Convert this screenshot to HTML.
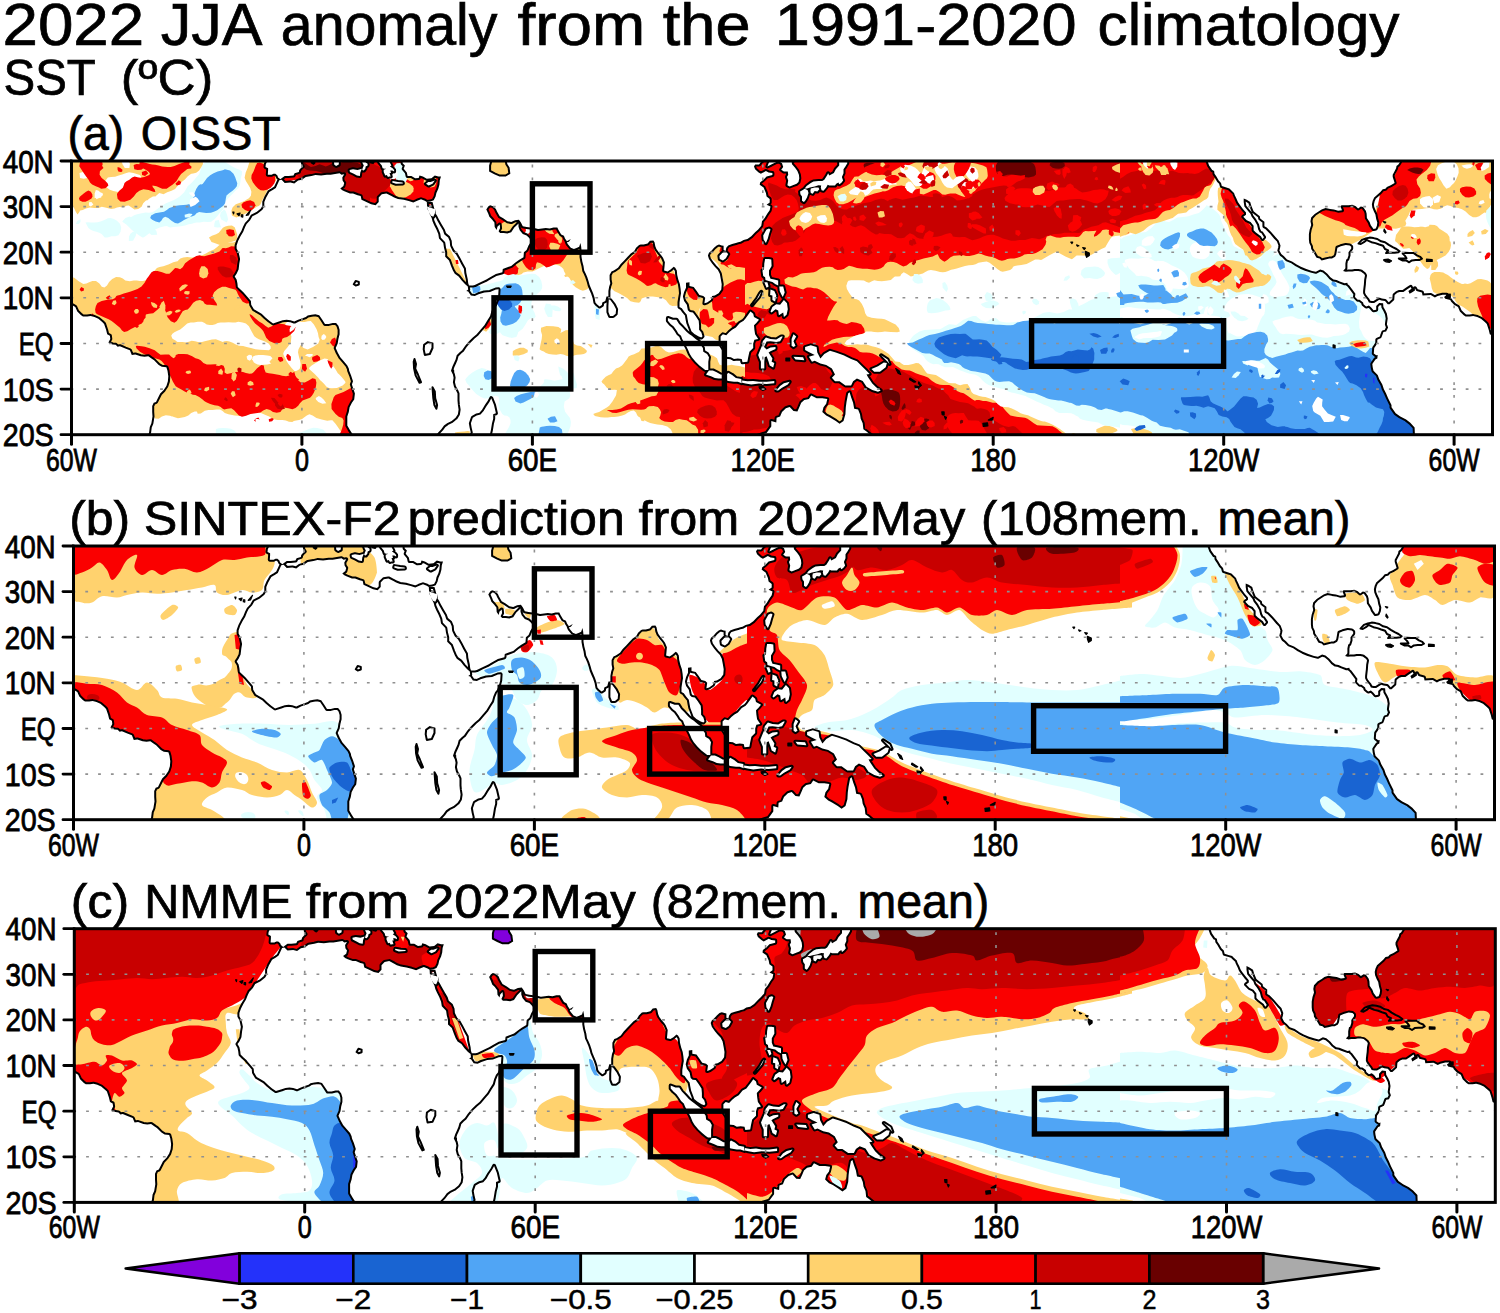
<!DOCTYPE html><html><head><meta charset="utf-8"><title>SST anomaly</title>
<style>html,body{margin:0;padding:0;background:#fff}svg{display:block}text{font-family:"Liberation Sans",sans-serif;fill:#000}</style></head><body>
<svg width="1500" height="1313" viewBox="0 0 1500 1313">
<rect width="1500" height="1313" fill="#fff"/>
<defs>
<clipPath id="cp"><rect x="0" y="0" width="1421.0" height="273.7"/></clipPath>
<path id="land" d="M-66.4,143.2L-64.5,143.2L-59.9,139.1L-59.5,134.1L-56.8,131.8L-54.5,130.9L-50.7,130.9L-46.9,128.2L-43.4,125.9L-42.6,127.7L-45.7,130.0L-44.6,132.7L-42.2,131.4L-39.2,129.6L-39.2,127.3L-37.6,130.0L-32.3,131.4L-31.5,134.6L-23.4,134.1L-19.2,136.4L-16.5,135.0L-11.5,133.7L-7.3,133.7L-10.0,135.9L-8.8,137.8L-3.8,139.1L-3.1,140.5L0.0,143.7L3.8,146.0L5.8,150.5L9.6,154.2L11.5,155.6L15.7,155.6L19.2,155.1L23.0,156.0L26.9,157.8L30.7,161.0L32.6,162.9L34.6,168.8L35.7,173.3L38.4,174.7L38.8,177.9L36.9,181.6L38.4,182.5L41.1,183.4L44.2,183.8L46.1,185.7L48.4,185.2L53.8,187.5L58.4,189.3L60.3,193.9L63.8,193.4L69.1,195.2L73.0,195.7L76.8,195.2L80.7,198.0L82.6,199.3L87.2,203.9L90.3,205.7L94.9,206.2L96.0,209.8L96.8,215.3L96.4,220.3L94.9,224.9L92.2,229.0L88.7,232.6L86.8,236.3L84.5,240.9L82.2,241.8L80.7,245.0L80.7,250.9L81.0,255.5L79.9,262.3L78.3,265.9L77.6,271.4L76.0,276.0L73.4,285.1L-39.2,285.1L-39.2,273.7L-39.6,266.4L-43.8,261.8L-48.0,258.6L-53.8,255.5L-58.4,252.3L-62.6,246.3L-62.6,244.0L-66.1,237.2L-68.0,232.6L-70.3,228.1L-71.8,223.5L-74.9,218.0L-76.4,213.9L-80.7,209.8L-81.4,206.2L-81.8,203.0L-78.7,198.4L-76.8,197.5L-76.4,193.9L-78.0,194.3L-80.3,192.5L-79.9,187.0L-78.3,184.7L-76.8,182.0L-76.8,178.8L-73.0,177.0L-72.2,175.2L-70.7,171.1L-68.0,170.6L-66.1,166.5L-67.2,163.3L-66.4,157.4L-67.2,152.8L-68.7,149.6L-70.7,146.0L-71.1,142.3L-74.9,141.9L-78.0,145.1L-78.0,148.7L-80.7,149.2L-83.0,146.4L-85.3,144.6L-87.9,145.5L-90.6,143.2L-91.0,141.4L-94.5,138.7L-96.4,138.7L-99.1,135.9L-98.7,132.7L-101.8,128.6L-104.8,124.5L-106.4,123.2L-106.8,121.8L-109.5,122.3L-114.4,120.4L-117.5,119.1L-120.6,118.6L-123.7,116.3L-126.7,112.7L-130.6,109.5L-134.0,108.6L-138.3,110.8L-142.1,109.9L-147.9,108.1L-153.2,105.8L-157.5,103.5L-162.1,100.4L-167.1,98.5L-170.1,95.3L-172.8,93.1L-174.7,89.4L-174.0,86.7L-173.6,84.4L-175.5,79.4L-178.2,76.6L-183.2,70.7L-187.4,66.6L-189.7,65.2L-189.7,60.7L-194.0,57.5L-194.3,55.2L-197.8,52.5L-200.5,50.2L-202.8,44.7L-203.9,41.1L-207.4,38.8L-210.5,37.4L-210.5,41.1L-209.7,45.6L-205.9,50.2L-203.6,52.9L-202.4,55.7L-199.7,59.3L-197.0,63.9L-195.9,68.4L-194.3,71.6L-192.8,72.1L-190.1,76.2L-191.6,78.0L-193.2,75.3L-198.6,71.2L-200.5,69.3L-200.5,64.8L-203.6,61.1L-207.4,59.3L-210.8,55.7L-208.2,53.8L-208.2,51.5L-211.2,47.9L-214.3,43.8L-216.2,41.1L-217.8,37.4L-219.3,34.2L-220.1,31.9L-223.9,28.3L-224.7,27.4L-227.7,26.5L-232.4,25.1L-233.1,21.9L-235.4,19.6L-237.7,15.5L-239.7,12.8L-240.0,10.0L-242.0,9.1L-245.0,4.6L-246.6,0.0L-247.0,-11.4L-38.4,-11.4L-41.1,-7.8L-44.2,-6.4L-48.0,-5.5L-53.4,-3.2L-53.8,-1.8L-54.2,0.9L-55.7,3.6L-57.6,5.0L-58.0,7.3L-59.9,10.9L-61.4,13.7L-61.4,16.0L-60.3,19.2L-59.5,21.9L-63.4,24.2L-67.2,26.0L-68.7,27.8L-71.4,28.3L-73.7,31.0L-76.8,33.8L-79.9,36.5L-81.4,39.7L-82.2,43.3L-81.8,46.5L-80.3,50.2L-78.7,53.4L-78.0,57.9L-76.8,61.6L-77.2,64.8L-78.3,67.5L-80.7,68.0L-83.3,64.3L-84.5,61.1L-87.2,57.0L-87.6,52.5L-88.3,49.7L-91.0,46.1L-93.3,45.6L-96.0,47.4L-98.3,45.2L-101.8,43.8L-105.6,44.2L-109.5,44.2L-112.5,44.2L-113.7,45.2L-112.1,49.3L-116.0,49.7L-120.2,48.4L-124.1,47.9L-128.7,47.0L-132.5,48.4L-135.2,50.2L-139.4,52.9L-142.9,56.6L-143.6,60.2L-142.9,63.9L-144.4,68.4L-145.2,73.0L-145.2,78.5L-144.8,82.1L-143.3,85.3L-142.9,88.0L-140.2,92.1L-138.6,94.9L-137.5,96.7L-134.4,97.6L-132.5,99.4L-128.7,98.5L-124.8,97.6L-122.1,97.6L-119.1,95.8L-117.9,93.5L-117.1,89.0L-116.8,86.7L-113.3,85.3L-108.3,83.9L-104.5,84.4L-102.9,85.8L-102.9,87.6L-105.6,91.2L-105.6,94.4L-106.8,98.1L-107.9,98.5L-108.7,102.6L-108.7,107.2L-111.0,109.9L-108.3,110.8L-105.6,110.4L-101.8,110.4L-99.1,109.9L-96.0,109.9L-93.3,110.4L-89.9,113.1L-89.1,114.5L-89.9,118.6L-90.3,123.2L-90.6,126.4L-91.0,130.0L-91.0,132.3L-89.9,134.6L-88.3,136.8L-86.4,139.1L-85.3,141.4L-82.6,141.9L-79.9,141.9L-76.8,140.0L-74.9,138.7L-72.6,139.6L-69.1,140.0L-66.8,142.8Z M1316.2,143.2L1318.1,143.2L1322.7,139.1L1323.1,134.1L1325.8,131.8L1328.1,130.9L1331.9,130.9L1335.8,128.2L1339.2,125.9L1340.0,127.7L1336.9,130.0L1338.1,132.7L1340.4,131.4L1343.4,129.6L1343.4,127.3L1345.0,130.0L1350.4,131.4L1351.1,134.6L1359.2,134.1L1363.4,136.4L1366.1,135.0L1371.1,133.7L1375.3,133.7L1372.6,135.9L1373.8,137.8L1378.8,139.1L1379.5,140.5L1382.6,143.7L1386.5,146.0L1388.4,150.5L1392.2,154.2L1394.1,155.6L1398.4,155.6L1401.8,155.1L1405.7,156.0L1409.5,157.8L1413.3,161.0L1415.3,162.9L1417.2,168.8L1418.3,173.3L1421.0,174.7L1421.4,177.9L1419.5,181.6L1421.0,182.5L1423.7,183.4L1426.8,183.8L1428.7,185.7L1431.0,185.2L1436.4,187.5L1441.0,189.3L1442.9,193.9L1446.4,193.4L1451.7,195.2L1455.6,195.7L1459.4,195.2L1463.3,198.0L1465.2,199.3L1469.8,203.9L1472.9,205.7L1477.5,206.2L1478.6,209.8L1479.4,215.3L1479.0,220.3L1477.5,224.9L1474.8,229.0L1471.3,232.6L1469.4,236.3L1467.1,240.9L1464.8,241.8L1463.3,245.0L1463.3,250.9L1463.7,255.5L1462.5,262.3L1461.0,265.9L1460.2,271.4L1458.7,276.0L1456.0,285.1L1343.4,285.1L1343.4,273.7L1343.1,266.4L1338.8,261.8L1334.6,258.6L1328.8,255.5L1324.2,252.3L1320.0,246.3L1320.0,244.0L1316.6,237.2L1314.6,232.6L1312.3,228.1L1310.8,223.5L1307.7,218.0L1306.2,213.9L1302.0,209.8L1301.2,206.2L1300.8,203.0L1303.9,198.4L1305.8,197.5L1306.2,193.9L1304.7,194.3L1302.3,192.5L1302.7,187.0L1304.3,184.7L1305.8,182.0L1305.8,178.8L1309.6,177.0L1310.4,175.2L1311.9,171.1L1314.6,170.6L1316.6,166.5L1315.4,163.3L1316.2,157.4L1315.4,152.8L1313.9,149.6L1311.9,146.0L1311.6,142.3L1307.7,141.9L1304.7,145.1L1304.7,148.7L1302.0,149.2L1299.7,146.4L1297.4,144.6L1294.7,145.5L1292.0,143.2L1291.6,141.4L1288.1,138.7L1286.2,138.7L1283.5,135.9L1283.9,132.7L1280.8,128.6L1277.8,124.5L1276.2,123.2L1275.8,121.8L1273.2,122.3L1268.2,120.4L1265.1,119.1L1262.0,118.6L1258.9,116.3L1255.9,112.7L1252.0,109.5L1248.6,108.6L1244.4,110.8L1240.5,109.9L1234.8,108.1L1229.4,105.8L1225.2,103.5L1220.5,100.4L1215.5,98.5L1212.5,95.3L1209.8,93.1L1207.9,89.4L1208.6,86.7L1209.0,84.4L1207.1,79.4L1204.4,76.6L1199.4,70.7L1195.2,66.6L1192.9,65.2L1192.9,60.7L1188.7,57.5L1188.3,55.2L1184.8,52.5L1182.1,50.2L1179.8,44.7L1178.7,41.1L1175.2,38.8L1172.2,37.4L1172.2,41.1L1172.9,45.6L1176.8,50.2L1179.1,52.9L1180.2,55.7L1182.9,59.3L1185.6,63.9L1186.7,68.4L1188.3,71.6L1189.8,72.1L1192.5,76.2L1191.0,78.0L1189.4,75.3L1184.1,71.2L1182.1,69.3L1182.1,64.8L1179.1,61.1L1175.2,59.3L1171.8,55.7L1174.5,53.8L1174.5,51.5L1171.4,47.9L1168.3,43.8L1166.4,41.1L1164.9,37.4L1163.3,34.2L1162.5,31.9L1158.7,28.3L1157.9,27.4L1154.9,26.5L1150.3,25.1L1149.5,21.9L1147.2,19.6L1144.9,15.5L1143.0,12.8L1142.6,10.0L1140.7,9.1L1137.6,4.6L1136.0,0.0L1135.7,-11.4L1344.2,-11.4L1341.5,-7.8L1338.4,-6.4L1334.6,-5.5L1329.2,-3.2L1328.8,-1.8L1328.5,0.9L1326.9,3.6L1325.0,5.0L1324.6,7.3L1322.7,10.9L1321.2,13.7L1321.2,16.0L1322.3,19.2L1323.1,21.9L1319.2,24.2L1315.4,26.0L1313.9,27.8L1311.2,28.3L1308.9,31.0L1305.8,33.8L1302.7,36.5L1301.2,39.7L1300.4,43.3L1300.8,46.5L1302.3,50.2L1303.9,53.4L1304.7,57.9L1305.8,61.6L1305.4,64.8L1304.3,67.5L1302.0,68.0L1299.3,64.3L1298.1,61.1L1295.4,57.0L1295.1,52.5L1294.3,49.7L1291.6,46.1L1289.3,45.6L1286.6,47.4L1284.3,45.2L1280.8,43.8L1277.0,44.2L1273.2,44.2L1270.1,44.2L1268.9,45.2L1270.5,49.3L1266.6,49.7L1262.4,48.4L1258.6,47.9L1254.0,47.0L1250.1,48.4L1247.4,50.2L1243.2,52.9L1239.7,56.6L1239.0,60.2L1239.7,63.9L1238.2,68.4L1237.4,73.0L1237.4,78.5L1237.8,82.1L1239.4,85.3L1239.7,88.0L1242.4,92.1L1244.0,94.9L1245.1,96.7L1248.2,97.6L1250.1,99.4L1254.0,98.5L1257.8,97.6L1260.5,97.6L1263.6,95.8L1264.7,93.5L1265.5,89.0L1265.9,86.7L1269.3,85.3L1274.3,83.9L1278.2,84.4L1279.7,85.8L1279.7,87.6L1277.0,91.2L1277.0,94.4L1275.8,98.1L1274.7,98.5L1273.9,102.6L1273.9,107.2L1271.6,109.9L1274.3,110.8L1277.0,110.4L1280.8,110.4L1283.5,109.9L1286.6,109.9L1289.3,110.4L1292.7,113.1L1293.5,114.5L1292.7,118.6L1292.4,123.2L1292.0,126.4L1291.6,130.0L1291.6,132.3L1292.7,134.6L1294.3,136.8L1296.2,139.1L1297.4,141.4L1300.0,141.9L1302.7,141.9L1305.8,140.0L1307.7,138.7L1310.0,139.6L1313.5,140.0L1315.8,142.8Z M207.8,19.2L210.1,18.7L213.2,21.9L218.9,21.4L222.8,22.4L226.6,19.6L230.4,18.7L234.3,16.0L240.0,15.1L243.9,14.1L249.6,14.6L255.4,13.7L259.2,13.7L265.0,12.8L268.1,12.3L270.0,13.7L272.7,13.2L270.8,16.4L271.1,19.6L272.7,21.9L271.9,25.1L268.8,27.4L270.8,29.2L273.5,30.6L278.4,32.4L281.5,32.4L286.1,34.2L289.2,35.1L290.0,38.8L293.8,40.6L299.6,43.3L304.2,44.2L307.2,41.1L307.2,36.5L310.3,33.3L314.9,32.4L319.5,34.7L322.6,36.5L326.5,37.9L332.2,38.8L337.2,40.1L341.8,41.5L345.7,39.7L349.5,38.3L353.3,39.7L355.3,41.1L361.0,41.1L362.9,47.9L355.6,45.6L356.0,47.9L357.9,52.5L360.2,57.0L361.0,60.2L362.6,63.9L364.9,68.4L366.8,73.0L367.5,77.5L371.8,82.1L372.5,86.7L373.7,91.2L373.7,95.8L377.5,99.4L379.5,104.9L381.4,109.5L383.3,112.7L387.1,115.4L390.2,119.5L393.7,123.2L396.3,125.4L396.7,128.6L394.8,130.0L396.7,130.5L399.4,134.6L403.3,135.0L407.1,133.2L412.9,131.4L418.6,130.9L424.4,128.6L427.1,128.2L426.7,134.6L425.5,139.1L423.6,143.7L421.7,146.0L419.8,150.5L418.6,155.1L415.6,159.7L412.9,164.2L409.0,168.8L405.2,173.3L401.3,176.5L397.5,180.2L393.7,184.7L390.6,189.3L387.9,191.6L385.2,194.3L384.1,198.4L382.5,202.1L381.0,205.3L379.5,209.8L381.4,213.5L382.1,216.7L381.4,221.2L382.5,225.8L384.8,229.9L386.0,232.6L386.0,239.5L386.4,244.0L387.1,248.6L386.4,253.2L384.1,256.8L380.2,260.0L375.6,262.3L372.5,264.6L369.8,268.2L366.0,272.3L364.1,276.0L364.9,285.1L280.4,285.1L282.3,278.3L281.5,273.7L278.4,269.1L275.8,264.6L275.8,260.0L275.8,255.5L277.3,250.9L278.1,246.3L280.4,241.8L282.7,238.6L283.4,232.6L281.9,228.1L280.4,223.5L281.5,220.3L279.6,214.4L277.7,209.8L277.3,207.6L275.8,204.4L272.7,200.7L268.8,196.2L266.2,191.6L264.2,187.0L266.2,182.5L266.9,177.9L268.1,173.3L268.1,168.8L266.9,164.7L264.6,161.9L261.2,161.9L257.3,162.9L253.5,162.9L250.8,158.7L247.7,154.2L243.9,153.3L240.0,153.7L236.2,154.6L234.3,156.0L230.4,157.4L226.6,158.7L222.8,160.6L218.9,159.2L215.1,158.7L211.2,159.2L207.4,160.6L201.6,162.4L197.8,159.7L194.0,156.5L190.1,152.8L186.3,150.5L182.4,148.3L179.7,143.7L179.4,140.0L176.7,136.8L173.6,133.2L172.1,131.4L169.0,128.6L166.3,125.9L165.9,122.3L165.1,118.6L163.2,115.4L165.1,112.7L167.1,108.6L167.8,102.6L168.6,98.1L167.8,94.4L167.1,91.2L165.1,87.6L165.1,84.4L166.7,79.8L169.0,75.3L171.7,70.7L173.6,66.1L175.1,63.0L178.6,59.3L180.9,55.2L186.3,52.5L190.9,48.8L192.8,45.6L192.8,41.1L194.7,36.5L197.8,31.0L201.6,28.7L204.3,26.9L206.2,22.8Z M355.6,45.6L357.2,51.1L359.5,54.7L361.8,55.7L363.3,52.5L364.5,47.9L364.1,52.5L365.6,54.7L367.2,57.9L370.6,63.9L373.3,68.4L374.5,72.1L378.3,75.3L380.2,79.8L380.6,84.4L382.9,89.0L386.0,92.1L388.7,96.7L391.7,102.6L394.4,107.2L394.8,111.8L396.3,118.6L396.7,122.3L397.5,124.5L401.3,124.5L403.3,124.1L409.0,121.3L414.8,118.6L418.6,116.3L424.4,113.1L430.9,111.3L431.3,108.1L435.9,106.3L439.7,104.9L443.6,101.7L447.4,99.0L452.0,96.3L452.4,91.2L455.1,89.0L457.0,84.4L460.1,79.8L457.0,76.2L455.1,74.4L451.3,73.0L448.2,69.3L447.0,65.7L447.0,62.5L445.5,63.9L442.8,66.6L439.7,71.2L435.9,72.5L432.1,72.1L428.6,72.1L427.1,70.2L428.6,67.1L428.2,63.4L425.9,65.7L425.2,68.9L423.2,66.1L422.9,61.6L420.5,58.4L417.9,55.7L416.7,52.5L414.8,48.4L416.7,45.6L418.6,44.2L421.7,45.2L424.4,47.9L425.5,50.6L428.2,55.2L432.1,57.5L435.9,60.2L439.7,61.1L443.6,59.3L447.4,58.8L449.4,61.6L451.3,65.2L455.1,66.1L459.0,66.6L462.8,67.1L466.6,68.0L470.5,67.5L474.3,67.1L478.2,67.5L482.0,66.6L485.8,66.6L487.0,68.9L489.7,73.4L492.4,74.8L493.5,77.5L495.4,80.3L499.3,78.0L497.4,80.7L495.4,81.2L496.2,83.0L499.3,86.7L502.4,88.0L505.0,87.1L507.7,85.8L508.9,82.1L509.6,85.3L510.0,89.0L510.0,93.5L510.0,95.8L510.8,100.4L512.0,104.9L512.7,109.5L514.3,112.7L515.8,116.3L517.3,120.9L518.1,124.1L520.0,128.6L521.6,132.3L523.1,136.8L523.9,141.4L525.4,143.2L528.1,145.5L530.4,144.1L530.8,141.4L533.8,140.0L535.0,135.5L536.9,135.5L536.9,130.0L537.7,125.4L538.8,122.3L538.1,118.6L538.1,114.0L540.0,110.4L542.3,109.5L546.5,106.7L549.2,103.1L552.7,99.4L556.1,95.8L559.2,92.6L562.6,90.3L564.6,86.7L567.6,83.9L569.2,83.5L572.2,83.5L576.1,82.6L578.4,79.8L581.9,79.4L583.0,81.2L583.8,85.3L584.9,88.0L587.2,91.2L589.9,94.4L591.5,96.7L593.4,101.3L593.0,105.8L592.6,109.5L596.1,110.4L599.1,108.6L602.2,105.8L603.7,106.7L605.3,109.5L605.7,114.0L606.8,118.6L608.4,123.2L609.1,127.7L609.5,132.3L608.7,136.8L608.0,141.4L608.0,146.0L610.3,147.3L612.6,150.5L615.3,153.7L616.0,157.8L616.8,161.9L619.1,167.9L619.9,170.2L622.9,172.9L627.2,175.6L629.9,176.5L631.0,175.2L629.9,171.5L627.6,168.8L627.6,164.2L627.2,159.7L624.1,155.1L621.4,151.4L618.3,151.0L616.4,149.2L615.3,143.7L612.6,140.0L611.4,135.5L612.6,130.9L614.5,126.8L614.5,121.8L618.0,121.3L618.0,125.0L622.2,125.9L625.2,130.0L627.9,134.1L631.8,135.0L633.7,136.8L632.9,142.3L635.6,141.4L639.5,138.7L640.6,135.0L643.3,134.6L647.1,132.3L649.8,128.6L650.2,123.2L649.4,118.6L648.3,112.7L646.4,109.0L643.3,105.8L640.6,102.6L637.5,98.1L636.4,94.4L637.5,91.7L640.2,89.4L642.5,86.7L645.2,84.4L647.5,83.5L650.2,84.4L652.1,84.8L652.1,89.0L654.1,89.9L654.8,86.7L656.7,84.4L660.6,83.0L664.4,82.1L666.7,81.2L669.0,80.7L672.1,78.9L675.9,78.0L679.8,75.3L683.6,71.2L686.7,68.4L689.8,64.8L690.5,60.2L693.2,57.0L695.9,52.5L698.2,49.3L699.0,45.6L695.1,43.8L698.2,41.5L698.2,37.9L695.1,35.6L694.4,31.9L692.1,26.5L688.2,23.7L688.6,21.4L692.5,18.2L695.1,15.5L700.9,14.1L700.9,11.9L697.1,11.4L694.4,10.0L689.4,12.8L687.1,11.4L683.6,8.2L682.5,5.5L683.6,3.6L687.5,3.6L689.8,0.5L693.2,-1.8L695.9,-4.1L699.8,-2.7L697.1,2.3L695.9,5.5L699.8,3.6L704.8,0.9L707.8,0.5L710.5,2.3L711.7,5.9L709.7,8.7L712.4,10.5L716.3,10.5L716.7,13.7L715.5,16.0L716.7,19.6L715.9,24.2L718.2,25.5L721.3,24.2L725.1,22.8L727.0,21.0L727.8,17.3L727.4,13.7L725.9,10.0L723.6,6.8L720.5,3.2L720.1,0.5L724.0,-1.4L727.8,-3.6L728.9,-11.4L332.2,-11.4L331.1,0.0L331.1,2.3L333.4,4.6L332.2,7.8L335.3,11.4L336.1,15.1L339.9,15.1L343.7,17.3L347.2,16.9L348.0,14.6L351.4,15.5L355.3,17.8L359.9,17.3L363.3,14.6L366.8,15.5L369.5,15.5L368.3,19.2L367.9,23.7L366.8,27.8L364.9,31.9L364.1,35.6L362.2,39.2L359.1,40.6L355.3,41.1Z M317.6,-2.3L318.4,1.8L319.9,4.6L318.4,5.5L321.1,7.3L322.6,9.1L322.6,10.5L320.7,9.6L318.8,9.6L319.5,11.9L318.0,11.9L319.2,15.5L317.6,15.5L316.5,16.0L315.3,14.1L313.8,14.6L312.2,10.9L312.2,8.7L314.9,7.8L313.0,7.8L311.1,7.3L310.3,4.6L308.0,1.8L306.5,-0.9L304.9,-2.7L304.9,-11.4L317.6,-11.4Z M290.3,-0.5L291.1,2.3L292.3,4.6L291.1,7.3L290.7,9.1L292.3,9.6L293.8,7.8L294.2,5.5L296.1,4.6L296.1,2.7L294.2,1.4L294.2,-0.5L295.7,-2.3L299.2,-0.9L299.6,0.5L301.1,0.9L301.5,-0.9L299.6,-3.2L295.7,-5.0L291.9,-11.4L284.2,-11.4L287.3,-2.7L288.0,-0.9Z M278.1,9.1L281.5,8.2L286.1,9.1L290.3,7.8L288.8,11.4L288.4,15.1L285.4,14.6L282.3,12.8L278.4,10.9Z M261.9,-11.4L262.7,3.6L264.6,5.0L267.3,3.6L267.7,-11.4Z M354.5,22.8L357.2,24.6L361.0,22.8L363.3,19.6L359.1,21.0L356.8,21.0Z M320.7,21.4L324.5,22.8L331.4,22.4L331.1,21.4L326.5,21.0L321.1,20.1Z M194.0,-11.4L196.3,-0.9L194.3,3.2L194.0,5.9L196.6,7.3L196.6,9.6L196.3,13.7L200.1,13.7L202.0,12.8L203.9,12.8L205.9,14.6L206.6,16.4L208.9,18.2L210.1,17.3L213.2,15.1L217.0,15.1L222.0,14.6L223.1,12.3L227.4,10.9L227.7,9.1L229.7,6.8L231.2,5.5L229.7,3.2L229.3,0.9L231.2,-1.4L233.5,-3.6L234.3,-11.4Z M647.9,94.9L651.0,91.7L654.8,91.2L656.7,93.1L654.4,97.2L651.4,99.4L648.3,98.1Z M695.1,68.4L697.5,67.5L699.0,68.4L697.5,73.0L696.3,77.5L694.4,82.1L692.1,78.5L691.7,74.4L694.0,70.2Z M537.3,138.2L538.8,139.1L542.3,143.7L544.6,148.3L544.2,152.8L541.5,155.1L538.5,155.1L536.9,151.0L536.9,145.1Z M767.7,0.0L767.7,4.6L764.3,8.2L762.4,11.9L757.8,14.6L756.6,12.3L755.8,14.1L752.8,18.7L750.8,20.1L747.0,20.1L742.0,20.5L739.3,21.9L735.1,25.1L733.2,27.4L735.5,27.4L738.5,26.5L743.2,25.5L747.0,24.2L749.7,24.6L749.3,26.5L750.1,29.2L752.0,29.7L754.7,26.5L756.2,23.7L757.8,24.6L761.2,24.6L763.5,24.6L764.7,22.8L767.0,21.4L767.7,23.3L769.7,21.9L771.6,19.6L770.4,16.0L772.0,12.3L772.0,8.2L773.9,5.5L775.8,2.3L775.0,-11.4L767.4,-11.4Z M733.2,27.8L736.2,29.2L737.0,31.9L735.5,36.5L733.6,39.7L732.4,41.1L730.5,39.7L730.5,35.6L728.9,33.3L728.6,30.6L730.9,29.2Z M739.3,27.4L743.2,26.5L747.0,26.5L747.8,28.3L745.8,30.6L743.2,30.1L741.2,32.8L739.3,31.9L738.9,29.7Z M693.6,98.1L697.1,98.1L699.8,98.5L700.1,104.9L697.5,109.5L697.5,114.0L699.0,117.7L702.8,118.6L706.7,119.5L706.7,124.5L704.0,123.2L700.9,120.9L697.1,120.0L694.0,119.1L693.6,116.3L691.7,115.0L690.9,109.5L692.5,108.6L692.8,102.6Z M699.0,150.5L700.9,146.0L704.8,143.2L708.6,143.7L712.4,139.1L715.5,142.3L716.3,148.3L715.1,153.7L712.4,156.0L711.7,151.4L707.4,154.2L706.7,149.6L704.0,148.3L700.1,151.4Z M707.8,125.4L711.7,125.4L713.2,131.4L711.3,135.9L709.7,133.2L708.2,130.0Z M699.0,128.6L702.8,130.0L704.8,134.6L703.6,140.5L700.9,139.1L700.9,134.6L698.6,134.1Z M692.8,121.3L695.9,121.3L697.1,125.4L695.1,126.8Z M680.6,144.1L683.6,140.5L687.5,135.9L689.8,130.9L688.6,132.3L685.5,137.8L681.7,142.8Z M649.1,175.6L651.4,173.3L654.8,174.3L657.9,171.1L660.6,168.8L664.4,166.5L668.3,161.9L672.1,159.7L674.0,157.4L676.7,153.7L679.0,150.5L681.7,152.8L682.5,156.0L687.5,158.7L684.8,161.9L682.5,164.2L682.9,168.8L683.6,173.3L686.7,177.9L682.9,178.8L681.7,182.5L681.7,187.0L677.9,190.7L676.7,196.2L675.9,200.7L671.0,201.2L670.2,198.0L666.3,197.5L662.5,198.0L659.4,196.2L654.1,195.7L652.9,189.3L649.8,184.7L649.1,180.2Z M596.4,156.9L601.1,158.7L604.9,158.7L607.6,162.9L610.7,166.0L614.5,170.2L617.6,172.9L620.3,174.7L624.1,177.9L627.2,180.2L629.1,183.8L631.4,187.0L631.8,190.7L635.6,193.0L637.5,196.2L636.8,200.7L636.8,205.3L636.8,208.9L633.7,208.9L631.8,207.6L627.9,204.4L624.1,200.7L620.3,196.2L618.3,193.0L616.4,188.4L614.5,184.7L612.6,181.6L610.7,177.9L609.5,174.7L606.8,172.4L604.9,169.2L602.2,165.6L599.1,162.9L596.4,159.7Z M634.5,213.5L637.5,209.4L641.4,209.4L645.2,211.2L649.1,213.5L654.8,213.9L656.7,211.7L660.6,213.9L664.4,217.1L669.8,218.0L670.2,222.2L666.3,220.8L662.5,220.8L656.7,219.9L651.0,217.6L647.1,217.6L643.3,217.1L639.5,215.3L635.6,213.9Z M670.6,219.4L675.9,220.3L681.7,219.9L687.5,220.8L695.1,220.8L702.8,219.9L702.8,222.2L695.1,223.1L687.5,222.6L679.8,223.5L674.0,222.6L670.6,221.7Z M704.8,229.5L708.6,224.9L712.4,222.2L718.2,220.8L716.3,223.5L710.5,226.7L706.7,229.5Z M689.4,207.6L689.4,200.7L687.5,196.2L686.7,193.9L688.6,189.3L690.5,184.7L691.3,180.2L694.4,176.5L699.0,177.9L704.8,178.4L709.7,175.6L711.3,175.6L708.6,180.2L704.8,181.1L699.0,180.2L695.1,180.6L692.5,186.1L695.1,188.4L699.0,186.6L704.0,186.1L704.0,187.9L699.0,190.2L697.1,191.6L700.9,197.5L700.1,200.7L702.8,202.1L701.7,206.6L698.2,204.4L697.1,200.7L695.1,195.2L693.2,196.2L692.8,200.7L692.8,207.6Z M720.1,184.7L720.1,177.9L722.0,173.3L724.7,175.6L722.0,180.2L724.0,184.7L722.0,186.1Z M722.0,195.7L731.6,196.2L732.8,199.3L724.0,198.4Z M733.6,186.1L739.3,184.3L745.1,186.1L745.8,191.6L748.9,197.5L752.8,193.0L758.5,189.8L764.3,191.6L772.0,194.3L779.6,198.0L785.4,200.3L790.4,205.3L795.0,209.8L798.1,213.0L795.0,213.5L796.9,216.7L800.8,222.6L804.6,226.3L809.2,229.5L806.5,230.8L800.8,229.0L795.0,225.8L791.2,219.9L785.4,217.6L781.6,220.3L779.6,224.4L773.9,224.4L768.1,220.3L763.5,220.3L760.4,216.7L763.5,213.5L760.4,207.6L754.7,203.9L748.9,202.5L743.2,199.8L740.5,200.7L737.4,195.7L743.2,193.9L738.2,191.6L733.6,188.9Z M800.0,208.0L806.5,205.3L812.3,201.6L815.4,202.1L814.2,206.2L808.4,210.7L802.7,210.7Z M809.6,194.3L816.1,198.4L818.0,203.0L816.1,200.7Z M683.6,285.1L685.5,275.1L689.4,273.7L695.1,271.9L699.8,265.5L699.8,260.0L704.8,261.4L705.1,256.8L708.6,255.5L710.5,250.9L714.4,247.2L718.2,245.9L722.0,250.0L725.9,250.4L727.8,246.3L729.7,241.8L732.8,239.0L737.4,238.1L739.7,234.5L745.1,237.2L750.8,237.2L755.8,238.1L754.7,242.7L752.0,246.3L750.8,250.9L754.7,254.5L758.5,256.4L764.3,260.0L768.1,262.8L772.0,260.0L773.9,253.2L774.3,246.3L775.0,240.9L776.6,232.6L778.1,231.3L779.6,236.3L781.6,241.8L782.7,247.7L786.6,248.6L788.5,253.2L789.2,257.7L791.2,262.3L791.9,268.2L795.0,270.5L798.8,273.7L801.9,276.0L804.6,285.1Z M419.8,237.2L422.5,244.0L424.4,252.3L421.7,253.2L421.7,257.7L420.5,262.3L419.4,269.1L417.9,276.0L415.9,285.1L397.5,285.1L399.4,276.0L401.3,271.4L400.2,266.9L399.4,262.3L401.3,256.8L405.2,254.5L409.0,253.6L412.1,250.0L414.8,245.4L417.9,240.9Z"/>
<path id="lakes" d="M282.3,123.2L284.2,120.0L287.3,120.9L287.3,123.6L284.2,124.5Z M352.6,183.8L356.4,181.1L361.0,182.5L361.0,187.0L358.3,193.0L353.3,193.9L352.2,188.4Z M343.0,198.0L344.5,203.0L343.7,207.6L346.4,213.5L349.5,221.2L348.0,221.7L344.1,214.4L342.6,207.6L342.2,200.7Z M361.0,226.3L363.3,230.4L363.7,237.2L365.6,244.0L364.9,247.7L362.9,244.0L361.8,237.2L361.4,231.7Z M-55.3,97.6L-51.8,99.4L-48.0,99.4L-44.9,101.3L-42.2,99.4L-38.4,99.0L-34.6,99.0L-32.3,97.6L-33.8,95.8L-37.3,94.4L-40.3,92.1L-44.9,92.1L-49.2,91.7L-51.5,92.6L-49.2,94.9L-47.6,97.2L-51.8,97.6Z M1327.3,97.6L1330.8,99.4L1334.6,99.4L1337.7,101.3L1340.4,99.4L1344.2,99.0L1348.1,99.0L1350.4,97.6L1348.8,95.8L1345.4,94.4L1342.3,92.1L1337.7,92.1L1333.5,91.7L1331.2,92.6L1333.5,94.9L1335.0,97.2L1330.8,97.6Z M-95.6,82.6L-92.2,78.9L-88.3,77.5L-84.5,76.6L-80.7,77.1L-76.8,78.0L-73.0,80.3L-69.1,81.2L-65.3,83.9L-61.4,86.2L-57.6,88.0L-54.5,90.3L-55.7,91.2L-59.5,91.7L-65.3,91.7L-68.0,92.1L-66.1,89.4L-69.1,88.0L-71.1,84.8L-74.9,83.5L-78.7,82.1L-82.6,81.2L-84.5,80.3L-87.6,78.9L-90.3,81.2L-93.3,83.0Z M1287.0,82.6L1290.4,78.9L1294.3,77.5L1298.1,76.6L1302.0,77.1L1305.8,78.0L1309.6,80.3L1313.5,81.2L1317.3,83.9L1321.2,86.2L1325.0,88.0L1328.1,90.3L1326.9,91.2L1323.1,91.7L1317.3,91.7L1314.6,92.1L1316.6,89.4L1313.5,88.0L1311.6,84.8L1307.7,83.5L1303.9,82.1L1300.0,81.2L1298.1,80.3L1295.1,78.9L1292.4,81.2L1289.3,83.0Z"/>
<path id="small" d="M1312.3,98.5L1316.6,98.1L1320.0,99.9L1318.1,101.3L1314.3,100.8L1312.3,99.4Z M1355.0,98.1L1360.7,98.5L1360.7,100.4L1355.0,100.4Z M1375.3,133.7L1378.8,133.2L1378.8,136.4L1375.3,136.4Z M239.7,1.8L242.3,0.5L243.5,1.8L242.0,3.2Z M687.5,225.8L691.3,225.3L694.4,228.1L691.3,229.5L688.2,227.6Z M714.4,197.1L718.2,197.1L718.2,199.8L714.4,199.8Z M435.1,125.0L439.7,125.0L439.0,126.4L435.9,126.4Z M165.5,52.9L168.6,52.0L167.5,54.7Z M169.8,53.8L171.3,53.8L171.3,56.1L169.8,55.7Z M174.7,54.3L177.4,51.1L179.0,49.3L177.1,53.8Z M161.3,51.1L162.5,51.1L162.1,52.9Z M1013.9,90.3L1017.8,92.1L1017.8,94.4L1015.1,96.3L1013.9,93.1Z M1011.2,86.7L1013.9,87.1L1012.8,88.5Z M1005.1,83.9L1007.4,84.8L1005.9,85.3Z M999.3,81.2L1001.2,81.2L1000.5,82.6Z M911.4,262.3L916.0,261.8L916.4,265.0L911.8,265.5Z M916.8,259.1L921.7,256.4L921.0,259.1Z M870.3,250.9L872.6,250.9L872.6,254.1L870.7,253.6Z M873.0,255.5L874.9,256.4L874.1,258.2Z M843.4,224.9L848.0,225.8L846.9,227.6L843.8,226.7Z M847.2,220.8L849.9,224.4L848.8,225.3L846.9,222.2Z M824.2,207.6L827.6,209.8L829.2,213.5L826.5,212.1Z M838.4,217.1L844.2,220.8L842.6,221.2L838.0,218.5Z M1261.6,183.8L1263.6,184.3L1263.6,187.0L1261.6,186.6Z M860.3,274.2L866.1,278.3L869.9,282.8L868.0,282.8L862.2,278.3Z M381.0,208.9L382.1,209.4L382.1,211.7L381.4,211.2Z M1311.9,60.7L1314.3,61.1L1313.5,62.0Z M1312.7,68.0L1314.6,71.2L1313.9,72.1L1312.3,70.2Z"/>
<g id="grid" fill="none" stroke="#909090" stroke-width="1.6" stroke-dasharray="2.8,10"><path d="M0,45.6H1421.0 M0,91.2H1421.0 M0,136.8H1421.0 M0,182.5H1421.0 M0,228.1H1421.0" stroke-dashoffset="1.0"/><path d="M230.4,0V273.7 M460.9,0V273.7 M691.3,0V273.7 M921.7,0V273.7 M1152.2,0V273.7 M1382.6,0V273.7" stroke-dashoffset="9.2"/></g>
</defs>
<text x="2.5" y="45.0" font-size="59.0" textLength="141.7" lengthAdjust="spacingAndGlyphs" stroke="#000" stroke-width="0.7">2022</text>
<text x="160.8" y="45.0" font-size="59.0" textLength="101.7" lengthAdjust="spacingAndGlyphs" stroke="#000" stroke-width="0.7">JJA</text>
<text x="280.8" y="45.0" font-size="59.0" textLength="216.7" lengthAdjust="spacingAndGlyphs" stroke="#000" stroke-width="0.7">anomaly</text>
<text x="517.5" y="45.0" font-size="59.0" textLength="127.7" lengthAdjust="spacingAndGlyphs" stroke="#000" stroke-width="0.7">from</text>
<text x="662.8" y="45.0" font-size="59.0" textLength="87.7" lengthAdjust="spacingAndGlyphs" stroke="#000" stroke-width="0.7">the</text>
<text x="774.8" y="45.0" font-size="59.0" textLength="301.7" lengthAdjust="spacingAndGlyphs" stroke="#000" stroke-width="0.7">1991-2020</text>
<text x="1097.5" y="45.0" font-size="59.0" textLength="302.0" lengthAdjust="spacingAndGlyphs" stroke="#000" stroke-width="0.7">climatology</text>
<text x="3.5" y="95.0" font-size="50.0" textLength="92.3" lengthAdjust="spacingAndGlyphs" stroke="#000" stroke-width="0.7">SST</text>
<text x="120.8" y="95.0" font-size="50.0" textLength="92.4" lengthAdjust="spacingAndGlyphs" stroke="#000" stroke-width="0.7">(ºC)</text>
<text x="67.5" y="150.0" font-size="48.0" textLength="56.7" lengthAdjust="spacingAndGlyphs" stroke="#000" stroke-width="0.7">(a)</text>
<text x="140.8" y="150.0" font-size="48.0" textLength="140.0" lengthAdjust="spacingAndGlyphs" stroke="#000" stroke-width="0.7">OISST</text>
<text x="69.2" y="535.0" font-size="48.0" textLength="61.0" lengthAdjust="spacingAndGlyphs" stroke="#000" stroke-width="0.7">(b)</text>
<text x="143.8" y="535.0" font-size="48.0" textLength="257.0" lengthAdjust="spacingAndGlyphs" stroke="#000" stroke-width="0.7">SINTEX-F2</text>
<text x="407.5" y="535.0" font-size="48.0" textLength="217.3" lengthAdjust="spacingAndGlyphs" stroke="#000" stroke-width="0.7">prediction</text>
<text x="638.5" y="535.0" font-size="48.0" textLength="100.7" lengthAdjust="spacingAndGlyphs" stroke="#000" stroke-width="0.7">from</text>
<text x="757.2" y="535.0" font-size="48.0" textLength="208.0" lengthAdjust="spacingAndGlyphs" stroke="#000" stroke-width="0.7">2022May</text>
<text x="981.1" y="535.0" font-size="48.0" textLength="220.4" lengthAdjust="spacingAndGlyphs" stroke="#000" stroke-width="0.7">(108mem.</text>
<text x="1217.5" y="535.0" font-size="48.0" textLength="133.0" lengthAdjust="spacingAndGlyphs" stroke="#000" stroke-width="0.7">mean)</text>
<text x="70.8" y="918.0" font-size="48.0" textLength="58.4" lengthAdjust="spacingAndGlyphs" stroke="#000" stroke-width="0.7">(c)</text>
<text x="144.2" y="918.0" font-size="48.0" textLength="148.3" lengthAdjust="spacingAndGlyphs" stroke="#000" stroke-width="0.7">NMME</text>
<text x="305.8" y="918.0" font-size="48.0" textLength="103.4" lengthAdjust="spacingAndGlyphs" stroke="#000" stroke-width="0.7">from</text>
<text x="425.8" y="918.0" font-size="48.0" textLength="210.0" lengthAdjust="spacingAndGlyphs" stroke="#000" stroke-width="0.7">2022May</text>
<text x="650.8" y="918.0" font-size="48.0" textLength="190.0" lengthAdjust="spacingAndGlyphs" stroke="#000" stroke-width="0.7">(82mem.</text>
<text x="857.5" y="918.0" font-size="48.0" textLength="131.7" lengthAdjust="spacingAndGlyphs" stroke="#000" stroke-width="0.7">mean)</text>
<g transform="translate(71.5,161.0)">
<g clip-path="url(#cp)">
<g transform="translate(-71.5,-161.0)">
<path d="M206.1,162.1L209.0,161.3L211.9,161.2L215.5,160.2L219.1,159.0L222.4,160.2L225.9,162.5L229.8,164.9L234.1,167.4L236.2,168.4L237.4,169.0L239.6,169.8L242.0,171.3L241.9,174.5L240.7,178.3L240.4,182.0L239.8,185.3L238.0,188.4L235.7,190.5L233.3,192.9L230.9,195.6L228.3,198.3L225.7,201.2L224.6,203.0L224.4,205.8L223.6,208.8L219.7,213.1L217.3,216.2L214.5,219.2L212.4,220.8L211.2,221.7L207.9,221.9L203.7,221.8L199.8,222.6L196.5,222.6L194.1,222.9L191.9,223.7L188.8,224.3L185.1,225.5L180.9,226.2L176.4,226.7L173.4,227.1L170.4,227.5L168.7,227.0L167.0,226.1L164.4,226.3L159.7,227.4L153.5,230.2L149.0,233.5L146.1,235.8L143.9,237.2L142.6,237.5L142.0,237.2L139.6,235.7L136.1,233.2L131.9,229.9L127.6,225.7L124.9,223.0L123.0,222.0L123.6,220.2L127.2,218.7L131.7,216.7L134.2,215.3L137.1,214.3L141.7,213.2L145.8,212.6L148.9,212.7L152.2,212.2L154.7,210.9L157.2,209.0L161.5,206.1L165.5,203.6L170.3,201.5L173.9,199.9L176.6,198.6L179.4,196.8L181.9,194.6L184.2,192.2L186.1,189.0L187.8,186.0L189.8,184.5L191.9,182.5L194.6,179.4L196.6,177.1L197.8,175.7L199.2,173.9L200.5,170.3L201.7,166.2L203.5,163.7Z" fill="#E1FFFF"/>
<path d="M85.5,222.5L87.7,222.2L90.9,222.4L94.3,222.4L97.6,222.2L101.3,221.2L105.5,219.5L107.8,218.3L110.6,218.1L113.9,218.9L116.9,220.8L120.0,223.8L121.2,227.5L120.6,231.8L118.5,235.3L115.2,236.2L111.5,236.2L107.4,237.4L104.7,237.6L103.2,235.8L101.6,234.0L99.3,232.8L96.4,231.8L93.5,231.0L91.1,230.0L88.4,228.1Z" fill="#E1FFFF"/>
<path d="M215.9,429.1L218.8,428.2L223.1,428.0L227.5,428.2L230.9,428.7L234.4,430.6L236.9,433.7L237.5,436.2L217.5,436.2L215.8,433.2Z" fill="#E1FFFF"/>
<path d="M298.9,432.6L301.7,431.9L305.4,430.6L309.5,428.8L313.4,427.8L317.2,428.0L320.4,428.7L323.1,429.4L326.6,433.2L325.0,436.2L300.0,436.2Z" fill="#E1FFFF"/>
<path d="M224.9,169.2L230.0,170.4L233.5,173.7L235.2,177.3L236.4,180.7L237.3,183.3L236.8,186.2L235.0,188.4L232.6,190.8L229.4,193.1L226.5,195.4L225.8,198.7L225.1,203.3L223.3,205.7L219.9,208.3L217.2,210.2L214.4,211.5L211.0,212.7L206.2,213.1L202.5,212.5L199.1,212.1L196.5,213.3L194.8,215.2L193.1,216.0L190.9,216.7L187.5,218.2L184.0,219.9L180.9,221.9L178.0,223.4L175.0,223.0L171.2,220.5L168.3,217.9L165.2,216.8L163.0,218.1L161.5,220.5L159.4,222.4L155.7,221.6L152.2,219.7L150.2,217.9L151.1,215.6L155.2,213.3L159.5,212.4L164.0,211.7L166.8,209.9L169.3,208.0L172.4,207.0L176.2,205.8L179.8,205.2L183.4,204.9L186.5,204.8L189.7,204.0L191.8,201.3L193.5,197.1L194.8,192.6L196.2,188.9L198.3,185.8L200.2,184.2L201.2,184.4L202.6,184.0L204.5,181.4L207.0,177.9L210.2,175.2L213.6,173.3L217.6,171.6L221.7,170.6L223.5,170.0Z" fill="#50A5F5"/>
<path d="M70.0,160.0L202.5,160.0L203.0,164.1L201.1,167.5L199.1,170.6L196.2,172.8L193.2,173.4L191.4,173.7L190.1,174.4L187.5,176.6L184.9,179.5L181.6,182.1L177.5,185.9L175.1,188.9L171.5,190.7L167.2,192.2L163.5,194.3L161.2,196.8L159.7,198.6L157.0,199.9L153.0,200.0L149.5,199.7L146.0,200.4L143.2,203.3L141.6,206.8L138.2,209.1L134.4,209.6L132.0,207.7L128.7,205.5L126.3,205.8L124.3,206.9L122.0,207.3L119.8,207.1L117.0,207.4L114.5,208.4L111.1,209.0L106.3,207.7L101.8,206.8L98.6,207.9L94.3,208.0L89.9,207.4L86.0,208.4L82.7,209.9L80.2,210.5L78.9,212.7L77.5,214.5L75.9,211.9L73.3,206.4L71.1,205.7L68.7,203.9L66.3,200.5L65.7,196.9L66.9,193.4L68.0,190.3L68.6,188.4L68.8,185.3L68.7,180.0L68.7,174.8L67.3,170.9L66.4,167.8L68.4,164.9L70.9,162.4L72.5,160.8Z" fill="#FFD26E"/>
<path d="M107.9,177.6L111.1,177.1L115.1,176.8L118.7,175.6L122.2,174.6L125.6,173.2L129.0,172.2L133.4,173.1L137.5,174.3L139.8,175.0L140.9,176.3L140.7,179.3L139.1,182.9L137.0,186.3L134.1,189.2L132.2,191.1L129.9,192.8L126.9,193.5L123.7,193.6L120.8,193.0L118.1,192.0L113.3,191.1L109.8,189.7L106.7,187.4L104.6,184.7L105.2,181.1Z" fill="#FFFFFF"/>
<path d="M79.5,173.0L83.8,171.7L88.0,172.0L88.9,174.9L87.5,178.0L83.8,178.8L80.0,178.0Z" fill="#FFFFFF"/>
<path d="M250.0,160.0L267.5,160.0L268.5,160.2L269.1,163.6L270.7,167.3L273.3,170.6L275.4,173.6L276.5,175.9L276.8,177.9L275.8,181.0L273.6,183.3L272.0,185.2L270.7,187.2L268.4,189.2L266.6,191.8L265.3,195.1L263.1,198.5L261.6,201.8L260.4,204.6L258.9,206.1L257.2,206.6L254.8,207.9L251.6,210.3L246.7,213.1L241.1,215.8L236.3,217.4L231.9,215.6L231.4,210.6L232.7,207.3L235.8,204.2L240.8,202.6L244.5,201.1L246.7,199.5L248.9,198.2L250.9,195.7L251.4,191.8L250.2,188.0L248.1,184.5L245.9,181.1L244.6,177.7L245.7,172.6L247.7,167.8L248.8,164.0Z" fill="#FFD26E"/>
<path d="M209.0,237.6L211.9,235.8L216.1,234.3L218.8,232.7L220.4,230.7L222.9,227.8L225.3,226.6L228.2,225.8L231.9,225.5L234.7,227.3L235.9,230.5L237.1,234.3L237.3,238.0L235.8,240.4L232.9,241.4L229.1,242.4L225.0,244.3L221.5,245.5L218.5,244.6L214.5,243.1L211.5,242.0Z" fill="#FFD26E"/>
<path d="M70.5,279.7L72.0,277.3L74.3,277.8L78.7,281.2L83.3,283.9L86.4,283.5L89.1,282.2L92.4,281.1L96.0,281.0L99.4,283.5L101.8,286.7L104.4,287.4L107.0,285.5L109.1,282.1L112.2,279.0L116.1,277.1L119.9,277.2L122.8,278.6L125.3,280.6L129.8,281.2L133.7,280.6L136.8,280.5L139.9,281.1L142.9,281.0L145.8,280.2L149.3,278.0L151.4,274.6L154.5,270.7L156.9,268.1L159.6,266.9L163.3,266.3L168.4,264.5L173.3,262.2L176.3,261.5L177.6,261.2L178.7,260.0L180.4,258.6L183.3,257.6L187.3,257.1L191.5,257.4L195.5,257.5L199.4,256.1L202.8,254.9L205.9,253.4L209.2,251.6L211.7,250.5L214.0,249.5L216.9,247.2L219.1,245.3L222.0,244.1L226.7,242.7L230.2,242.4L233.2,242.4L236.2,241.2L239.2,241.3L242.4,244.6L246.6,250.1L247.7,252.8L248.3,256.1L249.4,258.6L250.6,260.8L251.9,263.9L253.5,266.0L254.8,266.8L255.6,267.7L257.6,270.1L260.2,273.6L262.0,277.4L263.7,281.0L265.4,283.9L267.3,286.2L269.3,289.2L271.3,292.2L273.0,295.1L274.2,298.4L275.4,300.6L278.6,304.5L281.6,307.3L284.6,309.4L286.8,309.7L288.8,308.7L291.4,308.8L294.5,309.5L300.2,311.3L305.7,312.9L308.6,313.5L310.3,313.1L312.5,311.5L314.3,309.3L317.1,308.8L320.2,309.7L323.3,309.0L326.9,307.6L329.8,308.0L332.9,310.0L336.2,311.3L340.0,312.6L342.7,314.4L345.0,316.4L347.4,318.2L349.6,319.5L351.6,321.5L353.1,322.8L353.8,324.2L353.6,325.9L354.6,328.5L356.6,332.8L357.1,335.7L357.3,338.5L357.7,341.3L358.6,344.6L358.8,349.0L358.7,353.9L358.6,358.0L357.9,360.9L358.1,364.8L359.3,369.0L359.7,372.8L359.8,375.5L360.7,379.2L361.7,384.2L362.2,388.0L361.5,390.6L361.7,393.5L362.8,396.1L362.8,399.6L362.0,405.2L362.5,409.7L364.6,413.4L365.2,417.0L364.5,420.1L364.0,423.6L363.2,426.9L363.2,430.2L364.2,433.7L363.7,436.4L361.6,438.3L360.7,439.4L360.0,436.2L347.5,436.2L347.2,439.0L345.3,437.3L342.6,434.0L339.2,429.0L335.7,424.1L332.4,420.3L330.8,420.2L327.2,420.8L321.7,419.6L316.4,418.1L312.6,415.4L309.4,414.2L306.8,415.6L304.7,417.0L302.1,418.9L299.1,420.1L296.1,420.6L293.9,421.1L292.3,421.9L289.0,421.8L285.8,420.5L282.4,419.9L277.9,420.1L274.6,419.6L272.9,418.8L271.1,417.7L269.2,416.4L265.5,415.0L260.4,412.7L256.2,412.2L252.2,413.2L248.7,414.1L246.1,414.8L243.7,415.3L240.7,415.7L237.3,415.7L234.6,415.6L232.1,414.9L228.4,414.3L224.8,413.1L222.6,411.1L220.1,409.6L216.4,409.5L212.4,409.9L208.5,409.9L204.8,410.8L200.8,413.4L197.7,413.8L197.1,412.0L196.8,411.4L194.7,411.6L191.2,413.1L188.3,415.5L184.8,417.0L180.9,417.8L177.9,418.2L174.7,417.2L171.9,416.3L171.8,416.4L170.1,415.8L165.8,415.2L161.9,416.4L158.7,418.8L155.3,418.6L149.2,412.3L145.9,407.8L142.7,405.4L140.9,404.3L141.0,404.3L140.6,404.3L139.7,403.0L138.9,400.5L138.8,397.3L139.1,393.5L137.2,389.3L134.4,385.8L132.4,382.6L130.0,379.0L126.6,374.7L124.6,372.6L123.2,370.4L121.0,368.8L117.1,367.9L114.0,365.9L113.0,361.7L111.4,356.9L108.8,353.1L106.4,350.4L104.8,348.1L102.8,346.4L100.0,344.9L97.5,342.7L96.0,339.2L94.4,335.8L91.7,334.6L89.0,333.3L87.6,330.3L86.5,327.4L84.5,325.1L82.2,322.6L80.3,320.1L78.5,317.8L76.9,315.6L75.5,313.2L73.6,311.5L71.5,309.7L70.4,309.2L69.6,308.7L65.4,301.3L62.6,294.7L62.5,288.5L63.6,283.8L64.0,282.1L65.1,280.9L68.1,280.5Z" fill="#FFD26E"/>
<path d="M171.2,335.7L172.4,333.8L174.4,332.2L176.9,330.9L180.2,329.4L183.6,326.7L187.2,323.6L190.6,322.5L193.9,322.4L197.8,321.7L202.0,321.7L204.6,323.1L206.7,324.4L209.8,325.1L212.5,325.1L215.4,324.3L217.7,323.1L220.6,322.5L224.6,322.6L228.6,322.2L232.6,322.4L235.4,322.5L238.4,321.8L242.6,322.4L245.9,323.4L248.9,326.3L251.9,332.1L254.3,336.2L256.6,337.9L258.9,339.3L261.6,340.2L264.9,341.4L268.6,343.6L270.6,346.2L270.8,348.5L269.0,350.3L264.9,350.1L260.1,349.8L255.5,349.3L250.9,348.1L246.6,347.0L243.1,345.9L239.0,345.7L235.9,344.6L232.7,342.7L229.4,341.6L226.9,341.0L224.5,341.2L222.7,342.0L220.4,341.0L215.9,339.2L211.9,339.5L207.9,340.5L204.7,341.3L202.0,342.1L199.0,342.3L195.1,341.2L191.7,340.8L188.8,341.8L186.1,342.4L182.6,342.1L177.8,341.9L176.8,341.8L176.4,340.9L172.5,338.8Z" fill="#FFFFFF"/>
<path d="M285.4,323.8L287.1,321.9L289.9,320.5L294.7,320.7L299.4,321.5L302.0,321.9L304.7,322.1L307.9,321.2L310.8,321.1L313.9,324.6L316.6,329.2L318.0,333.2L318.6,337.0L319.7,339.8L318.3,343.4L313.0,347.1L307.6,349.6L303.5,348.1L300.8,345.3L300.3,345.3L300.0,346.6L298.5,349.2L298.0,352.3L298.9,356.5L300.1,360.8L300.7,364.1L300.5,366.0L299.7,368.8L298.2,370.1L296.1,371.0L294.4,371.0L291.4,367.7L288.3,363.8L286.5,361.0L285.4,358.7L284.1,356.2L283.3,354.3L283.3,353.3L284.3,351.1L287.3,347.4L290.8,342.7L291.4,336.6L290.2,332.1L288.4,329.7L285.9,328.4L284.7,326.4Z" fill="#FFFFFF"/>
<path d="M309.4,367.6L311.7,365.4L315.2,363.2L319.8,360.6L324.5,358.5L327.5,359.1L330.1,361.9L332.9,365.5L335.9,370.0L337.8,373.3L339.0,374.3L341.4,376.7L344.1,380.1L345.5,382.1L345.3,383.0L342.6,385.6L336.9,387.9L331.8,388.3L328.9,388.1L326.5,386.7L324.0,383.7L321.7,381.6L320.2,380.3L318.1,377.5L314.4,373.7L310.8,370.4L309.1,369.1Z" fill="#FFFFFF"/>
<path d="M253.0,356.4L255.2,355.5L258.7,355.0L263.0,355.1L267.3,355.4L270.3,356.0L273.7,359.3L272.4,363.2L270.4,363.8L267.3,364.4L263.9,364.8L260.6,365.0L257.6,364.6L253.9,362.6L252.1,359.2Z" fill="#FFFFFF"/>
<path d="M80.0,162.2L82.0,161.3L85.1,160.0L89.3,159.1L93.6,158.7L97.2,158.7L100.1,159.6L102.1,161.3L102.7,164.3L101.3,167.7L99.9,171.1L99.6,174.8L101.7,178.1L104.9,180.6L107.6,183.3L108.4,185.5L105.4,188.3L101.2,188.8L99.0,187.4L95.8,186.2L92.1,184.6L90.0,182.4L88.6,179.8L86.1,176.6L83.5,172.7L79.3,166.3Z" fill="#FA0000"/>
<path d="M122.8,187.7L123.7,185.4L124.5,183.1L126.5,181.2L129.4,179.7L132.1,177.6L134.6,176.4L137.5,177.3L140.4,177.7L144.3,176.9L149.2,175.1L150.0,173.7L148.9,172.0L145.7,169.7L141.5,167.5L139.4,164.4L139.7,161.7L142.8,162.0L149.9,164.0L152.2,164.5L155.1,164.7L158.6,165.6L162.1,166.4L164.8,166.8L167.7,167.1L170.7,167.1L174.5,165.9L179.1,164.1L183.3,162.5L187.1,161.3L189.5,161.3L189.6,162.9L189.2,164.6L191.6,166.8L191.1,168.6L189.0,168.8L187.3,168.9L184.9,170.9L181.1,174.0L178.8,177.2L176.6,180.9L172.8,184.4L169.8,186.4L166.6,188.7L162.2,188.8L156.5,186.3L152.4,185.4L152.7,186.9L154.7,189.4L155.4,191.9L153.2,191.8L148.7,189.9L143.4,189.2L139.4,190.7L136.4,193.0L133.8,196.5L130.4,199.8L124.6,201.8L120.4,201.6L117.6,198.8L116.9,194.1L119.0,190.9Z" fill="#FA0000"/>
<path d="M78.9,198.2L80.4,196.2L83.1,193.9L86.0,191.7L88.4,190.6L90.9,191.8L92.2,194.2L92.5,196.7L91.4,198.6L88.7,200.3L85.6,201.7L82.4,201.7L79.7,200.4Z" fill="#FA0000"/>
<path d="M257.2,163.0L259.5,162.5L262.6,163.6L265.7,165.8L267.9,168.1L271.4,170.3L274.4,172.7L275.1,175.0L275.1,177.5L275.3,180.6L274.4,183.3L272.8,185.6L270.7,187.7L267.1,189.8L263.6,190.4L260.7,190.2L258.3,188.7L255.6,185.9L252.8,182.3L251.3,178.5L251.6,174.9L253.4,171.7L254.6,168.7L255.7,165.7Z" fill="#FA0000"/>
<path d="M241.4,204.7L243.2,202.6L246.7,200.9L250.3,200.3L254.1,202.0L255.5,205.3L254.1,208.1L251.4,210.5L248.3,211.3L245.0,210.0L242.2,207.4Z" fill="#FA0000"/>
<path d="M226.2,230.0L229.7,229.2L233.8,230.0L235.0,235.0L232.2,236.5L228.8,236.2L226.5,233.2Z" fill="#FA0000"/>
<path d="M95.9,305.9L97.5,303.1L101.7,301.0L107.4,299.8L112.7,299.2L115.1,298.0L116.3,296.1L117.5,295.4L119.8,294.9L123.8,293.5L127.4,292.5L130.7,291.5L134.2,290.2L137.5,288.9L141.5,286.5L144.6,282.7L146.9,278.4L148.5,276.5L149.5,275.0L151.5,272.2L153.8,270.9L157.5,271.0L162.1,272.3L166.1,273.7L169.4,273.8L171.8,271.6L175.1,268.1L177.5,268.3L180.1,269.3L182.7,267.2L185.1,263.2L189.0,260.2L193.7,257.4L196.3,256.0L199.7,255.2L201.8,255.9L204.2,256.2L207.0,255.6L209.8,254.8L214.3,253.5L219.5,251.6L221.4,249.6L222.1,248.2L223.8,247.9L225.7,248.3L228.5,247.5L231.2,246.2L235.7,246.6L240.9,249.5L242.4,251.5L242.6,252.8L241.6,254.8L240.1,257.5L240.5,261.3L242.0,267.0L243.2,273.0L244.3,278.4L245.3,281.9L246.3,284.6L249.1,286.8L252.2,288.4L254.2,290.8L257.2,293.0L258.8,294.4L258.8,295.7L259.0,301.3L255.4,302.9L251.1,303.2L246.4,303.6L242.7,301.8L239.7,297.4L237.8,294.1L236.9,291.8L235.5,289.7L232.9,289.1L229.1,288.1L225.7,286.7L222.2,286.8L217.7,289.1L214.1,292.3L212.6,295.7L213.9,299.5L216.5,303.3L217.2,305.4L214.0,305.2L210.0,304.7L206.9,304.7L204.7,303.8L203.1,301.2L200.0,299.9L196.2,300.7L193.2,302.7L190.3,306.8L187.7,309.6L185.2,310.0L182.7,311.2L180.7,314.4L178.6,318.2L176.8,321.0L174.4,322.7L170.9,321.2L167.7,317.5L166.5,314.7L165.7,311.4L163.9,307.6L160.9,306.5L157.4,309.8L153.2,313.2L149.0,313.8L145.7,314.6L143.7,317.6L143.5,321.3L141.8,323.6L138.5,325.1L135.0,327.0L131.0,329.1L127.3,331.3L124.1,331.9L122.0,330.4L120.0,327.8L117.2,325.4L114.2,323.0L111.6,320.9L108.6,319.3L103.4,317.0L98.9,315.0L96.8,314.0L95.6,312.7L95.1,309.5Z" fill="#FA0000"/>
<path d="M201.4,266.2L204.7,266.2L207.7,268.9L208.4,273.2L207.0,277.2L203.3,278.4L199.7,276.8L199.1,273.4L199.9,269.2Z" fill="#FFD26E"/>
<path d="M249.6,313.9L251.9,315.2L255.5,318.4L259.1,321.4L262.5,323.5L265.6,326.0L268.3,327.8L272.3,325.9L275.7,323.3L280.2,323.7L284.2,324.2L284.8,324.4L286.5,325.2L291.5,325.9L295.6,327.2L294.3,331.0L290.0,335.1L287.1,337.0L284.1,337.7L282.3,338.7L281.9,340.6L281.5,341.9L279.4,343.0L274.5,343.3L269.3,341.0L266.2,337.8L264.6,334.0L263.2,330.9L261.5,329.1L259.7,327.3L257.6,325.4L255.1,323.6L252.4,319.9L250.0,315.9Z" fill="#FA0000"/>
<path d="M135.8,346.0L137.1,345.8L139.2,346.0L141.7,346.2L144.8,346.7L149.6,348.2L154.7,350.3L157.8,352.8L160.5,354.8L165.0,354.5L169.1,354.4L171.1,356.4L173.5,358.2L175.3,357.1L175.8,354.9L178.4,354.0L181.6,354.1L183.9,354.0L187.5,354.3L192.2,356.3L195.5,358.2L198.3,359.1L200.7,360.3L203.4,362.9L206.8,364.6L210.8,364.6L215.1,364.2L219.8,364.6L223.6,365.8L224.8,368.8L224.6,372.5L227.0,374.1L230.6,373.2L234.6,372.2L239.3,371.6L243.0,372.0L245.9,373.0L249.5,373.8L251.9,373.5L253.0,372.8L254.5,371.3L257.1,368.2L261.3,365.1L263.8,365.4L264.3,369.0L265.7,372.5L268.8,373.2L272.7,373.7L276.8,374.4L279.7,374.9L282.1,375.7L286.1,376.3L290.3,375.3L292.7,373.0L294.3,371.8L294.6,372.9L295.3,375.5L297.2,379.3L300.3,382.2L304.8,382.5L308.7,380.5L312.4,378.3L315.5,379.0L316.4,382.4L316.0,386.0L315.2,389.3L313.8,392.7L311.9,395.8L310.0,397.8L306.6,399.1L302.6,400.5L300.1,402.9L298.2,405.7L295.5,407.9L292.4,409.3L288.4,408.3L283.8,407.4L281.8,410.0L280.4,412.1L276.8,412.8L273.0,411.9L270.1,409.9L266.6,409.0L263.2,410.6L260.4,412.6L255.8,413.2L250.5,413.9L246.1,415.7L242.0,416.8L238.9,415.5L236.6,413.0L234.1,410.2L231.3,408.3L227.5,408.8L224.2,409.4L222.4,408.4L220.7,406.9L218.1,405.7L214.4,405.2L210.2,403.9L206.3,402.3L204.2,401.1L202.6,399.6L199.2,396.9L195.4,394.9L192.8,394.7L190.3,394.0L187.6,392.9L184.7,391.6L180.9,389.3L177.2,387.3L175.7,386.3L174.6,384.4L172.8,381.6L171.5,378.5L169.7,374.6L168.0,370.9L166.2,367.2L163.7,363.5L161.6,361.0L159.3,359.5L155.9,358.5L153.5,358.0L151.1,357.1L148.3,355.8L144.7,354.4L139.9,351.7L136.4,348.3Z" fill="#FA0000"/>
<path d="M332.9,399.7L333.7,397.2L335.5,395.1L339.5,393.4L343.5,392.1L345.9,390.8L349.0,389.1L353.4,386.8L357.4,385.7L359.6,387.8L360.0,391.6L358.0,395.2L355.0,398.4L354.4,402.2L355.6,407.0L355.9,411.6L354.9,416.0L353.8,418.5L352.9,419.6L352.1,421.8L352.0,425.0L352.5,429.0L352.9,431.9L353.4,433.9L352.5,436.2L337.5,436.2L339.5,434.5L340.9,431.8L342.1,428.6L343.2,424.7L343.6,420.6L342.3,417.9L338.8,416.7L335.6,414.0L333.8,411.7L331.6,408.9L331.4,404.1Z" fill="#FA0000"/>
<path d="M330.0,342.5L331.9,338.9L335.0,337.5L336.1,340.3L336.6,344.7L336.2,347.5L332.8,346.1Z" fill="#FA0000"/>
<path d="M327.5,360.0L332.5,362.5L332.5,366.5L331.2,368.8L329.8,366.5L328.1,362.7Z" fill="#FA0000"/>
<path d="M217.7,267.1L220.0,266.5L223.5,266.6L227.5,267.4L230.7,268.6L233.3,272.3L232.5,275.9L229.8,277.2L225.9,277.5L222.6,276.1L219.9,273.0L217.8,269.4Z" fill="#C80000"/>
<path d="M230.0,255.0L233.0,255.1L236.2,257.5L237.1,261.6L236.2,265.0L231.2,262.5L229.8,258.4Z" fill="#C80000"/>
<path d="M275.0,402.5L278.4,402.3L282.5,403.8L285.0,408.8L281.6,409.6L277.5,408.8L275.1,405.5Z" fill="#C80000"/>
<path d="M275.0,160.0L380.0,160.0L380.0,210.0L345.0,190.0L325.0,175.0L280.0,182.5Z" fill="#C80000"/>
<path d="M301.6,160.8L303.0,161.5L305.3,163.2L307.9,165.2L310.9,167.0L315.5,166.1L319.5,164.3L322.5,165.2L325.8,166.6L328.9,165.3L332.3,163.2L336.1,162.7L338.8,163.0L341.3,162.6L343.6,161.6L348.1,161.4L353.8,162.5L357.6,163.0L360.6,164.4L362.5,165.8L362.9,166.1L363.7,169.2L361.0,171.2L358.6,170.6L354.5,171.4L350.6,172.3L345.9,172.7L342.1,173.3L339.7,174.2L336.5,174.2L332.3,173.9L328.8,173.8L327.0,173.9L324.8,173.7L320.8,172.3L316.2,171.1L312.9,170.8L309.7,170.6L306.3,169.7L304.5,168.5L301.3,164.2Z" fill="#690000"/>
<path d="M277.5,173.8L295.0,172.0L300.0,178.8L282.5,182.0Z" fill="#FA0000"/>
<path d="M370.0,160.0L407.5,160.0L409.1,161.3L407.5,165.2L406.4,169.3L405.9,173.6L407.9,176.3L410.5,175.8L413.7,175.1L417.6,173.7L421.3,171.9L424.4,172.6L427.7,173.4L431.9,173.0L435.6,173.4L437.7,174.0L439.5,174.8L440.9,175.7L442.5,177.0L445.2,179.5L447.1,182.6L447.5,185.8L447.3,189.7L445.6,193.6L443.6,197.1L442.5,200.3L440.7,202.8L437.9,203.5L434.7,203.5L432.1,204.3L428.4,205.2L421.8,205.7L418.6,205.9L414.9,207.5L411.2,209.0L408.6,209.1L405.8,209.2L401.8,209.4L397.6,209.4L394.6,208.6L391.9,207.5L388.3,207.3L384.3,207.5L379.5,208.4L374.9,209.6L372.8,209.5L371.5,208.9L370.8,209.3L371.4,209.2L370.0,208.8Z" fill="#FA0000"/>
<path d="M390.1,182.9L392.1,181.9L395.3,181.5L399.2,181.1L403.0,181.3L406.3,181.9L409.4,183.6L411.7,185.2L413.0,186.4L413.7,188.5L413.3,191.4L410.6,194.4L406.4,197.0L403.2,197.9L400.3,198.2L397.2,197.4L395.0,194.4L392.1,190.2L389.9,186.2Z" fill="#FFD26E"/>
<path d="M408.4,165.1L410.5,165.8L412.9,167.7L415.2,170.0L416.5,172.4L416.3,175.6L414.8,178.7L412.6,180.8L410.2,181.3L407.4,179.6L405.4,176.6L404.9,172.4L406.1,167.7Z" fill="#FFD26E"/>
<path d="M423.9,179.6L427.3,177.6L432.0,176.4L435.4,177.1L436.5,180.1L435.9,183.9L434.4,186.7L430.7,187.5L426.4,186.1L423.6,183.0Z" fill="#FFD26E"/>
<path d="M396.7,163.2L401.6,162.9L406.6,165.0L408.6,167.3L409.2,170.2L409.2,173.7L408.0,177.6L406.0,181.5L403.5,184.1L399.7,183.5L396.4,180.1L394.9,177.2L394.3,173.7L394.0,170.2L394.5,165.8Z" fill="#E1FFFF"/>
<path d="M387.3,170.0L390.6,167.6L394.5,167.8L396.3,169.5L397.5,172.6L397.6,175.7L394.5,179.0L389.9,179.6L387.8,177.4L386.9,173.5Z" fill="#FFFFFF"/>
<path d="M370.0,160.0L370.1,161.3L371.9,163.0L375.3,164.9L379.3,166.8L382.7,169.4L386.0,172.0L388.2,174.5L388.9,176.7L390.0,179.4L390.8,182.7L389.8,185.6L387.3,188.3L384.3,191.2L381.0,194.7L378.3,197.4L375.1,198.8L371.9,198.5L370.0,197.5Z" fill="#C80000"/>
<path d="M442.5,248.8L450.0,248.8L468.0,285.0L460.0,288.8Z" fill="#FFD26E"/>
<path d="M455.5,260.0L458.0,260.0L458.5,264.0L456.0,264.0Z" fill="#FA0000"/>
<path d="M482.5,199.8L486.1,199.4L491.0,200.4L496.3,202.3L499.5,203.6L499.5,206.6L498.4,210.5L499.5,213.9L501.3,216.9L503.1,219.6L505.8,222.2L509.1,223.3L512.2,223.6L515.9,223.8L520.4,223.9L524.2,225.7L525.6,228.2L526.0,230.4L525.0,232.8L521.2,234.5L515.0,234.1L511.3,234.4L508.6,235.8L505.2,236.1L499.5,235.8L495.2,234.8L493.0,232.3L492.1,229.0L492.2,225.6L492.0,221.9L489.9,218.3L487.4,215.5L485.6,211.9L483.7,207.7L481.5,202.5Z" fill="#FA0000"/>
<path d="M501.2,224.1L503.2,222.5L505.9,220.9L509.3,220.4L512.8,220.6L515.7,221.3L519.0,223.5L520.5,226.5L519.8,229.6L518.2,231.5L515.9,232.9L512.5,234.4L509.3,235.3L505.8,234.8L502.6,233.3L500.1,231.9L498.6,229.4L499.0,226.4Z" fill="#FFD26E"/>
<path d="M521.6,252.0L523.3,249.2L525.5,246.3L527.4,243.8L528.8,241.1L531.3,238.1L534.7,235.3L536.6,233.7L539.0,232.4L542.0,229.2L545.0,225.2L548.4,224.3L552.0,224.7L555.4,225.6L558.8,227.1L562.0,228.0L564.8,229.2L567.2,231.2L569.3,233.7L571.6,237.4L574.8,240.9L577.2,243.3L579.0,245.6L581.1,247.4L583.1,249.7L584.6,252.8L585.7,256.1L586.2,260.5L586.5,265.3L587.3,269.6L588.5,272.5L589.1,274.0L588.9,274.7L589.5,276.6L590.0,280.9L589.9,286.8L587.1,289.3L584.6,290.3L582.8,290.7L579.9,289.7L575.6,287.2L572.8,284.8L571.4,281.5L569.4,278.0L566.1,275.1L564.0,271.3L563.4,269.1L561.6,267.2L559.1,265.5L555.8,264.7L551.0,264.1L546.7,264.7L542.9,266.6L538.6,268.5L535.3,270.3L532.4,271.4L527.6,271.6L523.4,272.5L521.4,274.3L518.6,275.0L514.7,274.7L511.4,273.4L507.5,271.9L502.7,272.1L498.7,271.5L498.1,269.7L500.1,269.5L502.5,268.6L506.4,265.2L510.7,261.9L514.3,259.0L517.2,256.3L518.5,255.0L518.2,255.0L519.1,254.5Z" fill="#FFD26E"/>
<path d="M525.1,248.0L525.7,245.9L525.5,243.5L524.6,241.1L524.6,238.3L526.5,235.3L529.6,232.4L534.3,228.9L538.9,225.9L541.9,224.7L545.0,223.6L548.0,223.1L551.1,223.5L555.1,223.6L559.6,225.5L562.9,229.2L565.3,232.4L567.0,235.2L568.6,237.8L570.7,240.9L572.7,243.9L574.0,244.7L574.2,245.2L573.7,247.9L571.9,250.6L569.1,252.5L566.5,255.5L563.4,260.3L560.4,263.4L555.1,264.2L549.3,266.7L546.3,267.5L543.6,265.2L540.0,262.9L537.0,262.2L536.0,264.6L535.6,268.3L533.1,270.2L528.9,269.7L526.0,267.2L523.8,264.1L522.4,261.4L522.2,257.8L522.5,253.5Z" fill="#FA0000"/>
<path d="M550.3,242.8L553.3,242.8L557.3,243.7L560.3,245.2L558.0,250.5L554.2,251.0L550.6,249.7L549.1,246.0Z" fill="#FFD26E"/>
<path d="M534.6,240.0L537.5,237.9L541.6,237.2L545.0,237.6L547.2,240.0L547.8,244.2L547.0,247.8L545.1,249.7L541.8,250.6L538.3,249.8L536.0,246.8L534.5,243.0Z" fill="#C80000"/>
<path d="M501.2,270.5L503.1,268.8L506.1,267.0L509.5,265.6L512.8,264.5L515.3,264.6L518.3,268.3L517.8,273.2L515.3,275.2L511.7,275.7L508.1,275.2L502.9,273.3Z" fill="#FA0000"/>
<path d="M469.6,287.6L472.4,285.9L476.1,284.5L478.7,285.1L481.2,285.6L485.3,284.8L489.7,283.7L493.5,282.7L496.9,281.7L500.6,281.0L503.0,280.0L504.1,278.0L505.9,276.4L509.4,274.9L513.1,273.9L516.4,274.8L519.8,275.5L523.5,274.9L527.5,274.2L531.8,273.7L535.3,274.1L539.2,276.9L541.3,280.9L542.2,285.5L542.1,288.3L540.5,291.0L537.7,293.4L534.4,296.5L532.0,300.4L531.2,303.8L532.0,308.0L534.6,312.7L535.7,316.6L534.1,318.4L532.6,318.0L530.4,318.4L528.0,320.2L525.8,324.1L522.7,328.7L518.7,331.8L515.2,333.5L512.5,336.4L510.2,337.8L506.3,336.6L502.6,335.2L500.7,333.2L499.7,331.5L498.2,330.4L497.1,328.1L496.4,324.1L496.0,319.2L495.8,315.4L495.4,311.8L495.1,307.4L494.3,303.9L492.6,301.7L490.7,299.4L488.6,297.6L485.7,297.6L482.5,296.1L479.4,294.5L475.2,295.4L471.6,295.6L468.1,291.8Z" fill="#E1FFFF"/>
<path d="M502.6,287.5L504.8,285.1L507.0,283.9L511.1,283.5L515.6,283.3L518.7,284.4L521.2,287.0L522.2,290.2L522.6,293.9L522.8,296.8L522.2,299.3L520.1,302.7L517.4,305.2L514.7,306.0L515.3,307.3L518.9,311.2L520.7,315.5L519.2,318.5L516.4,321.7L513.0,323.7L509.8,324.7L505.9,325.7L502.7,325.0L500.5,321.4L500.2,317.6L501.3,313.8L502.0,309.5L500.9,307.4L499.2,305.9L499.3,303.6L498.7,300.0L497.5,296.5L497.4,293.6L499.6,290.3Z" fill="#50A5F5"/>
<path d="M496.4,299.1L499.7,298.1L504.2,298.2L508.0,299.2L510.7,301.2L512.2,303.8L512.1,306.2L509.0,309.4L504.4,310.9L501.0,309.6L498.7,306.5L496.3,302.5Z" fill="#1964D2"/>
<path d="M496.0,300.5L498.5,300.5L498.5,303.5L496.0,303.5Z" fill="#2432FA"/>
<path d="M472.0,287.5L476.0,286.0L480.0,286.2L480.4,289.2L478.8,292.5L473.2,293.0Z" fill="#50A5F5"/>
<path d="M518.8,305.0L522.0,306.2L522.1,310.2L521.2,313.8L518.8,312.5L518.3,308.6Z" fill="#FA0000"/>
<path d="M481.2,325.7L482.7,322.3L485.6,319.1L488.8,318.1L492.2,319.8L492.7,322.8L490.7,325.5L488.5,329.3L486.1,331.7L482.6,330.0Z" fill="#FFD26E"/>
<path d="M483.8,325.0L486.4,321.5L489.5,319.5L491.2,324.5L488.6,327.7L485.5,329.5Z" fill="#FA0000"/>
<path d="M541.0,327.8L546.4,326.1L553.3,326.3L558.4,327.0L561.2,329.0L560.9,331.7L560.2,333.0L562.4,332.0L565.7,330.2L569.0,330.1L570.8,332.5L571.9,336.9L573.0,341.0L574.1,344.0L577.0,345.4L580.7,346.0L584.2,348.3L586.7,350.5L586.8,351.9L585.4,353.3L583.8,353.9L580.9,354.5L577.0,354.7L573.9,355.5L572.2,356.8L569.5,356.6L566.4,355.7L563.4,354.5L560.4,354.1L556.3,354.8L552.6,354.5L548.9,353.9L546.0,353.1L543.8,351.6L541.1,350.4L539.6,349.2L540.1,346.5L540.9,342.5L541.7,339.0L542.1,335.1L540.9,330.9Z" fill="#FFD26E"/>
<path d="M512.9,351.1L515.9,349.2L519.9,347.7L523.9,347.7L527.8,349.9L527.7,352.3L523.6,354.2L518.9,355.4L515.1,355.8L512.6,355.5Z" fill="#FFD26E"/>
<path d="M587.5,343.8L592.5,345.0L591.2,348.0Z" fill="#FFD26E"/>
<path d="M466.3,377.9L468.8,375.2L472.4,372.5L477.1,369.7L481.7,367.9L485.0,368.8L488.0,370.3L491.0,370.6L493.3,372.1L493.7,375.4L492.9,379.0L492.2,381.8L492.0,384.8L493.6,388.0L495.6,389.7L497.8,391.1L500.6,391.8L503.9,390.4L507.0,389.2L509.9,390.1L513.0,390.7L517.6,390.2L521.5,389.9L524.2,389.9L526.9,389.7L531.1,389.4L536.4,388.5L540.5,386.0L543.2,383.5L544.2,381.6L544.0,380.4L543.9,379.7L545.5,379.2L549.9,379.7L554.6,380.7L558.1,379.9L561.1,379.5L563.4,378.9L566.9,375.5L569.8,372.2L572.3,371.4L574.0,373.7L575.0,378.5L577.0,384.6L576.7,388.0L573.4,388.6L570.9,389.1L569.6,390.0L569.8,392.1L570.4,395.7L569.1,398.4L566.9,399.9L564.6,401.5L563.8,406.5L565.1,411.8L567.6,415.1L570.0,418.0L570.9,421.9L570.5,426.2L568.8,431.0L566.7,435.2L564.9,436.5L565.0,436.2L505.0,436.2L503.7,436.3L505.9,432.3L509.0,426.9L510.6,423.0L510.5,420.1L509.3,417.2L507.0,415.7L504.3,415.4L502.2,413.9L499.7,409.6L498.2,404.7L499.1,400.4L498.6,396.8L495.8,395.7L492.4,396.5L488.4,398.2L484.5,398.4L480.9,396.9L476.2,394.0L471.6,388.9L468.0,384.6L466.6,383.1L465.7,380.8L465.2,379.5Z" fill="#E1FFFF"/>
<path d="M484.2,372.2L487.7,370.5L491.4,371.2L492.7,374.9L491.8,378.6L488.5,380.0L485.3,379.3L483.7,375.9Z" fill="#50A5F5"/>
<path d="M514.2,373.1L517.0,370.2L520.2,369.8L523.0,370.7L525.6,372.4L528.3,375.4L530.1,379.1L529.6,382.1L527.6,384.9L524.0,387.8L519.4,390.0L515.3,390.5L511.6,389.0L510.0,385.3L510.7,381.5L512.4,377.0Z" fill="#50A5F5"/>
<path d="M514.1,398.0L516.6,396.1L520.9,394.3L525.9,393.1L530.6,392.0L534.1,391.5L536.1,392.0L533.4,397.1L530.3,399.0L526.9,400.8L523.5,402.5L520.4,403.5L515.5,401.5Z" fill="#50A5F5"/>
<path d="M547.5,418.8L550.9,416.8L555.0,416.2L557.5,421.2L554.1,422.5L550.0,422.5Z" fill="#50A5F5"/>
<path d="M539.8,427.5L541.7,426.8L543.7,426.6L546.5,426.0L550.0,425.8L554.8,425.9L559.0,427.0L561.9,429.5L562.6,434.5L561.2,436.2L537.5,436.2L538.8,432.8Z" fill="#50A5F5"/>
<path d="M594.9,303.2L597.9,302.5L600.6,305.9L600.5,309.3L600.0,313.3L599.7,317.1L599.7,319.9L595.8,318.8L595.1,315.8L594.7,311.0L594.5,306.2Z" fill="#E1FFFF"/>
<path d="M596.0,308.8L599.0,309.5L598.5,315.0L596.0,314.2Z" fill="#50A5F5"/>
<path d="M607.9,272.1L608.3,270.0L609.8,268.3L613.6,266.2L617.1,263.6L618.9,262.1L620.8,260.5L624.4,256.7L627.7,253.0L629.9,249.3L630.8,246.4L632.2,246.0L634.3,245.7L637.5,242.5L640.7,239.2L642.1,238.5L643.5,238.2L646.9,236.5L650.8,236.9L654.1,240.4L657.0,244.3L657.9,245.7L659.5,247.6L663.3,251.3L666.2,254.9L666.7,258.6L667.3,262.0L668.6,263.3L669.8,264.4L672.4,268.8L673.2,270.0L674.3,272.1L675.1,275.1L677.0,276.9L678.4,278.8L679.3,281.5L680.5,284.8L680.9,288.8L681.0,292.9L681.8,296.6L682.3,299.7L682.7,302.1L681.5,304.8L677.4,305.8L672.4,305.9L669.8,305.0L668.0,303.0L666.0,300.3L662.9,298.3L659.7,297.6L656.5,297.1L652.8,296.5L649.0,296.5L645.1,297.2L641.7,298.6L640.7,301.2L639.1,302.8L634.5,302.3L630.5,301.3L629.1,300.0L627.1,298.0L622.9,295.4L618.4,293.1L614.5,291.2L611.2,288.3L608.4,285.0L606.2,281.4L606.4,277.0Z" fill="#FFD26E"/>
<path d="M627.2,265.6L627.4,263.0L628.1,260.7L630.1,258.6L632.4,256.3L634.9,253.9L637.4,250.6L639.6,245.0L642.0,240.5L643.7,238.8L644.8,239.0L648.5,239.7L651.3,241.1L652.5,244.6L653.7,248.6L655.5,252.1L657.1,255.7L657.9,259.0L659.1,262.1L663.5,266.8L667.4,270.6L667.9,272.0L668.6,272.7L672.0,273.5L674.3,274.0L676.4,277.6L677.5,281.9L676.2,284.5L673.5,285.6L669.6,286.5L665.4,287.3L661.3,286.1L657.7,284.4L655.8,283.2L654.0,283.5L651.0,285.3L647.9,286.1L646.3,285.5L644.4,283.8L640.5,281.1L636.2,278.6L632.1,276.6L629.4,275.3L628.1,274.6L627.3,273.6L626.6,270.5Z" fill="#FA0000"/>
<path d="M639.5,254.8L642.8,253.3L647.2,252.5L650.6,252.7L651.9,256.5L650.0,261.2L645.2,263.4L640.7,263.0L638.7,259.0Z" fill="#C80000"/>
<path d="M647.5,244.5L650.6,243.7L654.5,244.5L654.0,250.0L650.2,247.7Z" fill="#C80000"/>
<path d="M685.1,283.7L687.4,283.5L690.1,285.8L694.1,288.5L696.7,290.2L698.9,293.1L701.6,295.9L704.8,297.0L707.0,298.5L706.7,301.5L704.7,304.1L702.1,306.1L699.7,308.4L698.6,312.0L698.2,316.6L698.5,322.1L699.0,327.1L697.5,330.3L696.0,331.9L696.5,331.5L696.6,329.7L695.3,326.8L693.1,322.8L690.4,318.5L687.8,314.4L686.1,311.9L685.1,310.2L684.2,308.3L683.6,306.6L684.3,304.1L685.0,300.5L683.7,296.6L682.8,292.4L683.6,287.3Z" fill="#FFD26E"/>
<path d="M686.6,286.6L689.2,286.3L693.2,287.8L696.3,290.6L697.6,294.3L697.8,297.8L697.0,299.9L693.4,299.7L689.6,297.1L687.8,293.9L686.5,289.6Z" fill="#FA0000"/>
<path d="M702.0,298.7L702.9,295.7L704.5,294.7L707.9,295.1L711.8,294.5L713.6,291.6L714.9,288.3L718.2,285.3L721.1,281.6L722.1,279.5L722.9,278.5L722.4,277.6L721.7,275.3L721.2,272.2L720.0,268.6L717.3,263.6L713.9,260.3L710.9,258.3L708.4,255.7L706.6,252.8L705.7,249.2L706.6,246.2L709.3,243.8L714.4,240.6L718.7,238.7L720.7,238.3L722.1,238.2L723.4,237.3L726.5,236.1L730.4,237.5L735.0,239.5L740.6,238.7L745.7,237.2L750.0,237.3L754.2,237.6L757.6,237.4L755.0,235.0L755.0,350.0L755.9,350.1L751.4,348.4L746.8,346.6L743.2,345.6L739.7,344.8L737.5,344.7L735.6,344.7L730.3,343.7L726.4,343.5L723.5,344.4L721.1,342.8L719.4,340.4L717.6,340.3L715.3,339.4L712.4,337.1L707.8,336.0L702.6,335.1L699.9,331.2L698.1,325.6L697.3,323.2L697.4,320.8L698.4,318.4L698.5,315.7L699.3,311.3L700.9,306.5L701.5,302.2Z" fill="#FFD26E"/>
<path d="M724.4,243.0L725.9,242.5L728.2,242.0L732.0,241.6L736.0,241.2L740.2,241.1L743.9,241.4L746.9,239.9L749.7,238.4L750.8,238.5L751.2,238.9L755.0,237.5L755.0,265.0L753.0,268.2L751.1,268.7L747.8,268.3L744.0,267.7L739.2,267.0L734.7,266.9L732.6,267.9L730.8,268.7L727.2,267.1L723.8,264.8L721.3,264.3L720.5,263.6L721.4,260.4L722.2,257.5L720.6,254.5L719.4,251.1L720.8,246.8Z" fill="#FA0000"/>
<path d="M712.5,297.2L713.7,295.4L715.8,294.4L719.2,292.3L721.0,289.9L722.8,287.8L725.5,285.6L730.5,282.5L734.5,280.7L737.5,279.6L740.9,279.2L745.9,280.7L750.6,282.1L752.6,280.6L753.6,279.0L755.0,280.0L755.0,315.0L753.5,315.2L749.5,314.1L745.3,312.9L740.7,312.1L735.9,311.7L732.7,313.0L732.7,315.1L733.3,317.4L732.0,320.0L728.2,320.5L723.8,317.3L719.1,313.3L715.3,311.0L712.9,309.5L712.4,307.0L712.2,303.6L711.7,300.3Z" fill="#FA0000"/>
<path d="M700.0,312.1L703.4,308.9L707.3,309.4L708.2,311.5L708.9,314.9L709.7,318.9L709.9,322.2L706.3,324.9L701.9,323.9L700.7,321.8L700.0,318.7L699.7,315.1Z" fill="#FA0000"/>
<path d="M731.8,324.4L735.1,323.0L740.0,322.1L744.9,322.0L750.1,322.0L753.6,322.0L755.1,321.4L755.0,322.5L755.0,350.0L753.0,346.5L750.8,345.6L747.6,344.4L743.6,343.5L740.2,342.0L738.2,340.7L736.0,337.9L734.1,333.3L732.8,329.3L731.5,326.6Z" fill="#FA0000"/>
<path d="M593.2,413.9L595.7,413.0L599.1,411.9L602.9,409.7L606.8,407.6L609.2,405.7L612.6,401.3L616.1,395.2L616.9,390.0L614.5,389.7L610.6,390.0L606.8,387.7L604.3,384.6L602.4,382.9L601.5,381.6L603.0,379.4L605.7,376.7L608.4,375.3L611.3,374.0L613.5,371.1L616.0,368.5L618.9,367.5L622.0,365.6L623.1,364.2L625.0,361.7L627.1,359.0L628.6,356.4L631.0,355.3L634.1,354.3L636.6,352.9L638.9,351.9L640.6,349.8L641.5,348.5L647.5,348.2L652.0,347.2L655.6,346.1L658.7,345.9L661.1,347.0L663.4,349.2L665.8,351.3L668.9,352.4L673.3,351.9L677.3,350.7L681.0,349.8L684.4,349.6L687.8,350.6L691.6,351.6L696.4,351.8L700.8,352.1L703.2,351.5L704.8,351.0L706.6,352.4L710.1,354.4L713.6,355.9L717.0,358.2L718.2,361.8L719.7,364.8L724.4,365.9L728.5,365.2L731.7,364.7L735.1,365.4L739.2,366.1L743.1,366.9L746.9,367.9L750.1,368.6L753.3,370.7L755.7,373.5L755.0,372.5L755.0,436.2L670.0,436.2L672.9,436.2L672.5,433.0L670.9,429.5L667.3,426.4L662.2,425.1L657.3,424.4L653.6,423.8L650.2,423.0L647.2,421.7L643.6,419.7L640.9,418.0L638.2,416.4L637.2,415.2L636.0,412.5L633.8,410.4L630.9,411.0L627.9,412.6L625.0,414.4L622.2,415.6L618.3,416.5L614.1,417.0L611.4,417.1L607.8,417.4L604.3,417.5L600.7,417.2L594.9,416.1Z" fill="#FFD26E"/>
<path d="M632.9,374.4L632.7,372.5L633.7,371.0L636.8,368.6L640.2,365.7L642.3,363.2L643.9,360.8L647.1,357.5L651.9,354.8L653.2,355.2L654.0,356.7L655.5,358.3L657.5,359.4L661.5,358.8L666.7,356.7L672.8,354.5L678.5,353.3L682.0,353.8L684.6,355.2L686.7,357.2L688.9,358.8L692.0,359.2L694.9,359.8L697.6,361.5L700.1,363.2L702.8,365.3L703.6,366.7L704.4,367.5L706.5,368.4L709.2,369.2L710.6,370.1L710.8,372.2L711.6,374.1L716.0,374.5L722.9,374.9L728.7,375.7L734.6,376.5L738.3,377.3L741.4,378.1L744.6,377.3L747.7,376.4L751.9,377.6L755.2,378.7L755.6,378.9L755.0,377.5L755.0,436.2L697.5,436.2L698.2,434.9L698.1,429.8L695.5,425.8L692.3,424.4L689.6,422.2L686.7,420.3L682.8,419.7L679.2,419.0L675.6,420.0L673.0,421.9L669.1,422.1L664.6,421.5L661.2,420.0L659.2,417.9L660.3,415.4L661.1,412.2L659.9,409.4L657.8,406.9L653.6,405.9L649.0,406.2L647.3,407.3L646.0,408.7L644.1,409.6L641.1,409.7L636.8,409.6L632.5,409.3L628.3,409.7L624.5,410.8L620.4,411.9L616.4,412.9L612.3,412.8L606.7,409.9L608.9,409.9L612.3,410.0L616.7,409.4L621.0,408.4L624.4,406.4L627.6,404.4L630.9,403.3L633.9,402.6L638.0,401.2L643.1,399.5L647.8,397.7L651.7,396.3L654.4,395.9L656.4,395.5L657.2,393.8L658.2,391.9L658.7,389.2L656.4,386.5L652.8,383.7L650.1,382.6L648.2,383.5L646.2,384.7L642.6,384.2L638.7,383.1L636.5,380.8L634.9,378.3L633.3,376.5Z" fill="#FA0000"/>
<path d="M650.0,377.1L653.8,377.2L657.7,379.4L658.8,383.4L657.9,386.9L654.6,386.7L650.8,384.2L649.2,380.3Z" fill="#FFD26E"/>
<path d="M696.8,367.8L699.6,366.7L702.7,367.2L707.2,369.3L710.1,371.0L711.5,372.0L711.6,372.6L712.4,373.8L713.7,375.7L716.3,377.3L720.7,380.1L724.3,383.4L727.8,386.3L732.5,389.3L735.6,391.3L737.9,392.2L740.4,393.1L743.9,393.7L747.8,393.6L750.7,393.2L751.8,392.7L755.0,395.0L755.0,420.0L754.3,418.1L751.9,418.0L748.6,418.4L744.3,418.2L739.6,417.0L736.2,416.4L732.4,413.8L730.3,410.6L728.8,407.4L726.1,402.8L723.5,400.3L720.4,400.3L716.9,400.4L712.4,399.4L708.1,398.5L704.6,397.6L702.3,395.9L700.5,393.2L698.3,390.5L696.2,388.2L694.5,385.9L692.9,382.4L692.6,377.9L693.8,371.7Z" fill="#C80000"/>
<path d="M697.9,409.5L701.0,407.6L705.2,405.8L709.0,404.9L712.2,405.4L715.3,407.8L716.7,411.3L716.8,414.6L715.0,416.8L711.2,418.2L707.1,418.5L703.9,418.1L701.4,416.8L699.5,415.3L697.1,412.5Z" fill="#C80000"/>
<path d="M455.0,432.5L457.5,432.1L460.8,431.8L464.4,431.4L467.6,431.0L469.7,431.2L470.0,436.2L455.0,436.2Z" fill="#FFD26E"/>
<path d="M745.0,160.0L1130.0,160.0L1130.0,436.2L745.0,436.2Z" fill="#FA0000"/>
<path d="M770.8,229.7L771.6,227.4L772.7,225.6L775.7,222.5L778.7,220.6L780.4,219.4L782.5,218.1L787.6,216.0L792.4,214.2L796.1,212.5L798.2,211.6L798.8,208.3L797.9,203.4L796.7,200.3L794.3,197.3L791.4,195.0L787.8,194.6L784.7,195.5L781.3,197.4L777.7,200.0L773.7,200.0L771.9,197.5L770.4,193.7L768.8,188.7L768.0,184.3L768.6,182.4L770.3,183.3L773.3,184.3L776.8,185.6L780.7,187.8L785.7,189.2L791.0,188.9L795.2,189.3L795.4,190.4L794.9,191.7L797.4,193.6L801.0,195.1L803.6,196.3L806.5,198.1L809.1,199.6L811.6,200.5L815.8,200.7L820.2,200.1L823.3,198.5L826.4,197.6L830.3,199.1L833.5,201.6L835.3,204.0L836.9,206.1L839.7,208.0L841.9,209.1L844.1,209.5L846.8,209.4L849.0,208.3L851.8,207.2L855.8,205.8L859.6,204.4L862.2,203.4L864.8,202.9L867.8,202.4L870.6,202.0L873.0,201.0L875.4,199.9L879.2,199.0L883.1,198.3L886.9,199.1L890.1,199.7L892.7,198.8L895.7,197.9L899.7,199.1L902.4,199.8L905.2,199.2L908.1,198.5L910.9,197.9L914.1,197.5L917.4,196.4L920.8,195.4L925.6,196.2L930.6,197.0L933.8,196.9L936.7,196.8L939.5,197.1L941.7,197.2L944.4,196.4L947.2,195.6L949.2,196.1L952.2,197.0L954.8,198.8L956.9,200.5L960.1,200.3L963.8,199.6L967.2,198.4L969.5,196.5L973.8,193.8L976.6,191.9L978.1,191.2L979.8,190.6L982.4,189.4L986.6,188.5L993.5,187.2L999.7,186.0L1003.8,185.4L1006.5,185.7L1007.2,186.5L1007.9,187.0L1010.2,186.8L1012.8,185.0L1018.3,180.8L1023.0,176.8L1023.8,175.7L1022.4,175.5L1022.2,175.2L1020.9,175.1L1017.7,174.4L1013.7,173.9L1010.3,175.3L1007.0,176.6L1003.4,176.5L1000.8,175.0L998.6,169.3L998.2,162.7L998.9,159.2L995.0,160.0L1130.0,160.0L1130.0,225.0L1131.0,224.2L1129.4,224.1L1125.7,225.4L1121.3,226.8L1119.0,226.9L1116.6,225.9L1111.2,224.2L1105.8,222.3L1102.5,222.7L1099.2,225.1L1095.0,225.9L1091.3,226.8L1087.1,228.6L1083.8,229.6L1082.1,231.1L1080.4,232.7L1078.1,232.9L1074.5,232.8L1069.5,232.8L1064.5,232.8L1061.3,233.4L1059.2,233.8L1056.8,233.9L1054.7,233.9L1053.2,234.2L1051.3,234.9L1047.8,235.5L1046.3,236.0L1043.9,237.8L1039.2,239.2L1035.6,238.6L1031.9,237.9L1028.5,239.1L1025.2,240.0L1022.5,240.0L1019.6,240.1L1015.2,240.7L1011.1,240.7L1006.7,239.6L1002.8,238.4L999.8,237.1L997.3,236.0L995.6,235.4L993.9,234.8L990.7,234.8L987.0,235.2L983.4,236.6L979.8,238.3L975.7,239.6L972.2,240.2L968.8,238.7L965.0,236.9L962.1,236.9L959.5,237.2L956.0,237.0L952.9,236.4L951.9,234.3L950.2,233.1L945.9,234.1L941.3,235.7L937.0,236.7L932.9,236.9L930.4,237.7L927.9,238.7L924.9,238.9L922.2,238.7L919.5,238.4L916.8,237.4L913.6,234.7L909.9,233.2L907.0,235.3L904.3,237.7L900.9,238.2L897.4,238.1L894.4,236.3L891.2,234.3L888.2,234.0L884.4,234.0L881.5,233.4L879.3,233.1L877.9,234.2L875.8,234.4L871.6,232.3L867.9,229.5L864.6,226.8L861.0,225.3L858.2,225.9L855.3,227.2L852.5,226.4L850.1,225.1L846.6,225.1L842.1,224.6L839.1,222.8L836.4,221.2L833.1,220.3L830.1,220.1L826.6,220.9L822.7,221.4L819.2,221.3L816.5,221.4L814.0,222.6L811.5,224.4L809.5,224.4L807.7,225.1L806.1,228.8L804.1,232.5L801.5,235.5L798.9,238.0L795.8,240.4L792.7,241.7L790.0,242.0L787.1,242.5L781.5,242.5L776.6,242.3L775.8,241.8L775.4,240.0L771.8,235.3Z" fill="#C80000"/>
<path d="M1004.5,197.9L1006.0,196.0L1008.5,193.7L1012.7,191.0L1017.2,188.8L1020.8,188.2L1024.2,188.2L1027.3,188.2L1030.2,188.5L1033.0,189.8L1036.6,191.1L1040.5,191.3L1044.3,190.9L1049.4,190.7L1053.3,189.8L1055.1,188.8L1057.1,188.0L1060.1,187.4L1064.2,187.4L1067.2,186.7L1069.5,186.7L1072.8,187.3L1075.9,188.6L1078.9,190.8L1082.2,192.4L1086.1,192.0L1089.8,191.2L1091.9,190.5L1093.8,189.9L1097.3,189.7L1100.4,189.3L1103.9,189.4L1106.9,190.5L1108.5,190.6L1108.6,191.5L1107.6,195.4L1105.4,199.3L1101.8,201.8L1097.5,203.4L1093.6,202.9L1090.5,201.7L1086.8,200.5L1083.2,199.7L1080.3,199.1L1077.2,198.9L1073.3,199.3L1069.6,199.6L1066.2,200.1L1063.1,200.5L1059.9,200.4L1056.7,201.0L1053.6,203.4L1051.0,205.8L1049.3,206.9L1046.7,206.8L1042.4,205.5L1037.5,204.5L1033.7,205.8L1030.6,207.1L1026.0,207.3L1022.0,207.1L1020.6,205.6L1018.9,204.4L1015.7,204.6L1009.9,203.3L1005.3,200.7Z" fill="#FA0000"/>
<path d="M997.1,162.7L998.3,162.0L999.9,161.0L1002.6,160.1L1005.9,159.9L1009.0,159.7L1011.9,159.2L1015.6,159.3L1019.4,159.7L1022.4,159.9L1025.1,160.5L1031.1,162.2L1034.0,164.0L1035.4,167.2L1036.0,171.3L1036.0,174.4L1034.1,176.3L1028.8,177.6L1023.8,177.1L1019.4,175.6L1015.6,174.9L1011.5,174.5L1007.2,174.7L1003.6,176.1L999.7,175.7L997.1,173.4L996.0,170.4L995.8,165.9Z" fill="#690000"/>
<path d="M1050.3,162.7L1052.5,162.2L1055.6,162.1L1059.1,161.9L1062.3,161.9L1064.4,162.9L1064.9,166.0L1061.9,168.3L1058.9,168.7L1055.3,168.6L1052.5,167.7L1049.6,165.2Z" fill="#690000"/>
<path d="M863.9,163.8L866.8,162.7L871.0,162.8L874.4,163.6L875.8,166.8L874.6,169.9L871.1,171.1L867.2,170.2L865.0,168.3L863.6,165.9Z" fill="#690000"/>
<path d="M834.0,192.5L834.8,190.7L836.8,189.6L839.7,188.8L842.8,187.2L846.5,185.7L850.1,183.4L852.5,179.4L854.4,176.7L856.5,176.4L858.3,176.5L861.6,174.3L865.1,172.2L868.9,171.3L873.3,169.9L877.2,168.3L880.7,167.0L884.9,166.1L889.3,165.7L891.2,166.2L892.6,166.4L896.1,165.4L900.2,165.4L902.7,166.3L903.8,166.9L905.8,166.6L910.0,164.8L917.2,161.6L919.8,159.2L922.6,159.2L925.7,160.6L928.3,162.8L931.0,164.6L935.2,164.7L938.7,164.7L940.0,164.2L941.5,163.7L944.8,163.7L947.8,163.3L950.0,162.7L952.3,162.2L955.3,162.6L958.9,163.2L962.8,162.9L966.5,162.7L969.7,162.8L972.9,162.9L975.9,163.5L983.0,165.5L986.4,167.2L987.1,169.4L987.5,172.6L987.8,176.1L987.0,178.3L985.0,180.1L982.5,182.6L979.6,185.0L977.1,187.7L975.1,190.7L972.1,192.8L969.6,194.2L967.4,196.1L964.5,196.9L961.4,196.1L958.4,194.7L955.6,193.5L952.8,193.4L950.2,193.6L947.9,194.0L945.3,194.8L942.3,194.4L939.4,192.1L936.0,190.0L933.6,190.0L931.4,191.0L927.7,192.8L923.7,194.4L919.9,193.8L916.9,192.1L914.7,191.0L913.1,189.7L912.4,188.3L910.3,187.5L905.8,186.4L901.4,185.5L896.9,186.0L893.0,187.2L890.6,188.7L888.2,190.3L885.4,191.3L882.5,191.6L878.9,192.4L874.5,193.6L870.2,195.0L866.8,196.2L864.9,197.0L862.8,197.7L859.7,197.5L856.3,197.8L852.4,200.2L847.9,202.8L843.2,204.2L839.3,204.3L836.4,202.2L834.5,198.4L833.6,195.3Z" fill="#FFD26E"/>
<path d="M848.7,192.3L850.5,190.4L854.1,188.1L858.3,185.2L862.2,182.2L865.4,181.3L868.2,181.1L870.3,180.4L871.7,180.8L874.5,181.2L877.4,180.8L880.1,180.5L883.8,179.2L886.2,177.6L888.2,177.5L891.3,179.4L895.1,182.2L897.0,184.1L897.0,184.3L895.4,184.5L892.9,184.6L890.3,185.2L885.5,187.7L880.9,189.1L876.8,189.1L873.2,189.6L870.9,191.5L869.3,193.5L867.6,194.8L865.2,195.7L861.7,195.7L855.6,195.0L850.4,194.2Z" fill="#FFFFFF"/>
<path d="M900.0,169.3L901.4,166.6L905.1,164.8L910.6,165.4L914.8,167.4L917.6,169.7L919.9,172.6L921.1,175.2L919.6,177.7L916.2,180.2L912.1,180.6L908.1,178.0L903.9,174.2L901.0,171.3Z" fill="#FFFFFF"/>
<path d="M934.5,167.1L936.2,164.8L940.0,164.4L944.6,165.7L947.7,168.5L948.8,172.1L949.6,175.9L951.4,178.4L953.6,180.6L955.0,183.0L955.6,185.4L952.2,188.2L947.0,187.6L944.4,185.4L942.3,182.4L940.3,178.5L938.3,175.7L936.1,172.9L934.7,169.7Z" fill="#FFFFFF"/>
<path d="M965.1,169.4L967.4,167.3L971.4,166.6L975.1,167.5L977.3,170.3L978.3,174.0L978.4,177.1L977.0,179.4L974.3,180.6L971.5,180.4L969.2,178.9L966.7,176.0L965.1,172.4Z" fill="#FFFFFF"/>
<path d="M837.5,196.2L841.0,194.2L845.0,193.8L846.7,196.6L846.2,200.0L843.4,201.5L840.0,201.2Z" fill="#E1FFFF"/>
<path d="M864.6,167.8L865.3,166.7L867.3,165.9L870.7,164.6L874.5,163.6L878.5,162.8L881.8,162.8L885.8,163.4L890.1,163.8L893.5,163.6L896.6,163.3L900.5,163.4L902.0,165.2L899.1,167.4L894.6,169.9L889.8,172.9L886.2,174.7L884.0,174.9L882.0,174.7L879.3,175.1L876.5,175.2L871.9,174.4L867.4,172.8L864.9,170.2Z" fill="#FA0000"/>
<path d="M916.9,179.1L917.7,176.5L919.4,174.1L922.2,172.6L925.2,171.8L929.5,171.8L933.4,173.2L935.5,176.1L935.4,179.3L934.3,182.7L932.8,184.8L930.5,186.6L926.9,188.7L923.3,188.8L920.2,186.8L917.7,184.5L916.5,182.1Z" fill="#FA0000"/>
<path d="M955.0,163.2L957.9,161.6L962.0,160.7L966.3,160.3L970.0,160.8L971.1,162.1L970.4,165.1L968.9,168.8L966.7,172.5L964.4,175.4L960.2,178.7L956.9,178.1L956.1,176.1L954.6,172.9L953.8,169.3L954.0,165.7Z" fill="#FA0000"/>
<path d="M923.7,162.3L926.0,161.7L929.4,161.7L933.2,162.5L936.7,163.3L939.3,163.2L938.6,165.2L933.6,168.2L930.0,169.5L926.7,170.3L924.5,169.8L922.3,166.2Z" fill="#C80000"/>
<path d="M957.8,180.3L960.2,178.4L963.9,177.8L967.2,178.7L969.1,181.4L969.9,185.1L969.3,188.3L965.4,190.3L960.5,189.7L958.1,187.1L957.2,183.4Z" fill="#C80000"/>
<path d="M884.8,178.5L887.2,176.6L891.5,175.1L895.2,174.9L898.6,176.5L899.7,179.1L898.0,180.9L895.2,182.9L892.2,183.6L888.9,182.5L885.8,180.5Z" fill="#FA0000"/>
<path d="M789.0,221.1L791.3,218.9L794.5,217.1L795.4,214.8L796.9,212.4L800.4,210.5L803.8,208.9L806.5,207.7L809.5,206.9L813.0,206.4L817.0,205.7L822.0,204.9L826.3,205.1L828.8,206.6L830.7,209.0L832.9,214.1L833.9,218.9L834.2,221.8L833.4,223.7L831.5,224.9L828.2,225.5L823.7,225.1L819.1,224.0L815.2,223.5L812.3,224.5L809.4,226.5L806.0,228.3L804.0,230.0L801.9,231.3L797.7,231.3L793.3,229.3L790.1,225.4Z" fill="#FFD26E"/>
<path d="M799.4,218.8L800.7,216.1L803.1,213.4L805.6,212.0L810.0,213.1L812.2,216.5L811.0,219.5L808.4,222.0L805.7,223.1L801.5,221.8Z" fill="#FFFFFF"/>
<path d="M816.7,217.0L820.6,215.2L825.2,215.1L826.9,218.2L826.6,221.6L824.1,222.9L820.6,222.6L817.5,220.1Z" fill="#FFFFFF"/>
<path d="M877.5,212.5L880.4,211.1L883.8,211.2L885.0,216.2L882.1,217.6L878.8,217.5Z" fill="#FFD26E"/>
<path d="M1033.0,188.7L1035.8,187.0L1039.9,185.7L1043.2,185.8L1045.2,188.8L1044.2,192.5L1039.7,194.9L1035.1,194.9L1032.7,192.0Z" fill="#FFD26E"/>
<path d="M1112.0,167.0L1113.7,165.9L1116.8,164.6L1121.2,163.1L1125.7,161.8L1128.7,161.4L1130.0,162.5L1130.0,175.0L1129.3,174.8L1125.4,173.9L1120.4,173.0L1115.7,171.5L1112.3,169.3Z" fill="#FFD26E"/>
<path d="M784.4,279.4L788.2,277.1L792.8,277.4L797.2,275.7L800.8,273.8L803.1,273.2L805.8,272.9L809.8,272.7L813.9,272.3L816.5,271.2L819.0,269.5L822.0,267.8L825.3,266.9L829.5,266.8L832.8,267.3L834.9,269.0L837.6,269.9L841.1,269.7L843.8,269.1L846.4,267.2L849.0,265.8L852.4,266.6L857.0,268.1L862.6,268.7L867.2,268.7L870.6,269.2L874.5,269.7L877.9,269.3L881.0,268.3L883.6,266.5L885.2,264.1L887.4,262.3L890.3,261.7L893.5,262.1L896.8,263.0L900.2,264.9L903.3,266.4L906.6,265.4L910.0,262.8L913.6,261.4L916.7,260.6L919.6,259.8L923.6,258.6L928.3,257.5L932.8,256.4L936.1,254.8L937.9,254.2L938.5,256.1L939.8,258.5L942.3,260.6L944.5,261.7L947.3,260.1L950.5,257.2L953.6,255.7L957.0,255.4L960.4,255.2L963.3,255.2L966.0,255.9L969.5,256.1L974.1,254.9L978.5,253.5L981.3,253.9L985.0,255.4L988.9,256.5L992.4,257.1L995.5,258.3L998.9,260.0L1001.9,260.8L1003.1,260.6L1005.2,259.9L1007.3,259.0L1010.6,258.6L1014.2,258.5L1017.4,257.7L1020.4,256.8L1022.6,255.8L1024.4,254.6L1027.9,254.0L1032.3,253.9L1035.9,252.9L1038.7,251.6L1042.5,249.2L1045.5,244.8L1046.3,241.6L1045.6,239.8L1046.8,236.6L1050.5,235.5L1053.3,236.6L1056.5,237.6L1060.3,237.8L1063.6,236.9L1068.2,236.8L1073.6,236.8L1076.5,236.9L1079.0,236.8L1080.9,234.9L1083.2,232.1L1085.4,230.9L1088.3,231.2L1093.2,230.9L1098.2,230.4L1102.2,230.0L1106.2,229.5L1110.6,230.3L1115.0,232.0L1119.3,232.8L1122.1,233.7L1124.7,233.9L1126.9,233.0L1128.4,233.5L1130.0,228.8L1130.0,436.2L1067.5,436.2L1062.3,433.2L1060.6,431.8L1059.1,430.7L1057.9,429.5L1055.8,428.1L1052.5,426.2L1049.2,425.9L1044.8,425.7L1040.6,425.4L1037.1,425.2L1033.8,423.3L1030.4,420.7L1027.5,418.7L1025.0,417.8L1021.0,417.2L1015.1,416.6L1010.4,415.4L1007.3,412.6L1005.0,410.1L1003.8,408.4L1001.9,406.1L999.1,403.9L996.0,402.8L992.6,402.7L989.1,401.8L986.1,401.1L983.0,400.9L979.2,399.9L976.4,400.1L974.9,400.8L972.3,399.2L967.5,395.8L963.7,393.2L960.5,392.6L957.0,391.0L954.5,388.1L951.5,385.9L949.2,385.0L946.9,385.0L943.2,384.9L940.0,384.8L936.1,383.5L932.9,381.5L931.5,380.5L929.8,378.9L928.0,377.4L924.2,376.1L920.1,374.7L915.8,373.3L912.8,371.8L909.8,370.6L905.7,370.2L901.7,369.4L898.1,367.0L895.3,364.9L893.6,362.9L892.1,361.1L889.2,360.6L886.1,359.8L882.8,358.6L879.3,357.1L876.0,354.9L872.7,353.4L869.6,352.8L866.3,352.4L862.9,352.6L860.0,352.0L857.7,349.9L855.9,348.4L854.5,347.8L851.8,347.0L848.4,346.9L844.8,346.0L840.9,343.4L836.8,342.5L832.5,343.5L828.5,344.6L825.4,346.3L823.5,346.9L824.1,344.8L826.4,344.0L828.7,341.9L832.0,339.7L836.2,338.6L840.0,337.8L843.4,337.1L846.6,336.8L849.2,336.8L853.4,336.2L860.6,334.6L864.9,332.7L864.1,328.5L861.2,324.2L856.5,322.8L851.5,322.1L848.8,323.2L846.7,324.0L843.2,323.3L839.8,322.0L837.5,320.3L834.1,320.0L829.6,320.6L827.0,320.4L828.2,316.8L831.0,311.2L833.4,306.9L835.4,303.9L837.1,302.1L836.5,301.6L834.2,301.3L831.4,299.3L828.0,295.8L824.1,292.3L820.6,290.1L817.3,288.6L815.5,288.3L814.0,288.2L810.7,287.4L807.0,287.4L804.9,288.6L803.1,289.6L799.8,288.5L796.0,287.0L792.2,286.4L788.3,285.1L785.0,283.6Z" fill="#FFD26E"/>
<path d="M847.1,283.5L847.4,282.2L848.4,280.7L851.1,280.3L854.6,280.3L859.2,280.2L863.9,280.6L866.6,281.9L869.0,282.8L871.9,281.3L874.3,280.3L877.9,281.0L881.7,281.3L886.2,280.7L890.9,280.0L893.0,278.1L894.9,276.4L898.0,276.6L900.2,276.3L901.4,273.9L903.7,272.3L907.0,274.1L910.8,276.5L915.6,275.6L920.0,274.2L922.8,273.4L925.3,271.9L928.1,270.6L930.9,270.1L935.5,270.8L940.0,272.0L942.8,272.3L945.3,272.0L948.2,270.9L951.1,269.8L953.8,269.3L956.8,268.6L960.8,267.3L965.0,265.9L968.9,265.2L972.8,265.1L975.6,264.2L978.5,262.8L982.7,261.9L986.7,261.6L989.6,262.7L991.8,264.5L995.0,266.9L997.3,269.1L1000.7,271.2L1002.7,271.8L1006.2,271.0L1010.1,270.1L1012.2,268.5L1013.1,266.8L1014.7,266.1L1017.3,265.5L1021.3,265.0L1026.6,264.0L1031.4,261.5L1035.2,259.4L1038.5,259.5L1041.0,259.9L1042.2,259.5L1043.4,258.8L1046.4,257.1L1049.4,255.3L1053.7,252.9L1056.8,251.8L1060.9,254.0L1065.4,256.5L1068.8,258.1L1071.9,259.2L1073.9,257.7L1076.6,255.6L1081.1,255.5L1085.4,255.8L1088.4,255.2L1089.8,254.9L1090.6,255.2L1092.4,254.3L1096.5,251.7L1101.4,249.0L1105.3,247.3L1107.4,243.6L1110.0,239.2L1111.5,237.3L1112.9,236.6L1115.6,235.9L1120.5,235.4L1125.4,235.3L1128.2,234.1L1129.9,232.9L1130.0,233.8L1130.0,436.2L1080.0,436.2L1078.5,435.8L1074.4,433.3L1073.1,433.0L1070.9,434.3L1067.6,434.8L1064.3,432.3L1060.3,429.2L1056.3,426.8L1053.2,424.9L1048.9,423.1L1044.8,421.5L1043.2,421.5L1041.2,421.1L1037.8,419.8L1034.4,418.3L1031.0,416.7L1028.0,415.3L1024.4,414.5L1020.6,413.3L1017.4,411.3L1014.0,409.5L1011.2,408.2L1008.3,407.2L1004.4,407.0L1000.9,406.6L997.9,404.2L995.0,401.1L991.8,399.3L988.3,397.9L985.4,397.0L982.6,396.7L979.2,396.0L976.0,394.7L973.6,393.9L971.5,391.9L969.8,387.5L967.5,384.1L963.7,384.2L960.2,385.2L957.8,384.5L955.3,383.2L952.2,383.2L948.9,383.1L945.4,381.0L941.8,378.8L939.1,376.9L935.9,375.1L931.1,374.2L927.2,373.5L925.5,371.6L923.5,368.6L921.4,365.6L918.7,363.2L916.0,363.0L912.9,363.9L908.4,365.0L903.9,365.1L901.5,363.6L899.7,362.1L897.7,361.7L895.3,361.4L892.7,358.4L888.8,354.1L884.3,351.0L880.5,348.7L877.8,347.7L875.3,347.1L871.9,346.2L868.1,345.1L865.7,344.4L863.6,344.6L861.1,344.7L857.4,344.3L852.2,344.7L846.9,345.1L844.5,343.7L846.6,340.5L850.7,338.0L853.8,336.2L859.1,334.5L863.4,333.8L864.9,332.6L866.2,331.6L868.9,331.6L871.3,331.6L874.1,331.9L877.7,332.3L881.8,332.1L884.8,331.5L890.7,331.9L897.3,332.3L899.9,331.5L898.7,327.9L895.6,324.4L892.4,323.0L888.4,321.1L884.7,319.3L881.8,318.7L877.3,318.5L871.6,317.7L867.0,316.2L865.2,313.3L864.0,308.6L861.9,303.9L859.2,300.6L856.7,299.3L854.9,298.9L853.9,298.6L852.1,296.9L849.2,293.1L846.9,289.1L846.3,285.8Z" fill="#FFFFFF"/>
<path d="M1096.4,429.3L1098.0,428.4L1100.2,427.5L1102.7,426.4L1105.1,425.6L1108.2,425.6L1113.4,427.2L1117.0,429.2L1117.5,430.8L1115.8,431.8L1112.0,433.3L1107.7,434.2L1103.8,434.2L1100.7,434.0L1096.2,432.1Z" fill="#FFD26E"/>
<path d="M908.6,343.8L909.5,340.7L912.0,337.3L913.3,335.8L915.6,334.1L919.5,331.6L924.4,329.9L928.8,329.8L932.8,329.4L936.6,329.2L939.6,329.2L940.4,329.0L941.5,328.4L944.8,326.4L948.9,324.3L952.8,324.5L956.3,324.9L958.9,323.1L962.9,320.1L968.2,317.7L973.0,316.1L976.1,316.1L978.1,317.7L981.4,320.2L985.6,322.0L988.1,320.9L989.9,319.4L992.8,318.6L995.7,318.0L997.3,319.1L999.3,321.3L1002.9,322.1L1006.5,322.5L1009.5,322.6L1012.7,322.3L1016.9,321.8L1020.7,321.5L1023.8,321.5L1026.3,321.0L1028.2,320.2L1028.0,319.9L1030.6,319.1L1034.7,317.5L1038.9,315.2L1042.9,313.0L1046.5,312.3L1049.6,312.0L1053.3,312.8L1057.2,313.5L1060.7,312.7L1063.6,312.0L1066.5,310.6L1069.3,309.2L1070.7,309.4L1072.1,309.4L1076.0,307.7L1079.7,305.8L1083.0,304.2L1086.3,302.5L1088.9,301.1L1091.4,299.7L1095.5,298.7L1099.9,298.4L1103.0,297.7L1106.6,297.0L1110.5,296.9L1114.3,296.4L1118.4,296.2L1122.3,296.1L1126.2,294.7L1129.4,293.9L1130.4,294.7L1130.0,295.0L1130.0,433.8L1131.2,434.4L1130.7,433.3L1129.3,431.9L1125.9,429.6L1121.4,427.9L1116.5,427.1L1111.5,426.3L1106.5,425.8L1102.6,425.1L1100.6,423.8L1098.3,422.5L1095.3,421.9L1091.6,421.5L1087.1,420.7L1082.6,419.8L1079.7,418.4L1078.0,416.6L1076.0,415.7L1074.2,414.5L1071.2,413.3L1067.2,413.0L1063.3,412.9L1059.2,413.0L1055.4,411.3L1052.7,408.6L1051.2,407.9L1050.0,407.2L1047.5,405.9L1043.9,404.7L1040.3,403.1L1036.5,401.4L1031.5,398.9L1027.2,397.1L1026.4,396.5L1025.7,395.9L1021.6,394.9L1017.1,393.8L1014.2,392.9L1011.3,392.4L1008.5,391.4L1005.8,389.8L1002.8,389.1L999.4,388.3L993.8,386.7L988.6,385.0L985.4,382.9L982.3,380.3L980.2,377.8L978.3,376.2L976.5,375.3L974.7,374.6L971.1,373.9L967.2,373.0L963.4,371.6L959.7,370.3L956.1,368.6L953.0,366.9L949.6,367.2L945.0,367.2L941.5,365.8L938.6,364.3L935.9,364.0L933.5,364.2L930.6,363.2L927.4,361.3L925.4,359.0L923.7,356.3L921.2,354.2L918.9,353.1L916.0,351.2L912.6,349.0L909.9,346.1Z" fill="#E1FFFF"/>
<path d="M926.9,310.4L926.9,307.1L927.8,303.3L929.8,300.6L932.1,299.5L935.5,298.4L939.3,298.5L943.2,300.2L947.0,303.2L949.6,306.6L950.6,309.5L948.7,310.3L945.4,310.5L942.0,311.4L938.3,312.5L934.8,313.1L931.4,313.2L927.9,312.7Z" fill="#E1FFFF"/>
<path d="M1081.5,270.3L1082.9,269.0L1085.0,267.6L1088.4,266.9L1092.0,266.7L1094.8,266.4L1098.1,267.0L1101.4,268.8L1103.7,271.0L1105.1,273.1L1104.2,275.6L1101.1,277.7L1097.3,279.0L1093.7,278.8L1089.8,278.0L1086.8,278.3L1084.1,278.5L1080.6,274.6Z" fill="#E1FFFF"/>
<path d="M1107.6,259.4L1111.0,258.3L1116.5,258.0L1121.8,257.5L1125.8,257.3L1125.0,257.5L1130.0,270.0L1127.9,268.6L1124.5,270.0L1120.9,272.2L1117.7,274.3L1115.8,275.0L1113.9,273.4L1111.2,270.7L1109.0,267.4L1107.5,262.9Z" fill="#E1FFFF"/>
<path d="M906.9,343.3L908.9,343.1L912.8,342.5L917.7,340.0L922.6,338.0L925.6,336.4L929.3,335.0L934.9,333.9L939.8,332.7L941.6,332.1L941.1,332.1L940.7,332.4L941.6,332.2L945.8,330.8L951.3,329.2L954.8,328.0L957.2,327.2L960.9,326.1L964.4,323.8L966.5,322.0L968.1,320.7L971.3,320.9L974.4,322.3L977.8,323.1L981.8,323.2L985.0,323.5L988.3,323.9L992.2,324.3L996.0,324.7L999.6,324.7L1003.3,325.0L1006.9,325.2L1010.3,325.2L1013.2,324.9L1015.5,323.7L1017.1,322.5L1019.6,321.9L1023.1,321.0L1030.1,320.5L1032.2,321.5L1034.2,322.8L1037.2,322.8L1041.2,322.6L1045.1,322.6L1049.1,322.2L1052.5,322.8L1054.4,323.5L1056.7,322.8L1059.5,322.0L1063.1,321.2L1067.9,320.2L1072.1,320.9L1076.3,323.1L1080.2,322.8L1083.6,321.2L1087.5,321.2L1091.9,321.7L1095.5,321.6L1098.7,320.6L1102.9,319.9L1107.4,319.4L1111.3,319.1L1114.9,319.7L1117.5,321.1L1118.6,323.0L1121.4,324.4L1125.6,325.7L1128.3,324.9L1129.9,322.5L1131.4,321.4L1131.5,320.9L1130.0,322.5L1130.0,412.5L1129.9,414.5L1127.7,415.4L1124.3,414.6L1120.4,412.6L1115.8,411.1L1111.0,409.6L1108.1,409.0L1107.1,408.4L1105.3,408.4L1101.6,410.0L1097.9,409.5L1095.0,407.4L1090.9,405.9L1085.6,405.1L1081.7,404.7L1079.3,405.7L1076.2,405.5L1072.0,403.2L1069.9,402.4L1070.7,402.9L1069.5,402.8L1065.2,401.6L1061.1,400.6L1058.4,400.5L1055.1,400.0L1051.7,399.6L1049.1,399.0L1046.8,398.2L1044.1,397.1L1039.2,394.9L1034.7,393.3L1030.8,393.1L1026.9,392.4L1023.1,390.7L1020.2,389.0L1017.9,387.2L1015.0,385.0L1012.3,382.6L1009.1,381.2L1003.9,381.6L999.4,382.1L996.6,381.6L994.4,380.5L992.4,378.8L990.7,377.0L988.7,374.9L985.4,373.5L980.3,372.5L975.3,371.6L971.0,370.9L967.4,369.6L964.7,368.5L962.3,367.0L960.8,365.2L958.8,364.0L955.0,362.9L951.0,362.2L947.8,362.9L944.2,362.9L942.7,361.2L942.0,359.5L939.0,358.0L935.2,356.3L932.7,354.7L929.6,353.5L925.8,353.4L922.3,352.9L916.8,350.1L911.2,347.0L908.1,344.9Z" fill="#50A5F5"/>
<path d="M1116.2,293.3L1119.1,292.2L1123.9,291.5L1128.2,291.3L1130.0,291.2L1130.0,300.0L1127.0,300.6L1122.0,299.5L1117.5,296.4Z" fill="#50A5F5"/>
<path d="M934.3,343.7L935.7,340.7L938.8,337.5L943.3,335.9L946.7,335.0L950.7,334.1L955.2,333.8L959.8,333.9L963.7,333.7L965.4,333.8L966.9,334.8L969.9,337.3L972.8,339.6L976.0,339.5L979.2,339.3L983.0,339.7L986.7,340.5L989.8,343.5L992.3,346.8L996.9,350.0L1001.4,354.8L999.5,358.2L994.8,359.0L990.3,358.3L985.2,357.6L983.3,357.3L981.6,356.9L977.4,356.6L973.1,356.4L970.1,356.3L967.1,356.5L964.5,356.0L962.2,355.3L959.1,356.7L955.8,358.2L951.6,357.3L948.1,356.2L944.1,354.2L939.9,350.9L935.4,347.1Z" fill="#1964D2"/>
<path d="M990.9,359.4L992.2,358.4L995.1,358.0L999.0,357.5L1002.0,357.2L1006.1,357.7L1012.8,358.8L1017.8,359.1L1021.7,359.6L1024.1,360.8L1026.2,361.9L1029.7,361.5L1033.0,360.2L1036.7,359.7L1040.3,359.2L1042.5,358.6L1044.7,358.1L1047.5,357.4L1051.0,356.6L1055.5,356.0L1059.8,355.5L1063.0,354.2L1065.7,351.9L1068.6,351.1L1071.4,351.3L1074.3,350.4L1077.8,349.5L1082.1,350.1L1087.6,350.5L1090.3,349.3L1091.3,347.2L1093.2,348.5L1094.4,353.0L1094.2,356.2L1094.2,359.4L1092.9,363.1L1090.8,367.9L1088.6,371.0L1084.8,372.0L1082.3,372.5L1078.7,373.3L1075.9,373.5L1074.0,373.3L1070.9,372.4L1067.0,370.6L1063.3,369.2L1060.6,368.1L1058.0,367.4L1054.8,367.7L1050.8,367.7L1047.6,367.1L1044.4,367.2L1041.3,368.2L1038.0,369.0L1034.7,368.5L1031.2,368.2L1026.8,369.7L1022.8,370.1L1018.4,369.2L1014.9,368.5L1011.6,366.5L1007.8,364.3L1006.1,362.7L1004.2,361.9L1000.9,361.9L996.2,361.6L992.3,360.8Z" fill="#1964D2"/>
<path d="M1100.0,350.0L1103.8,348.0L1107.5,347.5L1107.8,350.4L1106.2,353.8L1101.2,353.8Z" fill="#1964D2"/>
<path d="M745.0,285.0L747.3,282.9L750.4,283.0L754.2,281.8L758.5,280.8L762.7,281.2L766.2,282.9L768.7,285.2L770.6,287.8L772.8,290.8L775.2,293.7L776.2,296.5L775.6,298.7L775.0,302.4L774.3,306.4L771.2,308.7L766.5,309.3L762.1,308.6L755.7,306.9L750.5,305.4L748.7,304.5L747.6,303.8L745.0,305.0Z" fill="#FFD26E"/>
<path d="M764.0,328.1L765.8,327.2L768.6,326.5L772.8,324.8L777.3,323.3L780.5,323.0L783.9,323.7L787.0,326.1L788.7,329.5L789.7,332.5L789.4,335.6L787.6,337.4L785.3,337.7L782.6,338.0L779.3,338.2L775.6,337.9L771.6,337.4L767.8,336.5L763.6,332.5Z" fill="#FFD26E"/>
<path d="M787.8,350.4L791.7,349.3L794.8,348.2L796.2,346.5L798.1,345.2L801.6,346.8L805.1,349.4L807.7,349.5L810.3,349.0L813.5,350.1L817.2,352.0L819.4,354.3L820.5,357.0L821.9,358.6L822.3,360.0L823.6,364.1L826.0,368.3L827.8,371.2L829.6,373.3L832.4,374.1L834.5,374.9L834.2,377.5L832.8,381.4L831.1,385.4L829.4,388.8L826.6,390.9L821.3,389.3L818.2,385.3L815.6,383.0L813.0,382.9L810.0,385.1L807.0,387.9L803.4,391.4L800.4,393.6L797.8,393.8L794.5,395.8L793.6,398.2L790.9,398.6L786.1,397.6L782.0,396.7L777.6,395.5L775.1,393.9L775.2,391.1L774.0,386.6L771.7,381.9L770.2,378.0L769.1,376.3L765.8,374.8L762.2,373.7L757.9,372.9L754.4,372.7L750.8,372.7L746.3,371.7L745.0,372.5L745.0,360.0L744.7,360.6L745.7,359.2L747.7,357.1L752.1,355.3L756.9,354.5L761.3,354.1L765.5,354.0L768.4,352.1L771.8,349.7L776.0,350.3L780.4,351.1L784.2,350.9Z" fill="#C80000"/>
<path d="M771.5,235.1L774.5,233.2L778.9,232.7L782.4,233.2L784.5,235.6L785.4,239.2L784.7,241.9L781.8,244.2L777.7,245.6L774.3,244.9L772.2,242.1L771.0,238.3Z" fill="#C80000"/>
<path d="M740.0,377.5L742.5,376.1L744.0,376.8L747.1,378.6L750.9,379.9L754.3,379.3L758.1,378.9L762.9,380.4L767.2,382.1L768.6,383.4L769.0,385.0L772.2,386.4L775.8,387.7L778.7,389.2L781.6,390.1L784.6,390.3L788.2,391.4L791.0,392.4L793.5,393.6L796.5,395.9L798.9,398.1L800.7,400.4L801.7,403.7L800.1,405.8L797.2,408.2L793.2,412.2L790.3,415.5L787.5,418.4L784.6,420.7L781.9,421.6L779.1,422.5L776.0,423.7L772.9,425.0L769.4,426.6L765.8,427.9L762.6,428.5L759.6,429.3L756.8,429.5L754.0,429.5L751.1,430.4L748.0,431.5L745.0,431.9L743.0,432.1L740.0,435.0Z" fill="#C80000"/>
<path d="M873.1,382.0L875.8,378.7L877.3,375.5L878.7,372.8L880.8,370.7L883.1,369.7L885.7,368.9L888.9,368.5L891.6,368.7L894.2,369.4L897.0,370.2L899.8,370.6L902.1,371.0L905.6,373.1L909.1,375.0L910.9,375.8L912.8,377.0L916.3,378.9L920.4,381.3L924.0,382.9L927.1,383.9L929.9,384.8L932.8,385.6L935.6,386.9L938.5,388.4L941.1,389.0L943.0,390.0L945.3,392.8L948.2,395.3L949.2,397.0L950.5,398.9L955.1,400.4L960.0,402.0L963.9,402.6L968.1,403.3L971.7,405.2L974.6,406.8L976.1,408.3L977.4,408.8L980.7,408.3L984.3,408.9L987.2,410.1L989.6,412.3L990.2,416.0L991.3,418.8L995.3,421.0L999.6,423.8L1003.0,425.4L1006.4,426.6L1008.8,427.0L1010.7,426.4L1013.0,426.1L1015.4,426.8L1018.4,429.6L1024.5,435.4L1025.0,436.2L865.0,436.2L867.8,434.5L866.6,433.2L866.2,430.1L865.5,426.3L864.2,422.2L862.4,418.4L860.8,415.7L859.0,412.4L857.4,409.4L855.9,406.5L855.3,403.9L856.0,400.8L856.1,397.3L856.4,394.0L857.2,392.2L858.7,390.1L861.4,388.0L865.5,386.1L870.0,384.1Z" fill="#C80000"/>
<path d="M947.5,416.6L949.2,414.8L952.1,413.6L955.3,413.0L958.7,413.3L961.8,412.9L963.8,413.1L965.8,416.6L968.3,420.2L971.7,420.6L975.6,420.5L978.5,420.8L980.8,422.7L983.7,427.7L986.7,433.0L988.2,435.4L985.0,436.2L950.0,436.2L952.4,433.6L950.1,430.9L947.9,427.6L947.4,423.2L947.1,419.6L946.9,418.0Z" fill="#FA0000"/>
<path d="M881.4,391.7L884.3,389.7L888.3,389.3L892.5,390.0L896.3,391.2L898.4,392.2L899.4,393.7L900.0,396.1L900.2,398.9L900.1,402.2L899.7,405.9L898.6,409.2L896.4,411.1L892.6,411.5L888.6,410.0L885.1,406.6L883.4,403.5L882.4,400.0L881.9,396.2L881.2,393.5Z" fill="#690000"/>
<path d="M919.5,420.2L922.4,418.9L926.3,418.6L929.0,419.2L930.1,423.3L929.0,428.2L925.6,430.4L921.9,430.0L920.3,427.4L919.2,423.4Z" fill="#690000"/>
<path d="M905.0,422.5L908.6,422.8L912.5,425.0L910.0,430.0L907.9,428.1L905.7,424.8Z" fill="#690000"/>
<path d="M826.7,407.6L827.9,405.3L830.3,404.6L833.4,405.5L835.6,407.0L838.8,408.7L842.0,411.0L843.5,413.7L844.0,417.7L843.6,421.4L841.6,423.8L839.5,424.5L836.8,424.3L833.0,422.9L829.6,420.7L827.2,418.0L825.6,414.5L825.7,410.6Z" fill="#FFD26E"/>
<path d="M1120.0,237.5L1121.0,239.0L1123.4,237.2L1126.8,235.9L1131.0,235.0L1134.9,233.5L1138.3,232.5L1142.0,232.5L1145.9,232.0L1150.0,229.2L1154.3,224.9L1157.2,221.8L1159.8,220.2L1161.9,219.7L1162.9,220.4L1165.4,221.6L1169.1,222.0L1173.1,219.9L1177.3,217.6L1180.6,217.3L1182.8,217.0L1185.1,216.8L1188.3,216.2L1193.4,214.4L1198.8,212.9L1201.9,210.6L1204.2,208.2L1205.8,206.5L1206.4,205.3L1209.4,206.4L1213.4,209.2L1217.0,212.3L1219.4,214.8L1220.3,217.0L1221.0,220.2L1221.9,222.7L1222.8,224.6L1224.4,228.0L1226.1,231.8L1227.9,235.0L1230.2,237.8L1231.7,241.5L1232.9,245.1L1234.6,246.8L1236.1,247.3L1238.1,248.5L1241.4,249.5L1245.3,251.1L1248.6,253.6L1251.9,255.4L1254.0,257.5L1254.5,258.9L1255.9,258.7L1260.0,258.2L1266.8,258.2L1272.3,257.0L1275.5,254.8L1278.1,254.1L1279.1,254.2L1279.7,253.6L1280.9,253.5L1283.8,252.1L1287.8,250.0L1291.7,248.3L1295.7,247.8L1300.0,248.7L1300.5,249.0L1300.8,249.6L1301.5,249.6L1303.6,250.6L1307.4,252.6L1310.8,254.3L1313.3,255.1L1315.9,256.4L1318.7,258.4L1321.8,259.6L1325.0,260.2L1328.5,261.6L1333.1,263.5L1337.6,265.7L1342.9,267.1L1346.5,269.0L1347.7,272.6L1350.4,274.5L1354.6,275.6L1358.3,277.1L1361.7,278.3L1365.4,278.9L1369.2,279.6L1372.7,281.1L1375.3,282.9L1377.5,285.3L1379.3,288.4L1381.7,290.1L1383.9,289.9L1385.6,290.6L1387.3,291.5L1389.5,292.6L1393.2,293.8L1395.9,294.3L1396.7,294.6L1397.6,295.6L1399.8,298.9L1402.6,302.9L1404.2,305.3L1404.8,307.8L1402.9,310.1L1401.2,312.9L1401.0,316.3L1400.9,320.0L1400.1,324.5L1399.4,328.4L1398.3,332.0L1397.5,335.6L1398.5,338.4L1399.7,341.5L1401.1,344.8L1401.7,347.8L1400.1,349.8L1398.3,350.2L1396.9,351.5L1396.8,353.7L1398.6,356.2L1401.0,359.3L1403.5,362.4L1405.1,365.6L1406.0,370.5L1406.6,375.3L1407.5,379.6L1408.7,383.8L1409.3,388.3L1410.8,392.9L1412.8,397.1L1414.2,401.2L1415.6,403.9L1416.5,405.9L1418.2,408.5L1420.1,411.8L1420.3,415.3L1421.0,418.7L1421.9,422.8L1422.6,426.3L1423.5,429.1L1424.3,432.1L1425.1,434.5L1425.8,436.0L1425.7,437.3L1425.0,436.2L1120.0,436.2Z" fill="#E1FFFF"/>
<path d="M1345.0,265.0L1375.0,265.0L1455.0,265.0L1455.0,300.0L1425.0,297.5L1400.0,295.0L1385.0,305.0L1375.0,310.0L1365.0,300.0L1350.0,280.0Z" fill="#FFFFFF"/>
<path d="M1125.0,260.0L1125.8,259.5L1129.5,258.5L1134.1,258.5L1138.4,258.8L1142.6,258.1L1145.8,257.8L1147.7,257.7L1149.4,258.2L1152.1,259.5L1154.6,260.9L1156.4,261.2L1157.7,260.8L1160.1,261.0L1163.2,260.9L1167.2,262.7L1171.9,265.5L1175.5,266.9L1178.6,268.6L1181.7,270.6L1184.3,272.6L1186.7,275.8L1187.8,278.1L1188.4,281.7L1188.8,285.5L1187.1,287.9L1183.4,289.1L1178.8,288.9L1173.0,288.6L1168.9,287.3L1166.9,285.7L1164.6,284.0L1162.1,282.0L1159.1,280.3L1155.7,280.1L1152.6,279.6L1149.7,277.6L1146.6,276.5L1144.1,276.2L1141.4,275.7L1138.4,276.0L1136.3,275.8L1134.6,273.5L1132.1,271.2L1129.1,268.4L1126.3,264.6L1124.7,261.4Z" fill="#FFFFFF"/>
<path d="M1231.5,298.6L1233.7,297.5L1235.6,296.6L1237.7,295.5L1240.5,294.6L1243.9,294.2L1248.1,294.1L1252.5,294.8L1256.2,295.9L1259.4,296.9L1262.1,298.6L1264.5,301.8L1265.0,306.1L1265.1,310.4L1264.8,312.8L1263.9,315.0L1262.2,316.8L1260.7,319.6L1259.1,323.4L1257.6,327.0L1257.1,329.1L1255.2,331.7L1251.7,335.3L1248.6,336.6L1245.7,335.9L1242.7,335.8L1240.0,336.4L1236.9,336.6L1233.1,334.8L1230.3,333.3L1228.6,333.2L1227.4,330.2L1226.9,324.8L1226.5,319.9L1225.1,317.6L1224.3,315.4L1224.0,311.7L1224.7,306.6L1227.5,302.1Z" fill="#FFFFFF"/>
<path d="M1272.4,321.6L1274.9,320.3L1278.8,319.2L1282.7,317.8L1287.0,316.8L1290.7,316.3L1293.0,316.6L1295.2,317.7L1297.7,318.8L1300.7,319.3L1304.2,319.2L1308.4,319.3L1312.6,320.0L1315.2,320.8L1316.4,322.0L1317.4,322.6L1319.2,322.8L1321.7,323.3L1325.3,323.9L1330.4,324.1L1335.3,324.4L1339.8,324.1L1345.3,323.8L1348.0,324.8L1349.0,326.4L1349.9,328.5L1349.1,331.4L1345.4,334.0L1342.8,335.1L1338.5,335.8L1333.7,336.1L1330.6,337.0L1327.3,337.8L1322.4,337.4L1318.2,336.6L1316.0,336.1L1314.1,335.2L1311.9,334.6L1309.0,334.4L1305.5,334.7L1301.9,335.1L1298.0,334.7L1294.3,334.2L1290.2,334.0L1285.9,333.8L1283.0,334.3L1280.0,333.2L1277.4,330.3L1275.7,327.2L1273.5,324.2Z" fill="#FFFFFF"/>
<path d="M1190.6,246.0L1192.3,244.1L1194.8,242.7L1197.6,241.7L1200.0,241.5L1203.7,242.4L1207.8,243.9L1209.8,246.2L1210.1,249.0L1209.9,252.8L1208.5,256.2L1205.6,258.6L1202.9,259.2L1199.6,259.0L1195.8,258.3L1192.7,256.8L1191.2,254.2L1190.1,251.3L1189.8,248.5Z" fill="#FFFFFF"/>
<path d="M1268.3,263.2L1269.8,261.1L1272.8,260.2L1275.5,261.5L1276.6,263.1L1278.3,265.2L1279.4,268.0L1280.6,270.7L1281.9,273.6L1284.1,276.9L1286.5,280.7L1288.3,284.2L1289.5,287.6L1289.0,291.1L1287.3,294.2L1285.6,295.4L1283.4,295.9L1280.0,296.6L1275.2,296.9L1271.6,296.2L1269.6,294.8L1270.0,292.1L1272.5,288.6L1275.3,285.1L1276.6,281.9L1275.6,278.7L1273.3,274.8L1271.9,271.4L1269.9,267.7L1268.4,264.9Z" fill="#FFFFFF"/>
<path d="M1362.2,304.6L1364.4,304.5L1366.4,307.0L1368.1,309.3L1370.9,310.9L1374.8,313.1L1379.5,316.1L1382.9,319.3L1385.1,322.7L1386.3,325.8L1386.0,328.1L1384.4,330.4L1382.9,333.2L1381.9,335.5L1380.7,337.0L1379.3,339.2L1377.1,340.7L1373.5,340.9L1369.7,340.7L1366.3,339.2L1363.9,336.7L1362.5,334.2L1361.3,331.3L1360.5,330.1L1359.4,327.9L1359.0,322.0L1359.9,314.7L1361.1,308.3Z" fill="#FFFFFF"/>
<path d="M1120.0,310.0L1120.5,308.0L1120.1,308.5L1123.3,307.9L1127.6,306.9L1131.1,307.2L1135.0,307.9L1139.3,308.5L1143.3,308.8L1147.1,308.8L1150.5,309.0L1154.1,309.3L1157.3,309.6L1160.2,309.4L1162.6,308.7L1164.8,308.9L1167.3,310.0L1170.1,311.0L1173.2,313.0L1177.3,314.8L1180.8,315.8L1184.1,316.2L1188.1,316.0L1192.3,315.2L1196.2,314.3L1199.5,314.4L1203.1,314.0L1206.6,314.3L1209.4,315.2L1213.6,315.8L1218.2,316.5L1220.5,317.2L1220.2,317.7L1219.6,318.3L1218.8,319.2L1215.8,319.4L1211.4,318.5L1206.1,318.4L1199.1,318.9L1196.0,319.0L1193.6,319.7L1190.8,319.8L1186.5,319.1L1183.3,318.3L1181.7,317.3L1179.1,317.1L1175.7,319.1L1171.7,321.4L1166.9,323.7L1163.0,324.3L1160.2,322.6L1157.7,320.9L1156.1,319.5L1153.6,318.9L1149.9,320.2L1145.6,321.2L1143.8,321.1L1140.9,320.8L1135.5,321.0L1130.9,320.9L1128.7,319.8L1126.8,319.1L1124.1,318.4L1121.9,317.1L1120.0,317.5Z" fill="#FFFFFF"/>
<path d="M1160.8,242.0L1162.5,240.1L1165.0,238.3L1168.1,236.6L1171.5,235.0L1175.3,233.2L1178.4,232.3L1180.1,232.9L1179.9,236.5L1178.0,241.1L1176.9,243.5L1175.1,245.9L1171.9,248.2L1168.2,249.5L1164.8,249.1L1162.2,247.8L1160.1,245.5Z" fill="#50A5F5"/>
<path d="M1187.0,234.0L1188.9,232.6L1192.1,231.4L1196.3,229.6L1200.7,228.4L1203.8,228.4L1206.2,229.4L1208.9,230.9L1211.6,232.5L1214.6,235.7L1217.0,239.1L1217.9,242.0L1217.1,244.6L1214.8,246.3L1211.0,246.1L1207.3,245.7L1203.6,246.0L1199.9,244.9L1197.6,242.9L1195.7,241.2L1192.8,239.8L1189.5,238.0L1187.1,236.1Z" fill="#50A5F5"/>
<path d="M1138.2,285.2L1141.0,284.4L1145.6,284.5L1150.3,285.1L1153.9,285.6L1157.4,285.5L1160.6,285.3L1163.3,285.1L1165.9,289.4L1163.2,290.8L1159.1,292.0L1154.7,293.3L1150.8,294.0L1147.4,293.2L1144.2,291.4L1139.7,288.2Z" fill="#50A5F5"/>
<path d="M1120.0,290.0L1122.2,292.7L1123.5,294.5L1127.1,294.2L1131.7,294.0L1137.1,295.5L1142.9,296.4L1145.9,294.9L1148.7,293.2L1151.1,292.3L1152.6,290.7L1155.1,289.3L1158.0,288.6L1161.8,288.7L1166.6,290.8L1171.1,294.4L1173.3,297.4L1177.0,297.5L1182.3,295.1L1185.9,293.3L1188.4,297.3L1186.2,298.3L1182.2,300.9L1177.3,302.7L1171.5,303.1L1167.1,303.5L1165.0,303.9L1162.8,303.9L1160.8,302.6L1158.0,302.2L1152.8,302.6L1147.4,302.5L1143.5,301.8L1139.5,301.7L1135.5,302.1L1131.4,302.4L1127.4,303.1L1124.3,303.7L1124.2,304.8L1125.0,305.0L1120.0,305.0Z" fill="#50A5F5"/>
<path d="M1171.2,272.5L1174.1,270.4L1177.5,270.0L1179.0,272.8L1178.8,276.2L1173.8,277.5Z" fill="#50A5F5"/>
<path d="M1277.5,261.2L1282.5,260.0L1284.5,263.5L1285.0,267.5L1280.0,270.0L1278.6,267.6L1277.6,264.1Z" fill="#50A5F5"/>
<path d="M1297.3,274.6L1300.7,273.7L1305.3,274.5L1308.7,276.0L1310.2,278.0L1307.1,282.9L1303.2,283.3L1299.6,281.7L1297.4,278.0Z" fill="#50A5F5"/>
<path d="M1309.7,281.6L1311.3,281.1L1314.2,280.6L1317.9,280.9L1321.4,282.1L1325.4,284.4L1328.4,286.6L1329.8,289.0L1331.7,291.5L1333.6,293.1L1335.1,294.9L1337.8,296.7L1341.5,298.6L1345.3,299.9L1349.8,300.1L1353.7,301.6L1357.2,306.4L1357.0,310.0L1353.8,312.7L1348.5,313.7L1345.0,313.3L1341.6,312.1L1337.2,310.6L1334.2,307.6L1331.9,303.3L1329.6,300.6L1326.8,297.8L1324.8,296.0L1323.7,295.6L1321.5,293.8L1319.1,291.1L1316.0,288.1L1310.8,283.7Z" fill="#50A5F5"/>
<path d="M1309.8,304.0L1312.9,302.1L1317.0,301.7L1319.5,303.6L1320.6,306.6L1319.2,309.0L1315.9,309.3L1311.8,307.0Z" fill="#50A5F5"/>
<path d="M1287.5,305.0L1292.5,303.8L1293.8,307.5L1288.8,308.8Z" fill="#50A5F5"/>
<path d="M1258.8,303.8L1261.2,303.8L1261.2,308.8L1258.8,308.8Z" fill="#50A5F5"/>
<path d="M1120.0,322.5L1118.9,322.6L1118.4,323.3L1118.4,323.4L1119.4,323.1L1122.3,322.6L1126.5,322.0L1131.7,322.7L1136.3,323.6L1138.7,323.9L1140.7,324.3L1143.4,323.4L1146.9,322.5L1150.3,322.7L1154.4,323.1L1160.4,324.1L1166.0,325.0L1168.8,324.0L1171.7,322.9L1176.4,322.1L1181.1,321.6L1185.5,322.9L1189.2,324.4L1193.0,323.1L1197.0,321.7L1200.0,322.8L1202.8,323.0L1206.4,320.9L1209.8,319.2L1212.5,319.8L1214.5,320.0L1216.3,319.3L1218.0,318.8L1220.1,317.9L1221.9,317.7L1224.9,321.6L1225.3,326.9L1224.6,331.4L1223.4,335.5L1222.8,338.5L1223.2,339.9L1224.9,340.3L1228.4,340.5L1233.4,339.8L1238.0,338.9L1240.4,339.1L1241.6,338.7L1244.7,336.2L1248.5,334.0L1252.4,332.9L1256.8,332.0L1260.6,331.7L1264.4,332.8L1267.2,335.6L1268.1,339.2L1268.0,341.5L1266.1,344.5L1264.4,349.0L1264.4,352.6L1265.9,354.9L1269.2,357.1L1272.3,357.9L1276.0,356.8L1280.9,355.5L1285.2,354.4L1288.2,353.3L1291.4,352.4L1294.5,351.4L1297.5,350.6L1300.1,350.7L1303.0,350.5L1306.3,348.6L1309.8,346.7L1313.3,346.0L1314.9,345.5L1316.5,345.3L1319.0,345.2L1321.4,345.1L1324.5,345.1L1327.4,345.3L1332.1,347.3L1336.8,348.2L1339.9,347.5L1344.2,347.2L1348.7,346.8L1351.9,346.0L1354.0,345.7L1357.1,347.9L1360.4,350.2L1363.4,352.0L1365.7,353.0L1367.6,350.9L1370.0,348.1L1372.6,348.0L1376.1,351.6L1377.8,352.6L1379.8,354.0L1380.7,354.0L1381.3,354.6L1381.0,357.8L1380.6,361.2L1382.0,364.8L1384.5,368.9L1386.2,372.4L1388.1,376.3L1391.6,379.7L1394.7,382.8L1394.6,386.4L1394.4,390.1L1396.5,393.0L1399.1,396.4L1402.9,400.4L1407.0,404.5L1410.3,409.0L1412.7,412.8L1414.6,415.7L1416.6,418.2L1418.9,420.8L1420.6,423.8L1423.1,426.0L1425.4,428.0L1425.1,430.1L1424.8,431.8L1425.1,433.6L1424.9,434.9L1424.6,433.4L1425.0,436.2L1190.0,436.2L1188.5,432.2L1184.0,430.7L1179.7,429.3L1178.1,429.4L1175.9,429.8L1173.6,429.2L1170.7,427.8L1165.4,426.9L1160.0,425.8L1158.1,423.9L1156.7,422.4L1154.2,421.7L1151.7,420.7L1147.4,418.0L1142.9,415.6L1140.7,415.2L1137.9,414.3L1132.9,412.5L1127.7,411.2L1124.1,411.3L1121.6,412.3L1120.0,412.5Z" fill="#50A5F5"/>
<path d="M1120.0,423.8L1119.9,424.0L1122.9,424.9L1127.6,425.3L1132.8,426.0L1136.5,427.1L1137.8,428.4L1140.5,430.8L1144.6,433.5L1148.3,435.6L1151.4,437.7L1155.0,436.2L1120.0,436.2Z" fill="#FFFFFF"/>
<path d="M1130.9,429.1L1133.4,428.5L1137.1,428.5L1141.1,428.7L1144.8,429.3L1148.8,430.6L1151.8,432.3L1152.3,434.1L1150.7,435.1L1146.5,435.5L1140.6,435.6L1135.8,435.2L1135.0,436.2Z" fill="#FFD26E"/>
<path d="M1130.4,330.5L1132.5,328.7L1135.7,327.9L1139.5,327.2L1141.8,326.2L1145.0,325.4L1148.6,324.6L1152.1,323.3L1155.7,322.2L1159.7,323.0L1163.5,324.7L1166.6,325.4L1169.4,325.8L1171.8,326.0L1175.0,326.9L1177.0,328.2L1177.5,330.2L1176.4,331.8L1174.3,332.8L1172.9,334.5L1172.0,335.4L1169.0,337.2L1165.0,339.6L1158.6,340.0L1152.6,339.8L1149.8,341.4L1146.6,343.0L1142.0,342.8L1138.4,342.4L1136.3,341.7L1133.0,339.1L1131.9,336.0Z" fill="#E1FFFF"/>
<path d="M1134.1,337.3L1136.0,335.9L1138.8,334.3L1142.5,333.3L1146.5,333.0L1150.0,332.5L1153.8,332.1L1157.4,331.8L1160.0,331.1L1162.1,331.6L1160.3,336.0L1158.1,336.7L1155.3,337.5L1151.8,338.0L1147.4,337.9L1143.2,338.3L1139.5,339.6Z" fill="#FFFFFF"/>
<path d="M1199.1,324.1L1201.2,323.5L1205.1,323.7L1209.0,324.1L1213.3,325.8L1214.7,328.1L1211.7,329.4L1206.8,329.0L1201.6,326.6Z" fill="#E1FFFF"/>
<path d="M1183.8,349.5L1188.8,349.5L1188.8,352.5L1183.8,352.5Z" fill="#FFFFFF"/>
<path d="M1242.2,360.9L1244.2,361.0L1246.8,361.5L1249.2,360.9L1252.0,360.4L1255.8,360.7L1259.6,360.7L1262.9,359.3L1265.6,358.1L1268.0,359.6L1270.0,362.4L1273.7,365.8L1277.7,368.9L1279.9,371.4L1280.3,374.2L1279.0,377.5L1274.8,377.7L1272.2,377.6L1269.7,378.9L1266.6,379.3L1262.6,378.0L1259.7,376.7L1258.5,372.5L1257.4,367.6L1254.2,364.8L1250.7,363.7L1248.8,364.5L1247.6,365.4L1243.1,363.4Z" fill="#E1FFFF"/>
<path d="M1244.4,362.7L1246.0,361.1L1250.7,360.3L1255.4,360.8L1259.3,362.2L1263.0,364.1L1265.1,365.9L1264.2,368.2L1259.5,368.5L1256.5,367.5L1253.1,366.5L1249.5,365.2L1246.2,363.8Z" fill="#FFFFFF"/>
<path d="M1312.2,405.9L1313.7,402.8L1316.2,398.6L1318.0,396.7L1322.7,399.6L1322.2,402.8L1322.1,406.2L1324.7,409.7L1327.9,413.4L1332.0,415.3L1335.8,416.7L1333.2,421.4L1328.4,422.0L1324.1,421.9L1322.3,418.9L1320.3,415.7L1317.7,414.2L1314.7,412.5L1313.2,411.0Z" fill="#FFFFFF"/>
<path d="M1311.2,380.0L1315.0,380.0L1313.8,383.0Z" fill="#FFFFFF"/>
<path d="M1335.0,382.5L1338.8,382.0L1337.5,385.0Z" fill="#FFFFFF"/>
<path d="M1298.8,401.2L1302.5,401.2L1301.2,404.5Z" fill="#FFFFFF"/>
<path d="M1340.0,415.0L1343.0,415.1L1347.1,416.2L1350.0,417.5L1347.5,421.2L1344.3,421.3L1341.2,420.0Z" fill="#FFFFFF"/>
<path d="M1334.7,361.2L1336.0,360.3L1339.5,359.8L1345.5,357.6L1349.1,356.2L1351.9,356.1L1354.1,356.8L1356.0,357.5L1358.4,357.7L1363.3,356.6L1367.1,356.9L1369.9,358.3L1371.9,361.4L1374.3,365.9L1375.7,367.9L1376.8,371.2L1377.5,374.3L1378.8,377.1L1380.3,380.0L1381.2,382.9L1382.8,385.7L1384.6,388.7L1386.6,391.1L1389.1,394.0L1390.7,397.4L1392.6,400.0L1394.8,402.5L1395.4,404.3L1395.7,405.4L1397.5,407.6L1400.6,410.0L1404.2,412.0L1407.2,413.3L1409.8,415.4L1412.5,418.3L1414.3,420.4L1415.6,422.2L1416.7,423.9L1416.8,427.7L1415.7,431.5L1415.0,436.2L1375.0,436.2L1377.7,431.9L1379.6,427.7L1381.5,424.3L1382.7,420.9L1383.0,418.1L1383.8,415.9L1384.3,412.1L1383.0,409.3L1379.7,408.5L1376.0,407.6L1372.0,404.7L1368.9,402.3L1368.4,402.8L1367.9,402.6L1366.0,399.3L1364.0,395.1L1363.0,391.9L1360.7,388.3L1356.5,385.2L1352.6,383.6L1350.1,383.1L1348.6,381.6L1346.7,378.6L1344.6,375.1L1342.1,371.6L1339.0,368.7L1335.5,364.8Z" fill="#1964D2"/>
<path d="M1181.2,399.8L1180.9,398.4L1181.1,397.2L1185.3,397.2L1190.3,397.1L1193.5,396.7L1196.3,396.4L1199.3,396.6L1202.3,396.8L1205.0,395.9L1208.1,395.2L1209.4,397.5L1210.6,401.3L1212.9,403.3L1216.1,404.8L1220.9,406.8L1225.3,409.2L1227.0,411.1L1227.7,411.5L1227.2,412.2L1226.6,411.9L1230.0,409.7L1234.1,406.6L1237.3,402.6L1240.6,398.6L1243.3,396.2L1246.4,396.2L1250.0,396.9L1253.6,397.6L1256.6,399.8L1258.1,403.7L1257.4,406.6L1257.1,407.9L1259.7,407.5L1263.9,405.6L1268.0,404.1L1271.8,404.5L1274.1,406.5L1273.9,409.9L1272.6,412.7L1271.0,415.7L1268.0,417.9L1265.3,419.3L1266.8,422.0L1271.5,425.2L1277.8,427.1L1282.5,426.3L1284.9,426.2L1285.4,426.7L1287.4,427.0L1290.7,428.3L1295.3,429.1L1300.3,428.9L1304.8,429.0L1307.6,427.9L1309.9,427.8L1312.3,429.3L1314.2,430.3L1318.3,432.9L1321.5,435.9L1325.0,436.2L1250.0,436.2L1248.4,438.1L1247.3,435.8L1244.0,432.2L1240.5,429.2L1237.2,428.3L1234.5,427.1L1232.2,424.1L1230.4,421.4L1229.2,419.0L1226.6,417.3L1222.3,416.5L1218.7,415.0L1216.8,411.2L1214.7,408.3L1211.0,406.9L1208.1,406.2L1205.6,407.1L1203.6,407.8L1199.7,406.4L1196.3,405.7L1194.0,406.0L1191.2,405.9L1187.0,405.6L1183.9,404.9L1182.5,403.6Z" fill="#1964D2"/>
<path d="M1365.0,373.8L1367.5,373.8L1367.0,377.5L1365.0,377.0Z" fill="#2432FA"/>
<path d="M1373.0,377.5L1374.5,378.0L1374.5,383.8L1373.0,382.5Z" fill="#2432FA"/>
<path d="M1297.1,340.0L1299.8,338.9L1303.6,337.8L1307.3,337.3L1310.2,337.3L1312.8,341.1L1310.5,341.9L1307.1,342.4L1303.3,342.8L1299.9,342.9Z" fill="#FFD26E"/>
<path d="M1349.1,343.0L1351.9,341.2L1357.7,340.3L1362.0,340.3L1365.8,340.6L1368.3,341.5L1369.3,346.6L1365.9,347.8L1361.1,348.4L1356.3,348.0L1351.3,345.8Z" fill="#FFD26E"/>
<path d="M1353.1,344.2L1356.2,343.1L1360.7,342.3L1364.7,341.9L1366.7,345.3L1364.4,346.0L1360.0,346.5L1355.9,346.9Z" fill="#FA0000"/>
<path d="M1120.0,160.0L1210.0,160.0L1210.6,159.7L1213.9,162.5L1216.2,166.4L1217.9,169.8L1218.1,173.5L1215.7,179.2L1213.1,184.4L1211.8,186.7L1210.4,188.6L1209.1,192.0L1208.3,197.0L1206.6,198.9L1204.0,200.2L1200.4,202.8L1196.5,205.3L1192.8,207.7L1189.0,209.7L1187.8,211.0L1186.2,212.4L1181.7,213.2L1178.1,213.8L1175.1,215.9L1172.7,217.9L1170.9,218.6L1168.0,219.5L1164.2,220.7L1160.5,221.9L1156.7,222.9L1153.4,223.7L1151.0,224.9L1149.1,225.9L1146.5,228.1L1143.7,230.5L1140.0,232.4L1135.7,234.3L1132.1,233.2L1128.8,232.2L1124.2,234.9L1119.9,237.0L1120.0,235.0Z" fill="#FFD26E"/>
<path d="M1120.0,160.0L1208.8,160.0L1211.1,158.4L1211.7,161.7L1212.2,165.9L1213.7,169.9L1214.7,174.2L1213.7,178.8L1211.7,183.4L1210.2,185.3L1208.6,185.7L1206.5,186.2L1204.7,187.3L1203.2,190.6L1199.8,196.4L1196.4,198.5L1193.0,198.5L1189.7,199.4L1186.3,200.7L1183.4,201.9L1180.9,202.7L1177.9,204.5L1173.4,208.1L1169.9,210.0L1168.0,210.2L1165.6,210.7L1162.9,212.0L1160.5,214.4L1158.1,217.2L1155.5,218.8L1152.5,219.3L1149.1,219.4L1145.9,220.0L1142.8,221.1L1140.1,222.0L1137.8,222.4L1135.0,222.4L1131.9,222.9L1127.1,224.3L1123.2,225.3L1120.0,228.8Z" fill="#FA0000"/>
<path d="M1120.0,175.0L1120.1,178.7L1123.0,176.9L1127.0,174.1L1131.2,172.1L1135.3,171.3L1138.7,170.4L1140.8,170.9L1142.9,172.1L1146.4,172.2L1150.8,171.9L1156.0,170.8L1160.1,169.1L1162.2,169.3L1163.8,170.3L1164.6,171.1L1166.2,171.9L1169.3,171.2L1172.6,170.7L1175.7,171.8L1178.9,173.0L1183.5,173.2L1187.9,173.1L1189.8,173.4L1191.6,173.6L1194.9,174.0L1198.8,173.1L1202.6,170.5L1206.2,168.4L1209.0,168.9L1211.7,171.4L1214.3,173.7L1215.4,176.6L1213.3,180.4L1209.2,183.7L1205.3,186.8L1202.0,189.6L1198.1,192.1L1195.0,194.3L1193.6,195.3L1191.8,195.5L1187.6,195.1L1183.0,194.9L1180.0,195.7L1177.6,197.0L1174.6,197.7L1171.2,197.7L1167.4,198.8L1163.9,200.3L1161.4,201.9L1159.6,204.6L1157.6,207.8L1154.8,210.2L1150.9,211.5L1147.7,212.3L1145.0,213.1L1141.9,214.3L1138.9,215.0L1135.2,215.8L1132.1,217.2L1129.6,218.3L1126.0,220.0L1125.0,220.0L1120.0,221.2Z" fill="#C80000"/>
<path d="M1141.2,165.1L1143.8,163.3L1147.8,162.6L1150.9,163.1L1152.6,165.8L1153.4,169.7L1152.7,172.8L1149.4,175.5L1145.5,175.0L1143.4,172.2L1141.5,168.4Z" fill="#FFD26E"/>
<path d="M1160.0,167.5L1165.0,165.0L1166.0,167.8L1166.5,171.9L1166.2,175.0L1161.2,175.0L1159.9,171.4Z" fill="#FFD26E"/>
<path d="M1142.5,162.5L1145.3,161.6L1148.8,162.5L1149.0,166.1L1147.5,168.8L1144.4,166.1Z" fill="#FFFFFF"/>
<path d="M1170.0,162.5L1173.6,161.4L1177.5,162.5L1177.2,166.8L1175.0,170.0L1172.9,168.4L1170.7,165.1Z" fill="#FFFFFF"/>
<path d="M1218.5,201.4L1218.1,198.6L1217.8,195.4L1217.7,191.4L1218.1,188.1L1220.8,186.8L1226.1,186.9L1232.3,191.2L1235.0,193.0L1236.0,193.7L1236.6,193.7L1237.4,195.3L1238.8,198.1L1241.4,200.6L1244.2,203.9L1246.6,207.5L1248.8,210.6L1249.7,213.5L1250.6,216.2L1251.6,218.5L1252.7,220.9L1253.2,224.4L1253.1,227.6L1252.5,229.2L1253.6,232.0L1257.0,235.1L1261.4,237.7L1266.2,240.2L1269.5,242.9L1271.3,245.4L1271.6,246.7L1271.0,248.1L1268.7,249.8L1265.0,252.7L1260.8,256.2L1256.2,258.9L1252.1,260.4L1248.5,259.5L1245.4,256.4L1244.5,252.9L1243.3,249.7L1239.3,246.9L1235.2,244.1L1233.7,241.0L1233.0,237.9L1231.2,235.0L1229.7,231.3L1228.7,227.7L1227.5,224.2L1226.2,222.2L1224.7,220.8L1224.3,218.2L1224.1,215.5L1220.8,212.7L1217.4,209.8L1217.4,206.0Z" fill="#FFD26E"/>
<path d="M1220.6,193.8L1221.5,189.5L1222.9,186.1L1223.8,185.7L1225.9,186.7L1229.5,189.9L1231.3,192.1L1232.7,194.6L1233.9,197.0L1235.5,199.5L1237.6,202.9L1240.7,207.1L1243.1,210.2L1244.6,214.0L1245.2,216.8L1246.1,217.5L1247.2,218.5L1247.4,220.6L1248.6,223.3L1251.3,226.9L1253.9,230.3L1256.1,233.8L1257.5,236.0L1258.9,237.5L1260.0,238.9L1262.2,241.8L1264.9,247.2L1263.0,251.3L1259.6,254.3L1256.7,254.5L1254.0,253.3L1251.9,251.7L1250.5,249.1L1248.4,245.7L1245.7,242.5L1242.8,238.5L1239.7,233.8L1235.9,228.6L1232.8,225.4L1231.6,225.8L1230.5,226.6L1229.5,224.3L1228.8,220.8L1227.2,217.8L1226.0,214.6L1225.9,211.8L1225.3,209.0L1224.2,204.7L1223.2,200.9L1221.6,197.4Z" fill="#FA0000"/>
<path d="M1225.0,198.5L1228.2,198.7L1233.3,203.9L1234.5,206.3L1235.2,208.7L1237.3,212.0L1239.5,215.3L1240.9,217.5L1242.3,219.2L1244.1,223.0L1246.3,227.5L1248.8,230.2L1250.6,231.8L1252.4,234.0L1249.2,237.3L1246.9,236.4L1242.9,234.7L1239.8,232.6L1238.4,229.5L1236.9,226.0L1233.8,223.2L1232.0,219.9L1231.0,214.9L1229.5,210.7L1227.8,207.2L1226.2,203.9L1225.0,200.8Z" fill="#C80000"/>
<path d="M1190.9,274.1L1192.9,272.7L1195.9,272.1L1199.4,270.5L1202.7,268.5L1206.2,267.8L1210.4,267.1L1213.9,264.4L1216.8,261.6L1219.5,261.1L1222.3,261.2L1225.0,260.5L1228.5,259.9L1232.5,260.3L1236.3,260.9L1239.2,261.6L1242.6,262.7L1246.1,263.1L1249.8,264.4L1254.3,267.4L1259.0,270.5L1261.3,273.0L1262.0,273.9L1263.6,273.7L1265.4,273.5L1269.4,274.7L1271.4,276.8L1270.2,279.9L1267.4,282.9L1264.5,285.2L1262.2,285.9L1260.4,286.1L1258.3,286.4L1255.8,286.8L1252.6,287.5L1248.0,289.1L1243.3,290.9L1239.6,292.2L1236.4,292.6L1232.8,291.1L1229.8,288.9L1227.1,288.7L1224.5,291.2L1221.4,293.3L1217.7,292.4L1213.6,288.9L1209.3,286.4L1205.9,286.3L1202.6,286.9L1198.0,286.9L1192.9,285.7L1190.9,284.1L1190.5,282.4L1190.1,278.3Z" fill="#FFD26E"/>
<path d="M1198.3,276.9L1200.0,274.3L1203.4,271.5L1208.0,268.8L1212.0,265.9L1214.3,264.6L1217.2,266.6L1219.5,268.3L1220.9,265.4L1223.6,263.6L1226.9,265.2L1229.9,267.2L1231.9,269.5L1231.1,272.7L1228.4,275.6L1224.8,277.8L1221.7,280.6L1218.6,282.6L1215.8,283.3L1214.5,282.8L1213.3,280.9L1212.2,279.0L1209.3,280.3L1205.4,282.8L1202.4,283.0L1199.5,280.4Z" fill="#FA0000"/>
<path d="M1236.1,282.7L1237.8,280.5L1240.4,278.8L1242.8,276.2L1244.0,271.1L1245.2,268.3L1247.2,269.2L1249.3,272.3L1251.3,275.9L1253.7,280.0L1253.2,282.3L1250.3,282.8L1246.4,283.1L1242.8,283.9L1240.2,287.2L1238.6,289.0L1236.4,286.7Z" fill="#FA0000"/>
<path d="M1310.0,210.0L1375.0,207.5L1375.0,230.0L1360.0,240.0L1350.0,245.0L1337.5,250.0L1332.5,257.5L1320.0,260.0L1310.0,245.0Z" fill="#FFD26E"/>
<path d="M1318.1,210.4L1320.8,209.1L1325.0,208.3L1328.8,208.4L1332.7,208.3L1337.5,207.7L1340.1,207.1L1341.7,205.3L1343.2,203.7L1347.0,203.0L1351.9,202.8L1355.7,202.2L1359.3,200.9L1362.3,202.0L1364.8,204.4L1368.3,207.1L1371.1,210.7L1373.2,214.1L1374.4,217.5L1374.9,220.3L1374.8,223.1L1375.2,224.9L1376.2,227.9L1373.9,229.8L1371.2,231.9L1368.1,232.7L1363.5,232.5L1359.8,231.5L1357.7,229.7L1354.6,227.9L1349.6,226.6L1345.5,225.0L1344.5,223.8L1343.0,222.7L1339.3,221.2L1335.4,220.2L1331.1,218.6L1325.1,215.9L1319.7,213.0Z" fill="#FA0000"/>
<path d="M1343.1,229.2L1346.6,229.8L1351.4,230.8L1356.0,231.2L1360.3,231.7L1364.1,232.2L1366.3,232.4L1365.9,234.0L1362.1,235.7L1357.6,236.4L1354.1,236.3L1350.5,236.3L1347.1,236.1L1343.8,234.7Z" fill="#FFFFFF"/>
<path d="M1400.0,160.0L1495.0,160.0L1496.0,162.3L1493.7,164.4L1492.2,166.4L1493.4,168.1L1495.0,169.7L1496.5,173.9L1497.7,179.1L1496.8,183.0L1496.0,187.4L1497.2,192.0L1498.0,196.1L1497.0,198.7L1494.7,200.3L1492.0,203.1L1490.2,205.9L1489.2,209.6L1488.8,212.1L1487.3,212.9L1484.4,212.5L1481.9,214.2L1479.1,216.3L1476.2,217.2L1472.9,217.3L1469.2,214.9L1465.6,211.5L1462.0,209.2L1458.3,207.9L1455.1,207.5L1453.2,207.2L1450.6,206.0L1447.2,205.2L1444.0,206.4L1441.3,208.6L1437.2,209.5L1433.8,209.2L1431.5,208.4L1429.5,208.0L1426.2,208.3L1421.9,208.9L1417.8,209.2L1413.0,209.8L1409.9,211.7L1408.7,215.0L1406.8,218.2L1405.3,220.8L1406.3,223.5L1405.3,225.9L1400.8,227.6L1395.9,228.8L1390.4,228.6L1385.7,228.2L1382.3,228.6L1379.5,228.6L1377.9,228.8L1377.4,224.6L1375.8,222.7L1374.1,221.1L1374.6,219.2L1375.1,216.6L1374.6,213.4L1375.3,209.7L1377.2,205.5L1378.8,201.5L1380.1,197.8L1379.6,195.9L1377.3,194.2L1376.9,192.0L1379.3,187.5L1383.1,182.5L1388.7,178.1L1393.1,174.1L1393.7,171.8L1393.4,169.9L1394.9,166.7L1397.0,163.8L1398.2,162.8L1399.6,161.6L1401.9,159.1Z" fill="#FFD26E"/>
<path d="M1438.0,165.3L1441.2,163.6L1445.1,162.1L1448.8,161.6L1452.4,161.6L1454.5,162.2L1456.9,164.6L1458.5,168.3L1458.7,172.7L1457.4,176.4L1455.6,180.4L1454.0,183.0L1451.8,185.0L1449.9,187.3L1446.4,188.7L1443.5,185.2L1441.4,181.5L1439.3,178.3L1437.6,174.6L1436.1,169.1Z" fill="#FFFFFF"/>
<path d="M1419.9,199.2L1422.3,197.5L1425.9,196.5L1429.5,196.1L1432.9,199.1L1433.0,204.2L1430.6,206.9L1427.1,207.7L1423.6,207.2L1420.1,203.5Z" fill="#FFFFFF"/>
<path d="M1379.7,196.2L1379.1,192.7L1377.5,191.1L1377.2,191.1L1378.2,190.4L1379.8,188.9L1382.6,186.5L1387.8,181.3L1392.9,176.7L1395.3,174.2L1396.1,171.6L1396.3,168.9L1396.7,164.5L1396.8,160.3L1400.0,160.0L1430.0,160.0L1431.2,161.7L1430.1,165.8L1426.8,169.9L1424.0,172.3L1421.6,174.1L1418.8,176.4L1416.5,179.6L1417.3,184.2L1420.1,188.4L1420.9,192.8L1420.1,196.1L1417.2,198.2L1413.2,198.8L1409.5,201.1L1407.0,205.1L1405.0,206.9L1403.1,207.6L1400.7,209.2L1397.2,211.8L1394.2,213.9L1392.2,215.4L1389.0,217.3L1384.5,219.8L1381.6,222.8L1381.0,225.0L1380.0,226.8L1374.7,224.7L1374.1,222.6L1374.2,219.5L1374.8,216.7L1376.0,214.5L1376.7,211.6L1377.4,208.0L1378.3,203.8L1379.0,199.5Z" fill="#FA0000"/>
<path d="M1392.8,191.1L1395.3,188.4L1399.0,186.0L1402.8,185.0L1405.6,185.8L1407.6,188.8L1408.4,192.8L1407.1,196.2L1404.4,198.9L1401.4,200.5L1397.7,200.4L1394.7,198.1L1392.4,194.8Z" fill="#C80000"/>
<path d="M1407.2,170.0L1409.6,168.5L1414.0,167.6L1417.7,167.6L1421.4,168.3L1423.6,169.8L1420.8,173.8L1418.2,174.0L1415.3,173.5L1412.2,172.6Z" fill="#690000"/>
<path d="M1459.9,188.7L1462.0,187.2L1466.1,186.5L1470.8,186.7L1474.4,188.5L1476.1,191.5L1476.1,194.3L1473.3,196.4L1469.0,197.5L1465.4,197.3L1462.3,195.1L1460.0,191.6Z" fill="#FA0000"/>
<path d="M1484.6,175.6L1487.6,173.6L1492.1,172.6L1495.7,173.9L1496.8,177.0L1496.9,180.3L1496.2,183.1L1495.2,185.1L1491.8,185.0L1487.7,182.1L1484.8,178.9Z" fill="#FA0000"/>
<path d="M1427.5,175.0L1431.2,173.3L1435.0,173.8L1435.3,177.4L1433.8,181.2L1428.8,181.2L1427.2,178.2Z" fill="#FA0000"/>
<path d="M1475.0,165.0L1478.5,162.9L1482.5,162.5L1484.2,165.3L1483.8,168.8L1480.9,170.2L1477.5,170.0Z" fill="#FA0000"/>
<path d="M1399.4,230.3L1400.6,228.3L1401.9,226.6L1404.8,226.5L1408.4,226.6L1411.5,226.7L1414.4,227.3L1418.4,226.9L1423.0,226.3L1425.1,226.1L1426.6,225.2L1430.3,224.7L1434.6,224.9L1437.0,226.0L1439.5,228.7L1443.1,231.1L1447.3,233.8L1449.3,236.8L1450.1,239.5L1450.7,242.2L1451.0,245.3L1450.3,248.8L1448.6,252.1L1445.5,255.6L1440.9,257.9L1436.8,259.9L1433.3,262.2L1430.7,265.0L1429.2,268.1L1427.1,269.1L1423.6,265.9L1420.8,261.9L1418.6,259.2L1415.8,255.7L1412.5,251.1L1409.3,248.1L1406.4,248.4L1403.3,248.8L1400.0,246.0L1397.2,242.7L1395.7,241.8L1395.0,240.4L1396.0,235.1Z" fill="#FFD26E"/>
<path d="M1486.4,210.5L1489.7,207.0L1494.2,205.2L1497.0,207.1L1497.4,209.4L1497.9,213.5L1497.9,218.5L1497.7,222.4L1497.4,226.1L1496.4,229.6L1495.5,231.6L1493.4,231.8L1490.6,228.6L1488.2,224.1L1487.0,221.0L1486.3,218.7L1486.0,216.4L1485.9,213.2Z" fill="#E1FFFF"/>
<path d="M1430.5,275.1L1431.9,273.2L1434.3,272.1L1439.4,271.9L1443.2,272.6L1445.3,273.8L1447.9,275.0L1451.0,277.4L1454.4,280.0L1457.8,282.0L1461.9,283.9L1463.4,284.0L1464.9,283.6L1467.6,284.0L1470.5,283.3L1474.0,281.2L1477.5,279.2L1481.0,279.0L1484.6,279.8L1487.5,280.5L1489.8,282.1L1492.2,285.0L1493.2,287.6L1495.2,291.8L1497.0,296.4L1497.1,300.8L1497.0,304.6L1498.2,307.4L1499.4,310.2L1497.9,313.2L1496.3,316.1L1495.9,319.2L1495.3,321.8L1494.6,322.7L1492.9,323.7L1490.3,323.6L1487.3,322.3L1485.2,321.2L1482.5,319.3L1479.6,317.9L1476.7,317.1L1473.3,314.9L1470.4,312.2L1466.6,309.6L1462.7,306.7L1460.5,305.6L1458.8,305.3L1455.7,301.4L1453.9,298.3L1451.6,296.1L1449.1,293.9L1444.7,293.5L1440.0,294.0L1436.6,293.8L1433.3,291.9L1431.8,288.3L1431.0,283.7L1429.7,278.6Z" fill="#FFD26E"/>
<path d="M1477.4,298.1L1480.1,295.7L1484.4,295.0L1487.6,294.5L1490.8,294.9L1493.8,298.5L1495.1,301.2L1495.2,305.2L1494.3,309.6L1494.6,313.5L1495.6,317.6L1496.7,321.2L1497.2,323.7L1497.0,326.6L1496.6,329.6L1495.5,331.0L1492.6,331.0L1489.7,328.1L1486.9,324.2L1484.2,320.9L1482.8,318.2L1481.9,315.5L1480.0,311.2L1478.0,306.3L1477.1,301.6Z" fill="#FA0000"/>
<path d="M129.9,163.8L129.4,168.0L124.8,167.9L122.7,164.6L121.4,161.1L119.9,156.3L125.6,158.2L127.9,159.9Z" fill="#FFFFFF"/>
<path d="M97.7,197.8L94.6,198.1L94.7,193.5L95.8,190.0L98.2,190.5L100.3,192.3L101.3,197.4Z" fill="#FFFFFF"/>
<path d="M194.5,194.3L195.1,196.0L193.5,197.0L190.6,195.1L188.9,192.8L190.8,192.2L193.0,192.3Z" fill="#FFFFFF"/>
<path d="M154.7,199.2L156.4,195.6L159.3,193.1L163.7,194.3L163.3,199.1L160.6,202.3L157.4,203.8Z" fill="#FFFFFF"/>
<path d="M88.9,205.4L89.0,202.3L91.4,202.1L93.4,204.5L90.9,206.4Z" fill="#FFFFFF"/>
<path d="M195.7,196.8L197.8,198.6L199.5,201.2L195.2,205.0L190.6,207.1L189.3,204.1L190.2,199.2Z" fill="#FFFFFF"/>
<path d="M95.7,193.8L99.4,192.3L102.5,192.9L103.0,195.1L100.7,197.2L96.4,199.2L95.3,196.4Z" fill="#FFFFFF"/>
<path d="M151.6,204.5L148.9,202.4L148.2,199.2L152.9,196.5L157.3,196.2L160.6,197.3L158.9,202.0L155.6,204.2Z" fill="#FFFFFF"/>
<path d="M120.0,167.7L122.5,169.7L122.1,171.8L120.4,172.0L118.3,171.4L117.5,169.2L117.6,167.1Z" fill="#FA0000"/>
<path d="M101.0,164.1L103.5,167.9L100.6,170.5L97.4,172.4L96.9,168.4L97.0,164.3Z" fill="#FA0000"/>
<path d="M134.3,169.2L133.6,164.9L136.5,163.9L140.3,164.2L144.9,167.1L141.4,169.7L137.6,170.0Z" fill="#FA0000"/>
<path d="M164.1,185.9L160.7,184.2L162.1,181.8L164.3,181.4L166.7,183.3Z" fill="#FA0000"/>
<path d="M176.8,185.4L175.4,183.7L178.8,180.3L181.2,182.0L180.3,184.4Z" fill="#FA0000"/>
<path d="M84.1,195.9L86.8,194.7L87.2,197.3L86.2,199.7L83.6,198.8L82.3,197.2Z" fill="#FA0000"/>
<path d="M142.1,174.9L141.8,172.0L146.0,170.5L148.3,173.2L145.0,176.1Z" fill="#FA0000"/>
<path d="M178.9,309.4L180.6,309.9L180.3,311.3L178.3,312.2L176.1,312.7L174.7,311.7L176.3,310.1Z" fill="#FFD26E"/>
<path d="M184.5,294.0L184.1,291.9L185.6,291.0L189.6,291.3L189.5,293.7L188.0,294.7Z" fill="#FFD26E"/>
<path d="M228.7,289.3L230.9,290.8L232.0,293.9L230.0,294.7L228.3,292.6Z" fill="#FFD26E"/>
<path d="M234.7,309.4L235.1,307.0L238.1,304.9L241.6,306.5L238.4,308.6Z" fill="#FFD26E"/>
<path d="M138.6,312.6L137.0,313.8L135.0,313.4L133.9,311.0L135.6,309.1L137.7,308.9L138.9,310.6Z" fill="#FFD26E"/>
<path d="M164.9,314.3L166.5,312.3L170.2,310.8L172.6,311.8L171.7,313.6L169.5,315.2L166.3,315.5Z" fill="#FFD26E"/>
<path d="M182.2,285.2L185.2,284.3L188.1,284.9L184.4,288.7L179.9,291.4L179.2,288.5Z" fill="#FFD26E"/>
<path d="M156.8,308.1L153.6,307.5L151.7,305.2L150.9,302.0L154.5,303.0L157.3,305.2Z" fill="#FFD26E"/>
<path d="M113.1,300.7L115.8,300.3L116.6,302.9L114.7,305.2L111.8,304.0Z" fill="#FFD26E"/>
<path d="M163.8,300.8L165.4,305.4L165.4,309.0L164.5,311.8L161.4,311.5L159.5,306.4L161.6,302.4Z" fill="#FFD26E"/>
<path d="M230.7,393.7L232.0,391.2L234.5,391.3L235.7,395.3L232.9,397.3Z" fill="#FFD26E"/>
<path d="M209.2,389.8L206.3,391.6L204.0,390.5L205.1,387.8L209.1,386.8Z" fill="#FFD26E"/>
<path d="M233.7,381.5L231.4,378.6L231.8,373.4L234.6,371.5L236.9,374.9L235.8,379.2Z" fill="#FFD26E"/>
<path d="M250.4,385.7L247.6,385.1L247.6,382.6L250.2,380.7L253.1,382.3L253.7,385.1Z" fill="#FFD26E"/>
<path d="M219.0,365.9L215.8,365.5L217.0,363.7L220.6,363.3L221.7,364.7Z" fill="#FFD26E"/>
<path d="M190.7,373.2L188.1,373.9L186.2,373.2L185.5,372.3L186.6,371.0L190.0,370.6L191.1,371.9Z" fill="#FFD26E"/>
<path d="M186.2,393.5L187.3,391.0L189.6,389.4L190.7,390.8L191.6,393.0L188.9,394.8L186.2,396.4Z" fill="#FFD26E"/>
<path d="M271.8,364.5L269.4,361.7L272.7,358.0L275.4,360.1L274.6,364.6Z" fill="#FFD26E"/>
<path d="M192.8,398.1L187.3,398.1L185.3,394.1L188.1,392.4L193.1,395.3Z" fill="#FFD26E"/>
<path d="M218.3,371.0L221.1,368.4L223.0,371.6L222.4,374.7L218.3,374.0Z" fill="#FFD26E"/>
<path d="M255.6,406.9L255.5,405.0L256.4,402.5L258.3,402.6L259.8,402.9L259.2,405.1L257.4,406.8Z" fill="#FFD26E"/>
<path d="M186.4,397.1L187.1,398.7L185.6,401.3L183.7,401.5L183.7,399.4Z" fill="#FFD26E"/>
<path d="M281.3,397.7L279.1,397.2L277.5,395.1L279.6,393.7L282.4,394.4L282.5,396.5Z" fill="#C80000"/>
<path d="M241.5,368.4L241.3,371.7L239.8,372.8L238.3,372.0L237.3,370.1L237.7,368.1L239.1,367.6Z" fill="#C80000"/>
<path d="M277.0,401.1L279.2,403.9L277.6,405.5L274.3,403.0L272.7,401.1L270.9,397.8L274.5,398.0Z" fill="#C80000"/>
<path d="M225.1,397.3L226.6,397.9L228.0,400.2L226.6,401.2L224.0,399.4Z" fill="#C80000"/>
<path d="M258.1,421.8L256.0,422.0L254.0,420.6L255.8,418.5L258.4,417.6L259.8,419.8Z" fill="#FA0000"/>
<path d="M269.1,421.8L268.7,419.2L272.1,417.9L273.9,419.0L272.1,421.2Z" fill="#FA0000"/>
<path d="M287.0,359.1L286.3,356.2L287.0,353.9L288.8,354.6L290.9,356.8L290.7,360.8L288.6,360.8Z" fill="#FA0000"/>
<path d="M290.5,377.2L288.3,373.9L290.5,371.8L294.0,373.7L294.6,376.0L294.2,378.5Z" fill="#FA0000"/>
<path d="M296.9,377.9L299.2,379.5L295.1,381.7L290.2,383.1L289.2,380.7L289.7,377.9L294.9,376.1Z" fill="#FA0000"/>
<path d="M280.0,362.0L277.9,359.6L278.4,357.1L281.9,357.0L283.3,359.2L283.0,361.0Z" fill="#FA0000"/>
<path d="M282.4,404.7L280.8,406.4L279.5,405.5L277.9,403.8L279.2,400.8L281.0,398.7L282.5,401.1Z" fill="#FA0000"/>
<path d="M307.0,368.8L305.1,371.7L301.8,369.3L302.3,364.1L305.8,363.9Z" fill="#FA0000"/>
<path d="M335.5,410.5L336.2,409.3L336.6,408.0L337.8,408.8L338.3,409.8L337.9,410.9L336.8,410.8Z" fill="#FA0000"/>
<path d="M313.6,361.9L312.0,359.2L312.4,356.9L317.2,354.9L319.9,356.9L320.2,360.0L317.1,361.5Z" fill="#FA0000"/>
<path d="M323.8,399.7L326.3,403.2L322.5,403.8L318.3,402.0L316.0,399.6L315.7,397.9L318.9,396.1L321.4,397.4Z" fill="#FFFFFF"/>
<path d="M322.5,339.9L321.2,338.4L321.7,335.8L323.7,334.0L325.2,335.1L326.4,336.9L324.8,339.6Z" fill="#FFFFFF"/>
<path d="M262.6,428.0L259.0,426.3L255.7,423.3L255.4,418.7L259.5,419.3L263.8,421.9L265.3,425.9Z" fill="#FFFFFF"/>
<path d="M251.7,355.2L252.3,357.6L251.4,359.2L249.7,360.7L247.3,359.5L246.6,356.5L249.0,354.8Z" fill="#FFFFFF"/>
<path d="M289.6,329.5L290.4,326.9L293.7,323.9L296.0,325.4L294.9,328.1L293.3,330.1L289.8,332.3Z" fill="#FFFFFF"/>
<path d="M307.2,356.3L304.9,355.5L307.2,354.1L309.7,353.9L312.7,354.0L312.5,355.8L309.5,357.2Z" fill="#FFFFFF"/>
<path d="M125.5,224.0L122.2,221.6L125.5,218.1L129.6,216.6L132.4,218.0L133.1,220.5L130.7,224.5Z" fill="#E1FFFF"/>
<path d="M100.6,230.2L99.3,228.3L100.6,226.5L103.0,225.7L106.8,226.3L105.5,229.0L103.9,231.3Z" fill="#E1FFFF"/>
<path d="M221.2,219.5L220.0,215.8L220.8,212.2L224.2,209.5L225.7,211.0L227.1,214.9L228.1,219.6L226.7,222.5Z" fill="#E1FFFF"/>
<path d="M136.6,231.4L135.7,236.1L133.0,240.7L128.8,241.1L129.0,236.6L130.4,233.7L132.9,231.7Z" fill="#E1FFFF"/>
<path d="M151.5,235.1L147.6,231.7L145.6,228.7L147.8,226.0L153.5,227.9L156.4,231.0L157.2,234.8Z" fill="#E1FFFF"/>
<path d="M77.2,221.1L80.6,219.3L80.5,222.0L78.9,224.1L75.8,223.9Z" fill="#E1FFFF"/>
<path d="M192.6,214.1L189.8,217.4L184.9,217.5L184.6,214.8L189.0,213.6Z" fill="#E1FFFF"/>
<path d="M219.7,223.6L221.1,227.2L217.3,227.5L214.2,227.1L214.3,223.9L215.2,220.8L218.9,220.0Z" fill="#E1FFFF"/>
<path d="M142.5,314.2L145.8,314.1L145.5,317.8L143.3,320.2L140.6,316.9Z" fill="#FA0000"/>
<path d="M133.4,324.8L133.3,321.5L135.0,319.8L137.6,322.1L138.8,326.5L137.0,327.9L135.2,326.9Z" fill="#FA0000"/>
<path d="M81.3,286.9L84.0,288.5L83.7,290.7L81.1,291.6L79.6,289.5Z" fill="#FA0000"/>
<path d="M92.0,313.2L94.0,314.9L93.9,317.1L92.1,318.9L91.1,316.0Z" fill="#FA0000"/>
<path d="M109.2,299.4L107.2,299.2L105.8,297.8L107.7,296.3L109.7,295.2L110.6,297.1Z" fill="#FA0000"/>
<path d="M629.5,259.5L631.9,260.9L632.1,265.4L629.7,264.9L628.6,261.9Z" fill="#FFD26E"/>
<path d="M638.1,272.0L639.6,270.8L641.9,271.0L641.5,274.4L639.2,275.5L637.8,274.3Z" fill="#FFD26E"/>
<path d="M648.2,293.9L645.8,292.7L648.9,289.9L653.0,288.9L655.0,291.1L651.0,293.5Z" fill="#FFD26E"/>
<path d="M667.3,276.0L668.5,278.0L668.0,280.6L665.3,279.9L663.0,277.6L664.4,275.7L665.4,273.6Z" fill="#FFD26E"/>
<path d="M669.8,289.0L668.0,288.0L668.7,284.2L670.5,284.3L670.8,286.9Z" fill="#FFD26E"/>
<path d="M614.9,279.0L616.7,279.7L618.5,283.6L616.3,284.1L614.5,282.2Z" fill="#FFD26E"/>
<path d="M640.8,258.7L638.7,258.4L636.8,255.9L639.0,254.2L641.0,256.5Z" fill="#C80000"/>
<path d="M662.4,276.7L664.5,278.0L664.5,282.2L662.1,282.3L660.2,280.5L660.8,277.5Z" fill="#C80000"/>
<path d="M656.6,262.2L653.1,262.4L655.5,258.9L658.4,255.9L661.9,256.1L659.3,259.6Z" fill="#C80000"/>
<path d="M733.3,341.6L734.9,340.6L737.1,340.7L737.4,342.3L736.5,344.0L734.1,344.4L732.3,343.2Z" fill="#FA0000"/>
<path d="M722.9,260.2L724.2,261.8L723.1,263.4L721.6,264.2L721.0,262.4L720.8,260.1Z" fill="#FA0000"/>
<path d="M708.0,301.3L706.4,299.9L706.1,298.5L708.9,296.8L710.8,298.2L710.6,299.6Z" fill="#FA0000"/>
<path d="M726.5,339.3L727.7,335.8L730.4,335.4L733.2,335.3L732.3,339.1L730.0,341.9L727.3,342.0Z" fill="#FA0000"/>
<path d="M729.3,247.6L726.5,247.4L724.7,246.7L723.5,245.0L726.1,244.7L728.3,245.7Z" fill="#FA0000"/>
<path d="M708.4,327.5L705.9,325.0L708.2,319.6L711.4,318.0L714.2,318.1L714.1,322.9L711.5,325.8Z" fill="#FA0000"/>
<path d="M746.7,339.3L744.0,337.8L746.3,332.5L749.4,333.0L750.3,336.6Z" fill="#FA0000"/>
<path d="M730.2,324.9L727.8,323.2L730.8,321.8L734.4,321.0L735.8,323.8L732.9,325.8Z" fill="#FA0000"/>
<path d="M731.3,264.3L736.3,267.0L734.4,269.6L729.2,268.2L727.3,265.6Z" fill="#FFD26E"/>
<path d="M727.4,276.0L725.1,272.6L727.1,271.9L729.4,273.8L729.4,276.9Z" fill="#FFD26E"/>
<path d="M709.5,279.6L714.0,280.0L716.3,281.5L718.7,283.7L714.4,284.1L710.4,284.4L707.9,282.1Z" fill="#FFD26E"/>
<path d="M743.7,342.7L744.6,339.5L746.5,338.0L748.0,338.4L748.3,340.3L747.8,343.8L745.0,344.8Z" fill="#FFD26E"/>
<path d="M721.8,310.4L723.3,313.8L721.1,318.3L718.0,315.8L718.4,310.4Z" fill="#FFD26E"/>
<path d="M728.2,259.6L725.1,261.4L722.2,261.7L724.2,258.9L727.0,258.2Z" fill="#FFD26E"/>
<path d="M660.7,368.0L659.2,366.2L660.7,365.1L662.7,365.6L664.1,367.0L664.8,369.2L662.6,370.0Z" fill="#FFD26E"/>
<path d="M675.2,380.9L675.3,382.8L672.9,383.2L670.9,381.6L672.0,379.9L673.8,380.1Z" fill="#FFD26E"/>
<path d="M640.1,417.5L642.1,415.8L644.5,418.7L644.3,421.3L641.5,421.1Z" fill="#FFD26E"/>
<path d="M689.1,417.7L693.5,416.8L697.3,420.1L693.7,421.6L689.4,420.2Z" fill="#FFD26E"/>
<path d="M653.3,366.2L648.4,365.7L651.1,361.6L655.4,359.5L658.2,361.4L656.4,364.1Z" fill="#FFD26E"/>
<path d="M637.2,397.5L638.8,398.0L640.1,399.7L640.3,403.5L637.6,404.2L635.9,402.4L635.8,399.4Z" fill="#FFD26E"/>
<path d="M717.0,373.8L716.3,372.0L717.4,370.6L719.3,371.9L720.1,373.8L718.9,375.4Z" fill="#FFD26E"/>
<path d="M704.2,429.5L705.9,431.1L703.3,433.3L700.3,432.7L700.7,430.2Z" fill="#FFD26E"/>
<path d="M733.3,425.3L731.5,427.0L728.3,426.2L728.7,423.2L731.3,422.3L734.5,422.8Z" fill="#C80000"/>
<path d="M748.2,415.6L752.7,414.1L750.5,418.6L746.9,420.2L744.9,419.2Z" fill="#C80000"/>
<path d="M669.4,391.6L667.0,388.9L666.7,385.7L668.9,384.0L671.4,384.5L673.9,386.9L672.9,390.8Z" fill="#C80000"/>
<path d="M709.2,390.0L705.6,389.3L703.7,387.4L703.2,384.4L707.3,384.4L710.7,387.2Z" fill="#C80000"/>
<path d="M745.0,416.7L741.8,419.2L739.0,416.2L738.5,412.0L742.2,411.3L744.2,413.4Z" fill="#C80000"/>
<path d="M714.0,386.9L717.1,386.9L716.2,391.3L712.3,392.9L710.4,389.8Z" fill="#C80000"/>
<path d="M724.6,425.2L727.2,420.3L730.9,421.0L731.6,426.4L730.6,429.6L728.7,431.7L724.8,430.7Z" fill="#C80000"/>
<path d="M693.7,401.1L691.7,399.6L689.5,397.8L688.7,394.4L691.1,395.1L693.4,396.2L693.8,399.0Z" fill="#C80000"/>
<path d="M669.5,410.0L668.2,412.5L666.0,413.6L662.9,414.4L662.5,412.0L663.8,409.6L666.9,409.0Z" fill="#C80000"/>
<path d="M703.6,427.4L702.8,423.2L705.1,420.0L707.9,422.6L707.9,426.3Z" fill="#C80000"/>
<path d="M555.6,311.0L550.5,308.7L551.8,305.5L554.6,305.5L557.8,306.6L561.5,308.9L560.1,311.2Z" fill="#E1FFFF"/>
<path d="M502.4,326.6L500.5,331.7L497.9,333.4L494.8,334.0L490.7,333.9L488.2,332.0L491.7,327.9L494.7,325.9L497.9,324.8Z" fill="#E1FFFF"/>
<path d="M476.6,319.6L473.9,321.9L472.4,317.2L473.0,313.9L474.4,311.4L477.0,312.1L478.8,315.1Z" fill="#E1FFFF"/>
<path d="M516.4,336.9L511.4,337.9L509.2,334.9L508.3,330.8L509.6,327.8L512.7,326.3L518.2,327.1L518.6,330.2L517.8,333.8Z" fill="#E1FFFF"/>
<path d="M545.9,303.4L550.8,304.2L552.4,307.0L552.6,310.8L552.2,316.9L547.9,316.9L545.7,313.2L544.2,308.7Z" fill="#E1FFFF"/>
<path d="M519.8,357.7L518.3,361.5L514.6,359.9L513.6,355.8L517.4,355.6Z" fill="#E1FFFF"/>
<path d="M567.0,381.9L563.1,380.4L561.8,377.0L562.0,374.1L566.2,376.3L570.7,378.8L569.8,381.6Z" fill="#E1FFFF"/>
<path d="M570.3,281.2L573.0,280.1L575.7,282.7L573.4,283.9L570.2,283.5Z" fill="#E1FFFF"/>
<path d="M558.9,370.5L558.3,366.4L563.5,368.7L566.3,371.3L568.5,373.4L568.7,376.7L565.9,378.7L563.0,377.5L560.1,374.9Z" fill="#E1FFFF"/>
<path d="M498.9,289.5L494.2,289.6L490.5,288.4L487.9,286.7L489.8,283.9L493.6,283.9L497.9,286.2Z" fill="#E1FFFF"/>
<path d="M537.8,336.4L534.0,336.7L530.8,334.8L532.5,333.1L535.5,332.5L539.1,334.2Z" fill="#FFFFFF"/>
<path d="M554.2,290.5L550.5,290.8L550.8,288.5L554.6,287.1L558.5,286.6L558.5,289.0Z" fill="#FFFFFF"/>
<path d="M534.6,392.4L537.4,391.5L539.2,394.5L536.8,397.9L534.3,396.2Z" fill="#FFFFFF"/>
<path d="M556.9,338.2L559.0,339.8L559.8,342.4L556.8,344.0L554.5,342.6L554.4,340.1Z" fill="#FFFFFF"/>
<path d="M560.0,360.8L560.5,358.6L563.0,357.9L563.9,360.4L562.7,363.1L560.3,362.8Z" fill="#FFFFFF"/>
<path d="M506.7,357.7L504.7,354.8L506.7,353.0L511.6,352.9L512.8,356.1L510.0,357.5Z" fill="#FFFFFF"/>
<path d="M558.7,239.2L559.7,237.7L560.9,239.3L561.2,241.4L560.3,243.9L558.2,242.0Z" fill="#FFD26E"/>
<path d="M549.4,233.7L546.2,231.7L544.4,229.5L547.5,227.3L551.9,230.3L554.4,234.3Z" fill="#FFD26E"/>
<path d="M569.0,268.6L571.9,268.7L575.3,271.6L574.7,274.7L572.1,274.2L569.1,272.0Z" fill="#FFD26E"/>
<path d="M557.2,239.6L554.3,236.1L555.3,233.9L558.2,232.9L560.6,235.4L562.3,238.7L561.5,242.9Z" fill="#FFD26E"/>
<path d="M565.1,276.9L564.2,275.5L566.6,273.4L569.3,272.9L569.2,274.5L567.8,276.4Z" fill="#FFD26E"/>
<path d="M979.8,186.0L974.0,186.7L971.5,183.7L970.8,180.3L975.5,178.5L979.3,181.9Z" fill="#FFFFFF"/>
<path d="M920.5,178.6L920.8,175.2L923.0,170.2L925.7,166.2L928.0,164.9L930.2,169.3L928.1,173.1L925.3,176.4L922.4,178.8Z" fill="#FFFFFF"/>
<path d="M860.0,183.2L861.7,181.3L863.6,181.5L865.8,183.0L863.9,186.9L861.2,186.8L859.4,185.9Z" fill="#FFFFFF"/>
<path d="M939.2,161.8L941.5,163.5L941.2,166.6L938.4,166.7L937.6,164.1Z" fill="#FFFFFF"/>
<path d="M911.6,181.4L908.2,177.6L906.5,175.0L912.0,176.4L917.6,177.4L921.1,179.9L923.3,182.8L921.0,185.9L915.8,186.2L913.7,184.4Z" fill="#FFFFFF"/>
<path d="M908.5,181.5L911.0,181.9L913.5,184.9L916.1,189.0L917.2,192.4L913.8,194.0L909.9,192.5L906.9,190.2L905.1,187.2L905.9,183.7Z" fill="#FFFFFF"/>
<path d="M966.7,186.1L963.6,188.3L961.3,187.8L962.4,184.6L964.7,181.9L967.1,182.5Z" fill="#FFFFFF"/>
<path d="M924.9,166.2L928.2,166.1L929.3,169.3L929.2,172.7L925.7,174.2L923.3,169.3Z" fill="#FFFFFF"/>
<path d="M958.8,176.3L962.7,176.0L965.4,178.8L962.7,180.8L958.9,183.4L954.8,186.0L950.1,186.5L951.1,183.2L953.9,179.2L956.4,177.1Z" fill="#FFFFFF"/>
<path d="M968.8,187.7L971.0,185.7L974.5,183.5L974.5,185.8L973.6,188.0L970.7,189.5L967.6,190.4Z" fill="#FFFFFF"/>
<path d="M855.1,186.6L855.5,182.2L856.7,178.9L860.3,178.7L863.0,181.1L863.3,185.3L859.6,188.0Z" fill="#FFFFFF"/>
<path d="M930.1,183.8L925.5,182.2L924.4,178.1L928.2,176.3L933.2,175.0L934.2,180.1Z" fill="#FFFFFF"/>
<path d="M855.3,186.7L854.8,183.0L858.2,182.2L862.8,181.8L868.3,183.7L866.2,185.7L862.7,187.8L859.6,188.3Z" fill="#FA0000"/>
<path d="M860.2,181.8L861.3,184.9L859.1,186.6L856.0,185.9L854.0,182.9L855.6,180.7L857.9,179.1Z" fill="#FA0000"/>
<path d="M976.5,182.2L979.3,185.0L977.6,187.2L975.6,188.7L972.8,185.9L972.3,182.5L973.9,180.8Z" fill="#FA0000"/>
<path d="M916.2,196.0L913.4,196.1L912.3,193.0L915.1,189.5L919.9,188.6L919.8,193.7Z" fill="#FA0000"/>
<path d="M965.7,188.2L965.5,183.4L967.4,181.4L970.3,180.8L972.8,181.8L974.2,184.1L971.7,189.1L968.7,189.6Z" fill="#FA0000"/>
<path d="M981.0,182.5L980.9,184.4L978.6,184.6L975.9,183.7L974.2,181.4L975.2,179.6L978.6,179.8Z" fill="#FA0000"/>
<path d="M884.6,199.6L883.1,196.1L884.6,193.3L887.7,193.8L890.3,196.3L889.7,199.2L887.9,201.3Z" fill="#FA0000"/>
<path d="M881.3,194.2L882.8,191.2L885.1,192.8L885.9,196.3L884.1,199.0L882.1,198.7L879.9,197.2Z" fill="#FA0000"/>
<path d="M962.5,193.1L962.8,188.8L966.9,189.6L971.2,191.9L972.5,196.0L968.3,198.5L965.0,196.4Z" fill="#FA0000"/>
<path d="M965.6,190.5L962.8,193.3L961.1,191.3L960.0,189.1L962.6,185.6L965.3,186.5L966.8,187.7Z" fill="#FA0000"/>
<path d="M893.8,192.0L898.2,191.5L897.9,193.5L895.7,195.1L892.3,194.8L890.4,193.4Z" fill="#FA0000"/>
<path d="M903.6,168.6L900.9,167.1L900.5,164.3L903.2,164.4L905.0,166.3Z" fill="#FA0000"/>
<path d="M850.1,172.0L848.0,169.6L847.7,166.2L849.6,162.1L852.3,163.3L855.1,164.9L853.4,169.8Z" fill="#FA0000"/>
<path d="M926.0,178.5L921.2,180.5L918.9,176.8L920.3,173.4L923.7,174.4Z" fill="#FA0000"/>
<path d="M888.7,167.8L884.7,168.6L884.6,166.2L888.3,164.3L890.0,165.5Z" fill="#C80000"/>
<path d="M921.2,181.1L923.4,179.7L926.1,180.9L927.7,183.0L924.7,184.3L922.0,183.8L918.8,182.8Z" fill="#C80000"/>
<path d="M900.3,172.2L904.8,174.1L906.8,177.7L902.2,177.0L899.0,175.6L897.9,173.3Z" fill="#C80000"/>
<path d="M887.6,188.7L882.5,188.6L880.2,186.9L884.3,183.9L889.2,184.8Z" fill="#C80000"/>
<path d="M970.3,171.5L970.3,169.4L971.7,167.6L974.4,168.4L974.8,171.4L972.5,173.7Z" fill="#C80000"/>
<path d="M887.3,170.0L891.3,170.4L891.6,174.8L886.2,176.8L883.4,173.6Z" fill="#C80000"/>
<path d="M935.4,181.4L934.9,185.8L931.4,186.9L930.5,182.3L933.1,179.7Z" fill="#C80000"/>
<path d="M859.4,189.1L860.5,184.7L864.1,182.1L866.9,183.6L868.7,186.2L866.0,189.5L862.4,190.0Z" fill="#C80000"/>
<path d="M932.9,196.4L932.8,193.8L936.3,193.2L939.5,194.0L941.8,196.0L941.1,198.8L936.0,199.1Z" fill="#C80000"/>
<path d="M944.4,173.2L947.3,170.3L948.3,172.7L949.2,175.3L945.9,178.2L943.3,178.2L942.4,176.1Z" fill="#C80000"/>
<path d="M971.8,191.6L972.5,193.0L970.8,194.1L969.5,193.2L968.9,192.1L970.0,190.8Z" fill="#FFD26E"/>
<path d="M941.0,169.2L938.9,168.1L938.2,166.0L940.5,163.6L943.0,164.2L945.5,165.0L943.5,167.4Z" fill="#FFD26E"/>
<path d="M853.0,203.1L854.3,200.3L856.9,196.6L858.9,193.3L860.7,191.3L863.6,192.6L865.0,195.4L863.8,199.1L860.9,202.4L856.3,203.4Z" fill="#FFD26E"/>
<path d="M870.8,186.4L870.2,183.4L873.2,181.5L876.4,182.0L875.7,185.1Z" fill="#FFD26E"/>
<path d="M928.5,166.4L932.5,167.0L932.1,169.5L928.4,171.5L925.1,169.1L924.2,166.6Z" fill="#FFD26E"/>
<path d="M979.1,181.8L980.4,183.2L980.6,185.0L979.3,186.4L978.0,185.3L977.6,183.4Z" fill="#FFD26E"/>
<path d="M906.3,166.6L908.4,167.8L907.6,169.6L904.5,170.4L904.6,167.7Z" fill="#FFD26E"/>
<path d="M885.3,164.6L882.8,167.2L880.4,166.1L880.6,162.8L883.0,161.6Z" fill="#FFD26E"/>
<path d="M1111.8,236.6L1108.8,234.2L1108.8,231.3L1109.5,228.6L1112.5,230.7L1113.7,232.9L1113.6,235.0Z" fill="#FA0000"/>
<path d="M976.4,224.2L979.8,225.3L983.1,227.0L985.9,228.5L986.1,233.6L983.8,233.4L980.8,232.1L977.6,230.3L973.2,227.8L971.0,225.7L972.1,224.2Z" fill="#FA0000"/>
<path d="M784.9,229.3L786.1,231.3L786.6,233.4L785.2,235.4L782.7,235.8L780.9,233.2L782.1,229.6Z" fill="#FA0000"/>
<path d="M970.4,216.7L972.7,211.8L975.6,211.6L978.7,213.0L982.4,217.5L979.8,218.7L975.7,218.7Z" fill="#FA0000"/>
<path d="M1019.3,230.3L1020.8,233.2L1018.7,236.2L1015.4,234.2L1015.5,230.2Z" fill="#FA0000"/>
<path d="M1075.7,219.8L1075.2,217.2L1077.6,216.0L1081.3,217.1L1080.4,219.9L1078.5,221.9Z" fill="#FA0000"/>
<path d="M1060.6,208.6L1061.8,214.2L1061.6,218.8L1059.4,218.1L1056.8,215.2L1054.6,211.5L1053.5,208.4L1056.1,206.4Z" fill="#FA0000"/>
<path d="M856.6,219.4L855.4,221.0L853.3,219.7L853.1,216.9L855.2,216.4Z" fill="#FA0000"/>
<path d="M849.1,226.1L846.2,225.8L843.4,223.7L842.0,220.5L841.8,217.1L844.4,214.6L847.1,217.4L849.9,221.7Z" fill="#FA0000"/>
<path d="M925.3,233.6L929.3,230.5L933.8,232.6L933.2,235.9L930.4,239.3L926.3,241.4L923.3,240.7L923.5,237.4Z" fill="#FA0000"/>
<path d="M975.2,215.6L976.4,219.3L972.4,220.4L968.9,217.4L968.9,213.2L973.1,212.2Z" fill="#FA0000"/>
<path d="M1112.2,216.0L1109.1,213.9L1108.3,211.1L1110.8,209.0L1115.2,208.3L1119.2,209.2L1121.4,211.3L1119.4,214.7L1115.9,216.1Z" fill="#FA0000"/>
<path d="M859.6,216.0L863.4,214.4L866.3,217.7L863.5,221.1L859.5,220.0Z" fill="#FA0000"/>
<path d="M878.5,221.5L882.8,222.7L886.8,225.1L882.5,225.6L878.0,225.9L875.1,222.9Z" fill="#FA0000"/>
<path d="M795.9,227.1L798.2,225.3L801.1,226.3L803.1,228.8L803.6,234.5L803.8,239.0L799.5,235.7L795.8,230.9Z" fill="#FA0000"/>
<path d="M994.1,227.5L993.3,230.4L989.8,230.7L989.2,227.0L992.3,224.4Z" fill="#FA0000"/>
<path d="M921.1,224.6L924.8,226.1L924.7,229.4L922.8,233.1L918.9,232.4L915.7,231.0L916.6,227.1Z" fill="#FA0000"/>
<path d="M898.9,226.1L898.9,223.5L901.2,222.2L902.9,224.1L901.9,226.4L900.3,227.5Z" fill="#FA0000"/>
<path d="M1077.7,215.1L1080.4,217.6L1080.1,221.6L1076.3,223.8L1072.7,222.8L1072.7,219.4L1073.2,215.2Z" fill="#FA0000"/>
<path d="M967.9,222.9L970.3,223.0L972.3,225.9L971.4,229.0L969.6,228.8L967.5,227.0Z" fill="#FA0000"/>
<path d="M1104.3,225.6L1103.2,228.9L1100.4,232.7L1096.8,235.8L1094.0,236.8L1094.0,235.1L1096.0,231.5L1097.8,227.3L1099.9,224.3Z" fill="#FA0000"/>
<path d="M845.3,228.3L842.3,227.1L842.0,223.0L843.9,220.2L846.8,218.2L850.2,218.1L852.4,220.2L849.1,226.0Z" fill="#FA0000"/>
<path d="M1116.3,220.5L1115.3,223.3L1110.5,222.8L1109.3,219.9L1112.5,218.7Z" fill="#FA0000"/>
<path d="M1067.8,225.5L1070.6,222.4L1074.7,220.2L1080.6,221.0L1082.2,224.5L1079.4,227.9L1075.7,230.8L1072.3,231.7L1069.0,230.3Z" fill="#FA0000"/>
<path d="M867.1,247.3L870.7,249.8L872.6,252.8L868.3,255.7L864.1,254.5L860.4,252.3L859.9,247.7L863.0,246.6Z" fill="#C80000"/>
<path d="M911.7,245.8L909.4,244.8L908.9,241.8L910.2,239.7L913.0,240.2L913.7,243.5L913.4,245.6Z" fill="#C80000"/>
<path d="M888.8,259.7L889.7,256.2L892.0,253.0L895.8,253.5L896.0,256.8L892.5,260.7Z" fill="#C80000"/>
<path d="M914.3,244.7L912.4,242.5L912.4,238.3L915.0,239.5L916.5,243.8Z" fill="#C80000"/>
<path d="M963.0,254.4L961.4,256.3L959.1,254.1L958.7,251.1L961.8,252.0Z" fill="#C80000"/>
<path d="M802.8,249.1L803.4,252.0L801.9,256.2L799.2,256.3L798.6,253.5L798.7,250.2L801.1,247.3Z" fill="#C80000"/>
<path d="M770.2,260.8L766.3,261.8L764.5,259.9L766.8,257.2L770.1,257.5Z" fill="#C80000"/>
<path d="M833.1,247.3L835.5,247.0L838.3,248.8L838.9,252.0L837.3,253.3L834.7,251.0Z" fill="#C80000"/>
<path d="M868.5,245.1L871.4,244.0L873.0,247.2L869.8,251.1L867.6,248.5Z" fill="#C80000"/>
<path d="M844.1,254.1L841.1,252.6L839.7,248.6L842.4,245.9L844.2,249.5Z" fill="#C80000"/>
<path d="M938.3,250.1L935.9,251.0L933.4,249.3L933.9,245.9L937.2,245.7L940.5,247.2Z" fill="#C80000"/>
<path d="M914.7,259.2L916.0,260.3L916.0,262.6L913.9,265.3L911.7,264.0L912.9,261.0Z" fill="#C80000"/>
<path d="M1063.9,167.9L1065.9,166.6L1069.3,168.5L1070.7,172.2L1068.3,173.3L1064.9,171.4Z" fill="#FA0000"/>
<path d="M1094.4,179.3L1095.6,177.2L1097.2,177.1L1098.4,179.4L1096.4,180.3Z" fill="#FA0000"/>
<path d="M1063.9,190.1L1066.6,188.9L1068.6,190.4L1067.8,193.2L1064.8,194.6Z" fill="#FA0000"/>
<path d="M1053.5,186.9L1051.9,185.2L1053.0,183.0L1057.1,183.0L1059.7,184.6L1057.6,186.8Z" fill="#FA0000"/>
<path d="M1053.8,171.0L1056.8,170.2L1060.2,169.8L1060.7,173.4L1059.4,175.1L1056.4,174.2Z" fill="#FA0000"/>
<path d="M1047.2,183.4L1052.2,181.4L1054.8,182.8L1054.3,187.6L1051.5,189.4L1048.4,190.0L1046.3,187.9Z" fill="#FA0000"/>
<path d="M1006.0,189.6L1009.7,186.2L1013.1,186.5L1015.3,188.3L1012.5,193.3L1009.0,194.3L1006.1,193.7Z" fill="#FA0000"/>
<path d="M997.8,175.6L997.2,171.8L1000.1,171.1L1002.8,174.0L1001.4,176.7L999.7,178.6Z" fill="#FA0000"/>
<path d="M1045.4,196.7L1049.2,197.5L1047.5,201.0L1043.3,202.0L1041.2,200.9L1039.4,199.2L1042.4,197.2Z" fill="#FA0000"/>
<path d="M1020.2,175.8L1025.0,175.0L1024.7,178.4L1020.4,180.8L1016.4,181.7L1015.2,179.7L1015.5,176.6Z" fill="#FA0000"/>
<path d="M1097.3,167.0L1096.5,169.7L1095.0,172.0L1093.1,172.1L1092.6,170.3L1092.9,167.0L1095.8,165.5Z" fill="#FA0000"/>
<path d="M1122.3,196.3L1120.7,199.6L1115.4,201.7L1111.6,200.0L1115.4,197.0L1118.9,195.4Z" fill="#FA0000"/>
<path d="M1064.9,168.0L1067.2,170.7L1066.2,175.5L1064.2,179.0L1062.5,174.8L1062.4,169.5Z" fill="#FA0000"/>
<path d="M1062.9,195.3L1063.6,191.5L1065.4,187.5L1067.2,184.7L1070.3,183.6L1073.2,185.6L1074.3,188.4L1074.5,191.8L1073.5,195.2L1068.0,198.8Z" fill="#FA0000"/>
<path d="M1057.8,189.2L1055.8,190.8L1053.0,188.7L1052.2,186.6L1053.0,184.5L1056.3,184.9L1057.8,187.2Z" fill="#FFD26E"/>
<path d="M1036.6,187.0L1037.8,187.2L1038.7,189.1L1036.9,190.4L1035.2,192.2L1034.0,190.2L1035.2,187.5Z" fill="#FFD26E"/>
<path d="M1110.7,189.3L1107.9,187.8L1108.7,185.6L1111.2,185.9L1112.7,187.5L1113.5,189.8Z" fill="#FFD26E"/>
<path d="M1115.4,189.2L1116.2,187.5L1117.4,188.8L1117.8,190.2L1116.8,191.0L1115.4,191.0Z" fill="#FFD26E"/>
<path d="M806.9,391.5L805.0,394.5L800.1,393.4L798.1,390.5L796.7,387.0L801.1,385.9L806.0,387.8Z" fill="#FA0000"/>
<path d="M845.3,414.2L845.9,415.8L844.1,416.7L841.6,415.6L843.1,413.5Z" fill="#FA0000"/>
<path d="M845.0,382.6L842.0,381.8L839.7,380.5L839.5,378.0L841.5,377.3L844.2,379.1Z" fill="#FA0000"/>
<path d="M786.9,414.7L789.0,413.8L790.5,414.7L790.5,416.4L789.1,418.0L786.8,417.1Z" fill="#FA0000"/>
<path d="M843.1,409.1L845.3,408.1L848.9,411.3L850.1,415.1L848.5,416.6L845.5,415.3L842.1,411.6Z" fill="#FA0000"/>
<path d="M782.9,352.2L781.0,353.8L778.9,354.4L778.2,352.3L777.5,349.9L779.8,348.6L782.1,349.6Z" fill="#FA0000"/>
<path d="M753.9,390.9L758.0,391.7L756.1,396.4L752.8,398.3L750.3,395.8L751.5,393.1Z" fill="#FA0000"/>
<path d="M779.8,426.0L780.0,428.4L778.2,432.3L776.5,431.1L776.2,428.8L778.0,426.0Z" fill="#FA0000"/>
<path d="M816.0,405.6L815.3,410.1L812.5,413.2L811.0,411.7L811.5,408.3L814.0,403.7Z" fill="#FA0000"/>
<path d="M818.0,357.5L818.5,355.6L819.6,354.4L821.0,355.4L821.7,356.6L821.3,358.2L819.8,357.8Z" fill="#FA0000"/>
<path d="M759.8,335.6L762.2,336.8L762.5,338.9L761.2,340.6L758.7,339.2L757.5,336.7Z" fill="#C80000"/>
<path d="M765.8,310.9L767.2,313.2L764.6,317.8L759.0,317.8L757.4,314.6L758.8,312.0L761.2,310.0Z" fill="#C80000"/>
<path d="M784.2,309.4L789.4,311.8L789.4,314.6L785.4,314.2L782.0,312.3L780.0,310.4Z" fill="#C80000"/>
<path d="M772.4,308.4L772.1,311.8L770.1,315.2L767.8,314.1L766.0,312.9L767.0,309.5L769.9,307.7Z" fill="#C80000"/>
<path d="M757.3,335.3L758.2,332.7L761.4,334.1L763.4,337.1L761.5,338.1L759.1,338.7Z" fill="#C80000"/>
<path d="M767.8,287.0L770.4,284.5L773.7,284.6L774.2,287.1L772.2,289.2L769.2,291.1L767.9,289.2Z" fill="#C80000"/>
<path d="M879.5,391.0L878.9,394.8L875.5,396.5L874.6,394.5L875.8,390.7Z" fill="#FA0000"/>
<path d="M1001.8,433.1L999.6,430.5L999.2,428.0L1003.6,426.9L1005.9,429.6L1006.3,432.2Z" fill="#FA0000"/>
<path d="M876.1,435.0L871.9,433.5L870.3,428.2L871.6,424.7L875.4,427.0L878.2,430.0L879.8,435.0Z" fill="#FA0000"/>
<path d="M934.7,426.1L931.1,427.4L927.2,425.6L926.3,422.3L929.0,420.5L932.5,420.4L934.7,423.0Z" fill="#FA0000"/>
<path d="M891.9,424.4L889.6,425.5L886.4,424.9L882.4,422.8L885.9,421.9L889.5,421.8Z" fill="#FA0000"/>
<path d="M888.7,401.3L890.9,399.6L894.1,401.5L895.5,403.4L894.4,405.8L890.3,403.9Z" fill="#FA0000"/>
<path d="M911.5,412.4L909.8,415.1L906.1,412.8L905.7,408.9L909.4,409.9Z" fill="#FA0000"/>
<path d="M924.4,421.3L922.5,423.8L919.6,426.0L914.5,426.6L915.8,421.7L917.9,418.8L920.8,416.7L924.0,418.1Z" fill="#FA0000"/>
<path d="M904.9,416.9L903.5,419.8L901.6,421.4L898.2,420.8L897.8,417.1L899.5,413.7L901.9,410.5L905.9,409.5L905.9,412.7Z" fill="#FA0000"/>
<path d="M970.8,423.2L972.3,427.9L970.8,431.9L966.1,432.4L964.0,427.7L966.8,425.0Z" fill="#FA0000"/>
<path d="M916.3,401.9L917.2,399.6L919.1,398.2L921.6,399.3L921.9,402.0L919.0,402.8Z" fill="#FA0000"/>
<path d="M905.9,428.2L903.7,426.0L902.6,422.8L904.3,418.2L907.8,420.0L910.8,423.3L910.0,427.5Z" fill="#FA0000"/>
<path d="M948.5,425.8L946.7,428.4L943.5,429.4L943.8,426.1L946.8,422.8L949.6,422.9Z" fill="#FA0000"/>
<path d="M930.6,427.4L928.2,427.1L927.5,424.9L929.1,421.3L930.9,423.5Z" fill="#FA0000"/>
<path d="M911.8,420.9L914.8,421.7L915.3,425.3L912.3,426.2L910.7,424.8Z" fill="#690000"/>
<path d="M963.2,420.6L962.9,422.8L961.3,423.6L960.2,423.8L960.0,422.6L959.9,420.7L961.7,419.8Z" fill="#690000"/>
<path d="M904.2,408.8L902.7,410.0L901.5,408.5L902.7,405.7L904.4,403.1L905.5,404.9L905.6,407.2Z" fill="#690000"/>
<path d="M891.5,419.8L889.7,418.1L889.1,415.3L890.9,415.1L892.0,417.1Z" fill="#690000"/>
<path d="M918.7,437.8L916.6,437.6L914.7,436.7L914.8,432.6L917.3,430.5L919.7,430.4L919.5,434.3Z" fill="#690000"/>
<path d="M1112.1,337.4L1114.8,335.0L1118.7,333.8L1119.0,336.6L1115.3,338.0Z" fill="#1964D2"/>
<path d="M1122.5,384.5L1119.7,381.3L1123.3,378.5L1127.4,379.9L1129.7,381.2L1128.2,385.3Z" fill="#1964D2"/>
<path d="M1002.5,364.1L998.9,364.4L995.6,360.5L998.0,357.7L1001.0,359.9Z" fill="#1964D2"/>
<path d="M1074.3,364.5L1071.0,359.8L1074.1,354.8L1077.9,355.3L1078.5,359.1L1077.9,363.0Z" fill="#1964D2"/>
<path d="M1111.3,350.3L1112.2,348.6L1114.1,348.3L1114.6,350.0L1113.4,352.4L1111.0,352.5Z" fill="#1964D2"/>
<path d="M1097.7,337.8L1093.3,336.6L1089.4,333.8L1093.6,332.9L1097.4,334.0L1101.7,336.6Z" fill="#1964D2"/>
<path d="M999.4,304.0L994.4,307.1L990.2,308.2L986.0,308.0L982.4,306.1L980.7,303.9L985.7,301.9L989.5,300.8L993.6,300.6L997.7,302.0Z" fill="#E1FFFF"/>
<path d="M1024.3,310.7L1026.3,311.8L1025.0,313.7L1023.2,314.5L1022.3,312.7L1022.6,310.9Z" fill="#E1FFFF"/>
<path d="M993.3,299.3L989.6,301.1L985.9,300.8L984.6,295.4L986.8,292.0L990.8,293.4L992.7,296.3Z" fill="#E1FFFF"/>
<path d="M1032.0,301.0L1033.3,298.7L1036.6,298.9L1038.9,301.3L1039.0,304.1L1036.2,305.3L1033.4,303.4Z" fill="#E1FFFF"/>
<path d="M1063.5,280.8L1065.0,277.1L1069.2,275.3L1070.0,277.6L1066.9,280.6Z" fill="#E1FFFF"/>
<path d="M1071.3,306.9L1070.1,302.9L1069.8,299.6L1072.6,298.2L1076.1,299.7L1078.1,303.6L1079.1,308.2L1076.9,313.5L1074.2,312.7L1072.6,310.3Z" fill="#E1FFFF"/>
<path d="M1108.6,292.5L1108.9,298.7L1106.6,301.3L1103.7,302.3L1100.4,302.3L1096.0,301.4L1094.1,298.6L1095.4,295.1L1099.6,292.6L1103.0,292.0L1106.1,291.9Z" fill="#E1FFFF"/>
<path d="M944.9,282.1L947.2,285.6L948.0,288.9L946.5,292.0L942.7,287.7L942.4,283.0Z" fill="#E1FFFF"/>
<path d="M938.9,311.5L935.3,307.9L933.3,304.7L933.2,301.7L936.1,298.1L938.8,298.9L939.6,301.9L940.3,306.3Z" fill="#E1FFFF"/>
<path d="M922.7,282.9L918.1,283.7L914.7,282.7L912.3,280.0L914.0,274.0L917.6,274.1L921.1,276.6L922.9,279.9Z" fill="#E1FFFF"/>
<path d="M1126.7,267.8L1124.1,267.2L1122.2,263.6L1124.6,262.4L1127.0,264.4Z" fill="#FFFFFF"/>
<path d="M1203.7,307.2L1200.8,310.2L1198.4,309.7L1198.1,306.6L1201.2,305.7Z" fill="#FFFFFF"/>
<path d="M1253.6,244.4L1251.5,242.3L1253.0,240.3L1255.5,241.0L1257.6,242.3L1257.6,244.6L1255.8,245.9Z" fill="#FFFFFF"/>
<path d="M1240.8,302.6L1243.8,307.4L1240.4,310.5L1235.7,310.3L1231.9,306.3L1235.3,302.7Z" fill="#FFFFFF"/>
<path d="M1205.7,307.2L1208.5,305.9L1207.9,308.9L1207.5,312.3L1207.2,316.7L1204.1,318.5L1203.3,316.5L1203.8,312.7Z" fill="#FFFFFF"/>
<path d="M1174.2,249.4L1172.1,246.4L1174.8,244.4L1176.8,243.7L1179.6,244.5L1178.9,247.3L1177.1,248.7Z" fill="#FFFFFF"/>
<path d="M1263.3,294.0L1266.2,294.9L1268.4,297.6L1268.7,302.3L1265.8,303.8L1262.4,303.0L1261.7,297.8Z" fill="#FFFFFF"/>
<path d="M1217.0,253.7L1219.1,251.1L1222.0,249.5L1225.4,253.4L1225.8,258.4L1222.4,259.3L1219.7,257.1Z" fill="#FFFFFF"/>
<path d="M1134.7,265.7L1131.5,263.2L1130.7,258.6L1134.9,259.3L1136.2,263.7Z" fill="#FFFFFF"/>
<path d="M1172.2,290.9L1170.0,293.1L1168.1,291.4L1166.3,288.1L1164.5,281.7L1167.6,279.8L1171.6,282.6L1173.0,287.8Z" fill="#FFFFFF"/>
<path d="M1147.3,250.4L1151.1,254.2L1151.8,257.1L1149.2,257.7L1145.0,257.4L1140.9,256.4L1136.7,253.5L1135.5,249.9L1137.1,246.9L1140.4,246.1L1142.9,247.0L1145.0,248.5Z" fill="#FFFFFF"/>
<path d="M1223.8,289.5L1226.5,290.1L1228.1,293.2L1229.4,296.9L1227.0,297.3L1224.8,297.2L1224.0,293.6Z" fill="#FFFFFF"/>
<path d="M1141.7,245.3L1141.9,240.8L1144.4,238.3L1147.6,236.4L1152.5,236.0L1154.9,239.1L1153.0,242.6L1150.4,245.2L1145.6,246.0Z" fill="#FFFFFF"/>
<path d="M1210.2,315.5L1207.7,312.0L1208.0,308.9L1210.5,306.2L1213.6,309.8L1212.9,313.3Z" fill="#FFFFFF"/>
<path d="M1273.2,236.0L1274.4,240.1L1275.4,244.8L1270.5,243.5L1267.0,240.1L1266.1,236.2L1268.1,233.0Z" fill="#FFFFFF"/>
<path d="M1143.9,294.1L1143.6,297.4L1142.4,299.6L1140.5,299.4L1139.3,296.6L1141.4,293.8Z" fill="#FFFFFF"/>
<path d="M1269.2,250.3L1275.2,251.1L1274.1,254.6L1271.0,258.5L1268.5,260.9L1265.9,262.0L1260.7,261.1L1261.0,257.6L1263.0,254.0L1265.8,251.6Z" fill="#E1FFFF"/>
<path d="M1266.3,316.2L1264.7,312.4L1265.5,309.0L1266.7,306.0L1270.5,301.9L1273.0,306.2L1272.4,309.7L1270.2,313.1Z" fill="#E1FFFF"/>
<path d="M1244.7,315.9L1248.6,318.7L1246.2,320.3L1242.1,321.2L1237.3,320.2L1237.3,316.7L1240.6,315.8Z" fill="#E1FFFF"/>
<path d="M1240.5,320.3L1237.6,320.0L1234.1,317.6L1231.3,313.9L1230.5,311.4L1235.0,311.5L1238.3,313.4L1240.9,316.0Z" fill="#E1FFFF"/>
<path d="M1192.1,290.8L1194.1,294.3L1189.1,293.7L1184.3,290.2L1186.5,287.7L1189.3,288.7Z" fill="#E1FFFF"/>
<path d="M1224.0,310.7L1228.7,312.4L1230.4,316.0L1227.8,317.6L1223.9,317.7L1220.3,316.7L1217.9,315.3L1218.6,312.1Z" fill="#E1FFFF"/>
<path d="M1253.0,264.5L1248.4,264.2L1243.2,262.7L1243.1,258.2L1245.8,255.1L1247.8,256.8L1250.0,259.9Z" fill="#E1FFFF"/>
<path d="M1263.3,271.2L1265.6,270.4L1267.5,271.7L1267.6,273.7L1266.3,275.6L1264.3,274.7L1262.6,273.4Z" fill="#E1FFFF"/>
<path d="M1234.2,279.1L1234.1,276.4L1236.0,275.5L1238.3,278.1L1240.3,281.2L1239.7,284.2L1236.3,282.1Z" fill="#E1FFFF"/>
<path d="M1211.3,283.7L1213.9,280.6L1217.4,281.3L1221.1,284.9L1216.5,285.7Z" fill="#E1FFFF"/>
<path d="M1183.6,312.0L1184.7,312.0L1185.5,313.7L1184.3,315.6L1183.2,315.8L1182.5,313.8Z" fill="#50A5F5"/>
<path d="M1184.7,285.6L1182.3,284.9L1182.9,282.2L1185.6,281.7L1187.1,284.3Z" fill="#50A5F5"/>
<path d="M1161.2,295.8L1159.1,298.1L1156.6,298.3L1156.3,296.9L1159.1,294.8Z" fill="#50A5F5"/>
<path d="M1175.4,296.7L1176.6,295.3L1178.7,295.1L1179.2,297.4L1176.3,298.7Z" fill="#50A5F5"/>
<path d="M1144.6,310.2L1147.4,309.6L1148.8,310.5L1148.7,311.7L1146.8,312.9L1145.2,311.7Z" fill="#50A5F5"/>
<path d="M1158.9,268.5L1159.3,270.5L1158.7,271.9L1157.5,271.5L1157.2,269.6Z" fill="#50A5F5"/>
<path d="M1161.0,278.4L1161.9,279.7L1161.7,280.9L1161.3,282.2L1160.2,281.4L1159.1,280.2L1160.0,279.1Z" fill="#50A5F5"/>
<path d="M1196.4,311.4L1199.3,311.7L1200.4,313.7L1197.0,315.1L1194.0,313.5Z" fill="#50A5F5"/>
<path d="M1313.8,301.7L1316.9,299.2L1318.1,304.5L1317.3,308.0L1315.8,310.4L1312.4,308.7L1312.6,305.3Z" fill="#FFFFFF"/>
<path d="M1351.2,294.3L1345.6,295.9L1346.4,291.4L1349.0,289.0L1352.2,287.6L1356.1,289.0L1354.5,291.7Z" fill="#FFFFFF"/>
<path d="M1280.5,295.3L1276.6,293.0L1279.1,290.2L1283.3,288.0L1288.9,289.5L1285.8,293.7Z" fill="#FFFFFF"/>
<path d="M1303.1,333.1L1300.5,334.8L1299.6,332.7L1299.7,329.0L1302.0,327.9L1303.7,328.9Z" fill="#FFFFFF"/>
<path d="M1333.2,331.3L1329.3,328.8L1330.9,324.8L1335.6,326.3L1336.1,329.9Z" fill="#FFFFFF"/>
<path d="M1303.2,301.1L1304.6,298.2L1306.7,300.4L1307.1,305.3L1304.7,306.6L1302.9,304.8Z" fill="#FFFFFF"/>
<path d="M1292.9,330.2L1291.3,330.3L1289.6,330.1L1289.8,328.2L1291.2,327.0L1293.3,326.3L1293.3,328.4Z" fill="#FFFFFF"/>
<path d="M1329.6,299.8L1329.1,295.9L1331.2,293.9L1333.2,296.2L1334.1,300.4L1332.0,302.0L1330.0,304.2Z" fill="#FFFFFF"/>
<path d="M1292.7,286.5L1293.7,283.6L1296.5,283.5L1295.6,287.1L1293.3,289.2Z" fill="#50A5F5"/>
<path d="M1329.6,310.6L1329.7,312.2L1328.6,313.2L1327.0,313.2L1325.4,312.2L1326.3,310.7L1327.8,309.1Z" fill="#50A5F5"/>
<path d="M1305.8,301.6L1306.4,303.5L1304.8,304.2L1302.9,304.4L1302.1,302.6L1303.8,301.9Z" fill="#50A5F5"/>
<path d="M1334.0,286.4L1331.3,284.2L1331.9,281.6L1333.9,281.4L1336.2,283.6L1336.8,287.1Z" fill="#50A5F5"/>
<path d="M1310.1,315.4L1310.1,317.1L1308.9,318.4L1307.7,317.1L1308.4,315.2Z" fill="#50A5F5"/>
<path d="M1267.6,400.2L1268.3,397.5L1271.8,398.3L1273.6,401.3L1272.1,402.7L1269.4,403.6Z" fill="#1964D2"/>
<path d="M1199.6,369.8L1200.0,372.9L1198.3,375.9L1196.8,374.7L1197.1,372.2Z" fill="#1964D2"/>
<path d="M1139.4,425.4L1144.8,424.9L1145.7,427.6L1141.4,429.5L1136.7,431.1L1134.3,429.1L1136.5,427.0Z" fill="#1964D2"/>
<path d="M1179.1,413.0L1176.5,413.7L1173.9,411.2L1175.3,409.5L1179.5,410.9Z" fill="#1964D2"/>
<path d="M1263.4,374.2L1265.4,375.2L1263.1,377.9L1261.4,378.0L1261.3,375.2Z" fill="#1964D2"/>
<path d="M1251.4,373.0L1250.2,372.1L1248.8,370.9L1249.9,369.3L1251.5,369.8L1252.5,370.5L1252.9,372.1Z" fill="#1964D2"/>
<path d="M1190.2,416.2L1189.9,412.4L1192.6,412.2L1196.0,413.6L1196.1,416.8L1194.4,419.3Z" fill="#1964D2"/>
<path d="M1305.8,415.8L1307.5,416.5L1306.5,418.8L1304.9,419.2L1303.7,418.0L1303.9,415.4Z" fill="#1964D2"/>
<path d="M1280.2,384.4L1283.4,382.0L1286.1,385.3L1284.6,388.9L1280.1,387.7Z" fill="#1964D2"/>
<path d="M1274.8,374.0L1277.3,370.0L1280.4,369.1L1280.0,372.0L1277.3,374.0Z" fill="#1964D2"/>
<path d="M1303.5,369.1L1304.2,371.3L1302.1,372.8L1299.9,371.6L1298.3,370.2L1299.0,368.2L1301.6,367.4Z" fill="#E1FFFF"/>
<path d="M1310.8,371.3L1313.5,370.2L1316.6,371.1L1318.6,373.6L1314.1,374.5L1311.4,373.1Z" fill="#E1FFFF"/>
<path d="M1265.2,375.8L1263.3,375.5L1263.0,373.5L1265.4,372.2L1267.9,373.6L1266.8,375.4Z" fill="#E1FFFF"/>
<path d="M1346.9,365.2L1348.3,365.6L1348.6,367.2L1347.3,368.7L1345.7,368.9L1344.3,368.1L1345.7,366.5Z" fill="#E1FFFF"/>
<path d="M1235.7,377.9L1231.6,377.6L1233.9,374.1L1237.0,371.5L1240.8,371.9L1238.7,375.2Z" fill="#E1FFFF"/>
<path d="M1485.1,260.1L1484.8,256.5L1486.8,253.1L1489.2,252.2L1490.8,253.9L1489.3,257.2L1487.7,258.6Z" fill="#FA0000"/>
<path d="M1454.6,204.0L1455.4,201.3L1458.7,200.5L1459.8,202.9L1457.4,204.5Z" fill="#FA0000"/>
<path d="M1413.1,238.9L1411.9,238.6L1410.8,237.6L1411.5,236.6L1412.4,236.3L1413.4,236.9L1413.9,238.1Z" fill="#FA0000"/>
<path d="M1392.6,230.7L1387.6,229.7L1384.9,227.3L1385.9,224.4L1388.7,225.0L1391.5,226.7Z" fill="#FA0000"/>
<path d="M1473.6,160.2L1474.9,163.0L1473.8,165.4L1472.5,165.5L1472.4,163.1Z" fill="#FA0000"/>
<path d="M1400.7,245.3L1399.7,242.8L1402.5,243.8L1403.9,245.4L1403.1,246.9Z" fill="#FA0000"/>
<path d="M1415.5,210.4L1414.7,215.2L1411.1,218.6L1409.7,215.5L1411.2,210.4Z" fill="#FA0000"/>
<path d="M1411.2,187.8L1409.8,186.7L1410.7,185.2L1412.4,184.8L1412.7,186.9Z" fill="#FA0000"/>
<path d="M1381.8,166.4L1384.9,164.2L1385.4,166.9L1385.0,169.5L1382.4,172.2L1380.1,171.4L1380.4,168.9Z" fill="#FA0000"/>
<path d="M1416.6,242.5L1417.1,239.6L1419.8,238.3L1420.9,241.1L1420.4,243.5L1418.1,245.3Z" fill="#FA0000"/>
<path d="M1437.4,194.9L1441.0,196.8L1439.2,202.3L1434.1,203.2L1432.6,197.7Z" fill="#FFFFFF"/>
<path d="M1455.4,237.9L1455.0,240.4L1452.7,242.1L1449.7,241.2L1449.6,238.1L1451.4,235.8L1454.5,235.0Z" fill="#FFFFFF"/>
<path d="M1414.1,238.1L1412.0,237.0L1410.6,235.1L1412.3,234.0L1414.8,234.2L1416.3,235.9L1416.8,238.0Z" fill="#FFFFFF"/>
<path d="M1466.6,164.4L1470.7,164.2L1473.3,165.8L1470.8,167.8L1466.9,168.7L1463.8,167.8L1461.5,165.6Z" fill="#FFFFFF"/>
<path d="M1429.5,226.1L1425.1,227.2L1421.1,226.3L1418.0,224.3L1418.3,220.1L1420.9,219.8L1424.5,221.2L1428.0,223.7Z" fill="#FFFFFF"/>
<path d="M1486.2,161.6L1489.5,161.5L1489.1,167.1L1484.6,170.1L1481.6,171.0L1480.6,167.8L1483.2,163.4Z" fill="#FFFFFF"/>
<path d="M1493.1,192.5L1494.3,196.3L1491.5,199.2L1489.4,198.2L1489.3,194.5L1490.1,191.3Z" fill="#FFFFFF"/>
<path d="M1484.7,202.8L1480.9,204.4L1478.6,203.5L1479.9,201.0L1483.4,200.0Z" fill="#FFFFFF"/>
<path d="M1455.9,274.8L1455.1,273.4L1454.9,271.5L1456.6,271.5L1458.0,271.7L1458.3,273.2L1457.7,274.8Z" fill="#FFD26E"/>
<path d="M1474.4,244.8L1472.2,245.4L1470.4,244.3L1468.6,242.5L1470.5,241.5L1472.4,240.2L1473.7,242.5Z" fill="#FFD26E"/>
<path d="M1472.1,236.1L1467.5,237.1L1467.5,233.9L1469.1,231.9L1472.8,230.1L1474.8,232.9Z" fill="#FFD26E"/>
<path d="M1414.3,270.0L1416.4,265.8L1419.2,267.8L1417.8,271.2L1414.9,273.1Z" fill="#FFD26E"/>
<path d="M1485.0,228.9L1488.6,230.8L1485.8,233.9L1481.7,234.4L1481.1,231.2Z" fill="#FFD26E"/>
<path d="M1429.4,256.8L1432.6,256.8L1435.2,260.1L1436.6,264.3L1432.9,263.6L1430.0,263.1L1429.3,259.9Z" fill="#FFD26E"/>
<path d="M1431.2,264.2L1432.2,259.1L1436.5,259.8L1437.9,262.6L1438.1,266.0L1435.4,270.0L1431.3,270.0Z" fill="#FFD26E"/>
<path d="M1411.3,209.9L1407.8,209.8L1408.1,205.9L1412.8,205.3L1415.0,207.1Z" fill="#FFD26E"/>
<path d="M1156.2,206.4L1153.9,204.8L1156.6,203.1L1160.2,202.9L1162.3,204.1L1161.4,205.5L1159.4,206.5Z" fill="#FA0000"/>
<path d="M1148.6,168.2L1146.8,165.9L1148.8,164.4L1151.9,163.4L1152.8,166.6L1151.1,168.5Z" fill="#FA0000"/>
<path d="M1123.6,187.9L1128.4,186.3L1130.3,189.5L1130.8,192.6L1125.4,192.9L1121.6,190.6Z" fill="#FA0000"/>
<path d="M1164.7,184.9L1162.0,184.2L1158.6,183.7L1160.7,180.7L1163.3,179.8L1165.3,180.3L1165.5,182.1Z" fill="#FA0000"/>
<path d="M1143.0,209.8L1142.7,207.3L1142.7,205.6L1144.2,203.6L1146.3,204.8L1146.9,207.2L1145.4,209.1Z" fill="#FA0000"/>
<path d="M1141.7,184.7L1143.7,183.4L1145.9,185.2L1146.3,188.5L1144.0,189.2Z" fill="#FA0000"/>
<path d="M1162.9,169.1L1163.2,172.9L1158.4,170.3L1155.8,167.5L1154.8,165.2L1159.4,165.8Z" fill="#FFD26E"/>
<path d="M1141.0,167.4L1141.9,170.6L1139.9,170.8L1138.0,169.3L1139.1,167.8Z" fill="#FFD26E"/>
<path d="M1146.9,160.3L1149.9,158.0L1151.8,162.0L1149.5,166.6L1146.8,165.6Z" fill="#FFD26E"/>
<path d="M1162.8,169.0L1162.8,164.9L1165.0,165.9L1167.5,168.6L1169.2,174.2L1164.8,174.1Z" fill="#FFD26E"/>
<path d="M1142.5,165.2L1141.9,166.6L1139.7,165.2L1137.7,162.8L1138.1,160.7L1141.0,162.8Z" fill="#FFD26E"/>
</g>
<use href="#land" fill="none" stroke="#000" stroke-width="4.0" stroke-linejoin="round"/>
<use href="#land" fill="#fff" stroke="none"/>
<path d="M418.6,-11.4L420.5,-2.3L418.6,4.6L418.6,10.0L423.2,12.3L428.2,14.6L434.0,14.6L437.8,12.3L437.1,6.8L434.8,3.2L434.0,-2.3L433.2,-11.4Z" fill="#FFD26E" stroke="#000" stroke-width="2"/>
<use href="#small" fill="#000" stroke="#000" stroke-width="1.2" stroke-linejoin="round"/>
<use href="#lakes" fill="none" stroke="#000" stroke-width="2.0" stroke-linejoin="round"/>
<use href="#grid"/>
<rect x="460.9" y="22.8" width="57.6" height="68.4" fill="none" stroke="#000" stroke-width="5.4"/>
<rect x="422.5" y="136.8" width="76.8" height="91.2" fill="none" stroke="#000" stroke-width="5.4"/>
<rect x="576.1" y="182.5" width="76.8" height="45.6" fill="none" stroke="#000" stroke-width="5.4"/>
<rect x="960.1" y="159.7" width="192.0" height="45.6" fill="none" stroke="#000" stroke-width="5.4"/>
</g>
<rect x="0" y="0" width="1421.0" height="273.7" fill="none" stroke="#000" stroke-width="3.0"/>
<path d="M-10.5,0.0H0" stroke="#000" stroke-width="2.8" stroke-linecap="round"/>
<text x="-17.8" y="11.5" font-size="31" text-anchor="end" textLength="51.0" lengthAdjust="spacingAndGlyphs" stroke="#000" stroke-width="0.8">40N</text>
<path d="M-10.5,45.6H0" stroke="#000" stroke-width="2.8" stroke-linecap="round"/>
<text x="-17.8" y="57.1" font-size="31" text-anchor="end" textLength="51.0" lengthAdjust="spacingAndGlyphs" stroke="#000" stroke-width="0.8">30N</text>
<path d="M-10.5,91.2H0" stroke="#000" stroke-width="2.8" stroke-linecap="round"/>
<text x="-17.8" y="102.7" font-size="31" text-anchor="end" textLength="51.0" lengthAdjust="spacingAndGlyphs" stroke="#000" stroke-width="0.8">20N</text>
<path d="M-10.5,136.8H0" stroke="#000" stroke-width="2.8" stroke-linecap="round"/>
<text x="-17.8" y="148.3" font-size="31" text-anchor="end" textLength="51.0" lengthAdjust="spacingAndGlyphs" stroke="#000" stroke-width="0.8">10N</text>
<path d="M-10.5,182.5H0" stroke="#000" stroke-width="2.8" stroke-linecap="round"/>
<text x="-17.8" y="194.0" font-size="31" text-anchor="end" textLength="35.0" lengthAdjust="spacingAndGlyphs" stroke="#000" stroke-width="0.8">EQ</text>
<path d="M-10.5,228.1H0" stroke="#000" stroke-width="2.8" stroke-linecap="round"/>
<text x="-17.8" y="239.6" font-size="31" text-anchor="end" textLength="51.0" lengthAdjust="spacingAndGlyphs" stroke="#000" stroke-width="0.8">10S</text>
<path d="M-10.5,273.7H0" stroke="#000" stroke-width="2.8" stroke-linecap="round"/>
<text x="-17.8" y="285.2" font-size="31" text-anchor="end" textLength="51.0" lengthAdjust="spacingAndGlyphs" stroke="#000" stroke-width="0.8">20S</text>
<path d="M0.0,273.7V283.2" stroke="#000" stroke-width="3" stroke-linecap="round"/>
<text x="0.0" y="309.7" font-size="31" text-anchor="middle" textLength="51.0" lengthAdjust="spacingAndGlyphs" stroke="#000" stroke-width="0.8">60W</text>
<path d="M230.4,273.7V283.2" stroke="#000" stroke-width="3" stroke-linecap="round"/>
<text x="230.4" y="309.7" font-size="31" text-anchor="middle" textLength="14.0" lengthAdjust="spacingAndGlyphs" stroke="#000" stroke-width="0.8">0</text>
<path d="M460.9,273.7V283.2" stroke="#000" stroke-width="3" stroke-linecap="round"/>
<text x="460.9" y="309.7" font-size="31" text-anchor="middle" textLength="49.5" lengthAdjust="spacingAndGlyphs" stroke="#000" stroke-width="0.8">60E</text>
<path d="M691.3,273.7V283.2" stroke="#000" stroke-width="3" stroke-linecap="round"/>
<text x="691.3" y="309.7" font-size="31" text-anchor="middle" textLength="64.5" lengthAdjust="spacingAndGlyphs" stroke="#000" stroke-width="0.8">120E</text>
<path d="M921.7,273.7V283.2" stroke="#000" stroke-width="3" stroke-linecap="round"/>
<text x="921.7" y="309.7" font-size="31" text-anchor="middle" textLength="46.0" lengthAdjust="spacingAndGlyphs" stroke="#000" stroke-width="0.8">180</text>
<path d="M1152.2,273.7V283.2" stroke="#000" stroke-width="3" stroke-linecap="round"/>
<text x="1152.2" y="309.7" font-size="31" text-anchor="middle" textLength="71.5" lengthAdjust="spacingAndGlyphs" stroke="#000" stroke-width="0.8">120W</text>
<path d="M1382.6,273.7V283.2" stroke="#000" stroke-width="3" stroke-linecap="round"/>
<text x="1382.6" y="309.7" font-size="31" text-anchor="middle" textLength="51.0" lengthAdjust="spacingAndGlyphs" stroke="#000" stroke-width="0.8">60W</text>
</g>
<g transform="translate(73.5,546.0)">
<g clip-path="url(#cp)">
<g transform="translate(-73.5,-546.0)">
<path d="M72.0,545.0C72.0,545.0 267.0,545.0 267.0,545.0C267.0,545.0 273.7,555.8 274.5,560.0C275.3,564.2 273.7,566.7 272.0,570.0C270.3,573.3 266.2,576.7 264.5,580.0C262.8,583.3 264.1,587.9 262.0,590.0C259.9,592.1 255.3,592.5 252.0,592.5C248.7,592.5 246.2,589.6 242.0,590.0C237.8,590.4 231.2,594.6 227.0,595.0C222.8,595.4 219.1,594.2 217.0,592.5C214.9,590.8 217.0,585.8 214.5,585.0C212.0,584.2 206.6,586.7 202.0,587.5C197.4,588.3 192.0,589.2 187.0,590.0C182.0,590.8 177.0,591.9 172.0,592.5C167.0,593.1 162.0,593.8 157.0,593.8C152.0,593.8 147.0,592.3 142.0,592.5C137.0,592.7 131.2,594.2 127.0,595.0C122.8,595.8 121.2,597.3 117.0,597.5C112.8,597.7 106.2,595.4 102.0,596.2C97.8,597.1 95.3,601.5 92.0,602.5C88.7,603.5 85.3,603.8 82.0,602.5C78.7,601.2 73.7,604.6 72.0,595.0C70.3,585.4 72.0,545.0 72.0,545.0Z" fill="#FFD26E"/>
<path d="M72.0,545.0C72.0,545.0 264.5,545.0 264.5,545.0C264.5,545.0 267.4,552.9 264.5,555.0C261.6,557.1 252.0,556.7 247.0,557.5C242.0,558.3 238.7,559.6 234.5,560.0C230.3,560.4 226.2,558.8 222.0,560.0C217.8,561.2 213.7,565.4 209.5,567.5C205.3,569.6 201.2,572.3 197.0,572.5C192.8,572.7 188.7,569.2 184.5,568.8C180.3,568.3 175.8,569.0 172.0,570.0C168.2,571.0 165.3,575.0 162.0,575.0C158.7,575.0 155.3,570.0 152.0,570.0C148.7,570.0 144.9,575.4 142.0,575.0C139.1,574.6 135.3,570.8 134.5,567.5C133.7,564.2 138.2,556.2 137.0,555.0C135.8,553.8 129.9,557.1 127.0,560.0C124.1,562.9 122.0,569.2 119.5,572.5C117.0,575.8 114.1,580.4 112.0,580.0C109.9,579.6 109.1,572.9 107.0,570.0C104.9,567.1 102.0,562.9 99.5,562.5C97.0,562.1 94.9,565.8 92.0,567.5C89.1,569.2 85.3,571.7 82.0,572.5C78.7,573.3 73.7,577.1 72.0,572.5C70.3,567.9 72.0,545.0 72.0,545.0Z" fill="#FA0000"/>
<path d="M160.8,615.0C161.9,613.0 169.7,606.0 172.0,605.0C174.3,604.0 178.2,606.2 178.2,607.5C178.2,608.8 174.0,613.3 172.0,615.0C170.0,616.7 164.8,620.0 163.2,620.0C161.8,620.0 159.6,617.0 160.8,615.0Z" fill="#FFD26E"/>
<path d="M224.5,608.8C225.3,607.6 230.3,604.8 232.0,605.0C233.7,605.2 236.7,608.7 237.0,610.0C237.3,611.3 236.0,614.5 234.5,615.0C233.0,615.5 227.1,614.6 225.8,613.8C224.4,612.9 223.7,609.9 224.5,608.8Z" fill="#FFD26E"/>
<path d="M194.5,658.8C195.0,657.9 198.7,657.0 199.5,657.5C200.3,658.0 201.2,661.7 200.8,662.5C200.2,663.3 196.6,664.2 195.8,663.8C194.9,663.2 194.0,659.6 194.5,658.8Z" fill="#FFD26E"/>
<path d="M175.8,666.2C176.2,665.4 179.9,664.5 180.8,665.0C181.6,665.5 182.5,669.2 182.0,670.0C181.5,670.8 177.8,671.8 177.0,671.2C176.2,670.8 175.2,667.1 175.8,666.2Z" fill="#FFD26E"/>
<path d="M222.0,652.5C222.0,647.8 223.7,645.3 227.0,640.0C230.3,634.7 229.8,633.8 234.5,632.5C239.2,631.2 242.5,627.7 244.5,635.0C246.5,642.3 242.0,648.0 242.0,660.0C242.0,672.0 240.5,670.7 244.5,680.0C248.5,689.3 256.3,690.3 257.0,695.0C257.7,699.7 252.3,698.2 247.0,697.5C241.7,696.8 242.3,691.2 237.0,692.5C231.7,693.8 232.3,698.5 227.0,702.5C221.7,706.5 223.7,707.5 217.0,707.5C210.3,707.5 208.7,707.2 202.0,702.5C195.3,697.8 193.3,694.7 192.0,690.0C190.7,685.3 192.3,686.3 197.0,685.0C201.7,683.7 203.5,686.3 209.5,685.0C215.5,683.7 214.8,682.7 219.5,680.0C224.2,677.3 223.7,679.0 227.0,675.0C230.3,671.0 232.0,669.7 232.0,665.0C232.0,660.3 229.7,660.8 227.0,657.5C224.3,654.2 222.0,657.2 222.0,652.5Z" fill="#FFD26E"/>
<path d="M234.5,635.0L240.0,633.8L240.5,650.0L235.8,648.8Z" fill="#FA0000"/>
<path d="M237.0,665.0L241.5,670.0L244.0,685.0L239.5,683.8Z" fill="#FA0000"/>
<path d="M72.0,676.2C74.5,674.0 81.2,675.8 87.0,676.2C92.8,676.7 101.2,677.7 107.0,678.8C112.8,679.8 117.0,680.6 122.0,682.5C127.0,684.4 132.8,690.0 137.0,690.0C141.2,690.0 143.7,682.5 147.0,682.5C150.3,682.5 154.5,687.5 157.0,690.0C159.5,692.5 158.7,696.0 162.0,697.5C165.3,699.0 172.0,697.9 177.0,698.8C182.0,699.6 187.0,701.5 192.0,702.5C197.0,703.5 202.0,704.2 207.0,705.0C212.0,705.8 218.7,706.7 222.0,707.5C225.3,708.3 227.8,708.8 227.0,710.0C226.2,711.2 221.2,713.3 217.0,715.0C212.8,716.7 206.2,718.3 202.0,720.0C197.8,721.7 192.0,722.9 192.0,725.0C192.0,727.1 198.2,730.0 202.0,732.5C205.8,735.0 210.3,737.1 214.5,740.0C218.7,742.9 222.4,747.1 227.0,750.0C231.6,752.9 237.0,755.4 242.0,757.5C247.0,759.6 252.0,760.4 257.0,762.5C262.0,764.6 267.0,768.3 272.0,770.0C277.0,771.7 282.4,772.5 287.0,772.5C291.6,772.5 296.2,768.8 299.5,770.0C302.8,771.2 304.9,776.2 307.0,780.0C309.1,783.8 310.3,788.8 312.0,792.5C313.7,796.2 317.0,800.0 317.0,802.5C317.0,805.0 314.5,807.9 312.0,807.5C309.5,807.1 304.9,802.1 302.0,800.0C299.1,797.9 297.0,796.7 294.5,795.0C292.0,793.3 289.5,790.0 287.0,790.0C284.5,790.0 282.8,793.8 279.5,795.0C276.2,796.2 271.6,797.5 267.0,797.5C262.4,797.5 256.2,796.2 252.0,795.0C247.8,793.8 246.2,791.2 242.0,790.0C237.8,788.8 231.2,787.1 227.0,787.5C222.8,787.9 220.3,790.8 217.0,792.5C213.7,794.2 209.5,795.4 207.0,797.5C204.5,799.6 201.2,802.9 202.0,805.0C202.8,807.1 208.7,808.1 212.0,810.0C215.3,811.9 219.5,814.4 222.0,816.2C224.5,818.1 227.0,821.2 227.0,821.2C227.0,821.2 149.5,821.2 149.5,821.2C149.5,821.2 139.9,781.9 127.0,760.0C114.1,738.1 81.2,704.0 72.0,690.0C62.8,676.0 69.5,678.5 72.0,676.2Z" fill="#FFD26E"/>
<path d="M237.0,772.5C239.7,771.2 244.7,772.0 247.0,775.0C249.3,778.0 248.4,782.4 245.8,783.8C243.1,785.1 239.3,783.0 237.0,780.0C234.7,777.0 234.3,773.8 237.0,772.5Z" fill="#FFFFFF"/>
<path d="M72.0,682.5C74.5,681.0 82.0,683.3 87.0,683.8C92.0,684.2 97.0,683.5 102.0,685.0C107.0,686.5 112.8,689.6 117.0,692.5C121.2,695.4 123.7,700.0 127.0,702.5C130.3,705.0 133.7,705.4 137.0,707.5C140.3,709.6 142.8,713.3 147.0,715.0C151.2,716.7 157.8,715.8 162.0,717.5C166.2,719.2 167.8,722.9 172.0,725.0C176.2,727.1 182.4,728.3 187.0,730.0C191.6,731.7 197.0,732.5 199.5,735.0C202.0,737.5 199.9,742.1 202.0,745.0C204.1,747.9 208.7,750.4 212.0,752.5C215.3,754.6 219.5,755.8 222.0,757.5C224.5,759.2 227.0,760.0 227.0,762.5C227.0,765.0 223.2,769.2 222.0,772.5C220.8,775.8 221.2,780.0 219.5,782.5C217.8,785.0 214.9,787.5 212.0,787.5C209.1,787.5 205.3,783.5 202.0,782.5C198.7,781.5 196.2,781.0 192.0,781.2C187.8,781.5 181.6,783.3 177.0,783.8C172.4,784.2 168.7,787.7 164.5,783.8C160.3,779.8 167.4,775.2 152.0,760.0C136.6,744.8 85.3,705.4 72.0,692.5C58.7,679.6 69.5,684.0 72.0,682.5Z" fill="#FA0000"/>
<path d="M88.2,695.0C90.2,693.5 94.3,693.7 97.0,695.0C99.7,696.3 100.2,698.5 98.2,700.0C96.2,701.5 92.2,701.8 89.5,700.5C86.8,699.2 86.2,696.5 88.2,695.0Z" fill="#C80000"/>
<path d="M260.8,782.5C260.9,781.9 263.4,780.9 264.5,781.2C265.6,781.6 271.5,785.4 272.0,786.2C272.5,787.1 270.4,789.9 269.5,790.0C268.6,790.1 264.1,788.2 263.2,787.5C262.4,786.8 260.6,783.1 260.8,782.5Z" fill="#FA0000"/>
<path d="M302.0,783.8C302.2,782.4 304.9,781.4 305.8,782.5C306.6,783.6 310.5,793.4 310.8,795.0C311.0,796.6 309.0,798.6 308.2,798.8C307.5,798.9 303.9,797.8 303.2,796.2C302.6,794.8 301.8,785.1 302.0,783.8Z" fill="#FA0000"/>
<path d="M219.5,726.2C221.2,725.2 229.5,724.2 237.0,723.8C244.5,723.3 255.8,723.5 264.5,723.8C273.2,724.0 281.2,725.0 289.5,725.0C297.8,725.0 306.6,724.2 314.5,723.8C322.4,723.3 330.8,718.5 337.0,722.5C343.2,726.5 347.8,737.9 352.0,747.5C356.2,757.1 361.2,767.7 362.0,780.0C362.8,792.3 357.0,821.2 357.0,821.2C357.0,821.2 327.0,821.2 327.0,821.2C327.0,821.2 326.2,814.0 324.5,810.0C322.8,806.0 317.4,800.8 317.0,797.5C316.6,794.2 322.4,792.9 322.0,790.0C321.6,787.1 316.6,783.3 314.5,780.0C312.4,776.7 311.6,772.9 309.5,770.0C307.4,767.1 305.3,765.0 302.0,762.5C298.7,760.0 293.7,757.1 289.5,755.0C285.3,752.9 281.6,751.7 277.0,750.0C272.4,748.3 266.2,746.7 262.0,745.0C257.8,743.3 255.3,741.9 252.0,740.0C248.7,738.1 246.2,735.4 242.0,733.8C237.8,732.1 230.8,731.2 227.0,730.0C223.2,728.8 217.8,727.3 219.5,726.2Z" fill="#E1FFFF"/>
<path d="M242.0,813.8C244.0,812.1 248.7,811.2 252.0,812.5C255.3,813.8 256.5,817.1 254.5,818.8C252.5,820.4 247.8,820.1 244.5,818.8C241.2,817.4 240.0,815.4 242.0,813.8Z" fill="#E1FFFF"/>
<path d="M284.5,811.2C284.5,810.2 287.2,810.2 288.2,811.2C289.2,812.2 289.2,815.0 288.2,815.0C287.2,815.0 284.5,812.2 284.5,811.2Z" fill="#E1FFFF"/>
<path d="M298.2,811.2C297.9,809.9 300.7,809.9 302.0,811.2C303.3,812.6 304.2,816.2 303.2,816.2C302.2,816.2 298.6,812.6 298.2,811.2Z" fill="#E1FFFF"/>
<path d="M252.0,731.2C252.7,730.6 259.0,728.9 262.0,728.8C265.0,728.6 272.0,729.3 274.5,730.0C277.0,730.7 280.4,732.8 280.8,733.8C281.1,734.8 278.8,737.2 277.0,737.5C275.2,737.8 269.7,736.8 267.0,736.2C264.3,735.8 259.0,734.4 257.0,733.8C255.0,733.1 251.3,731.9 252.0,731.2Z" fill="#50A5F5"/>
<path d="M319.5,750.0C320.8,748.3 322.8,741.8 324.5,740.0C326.2,738.2 330.0,736.2 332.0,736.2C334.0,736.2 337.2,738.2 339.5,740.0C341.8,741.8 347.2,745.7 349.5,750.0C351.8,754.3 355.7,768.2 357.0,772.5C358.3,776.8 360.2,779.8 359.5,782.5C358.8,785.2 353.3,788.8 352.0,792.5C350.7,796.2 350.2,806.2 349.5,810.0C348.8,813.8 347.0,821.2 347.0,821.2C347.0,821.2 332.0,821.2 332.0,821.2C332.0,821.2 330.8,814.7 329.5,812.5C328.2,810.3 323.3,807.3 322.0,805.0C320.7,802.7 318.8,797.0 319.5,795.0C320.2,793.0 325.3,791.7 327.0,790.0C328.7,788.3 332.0,785.2 332.0,782.5C332.0,779.8 328.3,773.0 327.0,770.0C325.7,767.0 323.7,761.0 322.0,760.0C320.3,759.0 316.3,763.0 314.5,762.5C312.7,762.0 308.2,757.6 308.2,756.2C308.2,754.9 313.0,753.3 314.5,752.5C316.0,751.7 318.2,751.7 319.5,750.0Z" fill="#50A5F5"/>
<path d="M329.5,767.5C330.3,766.0 334.7,763.2 337.0,762.5C339.3,761.8 345.0,761.2 347.0,762.5C349.0,763.8 350.7,770.2 352.0,772.5C353.3,774.8 357.2,777.5 357.0,780.0C356.8,782.5 352.8,790.2 350.8,791.2C348.8,792.2 344.2,789.0 342.0,787.5C339.8,786.0 336.0,781.8 334.5,780.0C333.0,778.2 331.4,775.4 330.8,773.8C330.1,772.1 328.7,769.0 329.5,767.5Z" fill="#1964D2"/>
<path d="M332.0,800.0L338.2,797.5L335.8,802.5L332.0,803.8Z" fill="#1964D2"/>
<path d="M302.0,545.0C302.0,545.0 362.0,545.0 362.0,545.0C362.0,545.0 372.5,553.8 374.5,557.5C376.5,561.2 377.0,572.5 377.0,572.5C377.0,572.5 373.5,584.3 369.5,585.0C365.5,585.7 352.7,580.8 347.0,577.5C341.3,574.2 333.0,561.7 327.0,560.0C321.0,558.3 305.3,567.0 302.0,565.0C298.7,563.0 302.0,545.0 302.0,545.0Z" fill="#FFD26E"/>
<path d="M494.5,602.5C495.0,601.9 501.0,601.9 502.0,602.5C503.0,603.1 505.0,608.1 504.5,608.8C504.0,609.4 498.0,609.4 497.0,608.8C496.0,608.1 494.0,603.1 494.5,602.5Z" fill="#FFD26E"/>
<path d="M505.8,608.8C506.6,608.4 513.8,609.4 514.5,610.0C515.2,610.6 514.1,614.6 513.2,615.0C512.4,615.4 506.5,614.4 505.8,613.8C505.0,613.1 504.9,609.1 505.8,608.8Z" fill="#FFD26E"/>
<path d="M524.5,613.8C524.6,613.2 530.2,613.2 530.8,613.8C531.2,614.2 530.1,618.8 529.5,618.8C528.9,618.8 524.4,614.2 524.5,613.8Z" fill="#FFD26E"/>
<path d="M537.0,627.5C538.3,626.2 544.3,623.5 547.0,622.5C549.7,621.5 554.7,619.8 557.0,620.0C559.3,620.2 564.5,622.8 564.5,623.8C564.5,624.8 559.0,626.7 557.0,627.5C555.0,628.3 551.5,629.3 549.5,630.0C547.5,630.7 543.7,632.2 542.0,632.5C540.3,632.8 537.7,633.2 537.0,632.5C536.3,631.8 535.7,628.8 537.0,627.5Z" fill="#FFD26E"/>
<path d="M547.0,616.2C547.4,615.6 553.5,614.6 554.5,615.0C555.5,615.4 557.4,619.4 557.0,620.0C556.6,620.6 551.8,621.6 550.8,621.2C549.8,620.9 546.6,616.9 547.0,616.2Z" fill="#FA0000"/>
<path d="M537.0,630.0L540.8,629.5L540.8,633.8L537.5,633.8Z" fill="#FA0000"/>
<path d="M520.8,646.2C521.5,645.1 528.2,640.1 529.5,640.0C530.8,639.9 533.5,643.8 533.2,645.0C533.0,646.2 528.1,651.9 527.0,652.5C525.9,653.1 522.6,651.9 522.0,651.2C521.4,650.6 520.0,647.4 520.8,646.2Z" fill="#FA0000"/>
<path d="M522.0,647.0C522.5,646.4 527.5,644.7 528.2,645.0C529.0,645.3 529.5,649.4 529.0,650.0C528.5,650.6 524.0,651.5 523.2,651.2C522.5,651.0 521.5,647.6 522.0,647.0Z" fill="#C80000"/>
<path d="M539.5,640.0L542.5,640.5L543.5,645.0L540.5,644.5Z" fill="#FA0000"/>
<path d="M475.8,672.5C476.2,671.0 482.6,670.8 487.0,668.8C491.4,666.7 497.0,662.5 502.0,660.0C507.0,657.5 511.2,655.0 517.0,653.8C522.8,652.5 531.2,651.9 537.0,652.5C542.8,653.1 548.7,654.6 552.0,657.5C555.3,660.4 557.0,665.4 557.0,670.0C557.0,674.6 554.5,681.7 552.0,685.0C549.5,688.3 544.5,687.5 542.0,690.0C539.5,692.5 539.5,697.5 537.0,700.0C534.5,702.5 530.3,705.0 527.0,705.0C523.7,705.0 519.5,702.5 517.0,700.0C514.5,697.5 513.7,692.5 512.0,690.0C510.3,687.5 509.1,686.2 507.0,685.0C504.9,683.8 501.2,684.2 499.5,682.5C497.8,680.8 499.5,675.8 497.0,675.0C494.5,674.2 488.0,677.9 484.5,677.5C481.0,677.1 475.3,674.0 475.8,672.5Z" fill="#E1FFFF"/>
<path d="M494.5,700.0C496.2,697.5 498.2,695.0 502.0,695.0C505.8,695.0 512.8,697.5 517.0,700.0C521.2,702.5 524.5,705.8 527.0,710.0C529.5,714.2 532.0,720.0 532.0,725.0C532.0,730.0 527.0,735.0 527.0,740.0C527.0,745.0 532.0,750.0 532.0,755.0C532.0,760.0 529.5,765.8 527.0,770.0C524.5,774.2 521.2,777.5 517.0,780.0C512.8,782.5 505.8,784.6 502.0,785.0C498.2,785.4 497.0,782.1 494.5,782.5C492.0,782.9 489.9,785.8 487.0,787.5C484.1,789.2 479.5,792.5 477.0,792.5C474.5,792.5 473.2,791.2 472.0,787.5C470.8,783.8 469.1,776.2 469.5,770.0C469.9,763.8 473.2,755.8 474.5,750.0C475.8,744.2 474.9,740.0 477.0,735.0C479.1,730.0 484.5,724.2 487.0,720.0C489.5,715.8 490.8,713.3 492.0,710.0C493.2,706.7 492.8,702.5 494.5,700.0Z" fill="#E1FFFF"/>
<path d="M512.0,660.0C513.7,657.9 518.7,657.3 522.0,657.5C525.3,657.7 529.1,659.2 532.0,661.2C534.9,663.3 538.0,667.3 539.5,670.0C541.0,672.7 541.6,675.4 540.8,677.5C539.9,679.6 536.8,681.2 534.5,682.5C532.2,683.8 529.5,685.0 527.0,685.0C524.5,685.0 521.2,684.2 519.5,682.5C517.8,680.8 518.2,677.1 517.0,675.0C515.8,672.9 512.8,672.5 512.0,670.0C511.2,667.5 510.3,662.1 512.0,660.0Z" fill="#50A5F5"/>
<path d="M517.0,670.0C517.5,668.5 522.2,666.7 523.2,667.5C524.2,668.3 525.0,674.8 524.5,676.2C524.0,677.8 520.5,679.6 519.5,678.8C518.5,677.9 516.5,671.5 517.0,670.0Z" fill="#E1FFFF"/>
<path d="M484.5,670.0C485.8,669.1 500.0,665.1 502.0,665.0C504.0,664.9 505.8,667.9 504.5,668.8C503.2,669.6 491.5,673.6 489.5,673.8C487.5,673.9 483.2,670.9 484.5,670.0Z" fill="#50A5F5"/>
<path d="M502.0,696.2C503.5,694.9 512.2,693.5 513.2,695.0C514.2,696.5 510.3,705.2 509.5,707.5C508.7,709.8 506.3,711.2 507.0,712.5C507.7,713.8 513.2,715.2 514.5,717.5C515.8,719.8 517.2,726.7 517.0,730.0C516.8,733.3 512.9,739.8 513.2,742.5C513.6,745.2 517.8,748.0 519.5,750.0C521.2,752.0 525.8,755.5 525.8,757.5C525.8,759.5 521.3,763.3 519.5,765.0C517.7,766.7 514.3,769.0 512.0,770.0C509.7,771.0 504.7,771.7 502.0,772.5C499.3,773.3 494.0,776.2 492.0,776.2C490.0,776.2 486.7,774.0 487.0,772.5C487.3,771.0 493.2,767.3 494.5,765.0C495.8,762.7 497.3,757.7 497.0,755.0C496.7,752.3 493.3,748.0 492.0,745.0C490.7,742.0 487.0,735.5 487.0,732.5C487.0,729.5 490.3,724.8 492.0,722.5C493.7,720.2 498.2,717.3 499.5,715.0C500.8,712.7 501.7,707.5 502.0,705.0C502.3,702.5 500.5,697.6 502.0,696.2Z" fill="#50A5F5"/>
<path d="M592.0,690.0C592.3,688.2 597.8,687.8 599.5,688.8C601.2,689.8 602.2,695.3 604.5,697.5C606.8,699.7 615.2,703.3 617.0,705.0C618.8,706.7 619.6,709.7 618.2,710.0C616.9,710.3 609.8,708.5 607.0,707.5C604.2,706.5 599.0,704.8 597.0,702.5C595.0,700.2 591.7,691.8 592.0,690.0Z" fill="#E1FFFF"/>
<path d="M595.0,692.5C595.4,692.0 598.7,691.2 599.5,692.0C600.3,692.8 603.2,699.0 603.2,700.0C603.2,701.0 600.2,702.2 599.5,702.0C598.8,701.8 596.2,698.5 595.8,697.5C595.3,696.5 594.6,693.0 595.0,692.5Z" fill="#50A5F5"/>
<path d="M609.5,703.8L615.8,706.2L614.5,708.8Z" fill="#50A5F5"/>
<path d="M583.2,666.2C584.6,664.9 586.9,664.0 588.2,665.0C589.6,666.0 589.6,668.7 588.2,670.0C586.9,671.3 584.6,671.0 583.2,670.0C581.9,669.0 581.9,667.6 583.2,666.2Z" fill="#E1FFFF"/>
<path d="M610.8,660.0C612.8,655.4 620.1,649.2 624.5,645.0C628.9,640.8 632.4,637.9 637.0,635.0C641.6,632.1 648.2,626.7 652.0,627.5C655.8,628.3 656.6,636.2 659.5,640.0C662.4,643.8 666.2,646.7 669.5,650.0C672.8,653.3 677.2,656.7 679.5,660.0C681.8,663.3 682.4,665.8 683.2,670.0C684.1,674.2 683.9,679.2 684.5,685.0C685.1,690.8 688.2,700.8 687.0,705.0C685.8,709.2 680.8,709.6 677.0,710.0C673.2,710.4 668.2,707.1 664.5,707.5C660.8,707.9 657.4,712.5 654.5,712.5C651.6,712.5 649.9,709.2 647.0,707.5C644.1,705.8 640.3,703.8 637.0,702.5C633.7,701.2 629.9,700.0 627.0,700.0C624.1,700.0 621.2,703.3 619.5,702.5C617.8,701.7 617.8,697.9 617.0,695.0C616.2,692.1 615.3,688.8 614.5,685.0C613.7,681.2 612.6,676.7 612.0,672.5C611.4,668.3 608.7,664.6 610.8,660.0Z" fill="#FFD26E"/>
<path d="M617.0,660.0C617.7,657.8 624.3,650.3 627.0,647.5C629.7,644.7 634.3,639.8 637.0,638.8C639.7,637.8 644.7,639.2 647.0,640.0C649.3,640.8 652.5,644.3 654.5,645.0C656.5,645.7 660.3,644.0 662.0,645.0C663.7,646.0 665.0,650.5 667.0,652.5C669.0,654.5 675.2,657.7 677.0,660.0C678.8,662.3 680.2,667.0 680.8,670.0C681.2,673.0 681.2,679.2 680.8,682.5C680.2,685.8 678.5,693.7 677.0,695.0C675.5,696.3 671.2,694.2 669.5,692.5C667.8,690.8 665.8,685.5 664.5,682.5C663.2,679.5 661.2,672.3 659.5,670.0C657.8,667.7 654.3,666.0 652.0,665.0C649.7,664.0 644.7,662.8 642.0,662.5C639.3,662.2 634.7,662.3 632.0,662.5C629.3,662.7 624.0,664.1 622.0,663.8C620.0,663.4 616.3,662.2 617.0,660.0Z" fill="#FA0000"/>
<path d="M637.0,653.8C638.3,652.4 640.7,652.4 642.0,653.8C643.3,655.1 643.3,657.4 642.0,658.8C640.7,660.1 638.3,660.1 637.0,658.8C635.7,657.4 635.7,655.1 637.0,653.8Z" fill="#FFD26E"/>
<path d="M612.0,676.2L615.8,676.2L615.8,682.5L612.0,682.5Z" fill="#FA0000"/>
<path d="M689.5,675.0C690.5,674.0 700.0,678.5 702.0,680.0C704.0,681.5 707.5,690.0 709.5,690.0C711.5,690.0 720.5,682.0 722.0,680.0C723.5,678.0 724.5,672.5 724.5,670.0C724.5,667.5 721.8,657.0 722.0,655.0C722.2,653.0 725.2,651.0 727.0,650.0C728.8,649.0 736.5,646.5 739.5,645.0C742.5,643.5 757.0,635.0 757.0,635.0C757.0,635.0 757.0,710.0 757.0,710.0C757.0,710.0 749.0,700.0 747.0,700.0C745.0,700.0 738.5,708.2 737.0,710.0C735.5,711.8 733.5,716.2 732.0,717.5C730.5,718.8 724.0,721.8 722.0,722.5C720.0,723.2 713.8,725.5 712.0,725.0C710.2,724.5 705.8,719.5 704.5,717.5C703.2,715.5 700.8,707.8 699.5,705.0C698.2,702.2 693.0,693.0 692.0,690.0C691.0,687.0 688.5,676.0 689.5,675.0Z" fill="#FA0000"/>
<path d="M719.5,652.5C719.5,651.5 724.7,647.0 727.0,645.0C729.3,643.0 733.0,639.5 737.0,637.5C741.0,635.5 757.0,630.0 757.0,630.0C757.0,630.0 757.0,640.0 757.0,640.0C757.0,640.0 743.5,644.6 739.5,646.2C735.5,647.9 729.7,651.7 727.0,652.5C724.3,653.3 719.5,653.5 719.5,652.5Z" fill="#FFD26E"/>
<path d="M734.5,677.5C735.5,675.2 738.8,673.7 740.8,675.0C742.8,676.3 743.0,680.2 742.0,682.5C741.0,684.8 739.0,685.1 737.0,683.8C735.0,682.4 733.5,679.8 734.5,677.5Z" fill="#C80000"/>
<path d="M682.0,702.5C683.3,699.8 687.5,698.0 689.5,700.0C691.5,702.0 690.8,707.3 689.5,710.0C688.2,712.7 686.5,712.0 684.5,710.0C682.5,708.0 680.7,705.2 682.0,702.5Z" fill="#FFD26E"/>
<path d="M559.5,737.5C561.6,735.0 567.0,733.8 572.0,732.5C577.0,731.2 583.7,730.8 589.5,730.0C595.3,729.2 600.8,728.3 607.0,727.5C613.2,726.7 621.6,724.6 627.0,725.0C632.4,725.4 635.8,729.8 639.5,730.0C643.2,730.2 643.2,727.5 649.5,726.2C655.8,725.0 659.1,723.1 677.0,722.5C694.9,721.9 757.0,722.5 757.0,722.5C757.0,722.5 757.0,821.2 757.0,821.2C757.0,821.2 712.0,821.2 712.0,821.2C712.0,821.2 710.3,812.7 707.0,810.0C703.7,807.3 697.0,805.4 692.0,805.0C687.0,804.6 680.8,805.4 677.0,807.5C673.2,809.6 671.6,815.2 669.5,817.5C667.4,819.8 664.5,821.2 664.5,821.2C664.5,821.2 652.0,821.2 652.0,821.2C652.0,821.2 661.2,811.5 662.0,807.5C662.8,803.5 660.3,799.6 657.0,797.5C653.7,795.4 647.0,795.0 642.0,795.0C637.0,795.0 632.0,797.5 627.0,797.5C622.0,797.5 616.2,796.7 612.0,795.0C607.8,793.3 602.8,790.0 602.0,787.5C601.2,785.0 604.5,782.1 607.0,780.0C609.5,777.9 613.7,776.7 617.0,775.0C620.3,773.3 624.9,772.1 627.0,770.0C629.1,767.9 631.2,764.6 629.5,762.5C627.8,760.4 621.6,758.3 617.0,757.5C612.4,756.7 606.6,758.3 602.0,757.5C597.4,756.7 593.7,752.5 589.5,752.5C585.3,752.5 581.2,756.7 577.0,757.5C572.8,758.3 567.4,759.2 564.5,757.5C561.6,755.8 560.3,750.8 559.5,747.5C558.7,744.2 557.4,740.0 559.5,737.5Z" fill="#FFD26E"/>
<path d="M602.0,741.2C602.0,739.2 612.0,736.9 617.0,735.0C622.0,733.1 626.6,731.2 632.0,730.0C637.4,728.8 642.0,728.3 649.5,727.5C657.0,726.7 659.1,725.4 677.0,725.0C694.9,724.6 757.0,725.0 757.0,725.0C757.0,725.0 757.0,821.2 757.0,821.2C757.0,821.2 747.0,821.2 747.0,821.2C747.0,821.2 741.2,812.7 737.0,810.0C732.8,807.3 727.0,806.2 722.0,805.0C717.0,803.8 712.0,803.8 707.0,802.5C702.0,801.2 697.0,799.2 692.0,797.5C687.0,795.8 682.0,794.2 677.0,792.5C672.0,790.8 667.0,789.2 662.0,787.5C657.0,785.8 651.2,784.2 647.0,782.5C642.8,780.8 639.5,779.6 637.0,777.5C634.5,775.4 632.0,772.9 632.0,770.0C632.0,767.1 637.0,762.9 637.0,760.0C637.0,757.1 635.3,754.6 632.0,752.5C628.7,750.4 622.0,749.4 617.0,747.5C612.0,745.6 602.0,743.3 602.0,741.2Z" fill="#FA0000"/>
<path d="M652.0,735.0C653.2,732.5 657.8,732.7 662.0,732.5C666.2,732.3 672.0,732.5 677.0,733.8C682.0,735.0 687.0,737.3 692.0,740.0C697.0,742.7 702.0,746.2 707.0,750.0C712.0,753.8 719.1,759.2 722.0,762.5C724.9,765.8 727.8,768.5 724.5,770.0C721.2,771.5 708.2,771.2 702.0,771.2C695.8,771.2 692.0,771.0 687.0,770.0C682.0,769.0 676.2,767.1 672.0,765.0C667.8,762.9 664.9,760.4 662.0,757.5C659.1,754.6 656.2,751.2 654.5,747.5C652.8,743.8 650.8,737.5 652.0,735.0Z" fill="#C80000"/>
<path d="M680.8,740.0C681.8,739.3 687.0,741.2 689.5,742.5C692.0,743.8 696.8,747.7 699.5,750.0C702.2,752.3 707.2,757.3 709.5,760.0C711.8,762.7 717.7,768.7 717.0,770.0C716.3,771.3 707.5,771.0 704.5,770.0C701.5,769.0 696.8,764.5 694.5,762.5C692.2,760.5 688.7,757.0 687.0,755.0C685.3,753.0 682.8,749.5 682.0,747.5C681.2,745.5 679.8,740.7 680.8,740.0Z" fill="#690000"/>
<path d="M562.0,817.5C563.3,816.0 569.0,811.2 572.0,810.0C575.0,808.8 581.2,808.1 584.5,808.8C587.8,809.4 594.7,813.3 597.0,815.0C599.3,816.7 602.0,821.2 602.0,821.2C602.0,821.2 562.0,821.2 562.0,821.2C562.0,821.2 560.7,819.0 562.0,817.5Z" fill="#FFD26E"/>
<path d="M577.0,818.0C577.8,817.6 583.2,816.7 584.5,817.0C585.8,817.3 589.5,821.2 589.5,821.2C589.5,821.2 577.0,821.2 577.0,821.2C577.0,821.2 576.2,818.4 577.0,818.0Z" fill="#FA0000"/>
<path d="M747.0,545.0L1132.0,545.0L1132.0,821.2L747.0,821.2Z" fill="#FA0000"/>
<path d="M852.0,545.0C852.0,545.0 851.2,555.8 852.0,560.0C852.8,564.2 853.7,568.8 857.0,570.0C860.3,571.2 867.0,567.5 872.0,567.5C877.0,567.5 882.0,570.4 887.0,570.0C892.0,569.6 897.8,566.7 902.0,565.0C906.2,563.3 907.8,559.6 912.0,560.0C916.2,560.4 922.0,565.4 927.0,567.5C932.0,569.6 937.8,572.1 942.0,572.5C946.2,572.9 948.7,568.8 952.0,570.0C955.3,571.2 958.7,577.9 962.0,580.0C965.3,582.1 967.8,582.9 972.0,582.5C976.2,582.1 982.0,577.5 987.0,577.5C992.0,577.5 995.3,581.2 1002.0,582.5C1008.7,583.8 1018.7,584.2 1027.0,585.0C1035.3,585.8 1043.7,587.1 1052.0,587.5C1060.3,587.9 1068.7,587.9 1077.0,587.5C1085.3,587.1 1092.8,585.8 1102.0,585.0C1111.2,584.2 1132.0,582.5 1132.0,582.5C1132.0,582.5 1132.0,545.0 1132.0,545.0C1132.0,545.0 852.0,545.0 852.0,545.0Z" fill="#C80000"/>
<path d="M774.5,567.5C775.3,564.2 778.2,560.0 782.0,557.5C785.8,555.0 791.2,554.2 797.0,552.5C802.8,550.8 807.8,548.8 817.0,547.5C826.2,546.2 852.0,545.0 852.0,545.0C852.0,545.0 856.2,560.0 854.5,565.0C852.8,570.0 846.6,572.5 842.0,575.0C837.4,577.5 832.0,578.3 827.0,580.0C822.0,581.7 816.2,583.3 812.0,585.0C807.8,586.7 805.3,588.8 802.0,590.0C798.7,591.2 794.5,594.2 792.0,592.5C789.5,590.8 789.5,582.5 787.0,580.0C784.5,577.5 779.1,579.6 777.0,577.5C774.9,575.4 773.7,570.8 774.5,567.5Z" fill="#C80000"/>
<path d="M864.5,573.0C867.0,572.6 899.5,570.0 902.0,570.0C904.5,570.0 905.0,573.1 902.5,573.5C900.0,573.9 867.5,576.5 865.0,576.5C862.5,576.5 862.0,573.4 864.5,573.0Z" fill="#FFD26E"/>
<path d="M842.0,582.5C842.0,580.0 845.3,577.5 847.0,575.0C848.7,572.5 850.8,567.5 852.0,567.5C853.2,567.5 853.2,572.5 854.5,575.0C855.8,577.5 859.5,580.0 859.5,582.5C859.5,585.0 856.6,588.8 854.5,590.0C852.4,591.2 849.1,591.2 847.0,590.0C844.9,588.8 842.0,585.0 842.0,582.5Z" fill="#FFD26E"/>
<path d="M993.2,557.5C993.9,555.8 1000.5,554.0 1002.0,555.0C1003.5,556.0 1005.2,563.3 1004.5,565.0C1003.8,566.7 998.5,568.5 997.0,567.5C995.5,566.5 992.6,559.2 993.2,557.5Z" fill="#690000"/>
<path d="M1017.0,547.5C1018.7,545.8 1032.5,546.2 1034.5,547.5C1036.5,548.8 1033.7,555.8 1032.0,557.5C1030.3,559.2 1024.0,561.3 1022.0,560.0C1020.0,558.7 1015.3,549.2 1017.0,547.5Z" fill="#690000"/>
<path d="M1047.0,547.5C1050.3,546.7 1073.3,546.8 1077.0,547.5C1080.7,548.2 1077.8,551.7 1074.5,552.5C1071.2,553.3 1055.7,554.4 1052.0,553.8C1048.3,553.1 1043.7,548.3 1047.0,547.5Z" fill="#690000"/>
<path d="M877.0,547.5C877.2,547.0 881.5,547.0 882.0,547.5C882.5,548.0 881.4,551.2 880.8,551.2C880.1,551.2 876.8,548.0 877.0,547.5Z" fill="#690000"/>
<path d="M767.0,610.0C768.0,606.3 773.7,602.8 777.0,602.5C780.3,602.2 788.7,606.5 792.0,607.5C795.3,608.5 798.7,611.3 802.0,610.0C805.3,608.7 812.7,599.2 817.0,597.5C821.3,595.8 830.5,595.8 834.5,597.5C838.5,599.2 843.3,609.0 847.0,610.0C850.7,611.0 858.0,605.3 862.0,605.0C866.0,604.7 873.0,607.8 877.0,607.5C881.0,607.2 888.0,602.5 892.0,602.5C896.0,602.5 903.0,606.5 907.0,607.5C911.0,608.5 918.0,610.0 922.0,610.0C926.0,610.0 933.7,607.2 937.0,607.5C940.3,607.8 944.0,612.5 947.0,612.5C950.0,612.5 956.2,607.2 959.5,607.5C962.8,607.8 968.3,614.0 972.0,615.0C975.7,616.0 983.7,615.7 987.0,615.0C990.3,614.3 993.7,610.0 997.0,610.0C1000.3,610.0 1008.0,615.0 1012.0,615.0C1016.0,615.0 1021.7,610.8 1027.0,610.0C1032.3,609.2 1045.3,609.2 1052.0,608.8C1058.7,608.2 1070.3,606.9 1077.0,606.2C1083.7,605.6 1094.7,604.4 1102.0,603.8C1109.3,603.1 1132.0,601.2 1132.0,601.2C1132.0,601.2 1132.0,821.2 1132.0,821.2C1132.0,821.2 1109.5,821.2 1109.5,821.2C1109.5,821.2 1106.3,820.7 1102.0,820.0C1097.7,819.3 1083.7,817.4 1077.0,816.2C1070.3,815.1 1058.7,812.6 1052.0,811.2C1045.3,809.9 1033.7,807.8 1027.0,806.2C1020.3,804.8 1008.7,801.8 1002.0,800.0C995.3,798.2 983.7,794.5 977.0,792.5C970.3,790.5 958.7,787.2 952.0,785.0C945.3,782.8 933.7,778.8 927.0,776.2C920.3,773.8 907.3,768.9 902.0,766.2C896.7,763.6 891.0,758.4 887.0,756.2C883.0,754.1 876.7,751.2 872.0,750.0C867.3,748.8 858.0,749.5 852.0,747.5C846.0,745.5 834.3,737.0 827.0,735.0C819.7,733.0 801.3,734.2 797.0,732.5C792.7,730.8 794.5,725.5 794.5,722.5C794.5,719.5 796.0,713.0 797.0,710.0C798.0,707.0 800.7,703.3 802.0,700.0C803.3,696.7 807.7,689.0 807.0,685.0C806.3,681.0 799.3,673.3 797.0,670.0C794.7,666.7 791.8,662.7 789.5,660.0C787.2,657.3 781.2,653.3 779.5,650.0C777.8,646.7 778.3,637.7 777.0,635.0C775.7,632.3 770.8,633.3 769.5,630.0C768.2,626.7 766.0,613.7 767.0,610.0Z" fill="#FFD26E"/>
<path d="M784.5,632.5C785.8,630.5 789.0,626.7 792.0,625.0C795.0,623.3 802.7,620.0 807.0,620.0C811.3,620.0 820.8,625.3 824.5,625.0C828.2,624.7 831.5,619.0 834.5,617.5C837.5,616.0 843.3,613.4 847.0,613.8C850.7,614.1 857.3,619.8 862.0,620.0C866.7,620.2 877.3,616.3 882.0,615.0C886.7,613.7 891.7,610.3 897.0,610.0C902.3,609.7 916.7,612.5 922.0,612.5C927.3,612.5 933.7,609.7 937.0,610.0C940.3,610.3 944.0,615.0 947.0,615.0C950.0,615.0 956.5,609.3 959.5,610.0C962.5,610.7 966.5,617.3 969.5,620.0C972.5,622.7 979.0,628.2 982.0,630.0C985.0,631.8 988.7,633.8 992.0,633.8C995.3,633.8 1002.3,631.2 1007.0,630.0C1011.7,628.8 1021.0,626.7 1027.0,625.0C1033.0,623.3 1045.3,619.2 1052.0,617.5C1058.7,615.8 1070.3,613.5 1077.0,612.5C1083.7,611.5 1094.7,610.7 1102.0,610.0C1109.3,609.3 1132.0,607.5 1132.0,607.5C1132.0,607.5 1132.0,820.0 1132.0,820.0C1132.0,820.0 1109.3,817.2 1102.0,816.2C1094.7,815.2 1083.7,813.7 1077.0,812.5C1070.3,811.3 1058.7,808.8 1052.0,807.5C1045.3,806.2 1033.7,804.0 1027.0,802.5C1020.3,801.0 1008.7,798.1 1002.0,796.2C995.3,794.4 983.7,790.8 977.0,788.8C970.3,786.8 958.7,783.4 952.0,781.2C945.3,779.1 933.7,775.0 927.0,772.5C920.3,770.0 908.0,765.3 902.0,762.5C896.0,759.7 887.3,753.4 882.0,751.2C876.7,749.1 866.0,747.4 862.0,746.2C858.0,745.1 856.7,744.3 852.0,742.5C847.3,740.7 832.3,734.2 827.0,732.5C821.7,730.8 815.3,730.3 812.0,730.0C808.7,729.7 804.0,731.0 802.0,730.0C800.0,729.0 797.0,724.5 797.0,722.5C797.0,720.5 800.0,716.7 802.0,715.0C804.0,713.3 810.3,712.0 812.0,710.0C813.7,708.0 812.8,702.0 814.5,700.0C816.2,698.0 822.0,697.0 824.5,695.0C827.0,693.0 832.6,688.3 833.2,685.0C833.9,681.7 830.7,674.0 829.5,670.0C828.3,666.0 826.5,658.3 824.5,655.0C822.5,651.7 818.2,646.7 814.5,645.0C810.8,643.3 801.3,643.2 797.0,642.5C792.7,641.8 783.7,641.3 782.0,640.0C780.3,638.7 783.2,634.5 784.5,632.5Z" fill="#FFFFFF"/>
<path d="M822.0,605.0C823.0,604.0 830.3,601.1 832.0,601.2C833.7,601.4 835.5,605.2 834.5,606.2C833.5,607.2 826.2,608.9 824.5,608.8C822.8,608.6 821.0,606.0 822.0,605.0Z" fill="#FFFFFF"/>
<path d="M814.5,727.5C814.5,726.0 821.6,723.8 827.0,722.5C832.4,721.2 841.2,721.2 847.0,720.0C852.8,718.8 857.0,717.1 862.0,715.0C867.0,712.9 872.0,710.4 877.0,707.5C882.0,704.6 887.8,700.4 892.0,697.5C896.2,694.6 897.0,692.1 902.0,690.0C907.0,687.9 914.5,686.2 922.0,685.0C929.5,683.8 939.5,683.3 947.0,682.5C954.5,681.7 959.5,680.0 967.0,680.0C974.5,680.0 982.0,681.2 992.0,682.5C1002.0,683.8 1017.0,686.2 1027.0,687.5C1037.0,688.8 1043.7,689.6 1052.0,690.0C1060.3,690.4 1068.7,690.8 1077.0,690.0C1085.3,689.2 1092.8,687.1 1102.0,685.0C1111.2,682.9 1132.0,677.5 1132.0,677.5C1132.0,677.5 1132.0,805.0 1132.0,805.0C1132.0,805.0 1111.2,800.0 1102.0,797.5C1092.8,795.0 1085.3,792.1 1077.0,790.0C1068.7,787.9 1060.3,786.9 1052.0,785.0C1043.7,783.1 1035.3,780.6 1027.0,778.8C1018.7,776.9 1010.3,775.4 1002.0,773.8C993.7,772.1 985.3,770.4 977.0,768.8C968.7,767.1 960.3,765.6 952.0,763.8C943.7,761.9 934.5,759.4 927.0,757.5C919.5,755.6 912.8,754.4 907.0,752.5C901.2,750.6 896.2,748.3 892.0,746.2C887.8,744.2 885.3,741.9 882.0,740.0C878.7,738.1 877.0,736.7 872.0,735.0C867.0,733.3 859.5,730.6 852.0,730.0C844.5,729.4 833.2,731.7 827.0,731.2C820.8,730.8 814.5,729.0 814.5,727.5Z" fill="#E1FFFF"/>
<path d="M874.5,725.0C874.9,722.7 878.2,722.1 882.0,720.0C885.8,717.9 892.0,714.6 897.0,712.5C902.0,710.4 906.2,709.0 912.0,707.5C917.8,706.0 925.3,704.6 932.0,703.8C938.7,702.9 944.5,702.8 952.0,702.5C959.5,702.2 968.7,702.1 977.0,702.0C985.3,701.9 992.8,701.9 1002.0,702.0C1011.2,702.1 1010.3,702.4 1032.0,702.5C1053.7,702.6 1132.0,702.5 1132.0,702.5C1132.0,702.5 1132.0,790.0 1132.0,790.0C1132.0,790.0 1111.2,784.6 1102.0,782.5C1092.8,780.4 1085.3,779.0 1077.0,777.5C1068.7,776.0 1060.3,775.2 1052.0,773.8C1043.7,772.3 1035.3,770.4 1027.0,768.8C1018.7,767.1 1010.3,765.2 1002.0,763.8C993.7,762.3 985.3,761.2 977.0,760.0C968.7,758.8 959.5,757.3 952.0,756.2C944.5,755.2 938.7,755.0 932.0,753.8C925.3,752.5 917.8,750.2 912.0,748.8C906.2,747.3 901.2,746.5 897.0,745.0C892.8,743.5 889.9,741.9 887.0,740.0C884.1,738.1 881.6,736.2 879.5,733.8C877.4,731.2 874.1,727.3 874.5,725.0Z" fill="#50A5F5"/>
<path d="M909.5,737.5C910.8,735.8 916.6,733.8 922.0,732.5C927.4,731.2 935.3,730.2 942.0,730.0C948.7,729.8 955.3,730.4 962.0,731.2C968.7,732.1 975.3,733.5 982.0,735.0C988.7,736.5 996.2,738.8 1002.0,740.0C1007.8,741.2 1012.0,741.9 1017.0,742.5C1022.0,743.1 1029.5,742.9 1032.0,743.8C1034.5,744.6 1034.5,746.7 1032.0,747.5C1029.5,748.3 1022.0,748.3 1017.0,748.8C1012.0,749.2 1007.0,749.6 1002.0,750.0C997.0,750.4 992.8,751.2 987.0,751.2C981.2,751.2 973.7,750.6 967.0,750.0C960.3,749.4 953.7,748.3 947.0,747.5C940.3,746.7 932.4,745.8 927.0,745.0C921.6,744.2 917.4,743.8 914.5,742.5C911.6,741.2 908.2,739.2 909.5,737.5Z" fill="#1964D2"/>
<path d="M1089.5,757.5C1090.3,756.7 1097.8,756.0 1102.0,756.2C1106.2,756.5 1112.8,757.7 1114.5,758.8C1116.2,759.8 1114.9,762.1 1112.0,762.5C1109.1,762.9 1100.8,762.1 1097.0,761.2C1093.2,760.4 1088.7,758.3 1089.5,757.5Z" fill="#1964D2"/>
<path d="M767.0,735.0C772.8,732.5 777.0,728.3 782.0,727.5C787.0,726.7 792.4,728.8 797.0,730.0C801.6,731.2 806.6,732.1 809.5,735.0C812.4,737.9 811.6,745.0 814.5,747.5C817.4,750.0 823.2,747.9 827.0,750.0C830.8,752.1 832.0,757.1 837.0,760.0C842.0,762.9 852.0,765.0 857.0,767.5C862.0,770.0 867.0,772.9 867.0,775.0C867.0,777.1 861.2,779.6 857.0,780.0C852.8,780.4 847.0,777.1 842.0,777.5C837.0,777.9 832.0,781.2 827.0,782.5C822.0,783.8 816.2,786.2 812.0,785.0C807.8,783.8 805.8,777.5 802.0,775.0C798.2,772.5 793.7,771.7 789.5,770.0C785.3,768.3 781.6,766.7 777.0,765.0C772.4,763.3 767.0,761.2 762.0,760.0C757.0,758.8 747.0,757.5 747.0,757.5C747.0,757.5 747.0,742.5 747.0,742.5C747.0,742.5 761.2,737.5 767.0,735.0Z" fill="#C80000"/>
<path d="M872.0,790.0C873.7,786.2 882.0,782.1 887.0,780.0C892.0,777.9 896.2,777.1 902.0,777.5C907.8,777.9 916.2,780.4 922.0,782.5C927.8,784.6 935.3,786.7 937.0,790.0C938.7,793.3 935.3,799.2 932.0,802.5C928.7,805.8 922.0,808.3 917.0,810.0C912.0,811.7 907.0,812.5 902.0,812.5C897.0,812.5 891.2,811.7 887.0,810.0C882.8,808.3 879.5,805.8 877.0,802.5C874.5,799.2 870.3,793.8 872.0,790.0Z" fill="#C80000"/>
<path d="M917.0,812.5C919.0,811.0 929.3,809.3 932.0,810.0C934.7,810.7 937.7,816.0 937.0,817.5C936.3,819.0 927.0,821.2 927.0,821.2C927.0,821.2 917.0,821.2 917.0,821.2C917.0,821.2 915.0,814.0 917.0,812.5Z" fill="#C80000"/>
<path d="M1182.5,545.0C1182.5,545.0 1182.7,549.8 1182.5,552.5C1182.3,555.2 1182.2,561.3 1181.2,565.0C1180.2,568.7 1176.8,576.7 1175.0,580.0C1173.2,583.3 1169.2,587.7 1167.5,590.0C1165.8,592.3 1163.8,594.8 1162.5,597.5C1161.2,600.2 1159.2,607.0 1157.5,610.0C1155.8,613.0 1151.7,617.8 1150.0,620.0C1148.3,622.2 1144.3,625.2 1145.0,626.2C1145.7,627.2 1152.3,628.0 1155.0,627.5C1157.7,627.0 1162.3,622.5 1165.0,622.5C1167.7,622.5 1171.7,626.5 1175.0,627.5C1178.3,628.5 1185.7,629.0 1190.0,630.0C1194.3,631.0 1202.8,633.7 1207.5,635.0C1212.2,636.3 1220.7,638.0 1225.0,640.0C1229.3,642.0 1237.3,647.3 1240.0,650.0C1242.7,652.7 1243.0,658.0 1245.0,660.0C1247.0,662.0 1252.3,665.0 1255.0,665.0C1257.7,665.0 1262.7,662.0 1265.0,660.0C1267.3,658.0 1272.2,652.7 1272.5,650.0C1272.8,647.3 1268.5,642.7 1267.5,640.0C1266.5,637.3 1267.3,632.7 1265.0,630.0C1262.7,627.3 1252.7,623.3 1250.0,620.0C1247.3,616.7 1246.3,609.0 1245.0,605.0C1243.7,601.0 1242.0,594.0 1240.0,590.0C1238.0,586.0 1233.8,581.0 1230.0,575.0C1226.2,569.0 1211.2,545.0 1211.2,545.0C1211.2,545.0 1182.5,545.0 1182.5,545.0Z" fill="#E1FFFF"/>
<path d="M1192.0,587.5C1193.2,585.0 1197.0,582.7 1200.0,582.5C1203.0,582.3 1207.9,583.3 1210.0,586.2C1212.1,589.2 1211.0,596.0 1212.5,600.0C1214.0,604.0 1218.5,607.1 1218.8,610.0C1219.0,612.9 1216.0,616.9 1213.8,617.5C1211.5,618.1 1207.7,615.2 1205.0,613.8C1202.3,612.3 1199.6,611.5 1197.5,608.8C1195.4,606.0 1193.4,601.0 1192.5,597.5C1191.6,594.0 1190.8,590.0 1192.0,587.5Z" fill="#FFFFFF"/>
<path d="M1120.0,676.0C1120.0,676.0 1136.0,673.7 1144.0,674.0C1152.0,674.3 1172.5,678.0 1180.0,678.0C1187.5,678.0 1193.3,675.6 1200.0,674.0C1206.7,672.4 1223.3,666.8 1230.0,666.0C1236.7,665.2 1243.3,667.2 1250.0,668.0C1256.7,668.8 1273.3,671.6 1280.0,672.0C1286.7,672.4 1294.7,670.9 1300.0,671.2C1305.3,671.6 1316.7,673.2 1320.0,675.0C1323.3,676.8 1321.0,683.0 1325.0,685.0C1329.0,687.0 1343.3,688.3 1350.0,690.0C1356.7,691.7 1369.7,694.8 1375.0,697.5C1380.3,700.2 1388.0,705.0 1390.0,710.0C1392.0,715.0 1392.0,729.7 1390.0,735.0C1388.0,740.3 1370.3,738.5 1375.0,750.0C1379.7,761.5 1425.0,821.2 1425.0,821.2C1425.0,821.2 1120.0,821.2 1120.0,821.2C1120.0,821.2 1120.0,676.0 1120.0,676.0Z" fill="#E1FFFF"/>
<path d="M1162.5,717.5C1168.8,716.7 1180.8,714.8 1187.5,713.8C1194.2,712.8 1207.5,710.2 1212.5,710.0C1217.5,709.8 1222.0,711.5 1225.0,712.5C1228.0,713.5 1229.7,717.2 1235.0,717.5C1240.3,717.8 1256.3,715.0 1265.0,715.0C1273.7,715.0 1290.3,716.5 1300.0,717.5C1309.7,718.5 1328.8,721.5 1337.5,722.5C1346.2,723.5 1360.3,724.0 1365.0,725.0C1369.7,726.0 1373.2,728.7 1372.5,730.0C1371.8,731.3 1364.7,734.2 1360.0,735.0C1355.3,735.8 1343.5,736.2 1337.5,736.2C1331.5,736.2 1320.7,735.5 1315.0,735.0C1309.3,734.5 1300.3,733.2 1295.0,732.5C1289.7,731.8 1280.3,730.3 1275.0,730.0C1269.7,729.7 1260.3,730.3 1255.0,730.0C1249.7,729.7 1239.0,728.5 1235.0,727.5C1231.0,726.5 1229.7,723.2 1225.0,722.5C1220.3,721.8 1206.7,722.3 1200.0,722.5C1193.3,722.7 1181.7,723.1 1175.0,723.8C1168.3,724.4 1156.7,727.3 1150.0,727.5C1143.3,727.7 1125.0,725.0 1125.0,725.0C1125.0,725.0 1120.0,722.5 1120.0,722.5C1120.0,722.5 1120.0,718.8 1120.0,718.8C1120.0,718.8 1134.3,720.2 1140.0,720.0C1145.7,719.8 1156.2,718.3 1162.5,717.5Z" fill="#FFFFFF"/>
<path d="M1190.0,571.2C1190.5,570.3 1198.2,567.9 1200.0,567.5C1201.8,567.1 1207.2,566.9 1207.5,567.5C1207.8,568.1 1203.8,572.8 1202.5,573.8C1201.2,574.7 1196.2,577.2 1195.0,577.0C1193.8,576.8 1189.5,572.2 1190.0,571.2Z" fill="#50A5F5"/>
<path d="M1172.5,617.5C1173.2,616.6 1183.5,613.6 1185.0,613.8C1186.5,613.9 1188.2,617.9 1187.5,618.8C1186.8,619.6 1179.0,622.6 1177.5,622.5C1176.0,622.4 1171.8,618.4 1172.5,617.5Z" fill="#50A5F5"/>
<path d="M1237.5,620.0C1238.0,618.9 1241.5,618.0 1242.5,618.8C1243.5,619.5 1246.8,625.9 1247.5,627.5C1248.2,629.1 1250.5,633.9 1250.0,635.0C1249.5,636.1 1244.2,638.6 1242.5,638.8C1240.8,638.9 1234.2,636.8 1232.5,636.2C1230.8,635.8 1225.5,634.4 1225.0,633.8C1224.5,633.1 1226.2,630.4 1227.5,630.0C1228.8,629.6 1236.5,631.0 1237.5,630.0C1238.5,629.0 1237.0,621.1 1237.5,620.0Z" fill="#50A5F5"/>
<path d="M1217.5,612.5C1217.5,612.0 1220.9,612.0 1221.2,612.5C1221.6,613.0 1221.6,617.5 1221.2,617.5C1220.9,617.5 1217.5,613.0 1217.5,612.5Z" fill="#50A5F5"/>
<path d="M1206.2,623.8C1206.2,623.4 1210.8,623.4 1211.2,623.8C1211.8,624.1 1211.8,627.5 1211.2,627.5C1210.8,627.5 1206.2,624.1 1206.2,623.8Z" fill="#50A5F5"/>
<path d="M1211.2,576.2C1211.6,575.6 1215.6,575.6 1216.2,576.2C1216.9,576.9 1217.9,581.9 1217.5,582.5C1217.1,583.1 1213.1,583.1 1212.5,582.5C1211.9,581.9 1210.9,576.9 1211.2,576.2Z" fill="#FFD26E"/>
<path d="M1214.5,577.5L1216.0,577.5L1216.0,579.5Z" fill="#FA0000"/>
<path d="M1207.5,657.5C1207.8,656.5 1210.5,650.2 1211.2,650.0C1212.0,649.8 1214.9,653.9 1215.0,655.0C1215.1,656.1 1213.1,660.7 1212.5,661.2C1211.9,661.8 1209.2,660.9 1208.8,660.5C1208.2,660.1 1207.2,658.5 1207.5,657.5Z" fill="#FFD26E"/>
<path d="M1225.0,573.8C1225.2,572.9 1230.8,574.1 1232.5,576.2C1234.2,578.4 1240.8,591.6 1242.5,595.0C1244.2,598.4 1248.2,607.5 1250.0,610.0C1251.8,612.5 1258.9,618.5 1260.0,620.0C1261.1,621.5 1262.0,624.4 1261.2,625.0C1260.5,625.6 1254.1,627.2 1252.5,626.2C1250.9,625.2 1246.5,617.9 1245.0,615.0C1243.5,612.1 1239.0,600.5 1237.5,597.5C1236.0,594.5 1231.2,587.4 1230.0,585.0C1228.8,582.6 1224.8,574.6 1225.0,573.8Z" fill="#FFD26E"/>
<path d="M1247.5,615.0C1248.0,614.2 1253.8,615.5 1255.0,616.2C1256.2,617.0 1260.0,621.5 1260.0,622.5C1260.0,623.5 1256.0,626.1 1255.0,626.2C1254.0,626.4 1250.8,624.9 1250.0,623.8C1249.2,622.6 1247.0,615.8 1247.5,615.0Z" fill="#FA0000"/>
<path d="M1243.8,603.8L1247.5,605.0L1248.8,610.0L1245.0,608.8Z" fill="#FA0000"/>
<path d="M1120.0,696.2C1120.0,696.2 1142.7,695.3 1150.0,695.0C1157.3,694.7 1168.3,693.9 1175.0,693.8C1181.7,693.6 1194.3,693.6 1200.0,693.8C1205.7,693.9 1214.2,695.8 1217.5,695.0C1220.8,694.2 1221.3,688.8 1225.0,687.5C1228.7,686.2 1239.7,685.2 1245.0,685.0C1250.3,684.8 1260.7,685.9 1265.0,686.2C1269.3,686.6 1275.7,685.8 1277.5,688.0C1279.3,690.2 1280.4,700.2 1278.8,702.5C1277.1,704.8 1269.5,704.8 1265.0,705.5C1260.5,706.2 1250.3,707.1 1245.0,707.5C1239.7,707.9 1231.0,708.2 1225.0,708.8C1219.0,709.2 1206.7,710.6 1200.0,711.2C1193.3,711.9 1181.7,712.9 1175.0,713.8C1168.3,714.6 1156.7,716.5 1150.0,717.5C1143.3,718.5 1125.0,721.2 1125.0,721.2C1125.0,721.2 1120.0,721.2 1120.0,721.2C1120.0,721.2 1120.0,696.2 1120.0,696.2Z" fill="#50A5F5"/>
<path d="M1120.0,725.0C1120.0,725.0 1142.7,726.2 1150.0,726.2C1157.3,726.2 1168.3,725.2 1175.0,725.0C1181.7,724.8 1193.3,724.0 1200.0,725.0C1206.7,726.0 1218.3,730.8 1225.0,732.5C1231.7,734.2 1243.3,736.2 1250.0,737.5C1256.7,738.8 1268.3,741.5 1275.0,742.5C1281.7,743.5 1293.3,744.5 1300.0,745.0C1306.7,745.5 1318.3,745.9 1325.0,746.2C1331.7,746.6 1344.7,747.0 1350.0,747.5C1355.3,748.0 1361.7,748.7 1365.0,750.0C1368.3,751.3 1367.0,748.0 1375.0,757.5C1383.0,767.0 1425.0,821.2 1425.0,821.2C1425.0,821.2 1160.0,821.2 1160.0,821.2C1160.0,821.2 1153.3,817.9 1150.0,816.2C1146.7,814.6 1139.0,810.6 1135.0,808.8C1131.0,806.9 1120.0,802.5 1120.0,802.5C1120.0,802.5 1120.0,725.0 1120.0,725.0Z" fill="#50A5F5"/>
<path d="M1120.0,808.8L1135.0,813.8L1145.0,821.2L1120.0,821.2Z" fill="#FFFFFF"/>
<path d="M1120.0,816.2L1132.5,818.8L1135.0,821.2L1120.0,821.2Z" fill="#FFD26E"/>
<path d="M1320.0,800.0C1320.3,798.5 1323.0,795.9 1325.0,796.2C1327.0,796.6 1332.3,800.3 1335.0,802.5C1337.7,804.7 1344.0,810.3 1345.0,812.5C1346.0,814.7 1344.5,818.6 1342.5,818.8C1340.5,818.9 1332.7,815.2 1330.0,813.8C1327.3,812.2 1323.8,809.3 1322.5,807.5C1321.2,805.7 1319.7,801.5 1320.0,800.0Z" fill="#E1FFFF"/>
<path d="M1342.5,762.5C1343.3,760.7 1347.7,758.8 1350.0,758.8C1352.3,758.8 1357.3,762.3 1360.0,762.5C1362.7,762.7 1367.7,759.7 1370.0,760.0C1372.3,760.3 1376.2,763.0 1377.5,765.0C1378.8,767.0 1380.3,772.3 1380.0,775.0C1379.7,777.7 1376.0,782.3 1375.0,785.0C1374.0,787.7 1373.8,793.0 1372.5,795.0C1371.2,797.0 1367.3,800.0 1365.0,800.0C1362.7,800.0 1357.7,795.3 1355.0,795.0C1352.3,794.7 1347.3,797.8 1345.0,797.5C1342.7,797.2 1338.2,794.8 1337.5,792.5C1336.8,790.2 1339.2,782.7 1340.0,780.0C1340.8,777.3 1343.4,774.8 1343.8,772.5C1344.1,770.2 1341.7,764.3 1342.5,762.5Z" fill="#1964D2"/>
<path d="M1240.0,807.5C1240.2,806.9 1245.8,804.9 1247.5,805.0C1249.2,805.1 1256.8,808.0 1257.5,808.8C1258.2,809.5 1256.2,812.2 1255.0,812.5C1253.8,812.8 1246.5,811.8 1245.0,811.2C1243.5,810.8 1239.8,808.1 1240.0,807.5Z" fill="#1964D2"/>
<path d="M1377.5,782.5C1377.9,782.0 1381.5,783.8 1382.5,785.0C1383.5,786.2 1387.2,793.8 1387.5,795.0C1387.8,796.2 1385.9,798.0 1385.0,797.5C1384.1,797.0 1379.5,791.5 1378.8,790.0C1378.0,788.5 1377.1,783.0 1377.5,782.5Z" fill="#E1FFFF"/>
<path d="M1120.0,545.0C1120.0,545.0 1175.0,545.0 1175.0,545.0C1175.0,545.0 1179.6,550.8 1180.0,555.0C1180.4,559.2 1179.2,565.4 1177.5,570.0C1175.8,574.6 1173.3,578.8 1170.0,582.5C1166.7,586.2 1161.7,590.0 1157.5,592.5C1153.3,595.0 1149.2,595.8 1145.0,597.5C1140.8,599.2 1136.7,601.0 1132.5,602.5C1128.3,604.0 1120.0,606.2 1120.0,606.2C1120.0,606.2 1120.0,545.0 1120.0,545.0Z" fill="#FFD26E"/>
<path d="M1120.0,545.0C1120.0,545.0 1172.5,545.0 1172.5,545.0C1172.5,545.0 1177.3,550.8 1177.5,555.0C1177.7,559.2 1175.6,565.6 1173.8,570.0C1171.9,574.4 1169.4,577.9 1166.2,581.2C1163.1,584.6 1159.0,587.7 1155.0,590.0C1151.0,592.3 1146.7,593.5 1142.5,595.0C1138.3,596.5 1133.8,597.7 1130.0,598.8C1126.2,599.8 1120.0,601.2 1120.0,601.2C1120.0,601.2 1120.0,545.0 1120.0,545.0Z" fill="#FA0000"/>
<path d="M1120.0,547.5C1120.0,547.5 1131.5,548.8 1132.5,550.0C1133.5,551.2 1131.2,558.5 1130.0,560.0C1128.8,561.5 1120.0,565.0 1120.0,565.0C1120.0,565.0 1120.0,547.5 1120.0,547.5Z" fill="#C80000"/>
<path d="M1135.0,563.8C1136.2,562.8 1148.2,558.9 1150.0,558.8C1151.8,558.6 1153.8,561.5 1152.5,562.5C1151.2,563.5 1139.2,568.6 1137.5,568.8C1135.8,568.9 1133.8,564.8 1135.0,563.8Z" fill="#C80000"/>
<path d="M1345.0,593.8C1346.2,593.0 1358.0,591.9 1360.0,592.5C1362.0,593.1 1365.2,598.9 1365.0,600.0C1364.8,601.1 1359.2,603.8 1357.5,603.8C1355.8,603.8 1348.8,601.0 1347.5,600.0C1346.2,599.0 1343.8,594.5 1345.0,593.8Z" fill="#FFD26E"/>
<path d="M1335.0,610.0C1335.8,609.0 1343.5,606.2 1345.0,606.2C1346.5,606.2 1350.0,609.2 1350.0,610.0C1350.0,610.8 1346.2,613.1 1345.0,613.8C1343.8,614.4 1338.5,616.6 1337.5,616.2C1336.5,615.9 1334.2,611.0 1335.0,610.0Z" fill="#FFD26E"/>
<path d="M1322.5,633.8C1323.0,633.4 1326.8,634.1 1327.5,635.0C1328.2,635.9 1330.2,641.6 1330.0,642.5C1329.8,643.4 1325.8,644.1 1325.0,643.8C1324.2,643.4 1322.8,639.8 1322.5,638.8C1322.2,637.8 1322.0,634.1 1322.5,633.8Z" fill="#FFD26E"/>
<path d="M1314.2,610.0C1314.6,609.0 1317.3,609.0 1317.5,610.0C1317.7,611.0 1316.6,619.0 1316.2,620.0C1315.9,621.0 1314.5,621.0 1314.2,620.0C1314.0,619.0 1313.9,611.0 1314.2,610.0Z" fill="#FFD26E"/>
<path d="M1390.0,575.0C1391.0,571.7 1398.0,563.0 1400.0,560.0C1402.0,557.0 1404.7,554.5 1405.0,552.5C1405.3,550.5 1402.5,545.0 1402.5,545.0C1402.5,545.0 1495.0,545.0 1495.0,545.0C1495.0,545.0 1497.0,588.0 1495.0,595.0C1493.0,602.0 1483.3,596.5 1480.0,597.5C1476.7,598.5 1473.3,602.2 1470.0,602.5C1466.7,602.8 1458.7,599.7 1455.0,600.0C1451.3,600.3 1445.2,605.0 1442.5,605.0C1439.8,605.0 1437.3,601.3 1435.0,600.0C1432.7,598.7 1428.3,595.0 1425.0,595.0C1421.7,595.0 1413.7,599.7 1410.0,600.0C1406.3,600.3 1399.8,599.5 1397.5,597.5C1395.2,595.5 1393.5,588.0 1392.5,585.0C1391.5,582.0 1389.0,578.3 1390.0,575.0Z" fill="#FFD26E"/>
<path d="M1402.5,545.0C1402.5,545.0 1495.0,545.0 1495.0,545.0C1495.0,545.0 1496.3,557.5 1495.0,560.0C1493.7,562.5 1487.7,563.8 1485.0,563.8C1482.3,563.8 1478.3,561.0 1475.0,560.0C1471.7,559.0 1463.3,556.4 1460.0,556.2C1456.7,556.1 1452.7,558.6 1450.0,558.8C1447.3,558.9 1442.7,557.8 1440.0,557.5C1437.3,557.2 1432.7,556.6 1430.0,556.2C1427.3,555.9 1422.7,555.0 1420.0,555.0C1417.3,555.0 1412.3,556.6 1410.0,556.2C1407.7,555.9 1403.5,554.0 1402.5,552.5C1401.5,551.0 1402.5,545.0 1402.5,545.0Z" fill="#FA0000"/>
<path d="M1400.0,580.0C1400.3,578.3 1403.3,573.7 1405.0,572.5C1406.7,571.3 1411.2,570.2 1412.5,571.2C1413.8,572.2 1415.3,577.8 1415.0,580.0C1414.7,582.2 1411.7,586.8 1410.0,587.5C1408.3,588.2 1403.8,586.0 1402.5,585.0C1401.2,584.0 1399.7,581.7 1400.0,580.0Z" fill="#FA0000"/>
<path d="M1432.5,575.0C1433.2,573.5 1438.0,571.5 1440.0,570.0C1442.0,568.5 1445.2,564.1 1447.5,563.8C1449.8,563.4 1456.8,566.0 1457.5,567.5C1458.2,569.0 1453.5,573.0 1452.5,575.0C1451.5,577.0 1451.7,581.2 1450.0,582.5C1448.3,583.8 1442.0,585.2 1440.0,585.0C1438.0,584.8 1436.0,582.6 1435.0,581.2C1434.0,579.9 1431.8,576.5 1432.5,575.0Z" fill="#FA0000"/>
<path d="M1477.5,567.5C1478.2,566.0 1482.7,563.9 1485.0,563.8C1487.3,563.6 1493.7,563.4 1495.0,566.2C1496.3,569.1 1496.3,582.8 1495.0,585.0C1493.7,587.2 1487.0,583.8 1485.0,582.5C1483.0,581.2 1481.0,577.0 1480.0,575.0C1479.0,573.0 1476.8,569.0 1477.5,567.5Z" fill="#FA0000"/>
<path d="M1413.8,563.8L1421.2,560.0L1423.8,563.8L1417.5,570.0Z" fill="#FFFFFF"/>
<path d="M1375.0,662.5C1376.7,661.3 1386.0,663.2 1390.0,663.8C1394.0,664.2 1400.3,665.8 1405.0,666.2C1409.7,666.8 1420.7,667.7 1425.0,667.5C1429.3,667.3 1434.5,665.2 1437.5,665.0C1440.5,664.8 1444.8,664.9 1447.5,666.2C1450.2,667.6 1453.8,673.5 1457.5,675.0C1461.2,676.5 1470.0,677.2 1475.0,677.5C1480.0,677.8 1492.3,672.2 1495.0,677.5C1497.7,682.8 1497.7,714.5 1495.0,717.5C1492.3,720.5 1479.7,703.7 1475.0,700.0C1470.3,696.3 1463.3,692.3 1460.0,690.0C1456.7,687.7 1454.7,683.8 1450.0,682.5C1445.3,681.2 1431.7,681.0 1425.0,680.0C1418.3,679.0 1405.3,674.7 1400.0,675.0C1394.7,675.3 1388.0,682.8 1385.0,682.5C1382.0,682.2 1378.8,675.2 1377.5,672.5C1376.2,669.8 1373.3,663.7 1375.0,662.5Z" fill="#FFD26E"/>
<path d="M1396.2,670.0C1397.5,669.4 1408.9,669.5 1410.0,670.0C1411.1,670.5 1408.8,674.4 1407.5,675.0C1406.2,675.6 1398.6,676.8 1397.5,676.2C1396.4,675.8 1395.0,670.6 1396.2,670.0Z" fill="#FA0000"/>
<path d="M1442.5,675.0C1443.0,674.1 1448.8,670.8 1450.0,671.2C1451.2,671.8 1455.5,679.1 1455.0,680.0C1454.5,680.9 1446.2,680.5 1445.0,680.0C1443.8,679.5 1442.0,675.9 1442.5,675.0Z" fill="#FA0000"/>
<path d="M1457.5,682.5C1459.0,682.0 1471.2,685.0 1475.0,685.0C1478.8,685.0 1493.0,679.2 1495.0,682.5C1497.0,685.8 1496.0,715.0 1495.0,717.5C1494.0,720.0 1487.5,709.2 1485.0,707.5C1482.5,705.8 1472.5,701.8 1470.0,700.0C1467.5,698.2 1461.2,691.8 1460.0,690.0C1458.8,688.2 1456.0,683.0 1457.5,682.5Z" fill="#FA0000"/>
<path d="M1472.5,696.2C1473.1,695.8 1479.1,694.8 1480.0,695.0C1480.9,695.2 1481.9,698.2 1481.2,698.8C1480.6,699.2 1474.6,700.2 1473.8,700.0C1472.9,699.8 1471.9,696.8 1472.5,696.2Z" fill="#C80000"/>
</g>
<use href="#land" fill="none" stroke="#000" stroke-width="4.0" stroke-linejoin="round"/>
<use href="#land" fill="#fff" stroke="none"/>
<path d="M418.6,-11.4L420.5,-2.3L418.6,4.6L418.6,10.0L423.2,12.3L428.2,14.6L434.0,14.6L437.8,12.3L437.1,6.8L434.8,3.2L434.0,-2.3L433.2,-11.4Z" fill="#FFD26E" stroke="#000" stroke-width="2"/>
<use href="#small" fill="#000" stroke="#000" stroke-width="1.2" stroke-linejoin="round"/>
<use href="#lakes" fill="none" stroke="#000" stroke-width="2.0" stroke-linejoin="round"/>
<use href="#grid"/>
<rect x="460.9" y="22.8" width="57.6" height="68.4" fill="none" stroke="#000" stroke-width="5.4"/>
<rect x="426.7" y="141.4" width="76.0" height="87.4" fill="none" stroke="#000" stroke-width="5.4"/>
<rect x="576.1" y="182.5" width="76.8" height="45.6" fill="none" stroke="#000" stroke-width="5.4"/>
<rect x="960.1" y="159.7" width="192.0" height="45.6" fill="none" stroke="#000" stroke-width="5.4"/>
</g>
<rect x="0" y="0" width="1421.0" height="273.7" fill="none" stroke="#000" stroke-width="3.0"/>
<path d="M-10.5,0.0H0" stroke="#000" stroke-width="2.8" stroke-linecap="round"/>
<text x="-17.8" y="11.5" font-size="31" text-anchor="end" textLength="51.0" lengthAdjust="spacingAndGlyphs" stroke="#000" stroke-width="0.8">40N</text>
<path d="M-10.5,45.6H0" stroke="#000" stroke-width="2.8" stroke-linecap="round"/>
<text x="-17.8" y="57.1" font-size="31" text-anchor="end" textLength="51.0" lengthAdjust="spacingAndGlyphs" stroke="#000" stroke-width="0.8">30N</text>
<path d="M-10.5,91.2H0" stroke="#000" stroke-width="2.8" stroke-linecap="round"/>
<text x="-17.8" y="102.7" font-size="31" text-anchor="end" textLength="51.0" lengthAdjust="spacingAndGlyphs" stroke="#000" stroke-width="0.8">20N</text>
<path d="M-10.5,136.8H0" stroke="#000" stroke-width="2.8" stroke-linecap="round"/>
<text x="-17.8" y="148.3" font-size="31" text-anchor="end" textLength="51.0" lengthAdjust="spacingAndGlyphs" stroke="#000" stroke-width="0.8">10N</text>
<path d="M-10.5,182.5H0" stroke="#000" stroke-width="2.8" stroke-linecap="round"/>
<text x="-17.8" y="194.0" font-size="31" text-anchor="end" textLength="35.0" lengthAdjust="spacingAndGlyphs" stroke="#000" stroke-width="0.8">EQ</text>
<path d="M-10.5,228.1H0" stroke="#000" stroke-width="2.8" stroke-linecap="round"/>
<text x="-17.8" y="239.6" font-size="31" text-anchor="end" textLength="51.0" lengthAdjust="spacingAndGlyphs" stroke="#000" stroke-width="0.8">10S</text>
<path d="M-10.5,273.7H0" stroke="#000" stroke-width="2.8" stroke-linecap="round"/>
<text x="-17.8" y="285.2" font-size="31" text-anchor="end" textLength="51.0" lengthAdjust="spacingAndGlyphs" stroke="#000" stroke-width="0.8">20S</text>
<path d="M0.0,273.7V283.2" stroke="#000" stroke-width="3" stroke-linecap="round"/>
<text x="0.0" y="309.7" font-size="31" text-anchor="middle" textLength="51.0" lengthAdjust="spacingAndGlyphs" stroke="#000" stroke-width="0.8">60W</text>
<path d="M230.4,273.7V283.2" stroke="#000" stroke-width="3" stroke-linecap="round"/>
<text x="230.4" y="309.7" font-size="31" text-anchor="middle" textLength="14.0" lengthAdjust="spacingAndGlyphs" stroke="#000" stroke-width="0.8">0</text>
<path d="M460.9,273.7V283.2" stroke="#000" stroke-width="3" stroke-linecap="round"/>
<text x="460.9" y="309.7" font-size="31" text-anchor="middle" textLength="49.5" lengthAdjust="spacingAndGlyphs" stroke="#000" stroke-width="0.8">60E</text>
<path d="M691.3,273.7V283.2" stroke="#000" stroke-width="3" stroke-linecap="round"/>
<text x="691.3" y="309.7" font-size="31" text-anchor="middle" textLength="64.5" lengthAdjust="spacingAndGlyphs" stroke="#000" stroke-width="0.8">120E</text>
<path d="M921.7,273.7V283.2" stroke="#000" stroke-width="3" stroke-linecap="round"/>
<text x="921.7" y="309.7" font-size="31" text-anchor="middle" textLength="46.0" lengthAdjust="spacingAndGlyphs" stroke="#000" stroke-width="0.8">180</text>
<path d="M1152.2,273.7V283.2" stroke="#000" stroke-width="3" stroke-linecap="round"/>
<text x="1152.2" y="309.7" font-size="31" text-anchor="middle" textLength="71.5" lengthAdjust="spacingAndGlyphs" stroke="#000" stroke-width="0.8">120W</text>
<path d="M1382.6,273.7V283.2" stroke="#000" stroke-width="3" stroke-linecap="round"/>
<text x="1382.6" y="309.7" font-size="31" text-anchor="middle" textLength="51.0" lengthAdjust="spacingAndGlyphs" stroke="#000" stroke-width="0.8">60W</text>
</g>
<g transform="translate(74.3,928.7)">
<g clip-path="url(#cp)">
<g transform="translate(-74.3,-928.7)">
<path d="M72.0,1023.0C97.8,1012.2 197.0,1013.8 227.0,1008.0C257.0,1002.2 249.5,987.2 252.0,988.0C254.5,988.8 246.2,1008.8 242.0,1013.0C237.8,1017.2 229.7,1011.3 227.0,1013.0C224.3,1014.7 225.8,1019.7 225.8,1023.0C225.8,1026.3 226.2,1029.7 227.0,1033.0C227.8,1036.3 231.2,1039.7 230.8,1043.0C230.3,1046.3 226.8,1049.7 224.5,1053.0C222.2,1056.3 219.9,1060.1 217.0,1063.0C214.1,1065.9 209.9,1068.4 207.0,1070.5C204.1,1072.6 199.5,1073.8 199.5,1075.5C199.5,1077.2 204.5,1078.6 207.0,1080.5C209.5,1082.4 214.1,1085.1 214.5,1086.8C214.9,1088.4 212.4,1089.0 209.5,1090.5C206.6,1092.0 200.8,1093.8 197.0,1095.5C193.2,1097.2 188.9,1098.8 187.0,1100.5C185.1,1102.2 184.9,1103.4 185.8,1105.5C186.6,1107.6 191.8,1110.9 192.0,1113.0C192.2,1115.1 189.1,1115.9 187.0,1118.0C184.9,1120.1 181.0,1123.4 179.5,1125.5C178.0,1127.6 177.0,1129.2 178.2,1130.5C179.5,1131.8 183.9,1131.3 187.0,1133.0C190.1,1134.7 193.7,1138.4 197.0,1140.5C200.3,1142.6 202.8,1143.8 207.0,1145.5C211.2,1147.2 216.2,1148.8 222.0,1150.5C227.8,1152.2 235.3,1153.8 242.0,1155.5C248.7,1157.2 256.8,1158.8 262.0,1160.5C267.2,1162.2 271.4,1163.8 273.2,1165.5C275.1,1167.2 275.1,1169.2 273.2,1170.5C271.4,1171.8 266.4,1172.8 262.0,1173.0C257.6,1173.2 252.0,1171.8 247.0,1171.8C242.0,1171.8 235.8,1172.0 232.0,1173.0C228.2,1174.0 227.8,1176.8 224.5,1178.0C221.2,1179.2 216.6,1180.3 212.0,1180.5C207.4,1180.7 202.0,1178.8 197.0,1179.2C192.0,1179.7 185.3,1181.1 182.0,1183.0C178.7,1184.9 177.6,1188.0 177.0,1190.5C176.4,1193.0 177.8,1195.7 178.2,1198.0C178.7,1200.3 179.5,1204.2 179.5,1204.2C179.5,1204.2 149.5,1204.2 149.5,1204.2C149.5,1204.2 139.9,1164.9 127.0,1143.0C114.1,1121.1 81.2,1093.0 72.0,1073.0C62.8,1053.0 46.2,1033.8 72.0,1023.0Z" fill="#FFD26E"/>
<path d="M235.8,1029.2L239.5,1029.2L241.2,1045.5L248.8,1063.0L245.8,1064.2L238.2,1049.2Z" fill="#FFD26E"/>
<path d="M72.0,928.0C72.0,928.0 277.0,928.0 277.0,928.0C277.0,928.0 282.8,938.0 282.0,943.0C281.2,948.0 275.3,953.0 272.0,958.0C268.7,963.0 265.3,968.0 262.0,973.0C258.7,978.0 254.9,983.8 252.0,988.0C249.1,992.2 247.8,995.1 244.5,998.0C241.2,1000.9 235.8,1003.4 232.0,1005.5C228.2,1007.6 224.5,1008.4 222.0,1010.5C219.5,1012.6 219.5,1016.3 217.0,1018.0C214.5,1019.7 211.2,1020.3 207.0,1020.5C202.8,1020.7 197.0,1018.8 192.0,1019.2C187.0,1019.7 182.0,1022.0 177.0,1023.0C172.0,1024.0 167.0,1024.2 162.0,1025.5C157.0,1026.8 152.0,1028.8 147.0,1030.5C142.0,1032.2 136.2,1033.8 132.0,1035.5C127.8,1037.2 125.3,1038.9 122.0,1040.5C118.7,1042.1 115.3,1044.4 112.0,1045.0C108.7,1045.6 104.9,1045.0 102.0,1044.2C99.1,1043.5 96.2,1042.0 94.5,1040.5C92.8,1039.0 92.2,1037.4 91.5,1035.5C90.8,1033.6 91.0,1030.7 90.0,1029.2C89.0,1027.8 87.5,1026.3 85.8,1026.8C84.0,1027.2 81.0,1029.5 79.5,1031.8C78.0,1034.0 78.2,1038.6 77.0,1040.5C75.8,1042.4 72.8,1061.8 72.0,1043.0C71.2,1024.2 72.0,928.0 72.0,928.0Z" fill="#FA0000"/>
<path d="M90.8,1011.8C92.0,1009.8 95.2,1008.2 98.2,1008.0C101.2,1007.8 105.0,1008.8 105.8,1010.5C106.5,1012.2 103.8,1014.8 102.0,1016.8C100.2,1018.8 99.0,1020.2 97.0,1020.5C95.0,1020.8 93.2,1019.8 92.0,1018.0C90.8,1016.2 89.5,1013.8 90.8,1011.8Z" fill="#FFD26E"/>
<path d="M72.0,928.0C72.0,928.0 267.0,928.0 267.0,928.0C267.0,928.0 265.8,936.3 264.5,940.5C263.2,944.7 261.6,949.2 259.5,953.0C257.4,956.8 254.9,960.7 252.0,963.0C249.1,965.3 246.2,965.5 242.0,966.8C237.8,968.0 232.0,969.0 227.0,970.5C222.0,972.0 217.0,974.2 212.0,975.5C207.0,976.8 202.0,977.8 197.0,978.0C192.0,978.2 187.0,976.8 182.0,976.8C177.0,976.8 172.0,977.6 167.0,978.0C162.0,978.4 157.0,979.2 152.0,979.2C147.0,979.2 142.0,978.0 137.0,978.0C132.0,978.0 127.0,978.8 122.0,979.2C117.0,979.7 112.0,980.1 107.0,980.5C102.0,980.9 96.6,981.1 92.0,981.8C87.4,982.4 82.8,983.4 79.5,984.2C76.2,985.1 73.2,996.1 72.0,986.8C70.8,977.4 72.0,928.0 72.0,928.0Z" fill="#C80000"/>
<path d="M172.0,1033.0C172.9,1030.1 172.3,1029.8 177.0,1028.0C181.7,1026.2 185.0,1025.8 192.0,1025.5C199.0,1025.2 200.6,1025.6 207.0,1026.8C213.4,1027.9 216.0,1027.9 219.5,1030.5C223.0,1033.1 222.6,1033.9 222.0,1038.0C221.4,1042.1 220.5,1043.9 217.0,1048.0C213.5,1052.1 212.8,1052.9 207.0,1055.5C201.2,1058.1 199.0,1058.1 192.0,1059.2C185.0,1060.4 182.2,1061.4 177.0,1060.5C171.8,1059.6 171.2,1058.4 169.5,1055.5C167.8,1052.6 168.6,1051.5 169.5,1048.0C170.4,1044.5 172.7,1044.0 173.2,1040.5C173.8,1037.0 171.1,1035.9 172.0,1033.0Z" fill="#FA0000"/>
<path d="M72.0,1065.5C73.3,1064.3 79.0,1064.8 82.0,1064.2C85.0,1063.8 91.8,1061.6 94.5,1061.8C97.2,1061.9 100.3,1065.7 102.0,1065.5C103.7,1065.3 106.5,1061.8 107.0,1060.5C107.5,1059.2 105.1,1056.2 105.8,1055.5C106.4,1054.8 109.8,1054.8 112.0,1055.5C114.2,1056.2 119.3,1059.8 122.0,1060.5C124.7,1061.2 130.0,1060.0 132.0,1060.5C134.0,1061.0 137.0,1063.2 137.0,1064.2C137.0,1065.2 134.0,1066.8 132.0,1068.0C130.0,1069.2 122.7,1071.3 122.0,1073.0C121.3,1074.7 127.0,1078.5 127.0,1080.5C127.0,1082.5 122.3,1086.3 122.0,1088.0C121.7,1089.7 124.8,1091.8 124.5,1093.0C124.2,1094.2 120.8,1096.8 119.5,1096.8C118.2,1096.8 115.5,1092.2 114.5,1093.0C113.5,1093.8 111.7,1100.3 112.0,1103.0C112.3,1105.7 118.3,1112.7 117.0,1113.0C115.7,1113.3 108.0,1110.8 102.0,1105.5C96.0,1100.2 76.0,1078.3 72.0,1073.0C68.0,1067.7 70.7,1066.7 72.0,1065.5Z" fill="#FA0000"/>
<path d="M109.5,1065.5C110.8,1064.2 117.0,1062.6 119.5,1063.0C122.0,1063.4 124.5,1066.3 124.5,1068.0C124.5,1069.7 121.6,1072.6 119.5,1073.0C117.4,1073.4 113.7,1071.8 112.0,1070.5C110.3,1069.2 108.2,1066.8 109.5,1065.5Z" fill="#FFD26E"/>
<path d="M219.5,1100.5C221.2,1099.0 225.8,1098.0 229.5,1096.8C233.2,1095.5 238.7,1094.5 242.0,1093.0C245.3,1091.5 249.1,1090.1 249.5,1088.0C249.9,1085.9 246.2,1083.0 244.5,1080.5C242.8,1078.0 239.9,1074.9 239.5,1073.0C239.1,1071.1 240.3,1068.8 242.0,1069.2C243.7,1069.7 247.0,1073.2 249.5,1075.5C252.0,1077.8 253.2,1080.5 257.0,1083.0C260.8,1085.5 266.6,1089.2 272.0,1090.5C277.4,1091.8 283.7,1091.1 289.5,1090.5C295.3,1089.9 301.6,1087.2 307.0,1086.8C312.4,1086.3 316.6,1087.0 322.0,1088.0C327.4,1089.0 332.8,1081.3 339.5,1093.0C346.2,1104.7 359.1,1139.5 362.0,1158.0C364.9,1176.5 357.0,1204.2 357.0,1204.2C357.0,1204.2 314.5,1204.2 314.5,1204.2C314.5,1204.2 302.8,1202.6 297.0,1201.8C291.2,1200.9 282.0,1200.5 279.5,1199.2C277.0,1198.0 279.1,1195.3 282.0,1194.2C284.9,1193.2 292.4,1193.6 297.0,1193.0C301.6,1192.4 307.0,1192.6 309.5,1190.5C312.0,1188.4 312.4,1184.7 312.0,1180.5C311.6,1176.3 309.5,1169.7 307.0,1165.5C304.5,1161.3 301.2,1158.4 297.0,1155.5C292.8,1152.6 287.0,1150.5 282.0,1148.0C277.0,1145.5 272.0,1143.0 267.0,1140.5C262.0,1138.0 256.2,1135.5 252.0,1133.0C247.8,1130.5 245.3,1128.4 242.0,1125.5C238.7,1122.6 235.8,1118.8 232.0,1115.5C228.2,1112.2 221.6,1108.0 219.5,1105.5C217.4,1103.0 217.8,1102.0 219.5,1100.5Z" fill="#E1FFFF"/>
<path d="M230.8,1105.5C231.4,1103.8 233.5,1101.4 237.0,1100.5C240.5,1099.6 246.2,1099.6 252.0,1100.0C257.8,1100.4 265.3,1102.1 272.0,1103.0C278.7,1103.9 285.3,1105.3 292.0,1105.5C298.7,1105.7 306.6,1105.5 312.0,1104.2C317.4,1103.0 320.3,1099.0 324.5,1098.0C328.7,1097.0 333.2,1094.7 337.0,1098.0C340.8,1101.3 342.8,1108.0 347.0,1118.0C351.2,1128.0 360.3,1143.6 362.0,1158.0C363.7,1172.4 357.0,1204.2 357.0,1204.2C357.0,1204.2 324.5,1204.2 324.5,1204.2C324.5,1204.2 315.3,1196.1 314.5,1193.0C313.7,1189.9 318.0,1188.8 319.5,1185.5C321.0,1182.2 323.2,1177.2 323.2,1173.0C323.2,1168.8 321.0,1165.1 319.5,1160.5C318.0,1155.9 316.2,1150.5 314.5,1145.5C312.8,1140.5 311.6,1134.2 309.5,1130.5C307.4,1126.8 305.8,1124.9 302.0,1123.0C298.2,1121.1 292.0,1120.3 287.0,1119.2C282.0,1118.2 277.0,1117.4 272.0,1116.8C267.0,1116.1 262.0,1116.1 257.0,1115.5C252.0,1114.9 246.0,1113.8 242.0,1113.0C238.0,1112.2 235.1,1111.8 233.2,1110.5C231.4,1109.2 230.1,1107.2 230.8,1105.5Z" fill="#50A5F5"/>
<path d="M334.5,1125.5C336.2,1124.0 338.7,1121.3 342.0,1124.2C345.3,1127.2 351.2,1137.4 354.5,1143.0C357.8,1148.6 361.6,1147.8 362.0,1158.0C362.4,1168.2 357.0,1204.2 357.0,1204.2C357.0,1204.2 337.0,1204.2 337.0,1204.2C337.0,1204.2 329.9,1197.0 329.5,1193.0C329.1,1189.0 334.3,1184.7 334.5,1180.5C334.7,1176.3 331.0,1172.2 330.8,1168.0C330.5,1163.8 333.5,1159.7 333.2,1155.5C333.0,1151.3 329.7,1146.8 329.5,1143.0C329.3,1139.2 331.2,1135.9 332.0,1133.0C332.8,1130.1 332.8,1127.0 334.5,1125.5Z" fill="#1964D2"/>
<path d="M353.2,1155.5L358.2,1155.5L358.2,1168.0L353.2,1168.0Z" fill="#2432FA"/>
<path d="M277.0,928.0L382.0,928.0L382.0,978.0L347.0,958.0L327.0,943.0L282.0,950.5Z" fill="#C80000"/>
<path d="M279.5,940.5L302.0,941.8L299.5,949.2L282.0,949.2Z" fill="#FA0000"/>
<path d="M352.0,936.8C353.0,935.8 360.5,934.8 362.0,935.5C363.5,936.2 364.2,940.8 363.2,941.8C362.2,942.8 356.0,943.7 354.5,943.0C353.0,942.3 351.0,937.8 352.0,936.8Z" fill="#690000"/>
<path d="M372.0,928.0L409.5,928.0L409.5,943.0L444.5,943.0L444.5,968.0L427.0,974.2L372.0,976.8Z" fill="#C80000"/>
<path d="M392.0,930.5C394.0,928.8 404.7,928.8 407.0,930.5C409.3,932.2 410.2,940.0 409.5,943.0C408.8,946.0 404.3,953.0 402.0,953.0C399.7,953.0 393.3,946.0 392.0,943.0C390.7,940.0 390.0,932.2 392.0,930.5Z" fill="#FA0000"/>
<path d="M422.0,955.5C423.7,952.8 436.8,949.2 439.5,950.5C442.2,951.8 443.7,962.8 442.0,965.5C440.3,968.2 429.7,971.8 427.0,970.5C424.3,969.2 420.3,958.2 422.0,955.5Z" fill="#FA0000"/>
<path d="M400.8,936.8L404.5,936.8L403.2,941.8Z" fill="#FFD26E"/>
<path d="M428.2,973.0L437.0,975.5L452.0,1003.0L470.0,1053.0L462.0,1056.8L444.5,1018.0Z" fill="#FA0000"/>
<path d="M440.8,993.0L445.8,993.0L462.0,1033.0L457.0,1034.2Z" fill="#C80000"/>
<path d="M452.0,1018.0L456.5,1018.0L463.2,1038.0L459.5,1039.2Z" fill="#FFD26E"/>
<path d="M487.0,970.5C488.0,970.0 495.0,971.2 497.0,973.0C499.0,974.8 504.5,986.2 507.0,988.0C509.5,989.8 520.0,989.5 522.0,990.5C524.0,991.5 525.5,997.2 527.0,998.0C528.5,998.8 536.2,997.4 537.0,998.0C537.8,998.6 536.5,1003.8 534.5,1004.2C532.5,1004.8 520.2,1003.4 517.0,1003.0C513.8,1002.6 504.2,1002.0 502.0,1000.5C499.8,999.0 496.0,990.2 494.5,988.0C493.0,985.8 487.8,979.8 487.0,978.0C486.2,976.2 486.0,971.0 487.0,970.5Z" fill="#C80000"/>
<path d="M487.0,970.5L494.5,973.0L497.0,980.5L490.8,979.2Z" fill="#FA0000"/>
<path d="M537.0,1000.5C538.3,998.5 546.2,997.3 549.5,998.0C552.8,998.7 559.0,1003.2 562.0,1005.5C565.0,1007.8 572.7,1014.0 572.0,1015.5C571.3,1017.0 560.3,1016.8 557.0,1016.8C553.7,1016.8 549.3,1016.0 547.0,1015.5C544.7,1015.0 540.8,1015.0 539.5,1013.0C538.2,1011.0 535.7,1002.5 537.0,1000.5Z" fill="#FFD26E"/>
<path d="M549.5,998.0C550.5,997.2 559.0,995.8 562.0,996.8C565.0,997.8 569.0,1002.8 572.0,1005.5C575.0,1008.2 584.5,1015.2 584.5,1016.8C584.5,1018.3 574.7,1018.4 572.0,1017.2C569.3,1016.1 566.8,1009.9 564.5,1008.0C562.2,1006.1 556.5,1004.3 554.5,1003.0C552.5,1001.7 548.5,998.8 549.5,998.0Z" fill="#FA0000"/>
<path d="M473.2,1053.0C474.4,1052.1 484.1,1051.8 487.0,1051.8C489.9,1051.8 500.2,1052.4 502.0,1053.0C503.8,1053.6 505.8,1057.4 504.5,1058.0C503.2,1058.6 492.4,1059.0 489.5,1059.2C486.6,1059.5 477.4,1061.6 475.8,1061.0C474.1,1060.4 472.1,1053.9 473.2,1053.0Z" fill="#FFD26E"/>
<path d="M482.0,1054.2C482.8,1053.8 490.8,1052.8 492.0,1053.0C493.2,1053.2 495.2,1056.2 494.5,1056.8C493.8,1057.2 485.8,1058.2 484.5,1058.0C483.2,1057.8 481.2,1054.8 482.0,1054.2Z" fill="#FA0000"/>
<path d="M494.5,1048.0C495.3,1044.7 502.4,1041.3 507.0,1038.0C511.6,1034.7 518.2,1030.9 522.0,1028.0C525.8,1025.1 527.6,1019.7 529.5,1020.5C531.4,1021.3 531.6,1029.2 533.2,1033.0C534.9,1036.8 538.0,1039.2 539.5,1043.0C541.0,1046.8 542.4,1051.3 542.0,1055.5C541.6,1059.7 539.5,1064.7 537.0,1068.0C534.5,1071.3 530.3,1073.0 527.0,1075.5C523.7,1078.0 520.3,1081.8 517.0,1083.0C513.7,1084.2 509.9,1084.7 507.0,1083.0C504.1,1081.3 501.2,1075.9 499.5,1073.0C497.8,1070.1 496.6,1068.0 497.0,1065.5C497.4,1063.0 502.4,1060.9 502.0,1058.0C501.6,1055.1 493.7,1051.3 494.5,1048.0Z" fill="#E1FFFF"/>
<path d="M494.5,1049.2C496.2,1047.2 502.8,1043.4 507.0,1040.5C511.2,1037.6 516.2,1034.2 519.5,1031.8C522.8,1029.2 525.3,1024.5 527.0,1025.5C528.7,1026.5 528.2,1033.8 529.5,1038.0C530.8,1042.2 533.9,1046.8 534.5,1050.5C535.1,1054.2 534.9,1057.6 533.2,1060.5C531.6,1063.4 526.8,1065.9 524.5,1068.0C522.2,1070.1 521.6,1071.1 519.5,1073.0C517.4,1074.9 514.5,1078.4 512.0,1079.2C509.5,1080.1 506.4,1079.9 504.5,1078.0C502.6,1076.1 500.3,1070.5 500.8,1068.0C501.2,1065.5 506.4,1065.1 507.0,1063.0C507.6,1060.9 506.2,1057.2 504.5,1055.5C502.8,1053.8 498.7,1054.0 497.0,1053.0C495.3,1052.0 492.8,1051.3 494.5,1049.2Z" fill="#50A5F5"/>
<path d="M582.0,1048.0C582.8,1046.8 587.4,1052.2 589.5,1055.5C591.6,1058.8 592.4,1064.2 594.5,1068.0C596.6,1071.8 598.2,1075.5 602.0,1078.0C605.8,1080.5 614.3,1080.9 617.0,1083.0C619.7,1085.1 620.8,1088.8 618.2,1090.5C615.8,1092.2 606.4,1093.4 602.0,1093.0C597.6,1092.6 594.5,1090.5 592.0,1088.0C589.5,1085.5 588.2,1082.2 587.0,1078.0C585.8,1073.8 585.3,1068.0 584.5,1063.0C583.7,1058.0 581.2,1049.2 582.0,1048.0Z" fill="#E1FFFF"/>
<path d="M589.0,1059.2C589.2,1058.5 591.7,1059.1 592.5,1060.5C593.3,1061.9 596.3,1071.5 597.0,1073.0C597.7,1074.5 599.8,1075.3 599.5,1075.5C599.2,1075.7 595.4,1075.8 594.5,1075.0C593.6,1074.2 591.3,1069.6 590.8,1068.0C590.2,1066.4 588.8,1060.0 589.0,1059.2Z" fill="#50A5F5"/>
<path d="M459.5,1143.0C459.9,1138.0 464.1,1131.3 467.0,1128.0C469.9,1124.7 473.7,1123.4 477.0,1123.0C480.3,1122.6 484.1,1125.5 487.0,1125.5C489.9,1125.5 492.4,1120.1 494.5,1123.0C496.6,1125.9 498.7,1137.2 499.5,1143.0C500.3,1148.8 486.6,1155.5 499.5,1158.0C512.4,1160.5 561.6,1159.2 577.0,1158.0C592.4,1156.8 586.2,1152.2 592.0,1150.5C597.8,1148.8 606.2,1148.0 612.0,1148.0C617.8,1148.0 622.8,1148.8 627.0,1150.5C631.2,1152.2 636.2,1155.1 637.0,1158.0C637.8,1160.9 633.7,1164.7 632.0,1168.0C630.3,1171.3 629.5,1175.5 627.0,1178.0C624.5,1180.5 621.2,1181.8 617.0,1183.0C612.8,1184.2 607.8,1185.5 602.0,1185.5C596.2,1185.5 588.7,1183.8 582.0,1183.0C575.3,1182.2 567.8,1180.9 562.0,1180.5C556.2,1180.1 551.2,1179.2 547.0,1180.5C542.8,1181.8 540.3,1185.9 537.0,1188.0C533.7,1190.1 531.2,1193.0 527.0,1193.0C522.8,1193.0 516.2,1190.5 512.0,1188.0C507.8,1185.5 504.1,1177.2 502.0,1178.0C499.9,1178.8 500.3,1188.6 499.5,1193.0C498.7,1197.4 497.0,1204.2 497.0,1204.2C497.0,1204.2 447.0,1204.2 447.0,1204.2C447.0,1204.2 455.3,1196.5 459.5,1193.0C463.7,1189.5 468.2,1186.3 472.0,1183.0C475.8,1179.7 481.2,1176.3 482.0,1173.0C482.8,1169.7 479.9,1165.5 477.0,1163.0C474.1,1160.5 467.4,1161.3 464.5,1158.0C461.6,1154.7 459.1,1148.0 459.5,1143.0Z" fill="#E1FFFF"/>
<path d="M502.0,1088.0C503.2,1085.5 509.5,1088.4 512.0,1090.5C514.5,1092.6 517.0,1097.6 517.0,1100.5C517.0,1103.4 514.1,1107.2 512.0,1108.0C509.9,1108.8 506.2,1108.8 504.5,1105.5C502.8,1102.2 500.8,1090.5 502.0,1088.0Z" fill="#E1FFFF"/>
<path d="M502.0,1125.5C504.5,1120.9 513.2,1125.9 517.0,1128.0C520.8,1130.1 522.8,1134.7 524.5,1138.0C526.2,1141.3 528.2,1145.1 527.0,1148.0C525.8,1150.9 521.2,1154.2 517.0,1155.5C512.8,1156.8 504.5,1160.5 502.0,1155.5C499.5,1150.5 499.5,1130.1 502.0,1125.5Z" fill="#E1FFFF"/>
<path d="M484.5,1143.0C485.8,1140.5 492.4,1138.8 494.5,1140.5C496.6,1142.2 498.2,1150.5 497.0,1153.0C495.8,1155.5 489.1,1157.2 487.0,1155.5C484.9,1153.8 483.2,1145.5 484.5,1143.0Z" fill="#FFFFFF"/>
<path d="M470.8,1196.8L474.5,1195.5L474.5,1201.8L471.5,1201.8Z" fill="#50A5F5"/>
<path d="M609.5,1068.0C608.9,1063.0 610.3,1050.5 613.2,1043.0C616.2,1035.5 622.2,1028.4 627.0,1023.0C631.8,1017.6 637.2,1013.2 642.0,1010.5C646.8,1007.8 651.2,1003.0 655.8,1006.8C660.3,1010.5 664.7,1025.3 669.5,1033.0C674.3,1040.7 681.4,1044.7 684.5,1053.0C687.6,1061.3 689.5,1074.2 688.2,1083.0C687.0,1091.8 681.8,1100.9 677.0,1105.5C672.2,1110.1 662.6,1111.3 659.5,1110.5C656.4,1109.7 658.2,1103.8 658.2,1100.5C658.2,1097.2 659.7,1094.2 659.5,1090.5C659.3,1086.8 658.7,1081.8 657.0,1078.0C655.3,1074.2 652.8,1069.9 649.5,1068.0C646.2,1066.1 641.6,1066.8 637.0,1066.8C632.4,1066.8 625.3,1067.0 622.0,1068.0C618.7,1069.0 619.1,1073.0 617.0,1073.0C614.9,1073.0 610.1,1073.0 609.5,1068.0Z" fill="#FFD26E"/>
<path d="M535.8,1115.5C536.2,1112.8 536.8,1108.4 539.5,1105.5C542.2,1102.6 548.2,1099.7 552.0,1098.0C555.8,1096.3 558.7,1095.3 562.0,1095.5C565.3,1095.7 568.7,1097.6 572.0,1099.2C575.3,1100.9 577.0,1104.0 582.0,1105.5C587.0,1107.0 594.5,1107.6 602.0,1108.0C609.5,1108.4 619.5,1108.4 627.0,1108.0C634.5,1107.6 641.6,1106.8 647.0,1105.5C652.4,1104.2 654.5,1100.5 659.5,1100.5C664.5,1100.5 674.1,1098.4 677.0,1105.5C679.9,1112.6 681.2,1137.2 677.0,1143.0C672.8,1148.8 658.7,1141.5 652.0,1140.5C645.3,1139.5 641.2,1138.0 637.0,1136.8C632.8,1135.5 630.3,1134.2 627.0,1133.0C623.7,1131.8 621.2,1129.7 617.0,1129.2C612.8,1128.8 607.0,1130.3 602.0,1130.5C597.0,1130.7 592.0,1130.3 587.0,1130.5C582.0,1130.7 577.0,1131.8 572.0,1131.8C567.0,1131.8 561.6,1131.3 557.0,1130.5C552.4,1129.7 547.8,1128.2 544.5,1126.8C541.2,1125.3 538.5,1123.6 537.0,1121.8C535.5,1119.9 535.3,1118.2 535.8,1115.5Z" fill="#FFD26E"/>
<path d="M627.0,1133.0C621.7,1133.0 634.3,1140.3 637.0,1143.0C639.7,1145.7 644.7,1150.7 647.0,1153.0C649.3,1155.3 652.2,1158.5 654.5,1160.5C656.8,1162.5 661.5,1165.7 664.5,1168.0C667.5,1170.3 673.3,1176.0 677.0,1178.0C680.7,1180.0 687.3,1182.0 692.0,1183.0C696.7,1184.0 707.3,1184.2 712.0,1185.5C716.7,1186.8 723.3,1191.0 727.0,1193.0C730.7,1195.0 737.2,1199.0 739.5,1200.5C741.8,1202.0 744.5,1204.2 744.5,1204.2C744.5,1204.2 757.0,1204.2 757.0,1204.2C757.0,1204.2 757.0,1143.0 757.0,1143.0C757.0,1143.0 694.3,1144.3 677.0,1143.0C659.7,1141.7 632.3,1133.0 627.0,1133.0Z" fill="#FFD26E"/>
<path d="M614.5,1045.5C616.3,1041.8 623.3,1029.8 627.0,1025.5C630.7,1021.2 638.3,1015.2 642.0,1013.0C645.7,1010.8 651.2,1006.6 654.5,1009.2C657.8,1011.9 664.0,1028.8 667.0,1033.0C670.0,1037.2 674.8,1037.8 677.0,1040.5C679.2,1043.2 681.9,1049.3 683.2,1053.0C684.6,1056.7 686.8,1064.0 687.0,1068.0C687.2,1072.0 685.8,1081.7 684.5,1083.0C683.2,1084.3 679.0,1080.0 677.0,1078.0C675.0,1076.0 671.8,1070.7 669.5,1068.0C667.2,1065.3 662.2,1060.3 659.5,1058.0C656.8,1055.7 652.5,1052.2 649.5,1050.5C646.5,1048.8 640.0,1045.8 637.0,1045.5C634.0,1045.2 629.3,1046.7 627.0,1048.0C624.7,1049.3 621.3,1054.8 619.5,1055.5C617.7,1056.2 613.9,1054.3 613.2,1053.0C612.6,1051.7 612.7,1049.2 614.5,1045.5Z" fill="#FA0000"/>
<path d="M567.0,1115.5C568.0,1114.7 574.0,1113.2 577.0,1113.0C580.0,1112.8 586.2,1113.4 589.5,1114.2C592.8,1115.1 601.7,1118.2 602.0,1119.2C602.3,1120.2 595.3,1121.6 592.0,1121.8C588.7,1121.9 580.0,1120.8 577.0,1120.5C574.0,1120.2 570.8,1119.9 569.5,1119.2C568.2,1118.6 566.0,1116.3 567.0,1115.5Z" fill="#FA0000"/>
<path d="M623.2,1124.2C624.6,1122.6 633.2,1118.4 637.0,1116.8C640.8,1115.1 648.0,1113.1 652.0,1111.8C656.0,1110.4 663.7,1108.2 667.0,1106.8C670.3,1105.2 665.0,1101.3 677.0,1100.5C689.0,1099.7 757.0,1100.5 757.0,1100.5C757.0,1100.5 757.0,1204.2 757.0,1204.2C757.0,1204.2 752.0,1204.2 752.0,1204.2C752.0,1204.2 742.8,1195.5 739.5,1193.0C736.2,1190.5 730.7,1187.5 727.0,1185.5C723.3,1183.5 716.0,1179.7 712.0,1178.0C708.0,1176.3 701.0,1174.3 697.0,1173.0C693.0,1171.7 685.7,1169.7 682.0,1168.0C678.3,1166.3 672.5,1162.5 669.5,1160.5C666.5,1158.5 662.2,1155.3 659.5,1153.0C656.8,1150.7 652.5,1145.5 649.5,1143.0C646.5,1140.5 640.0,1136.1 637.0,1134.2C634.0,1132.4 628.8,1130.6 627.0,1129.2C625.2,1127.9 621.9,1125.9 623.2,1124.2Z" fill="#FA0000"/>
<path d="M672.0,1123.0C672.8,1120.9 677.8,1118.8 682.0,1118.0C686.2,1117.2 692.0,1117.2 697.0,1118.0C702.0,1118.8 707.0,1120.5 712.0,1123.0C717.0,1125.5 724.5,1128.0 727.0,1133.0C729.5,1138.0 728.7,1150.1 727.0,1153.0C725.3,1155.9 721.2,1151.8 717.0,1150.5C712.8,1149.2 706.6,1147.6 702.0,1145.5C697.4,1143.4 693.7,1140.5 689.5,1138.0C685.3,1135.5 679.9,1133.0 677.0,1130.5C674.1,1128.0 671.2,1125.1 672.0,1123.0Z" fill="#C80000"/>
<path d="M712.0,1146.8C713.0,1146.2 723.1,1145.1 724.5,1145.5C725.9,1145.9 726.8,1150.0 725.8,1150.5C724.8,1151.0 715.9,1150.9 714.5,1150.5C713.1,1150.1 711.0,1147.2 712.0,1146.8Z" fill="#690000"/>
<path d="M685.8,1053.0C686.8,1051.0 697.1,1051.8 699.5,1053.0C701.9,1054.2 707.2,1065.0 709.5,1065.5C711.8,1066.0 720.5,1060.2 722.0,1058.0C723.5,1055.8 725.5,1046.5 724.5,1043.0C723.5,1039.5 712.8,1026.0 712.0,1023.0C711.2,1020.0 712.5,1015.0 717.0,1013.0C721.5,1011.0 757.0,1003.0 757.0,1003.0C757.0,1003.0 757.0,1100.5 757.0,1100.5C757.0,1100.5 707.8,1101.8 702.0,1100.5C696.2,1099.2 700.8,1090.8 699.5,1088.0C698.2,1085.2 690.9,1076.5 689.5,1073.0C688.1,1069.5 684.8,1055.0 685.8,1053.0Z" fill="#FA0000"/>
<path d="M712.0,1018.0C712.7,1015.3 721.0,1014.7 727.0,1013.0C733.0,1011.3 757.0,1005.5 757.0,1005.5C757.0,1005.5 757.0,1068.0 757.0,1068.0C757.0,1068.0 749.7,1071.7 747.0,1073.0C744.3,1074.3 739.7,1076.7 737.0,1078.0C734.3,1079.3 729.0,1083.0 727.0,1083.0C725.0,1083.0 722.0,1080.0 722.0,1078.0C722.0,1076.0 726.7,1072.0 727.0,1068.0C727.3,1064.0 725.2,1052.7 724.5,1048.0C723.8,1043.3 723.7,1037.0 722.0,1033.0C720.3,1029.0 711.3,1020.7 712.0,1018.0Z" fill="#C80000"/>
<path d="M707.0,1083.0C709.9,1080.5 722.0,1078.0 727.0,1078.0C732.0,1078.0 736.2,1080.5 737.0,1083.0C737.8,1085.5 735.3,1090.1 732.0,1093.0C728.7,1095.9 720.8,1100.5 717.0,1100.5C713.2,1100.5 711.2,1095.9 709.5,1093.0C707.8,1090.1 704.1,1085.5 707.0,1083.0Z" fill="#C80000"/>
<path d="M689.5,1060.5C689.9,1059.8 695.0,1059.8 695.8,1060.5C696.5,1061.2 697.4,1067.2 697.0,1068.0C696.6,1068.8 692.8,1068.8 692.0,1068.0C691.2,1067.2 689.1,1061.2 689.5,1060.5Z" fill="#FFD26E"/>
<path d="M677.0,1190.5C678.7,1189.0 688.7,1191.7 692.0,1193.0C695.3,1194.3 700.7,1199.0 702.0,1200.5C703.3,1202.0 702.0,1204.2 702.0,1204.2C702.0,1204.2 679.5,1204.2 679.5,1204.2C679.5,1204.2 675.3,1192.0 677.0,1190.5Z" fill="#E1FFFF"/>
<path d="M687.0,1198.0C687.9,1197.2 695.8,1196.2 697.0,1196.8C698.2,1197.2 700.4,1202.2 699.5,1203.0C698.6,1203.8 688.2,1204.2 688.2,1204.2C688.2,1204.2 686.1,1198.8 687.0,1198.0Z" fill="#50A5F5"/>
<path d="M747.0,928.0L1132.0,928.0L1132.0,1204.2L747.0,1204.2Z" fill="#FA0000"/>
<path d="M747.0,928.0C747.0,928.0 1132.0,928.0 1132.0,928.0C1132.0,928.0 1132.0,978.0 1132.0,978.0C1132.0,978.0 1111.2,981.8 1102.0,983.0C1092.8,984.2 1085.3,984.7 1077.0,985.5C1068.7,986.3 1060.3,987.4 1052.0,988.0C1043.7,988.6 1035.3,989.2 1027.0,989.2C1018.7,989.2 1009.5,988.0 1002.0,988.0C994.5,988.0 987.8,989.2 982.0,989.2C976.2,989.2 972.8,987.8 967.0,988.0C961.2,988.2 953.7,989.7 947.0,990.5C940.3,991.3 932.8,992.2 927.0,993.0C921.2,993.8 917.0,994.2 912.0,995.5C907.0,996.8 902.0,999.2 897.0,1000.5C892.0,1001.8 887.0,1002.4 882.0,1003.0C877.0,1003.6 872.0,1003.8 867.0,1004.2C862.0,1004.7 857.0,1004.0 852.0,1005.5C847.0,1007.0 842.0,1010.9 837.0,1013.0C832.0,1015.1 827.0,1016.8 822.0,1018.0C817.0,1019.2 811.6,1019.2 807.0,1020.5C802.4,1021.8 797.8,1023.4 794.5,1025.5C791.2,1027.6 789.9,1032.4 787.0,1033.0C784.1,1033.6 779.9,1030.9 777.0,1029.2C774.1,1027.6 772.0,1023.2 769.5,1023.0C767.0,1022.8 763.7,1024.7 762.0,1028.0C760.3,1031.3 759.5,1037.2 759.5,1043.0C759.5,1048.8 762.4,1058.0 762.0,1063.0C761.6,1068.0 759.5,1070.9 757.0,1073.0C754.5,1075.1 747.0,1075.5 747.0,1075.5C747.0,1075.5 747.0,928.0 747.0,928.0Z" fill="#C80000"/>
<path d="M759.5,930.5C762.2,927.2 778.3,928.8 782.0,930.5C785.7,932.2 787.0,940.0 787.0,943.0C787.0,946.0 783.7,951.0 782.0,953.0C780.3,955.0 775.3,955.0 774.5,958.0C773.7,961.0 776.8,972.8 775.8,975.5C774.8,978.2 768.8,980.7 767.0,978.0C765.2,975.3 763.0,961.8 762.0,955.5C761.0,949.2 756.8,933.8 759.5,930.5Z" fill="#FA0000"/>
<path d="M857.0,928.0C857.0,928.0 854.5,938.0 857.0,940.5C859.5,943.0 866.2,942.2 872.0,943.0C877.8,943.8 885.3,944.2 892.0,945.5C898.7,946.8 907.8,948.0 912.0,950.5C916.2,953.0 913.7,959.2 917.0,960.5C920.3,961.8 926.2,959.2 932.0,958.0C937.8,956.8 945.3,953.4 952.0,953.0C958.7,952.6 967.8,954.2 972.0,955.5C976.2,956.8 973.7,960.5 977.0,960.5C980.3,960.5 986.2,956.8 992.0,955.5C997.8,954.2 1007.8,951.8 1012.0,953.0C1016.2,954.2 1013.7,961.8 1017.0,963.0C1020.3,964.2 1026.2,960.5 1032.0,960.5C1037.8,960.5 1046.2,962.2 1052.0,963.0C1057.8,963.8 1062.0,965.3 1067.0,965.5C1072.0,965.7 1076.2,964.9 1082.0,964.2C1087.8,963.6 1096.2,962.8 1102.0,961.8C1107.8,960.7 1112.0,959.0 1117.0,958.0C1122.0,957.0 1132.0,955.5 1132.0,955.5C1132.0,955.5 1132.0,928.0 1132.0,928.0C1132.0,928.0 857.0,928.0 857.0,928.0Z" fill="#690000"/>
<path d="M904.5,928.0C904.5,928.0 937.0,928.0 937.0,928.0C937.0,928.0 934.9,932.8 932.0,934.2C929.1,935.7 923.2,936.8 919.5,936.8C915.8,936.8 912.0,935.7 909.5,934.2C907.0,932.8 904.5,928.0 904.5,928.0Z" fill="#AAAAAA"/>
<path d="M862.0,928.0C862.0,928.0 877.0,928.0 877.0,928.0C877.0,928.0 880.3,934.9 879.5,936.8C878.7,938.6 874.5,939.7 872.0,939.2C869.5,938.8 866.2,936.1 864.5,934.2C862.8,932.4 862.0,928.0 862.0,928.0Z" fill="#AAAAAA"/>
<path d="M789.5,928.5C789.5,928.5 800.8,928.5 800.8,928.5C800.8,928.5 800.4,937.3 799.5,938.0C798.6,938.7 793.0,936.5 792.0,935.5C791.0,934.5 789.5,928.5 789.5,928.5Z" fill="#AAAAAA"/>
<path d="M800.8,954.2C801.2,953.0 809.4,949.4 810.8,949.2C812.1,949.1 815.0,951.8 814.5,953.0C814.0,954.2 807.1,961.6 805.8,961.8C804.4,961.9 800.2,955.5 800.8,954.2Z" fill="#AAAAAA"/>
<path d="M802.0,1100.5C802.8,1097.6 812.0,1095.1 817.0,1093.0C822.0,1090.9 828.2,1090.5 832.0,1088.0C835.8,1085.5 837.0,1081.3 839.5,1078.0C842.0,1074.7 844.1,1071.8 847.0,1068.0C849.9,1064.2 854.1,1059.2 857.0,1055.5C859.9,1051.8 862.8,1048.8 864.5,1045.5C866.2,1042.2 864.9,1038.4 867.0,1035.5C869.1,1032.6 872.8,1030.1 877.0,1028.0C881.2,1025.9 887.0,1025.1 892.0,1023.0C897.0,1020.9 902.0,1017.8 907.0,1015.5C912.0,1013.2 917.8,1010.7 922.0,1009.2C926.2,1007.8 928.7,1006.3 932.0,1006.8C935.3,1007.2 937.8,1011.1 942.0,1011.8C946.2,1012.4 952.0,1009.9 957.0,1010.5C962.0,1011.1 967.0,1014.2 972.0,1015.5C977.0,1016.8 982.0,1017.8 987.0,1018.0C992.0,1018.2 996.2,1016.5 1002.0,1016.8C1007.8,1017.0 1016.2,1019.0 1022.0,1019.2C1027.8,1019.5 1032.4,1019.0 1037.0,1018.0C1041.6,1017.0 1046.6,1014.7 1049.5,1013.0C1052.4,1011.3 1050.8,1009.7 1054.5,1008.0C1058.2,1006.3 1065.8,1004.5 1072.0,1003.0C1078.2,1001.5 1085.3,1000.5 1092.0,999.2C1098.7,998.0 1105.3,997.0 1112.0,995.5C1118.7,994.0 1132.0,990.5 1132.0,990.5C1132.0,990.5 1132.0,1204.2 1132.0,1204.2C1132.0,1204.2 1114.5,1204.2 1114.5,1204.2C1114.5,1204.2 1108.2,1203.0 1102.0,1201.8C1095.8,1200.5 1085.3,1198.4 1077.0,1196.8C1068.7,1195.1 1060.3,1193.6 1052.0,1191.8C1043.7,1189.9 1035.3,1187.6 1027.0,1185.5C1018.7,1183.4 1010.3,1181.5 1002.0,1179.2C993.7,1177.0 985.3,1174.5 977.0,1171.8C968.7,1169.0 960.3,1165.9 952.0,1163.0C943.7,1160.1 935.3,1157.4 927.0,1154.2C918.7,1151.1 908.7,1146.8 902.0,1144.2C895.3,1141.8 892.0,1140.9 887.0,1139.2C882.0,1137.6 877.8,1136.1 872.0,1134.2C866.2,1132.4 859.5,1130.7 852.0,1128.0C844.5,1125.3 833.7,1120.9 827.0,1118.0C820.3,1115.1 816.2,1113.4 812.0,1110.5C807.8,1107.6 801.2,1103.4 802.0,1100.5Z" fill="#FFD26E"/>
<path d="M814.5,1106.8C814.5,1105.5 823.7,1106.5 827.0,1105.5C830.3,1104.5 830.3,1102.2 834.5,1100.5C838.7,1098.8 845.8,1096.8 852.0,1095.5C858.2,1094.2 866.2,1093.8 872.0,1093.0C877.8,1092.2 883.7,1091.5 887.0,1090.5C890.3,1089.5 892.8,1088.4 892.0,1086.8C891.2,1085.1 884.7,1082.8 882.0,1080.5C879.3,1078.2 876.6,1075.5 875.8,1073.0C874.9,1070.5 875.1,1067.6 877.0,1065.5C878.9,1063.4 882.8,1062.2 887.0,1060.5C891.2,1058.8 897.0,1057.6 902.0,1055.5C907.0,1053.4 912.0,1050.1 917.0,1048.0C922.0,1045.9 926.2,1044.5 932.0,1043.0C937.8,1041.5 945.3,1040.5 952.0,1039.2C958.7,1038.0 965.3,1036.5 972.0,1035.5C978.7,1034.5 985.3,1034.0 992.0,1033.0C998.7,1032.0 1005.3,1030.5 1012.0,1029.2C1018.7,1028.0 1025.3,1026.8 1032.0,1025.5C1038.7,1024.2 1045.3,1022.8 1052.0,1021.8C1058.7,1020.7 1066.0,1019.7 1072.0,1019.2C1078.0,1018.8 1086.2,1020.3 1088.2,1019.2C1090.3,1018.2 1086.8,1014.7 1084.5,1013.0C1082.2,1011.3 1075.8,1010.5 1074.5,1009.2C1073.2,1008.0 1074.1,1006.7 1077.0,1005.5C1079.9,1004.3 1086.2,1003.4 1092.0,1002.2C1097.8,1001.1 1105.3,1000.0 1112.0,998.5C1118.7,997.0 1132.0,993.5 1132.0,993.5C1132.0,993.5 1132.0,1201.8 1132.0,1201.8C1132.0,1201.8 1111.2,1198.4 1102.0,1196.8C1092.8,1195.1 1085.3,1193.4 1077.0,1191.8C1068.7,1190.1 1060.3,1188.6 1052.0,1186.8C1043.7,1184.9 1035.3,1182.6 1027.0,1180.5C1018.7,1178.4 1010.3,1176.5 1002.0,1174.2C993.7,1172.0 985.3,1169.5 977.0,1166.8C968.7,1164.0 960.3,1160.7 952.0,1158.0C943.7,1155.3 935.3,1153.4 927.0,1150.5C918.7,1147.6 909.5,1143.4 902.0,1140.5C894.5,1137.6 888.7,1135.5 882.0,1133.0C875.3,1130.5 867.0,1127.2 862.0,1125.5C857.0,1123.8 857.8,1125.1 852.0,1123.0C846.2,1120.9 833.2,1115.7 827.0,1113.0C820.8,1110.3 814.5,1108.0 814.5,1106.8Z" fill="#FFFFFF"/>
<path d="M877.0,1113.0C876.2,1110.9 878.7,1109.5 882.0,1108.0C885.3,1106.5 891.2,1105.5 897.0,1104.2C902.8,1103.0 910.3,1101.8 917.0,1100.5C923.7,1099.2 930.3,1098.0 937.0,1096.8C943.7,1095.5 950.3,1093.8 957.0,1093.0C963.7,1092.2 969.5,1092.2 977.0,1091.8C984.5,1091.3 992.8,1091.1 1002.0,1090.5C1011.2,1089.9 1023.7,1088.6 1032.0,1088.0C1040.3,1087.4 1044.5,1087.6 1052.0,1086.8C1059.5,1085.9 1070.8,1084.5 1077.0,1083.0C1083.2,1081.5 1087.4,1080.3 1089.5,1078.0C1091.6,1075.7 1086.6,1071.3 1089.5,1069.2C1092.4,1067.2 1099.9,1067.4 1107.0,1065.5C1114.1,1063.6 1132.0,1058.0 1132.0,1058.0C1132.0,1058.0 1132.0,1191.8 1132.0,1191.8C1132.0,1191.8 1111.2,1187.6 1102.0,1185.5C1092.8,1183.4 1085.3,1181.3 1077.0,1179.2C1068.7,1177.2 1060.3,1175.3 1052.0,1173.0C1043.7,1170.7 1035.3,1168.0 1027.0,1165.5C1018.7,1163.0 1009.5,1160.3 1002.0,1158.0C994.5,1155.7 988.7,1153.8 982.0,1151.8C975.3,1149.7 968.7,1147.6 962.0,1145.5C955.3,1143.4 948.7,1141.3 942.0,1139.2C935.3,1137.2 928.7,1135.1 922.0,1133.0C915.3,1130.9 907.8,1128.8 902.0,1126.8C896.2,1124.7 891.2,1122.8 887.0,1120.5C882.8,1118.2 877.8,1115.1 877.0,1113.0Z" fill="#E1FFFF"/>
<path d="M899.5,1116.8C899.5,1115.1 902.4,1114.2 907.0,1113.0C911.6,1111.8 921.2,1110.3 927.0,1109.2C932.8,1108.2 937.0,1107.8 942.0,1106.8C947.0,1105.7 953.2,1102.8 957.0,1103.0C960.8,1103.2 961.2,1107.6 964.5,1108.0C967.8,1108.4 973.2,1105.5 977.0,1105.5C980.8,1105.5 982.8,1107.0 987.0,1108.0C991.2,1109.0 997.0,1110.7 1002.0,1111.8C1007.0,1112.8 1012.0,1113.4 1017.0,1114.2C1022.0,1115.1 1026.2,1116.1 1032.0,1116.8C1037.8,1117.4 1044.5,1117.4 1052.0,1118.0C1059.5,1118.6 1068.7,1119.9 1077.0,1120.5C1085.3,1121.1 1092.8,1121.3 1102.0,1121.8C1111.2,1122.2 1132.0,1123.0 1132.0,1123.0C1132.0,1123.0 1132.0,1180.5 1132.0,1180.5C1132.0,1180.5 1111.2,1176.3 1102.0,1174.2C1092.8,1172.2 1085.3,1170.1 1077.0,1168.0C1068.7,1165.9 1060.3,1163.8 1052.0,1161.8C1043.7,1159.7 1035.3,1157.6 1027.0,1155.5C1018.7,1153.4 1009.5,1151.3 1002.0,1149.2C994.5,1147.2 988.7,1144.9 982.0,1143.0C975.3,1141.1 968.7,1139.7 962.0,1138.0C955.3,1136.3 948.7,1134.7 942.0,1133.0C935.3,1131.3 927.8,1129.7 922.0,1128.0C916.2,1126.3 910.8,1124.9 907.0,1123.0C903.2,1121.1 899.5,1118.4 899.5,1116.8Z" fill="#50A5F5"/>
<path d="M1039.5,1099.2C1041.2,1098.3 1047.0,1097.6 1052.0,1096.8C1057.0,1095.9 1065.1,1094.2 1069.5,1094.2C1073.9,1094.2 1077.8,1095.5 1078.2,1096.8C1078.7,1098.0 1075.5,1100.9 1072.0,1101.8C1068.5,1102.6 1062.0,1101.6 1057.0,1101.8C1052.0,1101.9 1044.9,1102.9 1042.0,1102.5C1039.1,1102.1 1037.8,1100.2 1039.5,1099.2Z" fill="#50A5F5"/>
<path d="M767.0,1113.0C772.8,1109.7 777.0,1108.4 782.0,1108.0C787.0,1107.6 792.4,1108.8 797.0,1110.5C801.6,1112.2 806.6,1114.7 809.5,1118.0C812.4,1121.3 811.6,1128.0 814.5,1130.5C817.4,1133.0 823.2,1130.9 827.0,1133.0C830.8,1135.1 832.8,1140.5 837.0,1143.0C841.2,1145.5 847.0,1146.3 852.0,1148.0C857.0,1149.7 862.0,1153.0 867.0,1153.0C872.0,1153.0 877.8,1149.7 882.0,1148.0C886.2,1146.3 887.8,1142.6 892.0,1143.0C896.2,1143.4 901.2,1147.6 907.0,1150.5C912.8,1153.4 920.3,1157.6 927.0,1160.5C933.7,1163.4 940.3,1165.5 947.0,1168.0C953.7,1170.5 960.3,1173.0 967.0,1175.5C973.7,1178.0 980.3,1180.5 987.0,1183.0C993.7,1185.5 1001.2,1188.0 1007.0,1190.5C1012.8,1193.0 1020.3,1195.7 1022.0,1198.0C1023.7,1200.3 1017.0,1204.2 1017.0,1204.2C1017.0,1204.2 872.0,1204.2 872.0,1204.2C872.0,1204.2 868.7,1192.4 867.0,1188.0C865.3,1183.6 864.5,1180.5 862.0,1178.0C859.5,1175.5 855.3,1175.5 852.0,1173.0C848.7,1170.5 846.2,1164.2 842.0,1163.0C837.8,1161.8 832.0,1164.7 827.0,1165.5C822.0,1166.3 816.2,1168.4 812.0,1168.0C807.8,1167.6 805.8,1164.7 802.0,1163.0C798.2,1161.3 793.7,1159.7 789.5,1158.0C785.3,1156.3 781.6,1154.7 777.0,1153.0C772.4,1151.3 767.0,1149.2 762.0,1148.0C757.0,1146.8 747.0,1145.5 747.0,1145.5C747.0,1145.5 747.0,1128.0 747.0,1128.0C747.0,1128.0 761.2,1116.3 767.0,1113.0Z" fill="#C80000"/>
<path d="M747.0,1193.0C747.0,1193.0 758.7,1196.9 762.0,1196.8C765.3,1196.6 768.7,1194.6 772.0,1191.8C775.3,1188.9 783.7,1178.7 787.0,1175.5C790.3,1172.3 795.0,1168.5 797.0,1168.0C799.0,1167.5 802.7,1170.1 802.0,1171.8C801.3,1173.4 795.0,1177.3 792.0,1180.5C789.0,1183.7 782.8,1192.7 779.5,1195.5C776.2,1198.3 771.3,1200.8 767.0,1201.8C762.7,1202.8 747.0,1203.0 747.0,1203.0C747.0,1203.0 747.0,1193.0 747.0,1193.0Z" fill="#FFD26E"/>
<path d="M827.0,1168.0C827.3,1166.3 834.3,1164.8 837.0,1165.5C839.7,1166.2 846.0,1171.0 847.0,1173.0C848.0,1175.0 846.2,1179.8 844.5,1180.5C842.8,1181.2 836.8,1179.7 834.5,1178.0C832.2,1176.3 826.7,1169.7 827.0,1168.0Z" fill="#FFD26E"/>
<path d="M829.5,1175.5C830.2,1174.8 837.8,1178.8 839.5,1180.5C841.2,1182.2 842.7,1187.3 842.0,1188.0C841.3,1188.7 836.2,1187.2 834.5,1185.5C832.8,1183.8 828.8,1176.2 829.5,1175.5Z" fill="#E1FFFF"/>
<path d="M1120.0,1053.0C1120.0,1053.0 1134.7,1051.8 1140.0,1051.8C1145.3,1051.8 1155.3,1053.2 1160.0,1053.0C1164.7,1052.8 1170.3,1050.2 1175.0,1050.5C1179.7,1050.8 1189.7,1054.2 1195.0,1055.5C1200.3,1056.8 1209.7,1059.2 1215.0,1060.5C1220.3,1061.8 1229.7,1064.5 1235.0,1065.5C1240.3,1066.5 1249.7,1067.7 1255.0,1068.0C1260.3,1068.3 1269.7,1068.3 1275.0,1068.0C1280.3,1067.7 1289.7,1065.5 1295.0,1065.5C1300.3,1065.5 1309.7,1067.7 1315.0,1068.0C1320.3,1068.3 1330.3,1067.3 1335.0,1068.0C1339.7,1068.7 1346.0,1071.7 1350.0,1073.0C1354.0,1074.3 1361.7,1076.3 1365.0,1078.0C1368.3,1079.7 1371.7,1083.5 1375.0,1085.5C1378.3,1087.5 1388.0,1088.7 1390.0,1093.0C1392.0,1097.3 1392.0,1112.7 1390.0,1118.0C1388.0,1123.3 1370.3,1121.5 1375.0,1133.0C1379.7,1144.5 1425.0,1204.2 1425.0,1204.2C1425.0,1204.2 1120.0,1204.2 1120.0,1204.2C1120.0,1204.2 1120.0,1053.0 1120.0,1053.0Z" fill="#E1FFFF"/>
<path d="M1120.0,1093.0C1120.0,1093.0 1133.3,1095.5 1140.0,1095.5C1146.7,1095.5 1153.3,1093.8 1160.0,1093.0C1166.7,1092.2 1173.3,1090.9 1180.0,1090.5C1186.7,1090.1 1193.3,1090.9 1200.0,1090.5C1206.7,1090.1 1213.3,1088.0 1220.0,1088.0C1226.7,1088.0 1233.3,1090.1 1240.0,1090.5C1246.7,1090.9 1254.2,1090.1 1260.0,1090.5C1265.8,1090.9 1273.3,1091.8 1275.0,1093.0C1276.7,1094.2 1273.3,1097.4 1270.0,1098.0C1266.7,1098.6 1260.0,1096.5 1255.0,1096.8C1250.0,1097.0 1245.0,1099.0 1240.0,1099.2C1235.0,1099.5 1230.8,1097.8 1225.0,1098.0C1219.2,1098.2 1210.8,1099.7 1205.0,1100.5C1199.2,1101.3 1195.8,1102.8 1190.0,1103.0C1184.2,1103.2 1176.7,1101.8 1170.0,1101.8C1163.3,1101.8 1156.7,1103.2 1150.0,1103.0C1143.3,1102.8 1135.0,1100.9 1130.0,1100.5C1125.0,1100.1 1120.0,1100.5 1120.0,1100.5C1120.0,1100.5 1120.0,1093.0 1120.0,1093.0Z" fill="#FFFFFF"/>
<path d="M1175.0,1113.0C1176.7,1111.5 1185.8,1110.5 1190.0,1110.5C1194.2,1110.5 1199.2,1111.8 1200.0,1113.0C1200.8,1114.2 1198.3,1117.0 1195.0,1118.0C1191.7,1119.0 1183.3,1120.1 1180.0,1119.2C1176.7,1118.4 1173.3,1114.5 1175.0,1113.0Z" fill="#FFFFFF"/>
<path d="M1317.5,1103.0C1319.2,1103.4 1327.1,1100.5 1332.5,1100.5C1337.9,1100.5 1344.6,1101.8 1350.0,1103.0C1355.4,1104.2 1360.8,1106.8 1365.0,1108.0C1369.2,1109.2 1372.9,1111.3 1375.0,1110.5C1377.1,1109.7 1376.2,1106.3 1377.5,1103.0C1378.8,1099.7 1382.9,1093.8 1382.5,1090.5C1382.1,1087.2 1377.5,1084.2 1375.0,1083.0C1372.5,1081.8 1370.0,1081.8 1367.5,1083.0C1365.0,1084.2 1362.9,1088.4 1360.0,1090.5C1357.1,1092.6 1354.2,1094.5 1350.0,1095.5C1345.8,1096.5 1339.6,1096.3 1335.0,1096.8C1330.4,1097.2 1325.4,1097.0 1322.5,1098.0C1319.6,1099.0 1315.8,1102.6 1317.5,1103.0Z" fill="#FFFFFF"/>
<path d="M1217.5,1068.0C1218.3,1067.0 1224.2,1065.3 1227.5,1065.5C1230.8,1065.7 1236.7,1068.0 1237.5,1069.2C1238.3,1070.5 1235.0,1072.6 1232.5,1073.0C1230.0,1073.4 1225.0,1072.6 1222.5,1071.8C1220.0,1070.9 1216.7,1069.0 1217.5,1068.0Z" fill="#50A5F5"/>
<path d="M1326.2,1090.5C1326.6,1090.2 1330.3,1091.5 1332.5,1090.5C1334.7,1089.5 1340.2,1084.2 1342.5,1083.0C1344.8,1081.8 1348.8,1081.4 1350.0,1081.8C1351.2,1082.1 1351.9,1084.2 1351.2,1085.5C1350.6,1086.8 1346.8,1090.6 1345.0,1091.8C1343.2,1092.9 1339.5,1094.1 1337.5,1094.2C1335.5,1094.4 1331.5,1093.5 1330.0,1093.0C1328.5,1092.5 1325.9,1090.8 1326.2,1090.5Z" fill="#50A5F5"/>
<path d="M1120.0,1123.0C1120.0,1123.0 1142.7,1128.2 1150.0,1129.2C1157.3,1130.2 1168.3,1130.5 1175.0,1130.5C1181.7,1130.5 1193.3,1129.6 1200.0,1129.2C1206.7,1128.9 1218.3,1128.5 1225.0,1128.0C1231.7,1127.5 1243.3,1126.3 1250.0,1125.5C1256.7,1124.7 1268.3,1122.6 1275.0,1121.8C1281.7,1120.9 1293.3,1119.9 1300.0,1119.2C1306.7,1118.6 1319.7,1117.6 1325.0,1116.8C1330.3,1115.9 1336.7,1112.8 1340.0,1113.0C1343.3,1113.2 1346.7,1117.2 1350.0,1118.0C1353.3,1118.8 1361.7,1119.2 1365.0,1119.2C1368.3,1119.2 1373.3,1118.0 1375.0,1118.0C1376.7,1118.0 1370.8,1107.8 1377.5,1119.2C1384.2,1130.8 1425.0,1204.2 1425.0,1204.2C1425.0,1204.2 1175.0,1204.2 1175.0,1204.2C1175.0,1204.2 1164.7,1200.8 1160.0,1199.2C1155.3,1197.8 1145.3,1194.7 1140.0,1193.0C1134.7,1191.3 1120.0,1186.8 1120.0,1186.8C1120.0,1186.8 1120.0,1123.0 1120.0,1123.0Z" fill="#50A5F5"/>
<path d="M1120.0,1193.0L1140.0,1198.0L1152.5,1204.2L1120.0,1204.2Z" fill="#FFFFFF"/>
<path d="M1120.0,1198.5L1132.5,1200.5L1137.5,1204.2L1120.0,1204.2Z" fill="#FFD26E"/>
<path d="M1297.5,1140.5C1299.4,1138.2 1305.4,1134.9 1310.0,1133.0C1314.6,1131.1 1320.0,1129.7 1325.0,1129.2C1330.0,1128.8 1335.0,1129.9 1340.0,1130.5C1345.0,1131.1 1350.4,1131.5 1355.0,1133.0C1359.6,1134.5 1364.2,1137.2 1367.5,1139.2C1370.8,1141.3 1372.1,1141.5 1375.0,1145.5C1377.9,1149.5 1380.8,1157.2 1385.0,1163.0C1389.2,1168.8 1395.0,1175.5 1400.0,1180.5C1405.0,1185.5 1412.1,1189.0 1415.0,1193.0C1417.9,1197.0 1417.5,1204.2 1417.5,1204.2C1417.5,1204.2 1380.0,1204.2 1380.0,1204.2C1380.0,1204.2 1370.0,1196.5 1365.0,1193.0C1360.0,1189.5 1355.0,1186.8 1350.0,1183.0C1345.0,1179.2 1340.0,1174.2 1335.0,1170.5C1330.0,1166.8 1325.0,1163.4 1320.0,1160.5C1315.0,1157.6 1308.5,1155.3 1305.0,1153.0C1301.5,1150.7 1300.0,1148.8 1298.8,1146.8C1297.5,1144.7 1295.6,1142.8 1297.5,1140.5Z" fill="#1964D2"/>
<path d="M1270.0,1173.0C1270.8,1171.3 1275.8,1169.5 1280.0,1169.2C1284.2,1169.0 1290.0,1171.1 1295.0,1171.8C1300.0,1172.4 1306.7,1171.5 1310.0,1173.0C1313.3,1174.5 1315.8,1178.4 1315.0,1180.5C1314.2,1182.6 1309.2,1185.1 1305.0,1185.5C1300.8,1185.9 1295.0,1184.0 1290.0,1183.0C1285.0,1182.0 1278.3,1180.9 1275.0,1179.2C1271.7,1177.6 1269.2,1174.7 1270.0,1173.0Z" fill="#1964D2"/>
<path d="M1243.8,1190.5C1243.9,1189.5 1246.6,1187.5 1248.8,1188.0C1250.9,1188.5 1258.8,1192.9 1260.0,1194.2C1261.2,1195.6 1259.2,1197.8 1257.5,1198.0C1255.8,1198.2 1249.3,1196.5 1247.5,1195.5C1245.7,1194.5 1243.6,1191.5 1243.8,1190.5Z" fill="#1964D2"/>
<path d="M1385.0,1170.5L1388.0,1170.5L1395.5,1183.0L1392.5,1184.2Z" fill="#2432FA"/>
<path d="M1120.0,928.0C1120.0,928.0 1205.0,928.0 1205.0,928.0C1205.0,928.0 1202.5,933.8 1200.0,938.0C1197.5,942.2 1190.0,949.7 1190.0,953.0C1190.0,956.3 1197.1,955.9 1200.0,958.0C1202.9,960.1 1207.1,963.0 1207.5,965.5C1207.9,968.0 1205.8,971.3 1202.5,973.0C1199.2,974.7 1192.1,974.5 1187.5,975.5C1182.9,976.5 1179.6,977.9 1175.0,979.2C1170.4,980.6 1165.0,982.0 1160.0,983.5C1155.0,985.0 1150.0,986.7 1145.0,988.0C1140.0,989.3 1134.2,990.5 1130.0,991.5C1125.8,992.5 1120.0,994.0 1120.0,994.0C1120.0,994.0 1120.0,928.0 1120.0,928.0Z" fill="#FFD26E"/>
<path d="M1120.0,928.0C1120.0,928.0 1200.0,928.0 1200.0,928.0C1200.0,928.0 1195.0,938.0 1195.0,943.0C1195.0,948.0 1199.6,953.8 1200.0,958.0C1200.4,962.2 1200.0,965.9 1197.5,968.0C1195.0,970.1 1188.8,969.2 1185.0,970.5C1181.2,971.8 1179.2,974.0 1175.0,975.5C1170.8,977.0 1165.0,977.9 1160.0,979.2C1155.0,980.6 1150.0,982.0 1145.0,983.5C1140.0,985.0 1134.2,986.8 1130.0,988.0C1125.8,989.2 1120.0,990.5 1120.0,990.5C1120.0,990.5 1120.0,928.0 1120.0,928.0Z" fill="#FA0000"/>
<path d="M1120.0,928.0C1120.0,928.0 1185.0,928.0 1185.0,928.0C1185.0,928.0 1184.6,936.8 1182.5,940.5C1180.4,944.2 1175.0,947.2 1172.5,950.5C1170.0,953.8 1170.4,958.0 1167.5,960.5C1164.6,963.0 1159.6,963.8 1155.0,965.5C1150.4,967.2 1145.0,969.0 1140.0,970.5C1135.0,972.0 1125.0,974.2 1125.0,974.2C1125.0,974.2 1120.0,975.5 1120.0,975.5C1120.0,975.5 1120.0,928.0 1120.0,928.0Z" fill="#C80000"/>
<path d="M1120.0,928.0C1120.0,928.0 1142.5,928.0 1142.5,928.0C1142.5,928.0 1145.0,936.8 1143.8,940.5C1142.5,944.2 1138.1,948.0 1135.0,950.5C1131.9,953.0 1125.0,955.5 1125.0,955.5C1125.0,955.5 1120.0,956.8 1120.0,956.8C1120.0,956.8 1120.0,928.0 1120.0,928.0Z" fill="#690000"/>
<path d="M1203.8,940.5L1207.5,940.5L1207.0,948.0L1203.2,947.5Z" fill="#E1FFFF"/>
<path d="M1207.5,968.0C1208.8,968.0 1208.3,973.4 1211.2,975.5C1214.2,977.6 1221.9,980.5 1225.0,980.5C1228.1,980.5 1228.3,975.5 1230.0,975.5C1231.7,975.5 1232.9,977.6 1235.0,980.5C1237.1,983.4 1239.2,989.7 1242.5,993.0C1245.8,996.3 1251.2,998.8 1255.0,1000.5C1258.8,1002.2 1262.1,1000.9 1265.0,1003.0C1267.9,1005.1 1270.0,1008.8 1272.5,1013.0C1275.0,1017.2 1277.5,1023.0 1280.0,1028.0C1282.5,1033.0 1286.7,1038.4 1287.5,1043.0C1288.3,1047.6 1287.1,1052.6 1285.0,1055.5C1282.9,1058.4 1279.2,1060.1 1275.0,1060.5C1270.8,1060.9 1265.0,1059.2 1260.0,1058.0C1255.0,1056.8 1250.0,1054.2 1245.0,1053.0C1240.0,1051.8 1235.0,1051.3 1230.0,1050.5C1225.0,1049.7 1220.0,1048.8 1215.0,1048.0C1210.0,1047.2 1204.0,1047.2 1200.0,1045.5C1196.0,1043.8 1192.1,1040.9 1191.2,1038.0C1190.4,1035.1 1195.6,1030.9 1195.0,1028.0C1194.4,1025.1 1189.2,1023.0 1187.5,1020.5C1185.8,1018.0 1183.8,1015.5 1185.0,1013.0C1186.2,1010.5 1191.7,1008.0 1195.0,1005.5C1198.3,1003.0 1203.3,1001.3 1205.0,998.0C1206.7,994.7 1205.2,989.2 1205.0,985.5C1204.8,981.8 1203.3,978.4 1203.8,975.5C1204.2,972.6 1206.2,968.0 1207.5,968.0Z" fill="#FFD26E"/>
<path d="M1221.2,1003.0C1222.1,1001.3 1225.6,999.7 1227.5,1000.5C1229.4,1001.3 1232.3,1005.9 1232.5,1008.0C1232.7,1010.1 1230.4,1012.6 1228.8,1013.0C1227.1,1013.4 1223.8,1012.2 1222.5,1010.5C1221.2,1008.8 1220.4,1004.7 1221.2,1003.0Z" fill="#FFFFFF"/>
<path d="M1257.5,1008.0C1257.8,1007.2 1261.5,1008.1 1262.5,1009.2C1263.5,1010.4 1265.3,1015.9 1265.0,1016.8C1264.7,1017.6 1261.0,1016.7 1260.0,1015.5C1259.0,1014.3 1257.2,1008.8 1257.5,1008.0Z" fill="#FFFFFF"/>
<path d="M1200.0,1043.0C1199.6,1041.2 1202.5,1038.0 1205.0,1035.5C1207.5,1033.0 1212.5,1030.1 1215.0,1028.0C1217.5,1025.9 1216.7,1024.2 1220.0,1023.0C1223.3,1021.8 1231.2,1022.2 1235.0,1020.5C1238.8,1018.8 1241.9,1015.5 1242.5,1013.0C1243.1,1010.5 1238.3,1007.4 1238.8,1005.5C1239.2,1003.6 1242.3,1000.9 1245.0,1001.8C1247.7,1002.6 1252.5,1007.0 1255.0,1010.5C1257.5,1014.0 1258.3,1019.7 1260.0,1023.0C1261.7,1026.3 1262.5,1029.7 1265.0,1030.5C1267.5,1031.3 1272.7,1026.8 1275.0,1028.0C1277.3,1029.2 1278.8,1034.2 1278.8,1038.0C1278.8,1041.8 1277.3,1048.0 1275.0,1050.5C1272.7,1053.0 1269.2,1053.4 1265.0,1053.0C1260.8,1052.6 1255.0,1049.2 1250.0,1048.0C1245.0,1046.8 1240.0,1046.1 1235.0,1045.5C1230.0,1044.9 1224.6,1044.2 1220.0,1044.2C1215.4,1044.3 1210.8,1046.2 1207.5,1046.0C1204.2,1045.8 1200.4,1044.8 1200.0,1043.0Z" fill="#FA0000"/>
<path d="M1255.0,983.0C1256.0,983.0 1263.0,988.2 1265.0,990.5C1267.0,992.8 1273.0,1002.2 1275.0,1005.5C1277.0,1008.8 1284.5,1021.0 1285.0,1023.0C1285.5,1025.0 1281.2,1026.5 1280.0,1025.5C1278.8,1024.5 1274.0,1015.5 1272.5,1013.0C1271.0,1010.5 1266.8,1002.8 1265.0,1000.5C1263.2,998.2 1256.0,992.2 1255.0,990.5C1254.0,988.8 1254.0,983.0 1255.0,983.0Z" fill="#FA0000"/>
<path d="M1285.0,1025.5C1286.2,1025.8 1296.5,1033.8 1300.0,1035.5C1303.5,1037.2 1316.0,1041.2 1320.0,1043.0C1324.0,1044.8 1336.2,1050.5 1340.0,1053.0C1343.8,1055.5 1354.0,1065.5 1357.5,1068.0C1361.0,1070.5 1373.5,1076.8 1375.0,1078.0C1376.5,1079.2 1374.5,1081.2 1372.5,1080.5C1370.5,1079.8 1358.8,1073.0 1355.0,1070.5C1351.2,1068.0 1339.0,1057.8 1335.0,1055.5C1331.0,1053.2 1318.5,1049.5 1315.0,1048.0C1311.5,1046.5 1302.8,1042.0 1300.0,1040.5C1297.2,1039.0 1289.0,1034.5 1287.5,1033.0C1286.0,1031.5 1283.8,1025.2 1285.0,1025.5Z" fill="#FFD26E"/>
<path d="M1308.8,1053.0C1309.2,1051.7 1312.8,1048.8 1315.0,1048.0C1317.2,1047.2 1323.3,1046.4 1325.0,1046.8C1326.7,1047.1 1328.2,1049.3 1327.5,1050.5C1326.8,1051.7 1322.2,1054.5 1320.0,1055.5C1317.8,1056.5 1312.8,1058.3 1311.2,1058.0C1309.8,1057.7 1308.2,1054.3 1308.8,1053.0Z" fill="#FFD26E"/>
<path d="M1310.0,975.5L1375.0,973.0L1375.0,998.0L1360.0,1008.0L1350.0,1013.0L1337.5,1018.0L1332.5,1025.5L1320.0,1028.0L1310.0,1013.0Z" fill="#C80000"/>
<path d="M1330.0,978.0C1331.0,977.5 1341.1,976.5 1342.5,976.8C1343.9,977.0 1344.8,980.0 1343.8,980.5C1342.8,981.0 1333.9,982.0 1332.5,981.8C1331.1,981.5 1329.0,978.5 1330.0,978.0Z" fill="#690000"/>
<path d="M1350.0,998.0C1351.3,996.0 1356.7,993.0 1360.0,993.0C1363.3,993.0 1374.3,995.7 1375.0,998.0C1375.7,1000.3 1367.7,1008.2 1365.0,1010.5C1362.3,1012.8 1357.0,1015.8 1355.0,1015.5C1353.0,1015.2 1350.7,1010.3 1350.0,1008.0C1349.3,1005.7 1348.7,1000.0 1350.0,998.0Z" fill="#FA0000"/>
<path d="M1347.5,993.0C1350.5,989.5 1362.8,989.8 1377.5,988.0C1392.2,986.2 1483.2,964.2 1495.0,975.5C1506.8,986.8 1497.0,1089.5 1495.0,1100.5C1493.0,1111.5 1478.5,1088.0 1475.0,1085.5C1471.5,1083.0 1462.5,1077.2 1460.0,1075.5C1457.5,1073.8 1453.5,1069.0 1450.0,1068.0C1446.5,1067.0 1430.0,1066.0 1425.0,1065.5C1420.0,1065.0 1404.0,1062.0 1400.0,1063.0C1396.0,1064.0 1387.5,1073.8 1385.0,1075.5C1382.5,1077.2 1377.0,1081.0 1375.0,1080.5C1373.0,1080.0 1367.5,1074.2 1365.0,1070.5C1362.5,1066.8 1351.8,1047.8 1350.0,1043.0C1348.2,1038.2 1347.8,1028.0 1347.5,1023.0C1347.2,1018.0 1344.5,996.5 1347.5,993.0Z" fill="#FA0000"/>
<path d="M1375.0,968.0C1376.0,962.3 1382.0,957.0 1385.0,953.0C1388.0,949.0 1395.5,941.3 1397.5,938.0C1399.5,934.7 1400.0,928.0 1400.0,928.0C1400.0,928.0 1495.0,928.0 1495.0,928.0C1495.0,928.0 1497.0,975.3 1495.0,983.0C1493.0,990.7 1484.0,984.8 1480.0,985.5C1476.0,986.2 1469.0,987.8 1465.0,988.0C1461.0,988.2 1454.0,986.8 1450.0,986.8C1446.0,986.8 1439.0,987.5 1435.0,988.0C1431.0,988.5 1424.0,990.5 1420.0,990.5C1416.0,990.5 1408.3,987.7 1405.0,988.0C1401.7,988.3 1397.7,991.7 1395.0,993.0C1392.3,994.3 1387.3,997.7 1385.0,998.0C1382.7,998.3 1378.8,999.5 1377.5,995.5C1376.2,991.5 1374.0,973.7 1375.0,968.0Z" fill="#C80000"/>
<path d="M1362.5,1003.0C1363.2,1001.8 1372.0,1000.2 1375.0,1000.5C1378.0,1000.8 1384.3,1004.2 1385.0,1005.5C1385.7,1006.8 1382.0,1010.0 1380.0,1010.5C1378.0,1011.0 1372.3,1010.2 1370.0,1009.2C1367.7,1008.2 1361.8,1004.2 1362.5,1003.0Z" fill="#C80000"/>
<path d="M1355.0,1028.0C1356.0,1026.5 1359.8,1024.4 1362.5,1024.2C1365.2,1024.1 1371.3,1026.8 1375.0,1026.8C1378.7,1026.8 1386.7,1024.6 1390.0,1024.2C1393.3,1023.9 1397.3,1024.6 1400.0,1024.2C1402.7,1023.9 1407.3,1022.4 1410.0,1021.8C1412.7,1021.1 1417.3,1019.9 1420.0,1019.2C1422.7,1018.6 1427.3,1017.4 1430.0,1016.8C1432.7,1016.1 1437.3,1014.9 1440.0,1014.2C1442.7,1013.6 1447.3,1011.8 1450.0,1011.8C1452.7,1011.8 1457.3,1013.2 1460.0,1014.2C1462.7,1015.2 1468.0,1019.6 1470.0,1019.2C1472.0,1018.9 1473.0,1012.9 1475.0,1011.8C1477.0,1010.6 1483.0,1010.5 1485.0,1011.0C1487.0,1011.5 1490.0,1013.2 1490.0,1015.5C1490.0,1017.8 1487.0,1025.7 1485.0,1028.0C1483.0,1030.3 1477.0,1031.0 1475.0,1033.0C1473.0,1035.0 1471.3,1040.3 1470.0,1043.0C1468.7,1045.7 1467.0,1051.7 1465.0,1053.0C1463.0,1054.3 1457.7,1053.7 1455.0,1053.0C1452.3,1052.3 1447.7,1048.0 1445.0,1048.0C1442.3,1048.0 1437.7,1052.0 1435.0,1053.0C1432.3,1054.0 1427.7,1055.8 1425.0,1055.5C1422.3,1055.2 1417.7,1051.5 1415.0,1050.5C1412.3,1049.5 1407.7,1047.7 1405.0,1048.0C1402.3,1048.3 1397.7,1052.3 1395.0,1053.0C1392.3,1053.7 1387.7,1053.3 1385.0,1053.0C1382.3,1052.7 1377.0,1051.8 1375.0,1050.5C1373.0,1049.2 1371.3,1044.7 1370.0,1043.0C1368.7,1041.3 1367.0,1039.0 1365.0,1038.0C1363.0,1037.0 1356.3,1036.8 1355.0,1035.5C1353.7,1034.2 1354.0,1029.5 1355.0,1028.0Z" fill="#FFD26E"/>
<path d="M1402.5,1043.0C1403.5,1042.3 1410.2,1041.4 1412.5,1041.8C1414.8,1042.1 1420.0,1044.7 1420.0,1045.5C1420.0,1046.3 1414.5,1047.8 1412.5,1048.0C1410.5,1048.2 1406.3,1047.4 1405.0,1046.8C1403.7,1046.1 1401.5,1043.7 1402.5,1043.0Z" fill="#FA0000"/>
<path d="M1462.5,1033.0C1463.0,1031.3 1466.2,1028.0 1467.5,1028.0C1468.8,1028.0 1472.2,1031.0 1472.5,1033.0C1472.8,1035.0 1471.2,1042.0 1470.0,1043.0C1468.8,1044.0 1464.8,1041.8 1463.8,1040.5C1462.8,1039.2 1462.0,1034.7 1462.5,1033.0Z" fill="#FA0000"/>
<path d="M1470.0,1078.0C1471.3,1076.0 1491.7,1071.3 1495.0,1073.0C1498.3,1074.7 1496.3,1088.5 1495.0,1090.5C1493.7,1092.5 1488.3,1089.7 1485.0,1088.0C1481.7,1086.3 1468.7,1080.0 1470.0,1078.0Z" fill="#C80000"/>
<path d="M1345.0,1043.0C1344.2,1040.8 1348.0,1039.2 1350.0,1040.5C1352.0,1041.8 1362.2,1052.2 1365.0,1055.5C1367.8,1058.8 1375.5,1070.5 1377.5,1073.0C1379.5,1075.5 1384.8,1079.5 1385.0,1080.5C1385.2,1081.5 1381.5,1083.5 1380.0,1083.0C1378.5,1082.5 1372.2,1077.5 1370.0,1075.5C1367.8,1073.5 1360.0,1066.2 1357.5,1063.0C1355.0,1059.8 1345.8,1045.2 1345.0,1043.0Z" fill="#FA0000"/>
</g>
<use href="#land" fill="none" stroke="#000" stroke-width="4.0" stroke-linejoin="round"/>
<use href="#land" fill="#fff" stroke="none"/>
<path d="M418.6,-11.4L420.5,-2.3L418.6,4.6L418.6,10.0L423.2,12.3L428.2,14.6L434.0,14.6L437.8,12.3L437.1,6.8L434.8,3.2L434.0,-2.3L433.2,-11.4Z" fill="#8200DC" stroke="#000" stroke-width="2"/>
<use href="#small" fill="#000" stroke="#000" stroke-width="1.2" stroke-linejoin="round"/>
<use href="#lakes" fill="none" stroke="#000" stroke-width="2.0" stroke-linejoin="round"/>
<use href="#grid"/>
<rect x="460.9" y="22.8" width="57.6" height="68.4" fill="none" stroke="#000" stroke-width="5.4"/>
<rect x="426.7" y="137.8" width="76.0" height="88.5" fill="none" stroke="#000" stroke-width="5.4"/>
<rect x="576.1" y="182.5" width="76.8" height="45.6" fill="none" stroke="#000" stroke-width="5.4"/>
<rect x="960.1" y="159.7" width="192.0" height="45.6" fill="none" stroke="#000" stroke-width="5.4"/>
</g>
<rect x="0" y="0" width="1421.0" height="273.7" fill="none" stroke="#000" stroke-width="3.0"/>
<path d="M-10.5,0.0H0" stroke="#000" stroke-width="2.8" stroke-linecap="round"/>
<text x="-17.8" y="11.5" font-size="31" text-anchor="end" textLength="51.0" lengthAdjust="spacingAndGlyphs" stroke="#000" stroke-width="0.8">40N</text>
<path d="M-10.5,45.6H0" stroke="#000" stroke-width="2.8" stroke-linecap="round"/>
<text x="-17.8" y="57.1" font-size="31" text-anchor="end" textLength="51.0" lengthAdjust="spacingAndGlyphs" stroke="#000" stroke-width="0.8">30N</text>
<path d="M-10.5,91.2H0" stroke="#000" stroke-width="2.8" stroke-linecap="round"/>
<text x="-17.8" y="102.7" font-size="31" text-anchor="end" textLength="51.0" lengthAdjust="spacingAndGlyphs" stroke="#000" stroke-width="0.8">20N</text>
<path d="M-10.5,136.8H0" stroke="#000" stroke-width="2.8" stroke-linecap="round"/>
<text x="-17.8" y="148.3" font-size="31" text-anchor="end" textLength="51.0" lengthAdjust="spacingAndGlyphs" stroke="#000" stroke-width="0.8">10N</text>
<path d="M-10.5,182.5H0" stroke="#000" stroke-width="2.8" stroke-linecap="round"/>
<text x="-17.8" y="194.0" font-size="31" text-anchor="end" textLength="35.0" lengthAdjust="spacingAndGlyphs" stroke="#000" stroke-width="0.8">EQ</text>
<path d="M-10.5,228.1H0" stroke="#000" stroke-width="2.8" stroke-linecap="round"/>
<text x="-17.8" y="239.6" font-size="31" text-anchor="end" textLength="51.0" lengthAdjust="spacingAndGlyphs" stroke="#000" stroke-width="0.8">10S</text>
<path d="M-10.5,273.7H0" stroke="#000" stroke-width="2.8" stroke-linecap="round"/>
<text x="-17.8" y="285.2" font-size="31" text-anchor="end" textLength="51.0" lengthAdjust="spacingAndGlyphs" stroke="#000" stroke-width="0.8">20S</text>
<path d="M0.0,273.7V283.2" stroke="#000" stroke-width="3" stroke-linecap="round"/>
<text x="0.0" y="309.7" font-size="31" text-anchor="middle" textLength="51.0" lengthAdjust="spacingAndGlyphs" stroke="#000" stroke-width="0.8">60W</text>
<path d="M230.4,273.7V283.2" stroke="#000" stroke-width="3" stroke-linecap="round"/>
<text x="230.4" y="309.7" font-size="31" text-anchor="middle" textLength="14.0" lengthAdjust="spacingAndGlyphs" stroke="#000" stroke-width="0.8">0</text>
<path d="M460.9,273.7V283.2" stroke="#000" stroke-width="3" stroke-linecap="round"/>
<text x="460.9" y="309.7" font-size="31" text-anchor="middle" textLength="49.5" lengthAdjust="spacingAndGlyphs" stroke="#000" stroke-width="0.8">60E</text>
<path d="M691.3,273.7V283.2" stroke="#000" stroke-width="3" stroke-linecap="round"/>
<text x="691.3" y="309.7" font-size="31" text-anchor="middle" textLength="64.5" lengthAdjust="spacingAndGlyphs" stroke="#000" stroke-width="0.8">120E</text>
<path d="M921.7,273.7V283.2" stroke="#000" stroke-width="3" stroke-linecap="round"/>
<text x="921.7" y="309.7" font-size="31" text-anchor="middle" textLength="46.0" lengthAdjust="spacingAndGlyphs" stroke="#000" stroke-width="0.8">180</text>
<path d="M1152.2,273.7V283.2" stroke="#000" stroke-width="3" stroke-linecap="round"/>
<text x="1152.2" y="309.7" font-size="31" text-anchor="middle" textLength="71.5" lengthAdjust="spacingAndGlyphs" stroke="#000" stroke-width="0.8">120W</text>
<path d="M1382.6,273.7V283.2" stroke="#000" stroke-width="3" stroke-linecap="round"/>
<text x="1382.6" y="309.7" font-size="31" text-anchor="middle" textLength="51.0" lengthAdjust="spacingAndGlyphs" stroke="#000" stroke-width="0.8">60W</text>
</g>
<path d="M239.6,1253.3L125.7,1268.5L239.6,1283.7Z" fill="#8200DC" stroke="#000" stroke-width="2.6" stroke-linejoin="round"/>
<path d="M1263.1,1253.3L1379.0,1268.5L1263.1,1283.7Z" fill="#AAAAAA" stroke="#000" stroke-width="2.6" stroke-linejoin="round"/>
<rect x="239.6" y="1253.3" width="113.7" height="30.4" fill="#2432FA" stroke="#000" stroke-width="2.6"/>
<rect x="353.3" y="1253.3" width="113.7" height="30.4" fill="#1964D2" stroke="#000" stroke-width="2.6"/>
<rect x="467.0" y="1253.3" width="113.7" height="30.4" fill="#50A5F5" stroke="#000" stroke-width="2.6"/>
<rect x="580.8" y="1253.3" width="113.7" height="30.4" fill="#E1FFFF" stroke="#000" stroke-width="2.6"/>
<rect x="694.5" y="1253.3" width="113.7" height="30.4" fill="#FFFFFF" stroke="#000" stroke-width="2.6"/>
<rect x="808.2" y="1253.3" width="113.7" height="30.4" fill="#FFD26E" stroke="#000" stroke-width="2.6"/>
<rect x="921.9" y="1253.3" width="113.7" height="30.4" fill="#FA0000" stroke="#000" stroke-width="2.6"/>
<rect x="1035.6" y="1253.3" width="113.7" height="30.4" fill="#C80000" stroke="#000" stroke-width="2.6"/>
<rect x="1149.4" y="1253.3" width="113.7" height="30.4" fill="#690000" stroke="#000" stroke-width="2.6"/>
<text x="239.6" y="1309" font-size="28" text-anchor="middle" textLength="36" lengthAdjust="spacingAndGlyphs" stroke="#000" stroke-width="0.5">−3</text>
<text x="353.3" y="1309" font-size="28" text-anchor="middle" textLength="36" lengthAdjust="spacingAndGlyphs" stroke="#000" stroke-width="0.5">−2</text>
<text x="467.0" y="1309" font-size="28" text-anchor="middle" textLength="34" lengthAdjust="spacingAndGlyphs" stroke="#000" stroke-width="0.5">−1</text>
<text x="580.8" y="1309" font-size="28" text-anchor="middle" textLength="62" lengthAdjust="spacingAndGlyphs" stroke="#000" stroke-width="0.5">−0.5</text>
<text x="694.5" y="1309" font-size="28" text-anchor="middle" textLength="78" lengthAdjust="spacingAndGlyphs" stroke="#000" stroke-width="0.5">−0.25</text>
<text x="808.2" y="1309" font-size="28" text-anchor="middle" textLength="58" lengthAdjust="spacingAndGlyphs" stroke="#000" stroke-width="0.5">0.25</text>
<text x="921.9" y="1309" font-size="28" text-anchor="middle" textLength="42" lengthAdjust="spacingAndGlyphs" stroke="#000" stroke-width="0.5">0.5</text>
<text x="1035.6" y="1309" font-size="28" text-anchor="middle" textLength="12" lengthAdjust="spacingAndGlyphs" stroke="#000" stroke-width="0.5">1</text>
<text x="1149.4" y="1309" font-size="28" text-anchor="middle" textLength="14" lengthAdjust="spacingAndGlyphs" stroke="#000" stroke-width="0.5">2</text>
<text x="1263.1" y="1309" font-size="28" text-anchor="middle" textLength="14" lengthAdjust="spacingAndGlyphs" stroke="#000" stroke-width="0.5">3</text>
</svg></body></html>
